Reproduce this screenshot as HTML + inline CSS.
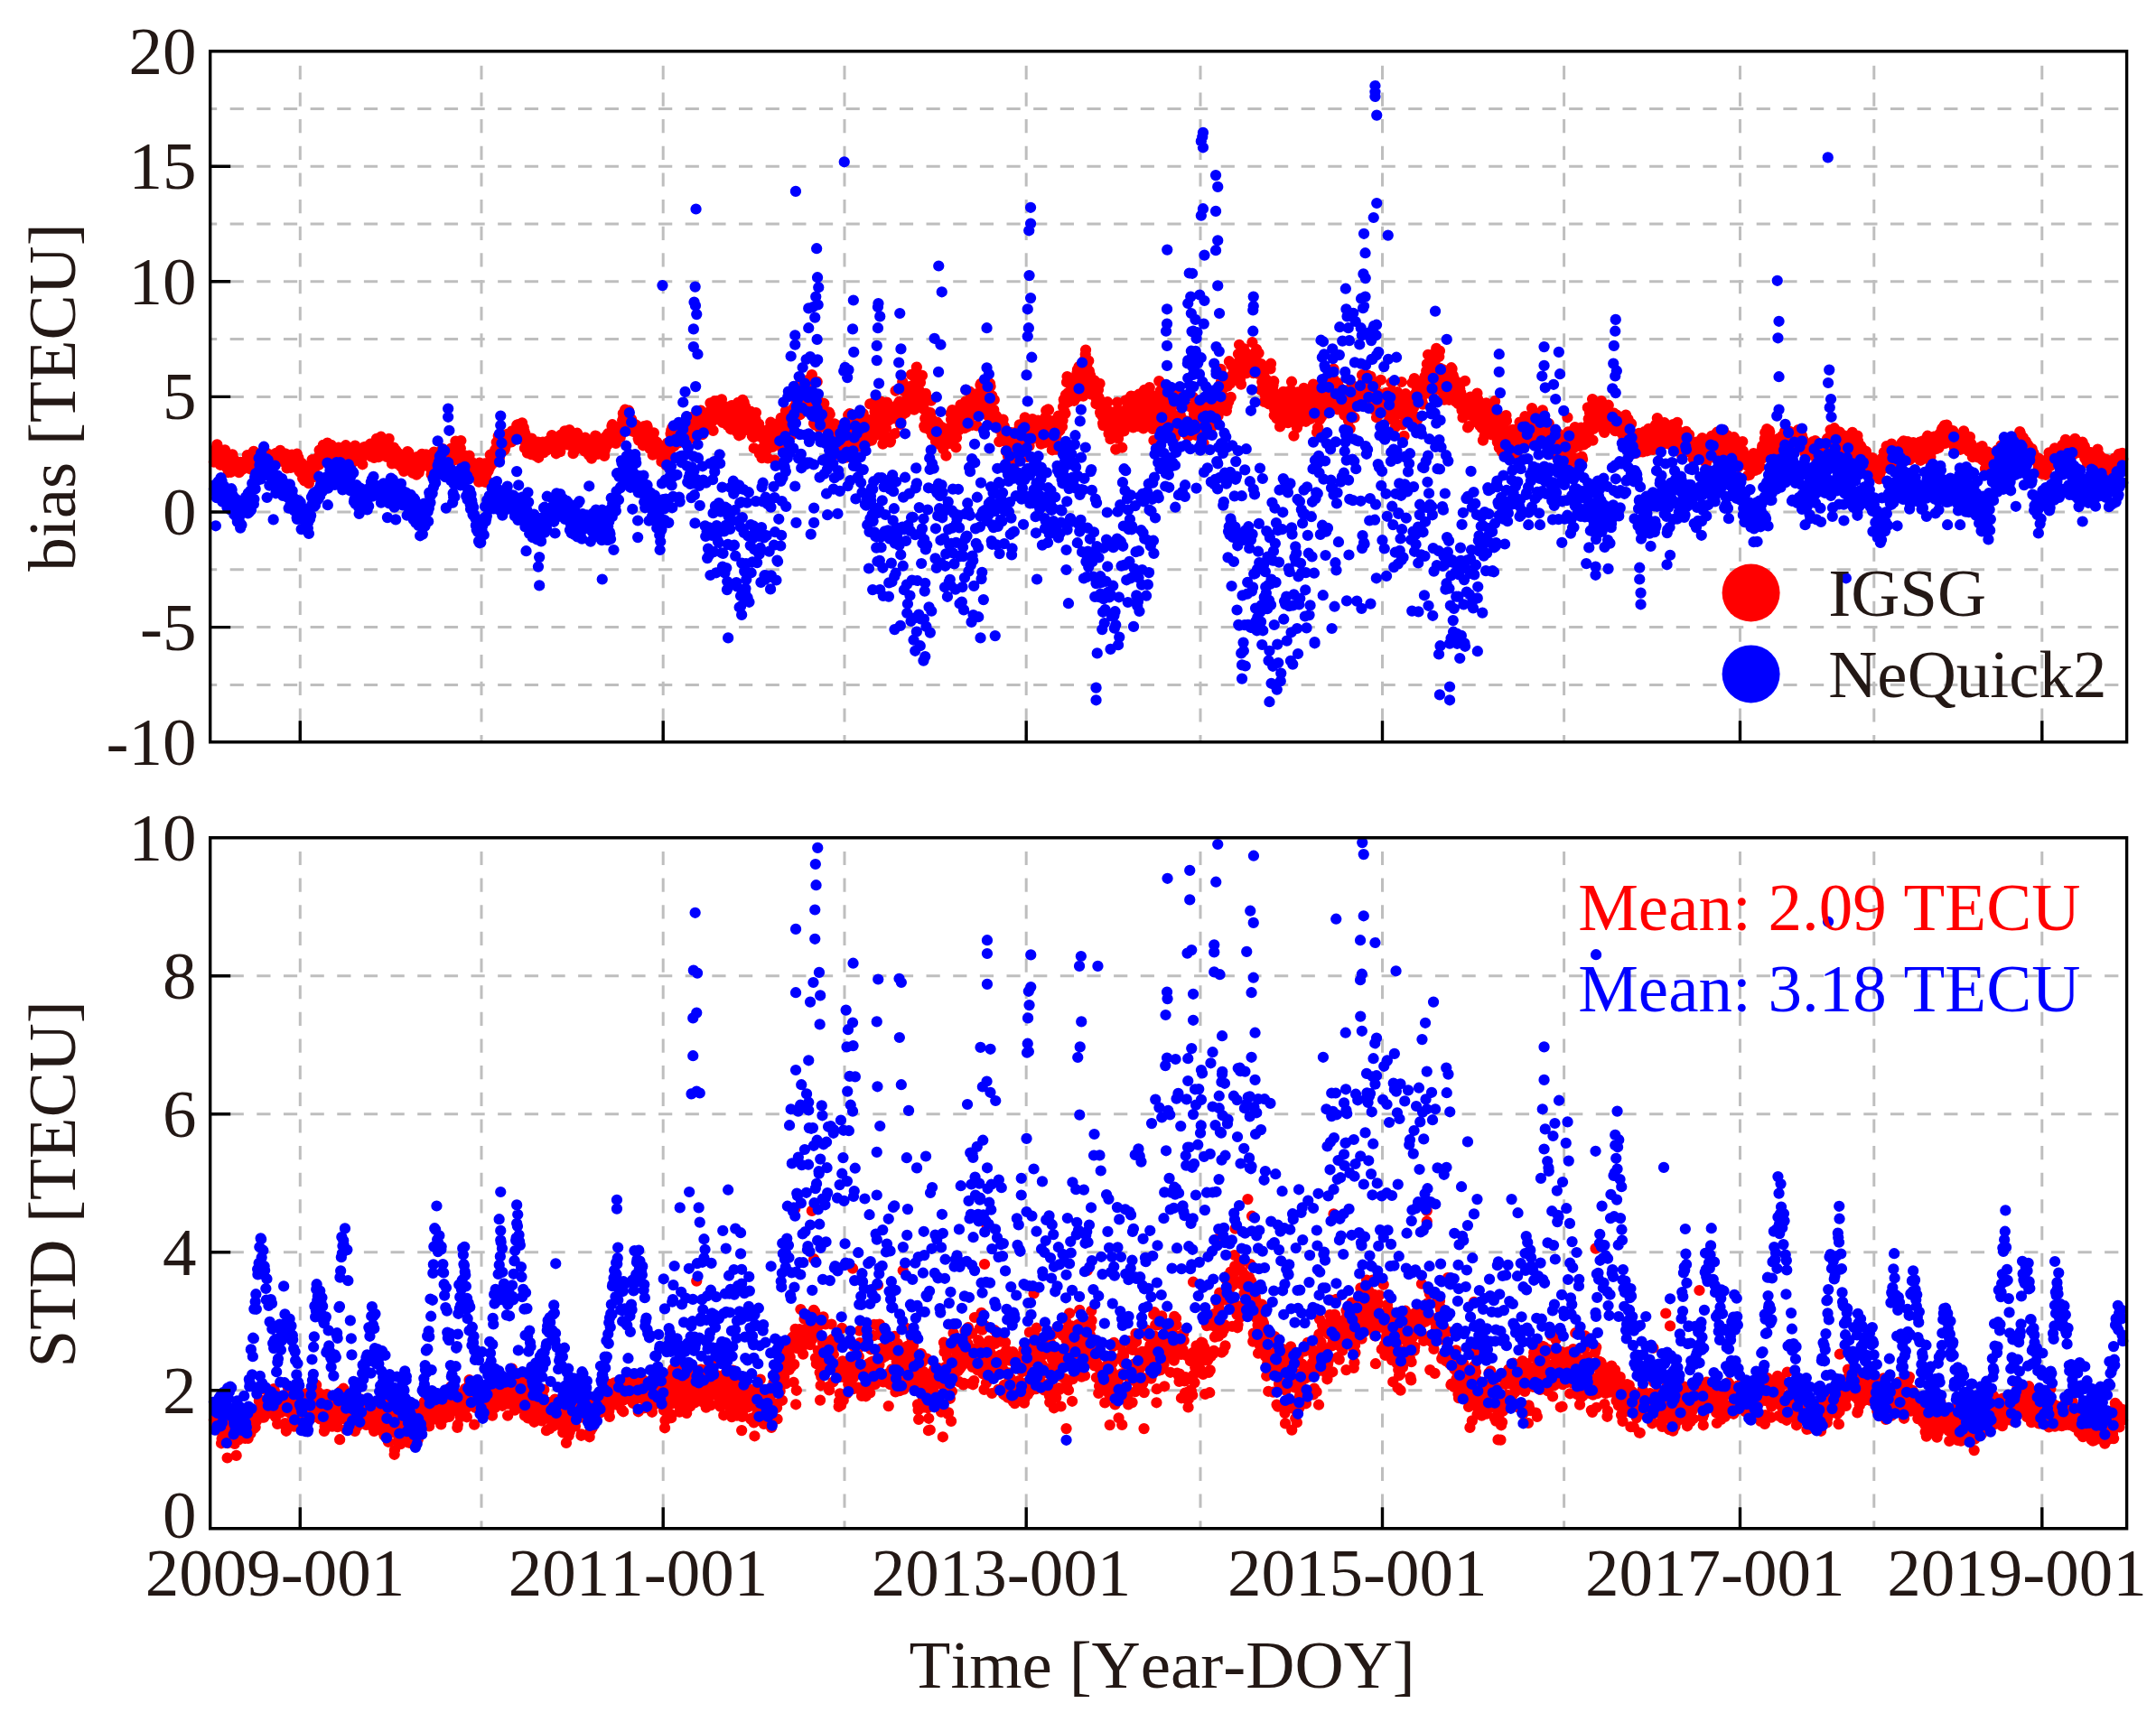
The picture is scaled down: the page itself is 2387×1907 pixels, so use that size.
<!DOCTYPE html>
<html lang="en"><head><meta charset="utf-8"><title>bias and STD time series</title>
<style>html,body{margin:0;padding:0;background:#fff}body{width:2387px;height:1907px;overflow:hidden}svg{display:block}text{font-kerning:none;font-family:"Liberation Serif",serif;font-size:75px;fill:#231815}.g{stroke:#bebebe;stroke-width:3;fill:none;stroke-dasharray:15.2 14.45}.a{stroke:#000;stroke-width:3.4;fill:none}.r{stroke:#f00;stroke-width:12.2;stroke-linecap:round;fill:none}.b{stroke:#00f;stroke-width:12.2;stroke-linecap:round;fill:none}</style></head><body>
<svg width="2387" height="1907" viewBox="0 0 2387 1907">
<rect width="2387" height="1907" fill="#fff"/>
<path class="g" d="M332.3 72.8V821.8M533.0 72.8V821.8M734.2 72.8V821.8M935.0 72.8V821.8M1136.2 72.8V821.8M1329.0 72.8V821.8M1530.5 72.8V821.8M1731.6 72.8V821.8M1926.5 72.8V821.8M2074.8 72.8V821.8M2260.8 72.8V821.8"/>
<path class="g" stroke-dashoffset="7.7" d="M232.7 120.4H2354.6M232.7 184.2H2354.6M232.7 248.0H2354.6M232.7 311.8H2354.6M232.7 375.6H2354.6M232.7 439.4H2354.6M232.7 503.2H2354.6M232.7 567.0H2354.6M232.7 630.8H2354.6M232.7 694.6H2354.6M232.7 758.4H2354.6"/>
<path class="r" d="M236.8 511.7h.1M237.3 505h.1M237.9 504.7h.1M238.4 508.7h.1M239 496.7h.1M239.6 502.3h.1M240.3 492.4h.1M240.8 509h.1M241.6 497.2h.1M241.9 502.6h.1M242.8 503.1h.1M243.1 506.3h.1M243.8 514.8h.1M244.5 504h.1M244.8 513.4h.1M245.8 502.4h.1M246.1 508h.1M246.9 509h.1M247.4 505.8h.1M247.9 501.6h.1M248.6 509.3h.1M249 498.4h.1M249.8 506.7h.1M250.3 517.1h.1M250.8 505.1h.1M251.6 504.3h.1M251.9 515.7h.1M252.8 523.1h.1M253.1 515.6h.1M253.8 519.1h.1M254.3 522h.1M254.8 517.5h.1M255.8 522.8h.1M256.2 511.3h.1M256.8 508.4h.1M257.3 503.3h.1M257.8 506.9h.1M258.6 508.1h.1M259.1 515.6h.1M259.8 513.4h.1M260.3 511.8h.1M260.8 512.7h.1M261.6 514.4h.1M262.1 517.8h.1M262.6 515.3h.1M263.1 515h.1M263.8 518.1h.1M264.6 523.2h.1M264.8 512.1h.1M265.8 514.5h.1M266.3 511.9h.1M266.9 516.9h.1M267.1 513.7h.1M267.8 520.3h.1M268.6 513h.1M269.1 514.4h.1M269.8 514.1h.1M270.2 516.7h.1M270.8 512.8h.1M271.3 511.6h.1M272.1 511.3h.1M272.6 517.4h.1M273.3 510.2h.1M273.8 504h.1M274.3 506.2h.1M275.1 516.2h.1M275.6 518.8h.1M276.2 516.8h.1M276.6 513.7h.1M277.3 504.3h.1M277.9 508.9h.1M278.6 520h.1M279.1 519.2h.1M279.8 514.7h.1M280.3 503.3h.1M280.8 499.8h.1M281.4 509.9h.1M281.9 515.9h.1M282.6 519.8h.1M283.3 508.4h.1M283.6 507.1h.1M284.2 518.9h.1M284.8 522h.1M285.4 519h.1M286.1 515.7h.1M286.8 512.2h.1M287.4 508.2h.1M287.8 513.7h.1M288.3 513.4h.1M289.1 514h.1M289.6 515.6h.1M290.3 510.8h.1M290.8 503.1h.1M291.4 506.4h.1M291.9 499h.1M292.4 504.8h.1M293.2 499.7h.1M293.6 501.2h.1M294.3 514.6h.1M295.1 511.7h.1M295.4 512.7h.1M295.9 502.2h.1M296.8 510.9h.1M297.4 510.1h.1M297.8 506.7h.1M298.3 506.5h.1M299.2 509.8h.1M299.8 509.8h.1M300.1 508.3h.1M300.8 509.6h.1M301.2 508.2h.1M302.1 510.7h.1M302.4 504h.1M303.3 503.1h.1M303.9 515.5h.1M304.3 503h.1M305.1 502.5h.1M305.6 501.8h.1M306.2 507.6h.1M306.8 505.9h.1M307.3 502.5h.1M307.8 503.2h.1M308.3 508.6h.1M309.1 506h.1M309.8 502.2h.1M310.2 498.8h.1M310.9 506.4h.1M311.2 505.1h.1M312.1 510.9h.1M312.6 505.4h.1M313.2 504.4h.1M313.6 507.9h.1M314.2 504.8h.1M315.1 505.8h.1M315.6 502.3h.1M316.1 511.5h.1M316.8 505.1h.1M317.3 503.1h.1M317.6 518.5h.1M318.6 508h.1M318.9 508.4h.1M319.6 508.7h.1M320.1 506h.1M320.6 507.7h.1M321.4 510h.1M321.8 517.9h.1M322.6 515.8h.1M323.1 503.5h.1M323.6 505.7h.1M324.2 507.3h.1M324.8 504.3h.1M325.4 515.5h.1M326.1 512.6h.1M326.6 503.5h.1M327.4 504.5h.1M327.8 511.9h.1M328.6 511h.1M328.8 502.7h.1M329.6 510.1h.1M330.3 506.7h.1M330.6 512.3h.1M331.3 522h.1M331.8 513.8h.1M332.6 523.3h.1M333.1 514.4h.1M333.6 512.6h.1M334.1 523.3h.1M335.1 529.8h.1M335.4 521.8h.1M335.9 530.1h.1M336.4 525.9h.1M337.2 532.5h.1M337.8 524.9h.1M338.6 527.4h.1M338.9 522.9h.1M339.8 516.8h.1M340.2 525.4h.1M340.6 528.3h.1M341.4 525.6h.1M341.8 535.2h.1M342.6 515.4h.1M343.1 519.2h.1M343.8 518.2h.1M344.1 521.1h.1M344.8 516.9h.1M345.6 509h.1M346.1 515.8h.1M346.6 517.5h.1M347.1 512.5h.1M347.8 520.4h.1M348.4 527.9h.1M348.9 514h.1M349.6 515.8h.1M350.1 513.2h.1M350.8 511.5h.1M351.3 512.7h.1M351.9 506.8h.1M352.3 507.7h.1M353.1 514.8h.1M353.6 498.6h.1M354.4 511.2h.1M354.8 501.2h.1M355.6 503.3h.1M355.8 500h.1M356.6 499.7h.1M357.3 499.2h.1M357.8 492.8h.1M358.2 496.3h.1M359.1 496.8h.1M359.6 495.3h.1M360.1 500.3h.1M360.6 494.7h.1M361.2 494.6h.1M361.8 497.9h.1M362.4 490.6h.1M362.9 493.1h.1M363.4 503.8h.1M364.1 509.6h.1M364.8 495.2h.1M365.6 495.7h.1M365.9 496.6h.1M366.6 492.8h.1M367.1 499.2h.1M367.9 503.3h.1M368.4 507.2h.1M368.8 512.5h.1M369.6 497.3h.1M370.1 496.3h.1M370.8 500.5h.1M371.1 497h.1M371.8 506.9h.1M372.6 510.4h.1M373.1 502.5h.1M373.6 499.5h.1M374.3 499.1h.1M374.8 495.6h.1M375.6 498.1h.1M375.9 500.2h.1M376.6 500.1h.1M377.2 514.6h.1M377.8 501.3h.1M378.2 505.4h.1M378.9 500.2h.1M379.6 500.3h.1M380.2 505h.1M380.8 503.3h.1M381.3 507.8h.1M381.8 495.9h.1M382.3 495.1h.1M382.8 493.2h.1M383.4 512.4h.1M384.1 502.5h.1M384.9 500.3h.1M385.2 513.1h.1M386.1 508h.1M386.3 513h.1M387.1 511.5h.1M387.6 509.7h.1M388.2 508.4h.1M388.8 509.3h.1M389.6 500.9h.1M390.2 497.8h.1M390.6 507.2h.1M391.2 511.4h.1M391.9 505.3h.1M392.3 504.7h.1M393.1 493.6h.1M393.6 502h.1M394.2 506.4h.1M394.6 506.1h.1M395.3 501.1h.1M396.1 509h.1M396.4 504.7h.1M396.9 504.7h.1M397.6 506.2h.1M398.2 501.5h.1M398.8 497.2h.1M399.4 497.6h.1M400.1 499.9h.1M400.6 506.9h.1M401.3 514.3h.1M401.8 500.4h.1M402.2 501.8h.1M403.1 495.1h.1M403.6 501.7h.1M404.1 494.8h.1M404.6 502.1h.1M405.2 501.8h.1M406.1 499.4h.1M406.4 499.4h.1M407.1 502.7h.1M407.8 495.6h.1M408.2 497.4h.1M408.9 500.8h.1M409.4 498.8h.1M409.9 491.7h.1M410.6 492.5h.1M411.1 505.7h.1M411.9 503.1h.1M412.4 491.5h.1M413.1 494.7h.1M413.6 499.2h.1M414.1 507h.1M414.8 498h.1M415.3 496h.1M415.8 493h.1M416.4 501.6h.1M416.9 485.9h.1M417.6 488.4h.1M418.2 500.9h.1M418.9 506.1h.1M419.6 497.9h.1M419.9 490.4h.1M420.6 491h.1M421.1 487.6h.1M421.8 483.7h.1M422.2 495.1h.1M422.9 493.2h.1M423.6 499.9h.1M424.2 486h.1M424.6 495.3h.1M425.2 504.6h.1M426.1 499.3h.1M426.6 489.2h.1M427.1 501.8h.1M427.6 498.1h.1M428.2 505.9h.1M428.8 498.5h.1M429.2 500.7h.1M430.1 501.7h.1M430.6 485.9h.1M431.1 501.4h.1M431.8 496.8h.1M432.3 503.2h.1M432.9 506.7h.1M433.6 507.3h.1M433.9 513.4h.1M434.6 502.9h.1M435.2 502.8h.1M435.9 495.5h.1M436.6 500.5h.1M437.1 497.9h.1M437.8 510.5h.1M438.3 498.9h.1M438.8 508.7h.1M439.4 507.7h.1M439.9 513.8h.1M440.6 512.4h.1M441.3 508.7h.1M441.6 502.4h.1M442.4 512.8h.1M442.9 506.7h.1M443.3 506.2h.1M444.2 517h.1M444.6 517.3h.1M445.2 507.8h.1M445.8 510.8h.1M446.4 510.3h.1M447.1 521.9h.1M447.6 506.2h.1M448.3 508.1h.1M448.9 512.6h.1M449.6 518.5h.1M449.8 514.1h.1M450.8 510.6h.1M451.2 500h.1M451.9 507.9h.1M452.4 501.2h.1M452.8 514.6h.1M453.6 510.7h.1M454.1 511.8h.1M454.6 511.9h.1M455.1 517.4h.1M455.8 514.5h.1M456.2 512.8h.1M456.9 523.8h.1M457.6 516.6h.1M458.2 513.6h.1M458.6 514.7h.1M459.6 517.4h.1M460.1 522.1h.1M460.4 520.6h.1M461.1 525.7h.1M461.6 516.2h.1M462.3 505.8h.1M463.1 514h.1M463.6 523.4h.1M463.9 510.2h.1M464.6 513.4h.1M465.3 518.5h.1M465.9 512.8h.1M466.4 503.9h.1M467.1 502.8h.1M467.8 514.1h.1M468.3 510.9h.1M468.6 503.4h.1M469.2 504.8h.1M469.8 511.3h.1M470.4 514.2h.1M471.2 509h.1M471.6 503.4h.1M472.3 513.9h.1M472.8 514.5h.1M473.4 514.5h.1M473.9 509.5h.1M474.4 514.5h.1M475.1 506.4h.1M475.8 513.8h.1M476.2 508.9h.1M476.8 519.1h.1M477.6 525.3h.1M478.1 517.3h.1M478.8 519.2h.1M479.4 517.4h.1M480.1 515.8h.1M480.3 500.7h.1M481.2 518.2h.1M481.8 515.9h.1M482.3 504.4h.1M482.8 502.3h.1M483.6 510.6h.1M483.9 511.6h.1M484.6 505.1h.1M485.2 510.8h.1M485.8 514.6h.1M486.3 500.6h.1M486.8 507.7h.1M487.6 508.8h.1M487.9 507.5h.1M488.8 506.5h.1M489.2 500.7h.1M489.9 497h.1M490.3 508.9h.1M491.2 507.5h.1M491.6 505.7h.1M492.3 511.9h.1M492.8 516.3h.1M493.4 517.3h.1M493.9 507.1h.1M494.8 509.3h.1M495.2 505.7h.1M495.9 513.8h.1M496.3 509.5h.1M497.1 505.3h.1M497.6 504.1h.1M498.1 508.3h.1M498.6 508.1h.1M499.4 496.5h.1M499.9 500.8h.1M500.3 504.6h.1M501.1 510.1h.1M501.6 505.6h.1M502.1 499.4h.1M502.8 507.7h.1M503.2 509.1h.1M503.9 496.2h.1M504.4 488.5h.1M505.2 490.7h.1M505.8 494.4h.1M506.4 494.9h.1M506.9 507.2h.1M507.6 503.8h.1M508.1 503.9h.1M508.6 505.3h.1M509.4 501.7h.1M509.8 496.6h.1M510.3 488h.1M511.1 503.6h.1M511.8 515.2h.1M512.4 513.4h.1M513 515.4h.1M513.6 516.9h.1M514.1 504.3h.1M514.8 505.8h.1M515.2 506h.1M515.6 509.5h.1M516.5 508.4h.1M516.9 512.1h.1M517.5 514.5h.1M518 506.7h.1M518.8 507.1h.1M519.5 504.6h.1M519.9 509h.1M520.6 513.7h.1M521.1 514.9h.1M521.6 514.8h.1M522.2 514h.1M523 516.7h.1M523.2 513.7h.1M524 512.9h.1M524.7 519.1h.1M525.1 525.7h.1M525.8 513.8h.1M526.2 516.3h.1M527 519h.1M527.7 519.8h.1M528.2 524.9h.1M528.7 514.5h.1M529.4 527h.1M530.1 533.7h.1M530.2 519h.1M530.9 512.7h.1M531.7 526.5h.1M532.1 524.9h.1M532.9 529.7h.1M533.5 513.9h.1M533.8 523.9h.1M534.6 519.7h.1M535.2 529.2h.1M535.6 523.7h.1M536.2 513.3h.1M536.8 515.5h.1M537.5 534h.1M537.9 529h.1M538.7 523.5h.1M539.2 523.4h.1M539.8 518.5h.1M540.5 521.5h.1M541.2 517.7h.1M541.5 518.9h.1M542.4 517h.1M542.7 503.7h.1M543.4 506h.1M544.1 503.1h.1M544.5 514.1h.1M545.2 505.7h.1M545.8 506h.1M546.2 506.7h.1M546.9 512.1h.1M547.4 510.4h.1M548.2 498h.1M548.6 505.5h.1M549.1 496.8h.1M549.7 489.7h.1M550.2 502.4h.1M551.1 491.5h.1M551.7 482.7h.1M552.2 498h.1M552.9 506.5h.1M553.4 492.3h.1M553.8 486.5h.1M554.4 486h.1M555.1 491.7h.1M555.9 481.8h.1M556.4 488.9h.1M556.7 495.4h.1M557.6 483.5h.1M557.9 498.6h.1M558.7 497.9h.1M559.4 495.1h.1M559.8 483.8h.1M560.4 482.4h.1M560.9 481h.1M561.6 484.7h.1M562.2 480.6h.1M562.9 486.6h.1M563.5 489.4h.1M563.8 484.2h.1M564.4 486.6h.1M565 479.7h.1M565.9 482.7h.1M566.2 489.5h.1M566.8 477.3h.1M567.5 487.6h.1M568.2 486.1h.1M568.6 483.1h.1M569.2 477.9h.1M569.9 482.5h.1M570.5 479.6h.1M571.1 477.9h.1M571.6 478.8h.1M572.2 470.7h.1M572.7 484.1h.1M573.5 470.1h.1M573.9 477.8h.1M574.6 482.6h.1M575.2 480.8h.1M575.7 485.9h.1M576.2 475.9h.1M576.9 477.6h.1M577.6 481.9h.1M578 468.3h.1M578.5 479.7h.1M579.2 487.2h.1M579.7 473.6h.1M580.4 477.6h.1M580.9 496.3h.1M581.4 480.2h.1M582.2 491.4h.1M582.7 489.6h.1M583.2 492.5h.1M583.9 501.7h.1M584.4 487.3h.1M585.2 501.6h.1M585.6 496.1h.1M586.4 499.3h.1M587 496.7h.1M587.4 497.5h.1M588.1 503.2h.1M588.6 485.5h.1M589 501.5h.1M589.7 499.3h.1M590.2 495.2h.1M591.1 497.1h.1M591.5 491.3h.1M592.1 493.2h.1M592.6 504.5h.1M593.4 493h.1M593.9 493.6h.1M594.4 491.7h.1M595.2 494.7h.1M595.6 489.6h.1M596.1 506.8h.1M596.7 498.1h.1M597.5 498.1h.1M598 501h.1M598.5 495.7h.1M599 497.7h.1M599.7 497.4h.1M600.2 491.8h.1M600.9 489.6h.1M601.4 492.4h.1M602.1 501.1h.1M602.7 495.3h.1M603.2 493.9h.1M603.9 491h.1M604.5 499.2h.1M605 498.3h.1M605.5 491.5h.1M606.1 494.2h.1M606.9 488.3h.1M607.5 489.9h.1M608.1 487.6h.1M608.7 496.6h.1M609.1 487.7h.1M609.7 493.2h.1M610.4 495.5h.1M610.9 482.1h.1M611.4 490.3h.1M612 482.8h.1M612.7 489.4h.1M613.2 498.1h.1M613.7 493.4h.1M614.4 494.5h.1M615 487.5h.1M615.7 502.3h.1M616.1 499.9h.1M616.6 490h.1M617.4 494.5h.1M618.1 494.1h.1M618.6 497.7h.1M619.1 492h.1M619.6 491h.1M620.2 500.1h.1M621 481.5h.1M621.6 488.8h.1M621.9 488.3h.1M622.6 487.2h.1M623.1 486.8h.1M623.7 486.3h.1M624.5 483.4h.1M625.2 477.3h.1M625.7 487.6h.1M626.2 484.2h.1M626.8 482.1h.1M627.4 490.3h.1M628 492.4h.1M628.6 490.9h.1M629.2 490.6h.1M629.6 492.5h.1M630.4 476h.1M630.9 491.3h.1M631.2 490.9h.1M632.1 487.8h.1M632.8 489.7h.1M633.2 480.2h.1M633.7 489.6h.1M634.5 502.2h.1M635 496.9h.1M635.7 499.8h.1M636 496.4h.1M636.8 492.5h.1M637.2 495.7h.1M637.9 490h.1M638.4 482.5h.1M639 479.7h.1M639.8 488.6h.1M640.2 493.8h.1M640.8 493.7h.1M641.2 492.2h.1M642 489.9h.1M642.5 493h.1M643.1 493.3h.1M643.8 496.3h.1M644.2 490.7h.1M644.8 493.3h.1M645.4 486.9h.1M646 488.4h.1M646.8 498.8h.1M647.4 499.7h.1M647.8 484.6h.1M648.4 494.9h.1M649.2 499.3h.1M649.8 498.7h.1M650.4 494.9h.1M650.8 500.9h.1M651.2 491.8h.1M652 503.9h.1M652.7 490.2h.1M653.2 490.1h.1M653.7 488.6h.1M654.2 493.6h.1M654.9 507.7h.1M655.7 492h.1M656.1 493.5h.1M656.6 500.2h.1M657.5 503.4h.1M657.9 490.2h.1M658.5 492.8h.1M659.1 482.6h.1M659.8 482.8h.1M660.2 485h.1M660.8 495h.1M661.5 489.6h.1M661.9 502.8h.1M662.5 495.9h.1M663.2 494.3h.1M663.6 496.8h.1M664.2 498.7h.1M665 493.7h.1M665.5 497.5h.1M666 502h.1M666.5 501.1h.1M667.1 487h.1M667.9 486.8h.1M668.4 497.6h.1M669.1 504.9h.1M669.7 498.5h.1M670.2 496.7h.1M670.7 483.5h.1M671.2 484h.1M672.1 483h.1M672.5 492.6h.1M673.1 480.2h.1M673.7 482.3h.1M674.2 482.6h.1M674.9 483h.1M675.4 486.9h.1M676.2 486.2h.1M676.8 482.3h.1M677.4 471.8h.1M677.9 470.2h.1M678.4 472.4h.1M679.1 483h.1M679.8 484.1h.1M680.2 485.2h.1M680.9 478.3h.1M681.2 485.5h.1M681.8 490.9h.1M682.4 483.9h.1M683.1 474.3h.1M683.6 483.1h.1M684.1 480.9h.1M684.9 482.6h.1M685.2 475.2h.1M686.2 477.6h.1M686.7 484.3h.1M687.1 476.6h.1M687.8 471h.1M688.2 470.8h.1M689.1 465.5h.1M689.8 457.8h.1M690.2 461.8h.1M690.8 473.2h.1M691.2 469h.1M692 453.7h.1M692.6 460h.1M693.1 475.1h.1M693.6 462h.1M694.2 462.6h.1M695 466.5h.1M695.6 460.8h.1M696 454.7h.1M696.6 474.9h.1M697.1 476.6h.1M697.8 465.2h.1M698.5 466.5h.1M699 464.2h.1M699.7 467h.1M700.2 470h.1M700.7 477.8h.1M701.2 473.1h.1M702 473.9h.1M702.6 471.9h.1M703.2 470h.1M703.8 471.6h.1M704.1 470.6h.1M704.9 474.9h.1M705.4 477.9h.1M706 476h.1M706.6 485.8h.1M707.2 487.6h.1M707.8 475.3h.1M708.2 476.8h.1M708.9 481.4h.1M709.7 481.3h.1M710.2 480.6h.1M710.9 482.2h.1M711.2 482.1h.1M711.9 493.3h.1M712.5 488.3h.1M713.1 472.1h.1M713.8 486.5h.1M714.2 487.7h.1M715 477.5h.1M715.4 483.9h.1M716.1 471.4h.1M716.6 472.8h.1M717.1 483.9h.1M717.7 479.8h.1M718.5 481.7h.1M718.9 486h.1M719.5 496.9h.1M720 486.4h.1M720.8 485.9h.1M721.4 494.5h.1M721.8 488.4h.1M722.6 503.7h.1M723.2 495.3h.1M723.8 479.3h.1M724.2 487.2h.1M725 501.2h.1M725.4 496.3h.1M726 492.5h.1M726.6 494.5h.1M727.1 489.5h.1M727.9 492.8h.1M728.5 497.3h.1M728.9 500.1h.1M729.6 499.8h.1M730.2 500.2h.1M730.7 499.6h.1M731.2 500.7h.1M731.9 505.9h.1M732.4 511.2h.1M733 510.6h.1M733.7 511.5h.1M734.1 511.9h.1M734.9 508.5h.1M735.2 502.7h.1M736 506.3h.1M736.5 505.5h.1M737.2 503.5h.1M737.6 515.2h.1M738.4 500.1h.1M738.8 490.5h.1M739.5 496.4h.1M740 504.6h.1M740.8 502.3h.1M741.4 505.3h.1M741.7 501.7h.1M742.5 480.2h.1M743.2 476.6h.1M743.8 491.6h.1M744.2 473.7h.1M744.9 491.4h.1M745.4 480.9h.1M746.1 494.2h.1M746.6 481.3h.1M747 488.2h.1M747.8 485.9h.1M748.4 475.9h.1M749 474.1h.1M749.4 487h.1M750.1 480.3h.1M750.6 475.8h.1M751.2 490.4h.1M751.9 488.4h.1M752.4 481.8h.1M753 476.4h.1M753.5 475.9h.1M754.1 479.8h.1M754.8 475.5h.1M755.2 472.9h.1M756 477.5h.1M756.4 475h.1M757.2 473.4h.1M757.7 487.1h.1M758.2 480.4h.1M759 484.1h.1M759.5 489.5h.1M760.2 478.2h.1M760.7 483.3h.1M761.2 479.3h.1M761.9 468.7h.1M762.6 479.5h.1M762.9 479.1h.1M763.6 477.7h.1M764.2 476.8h.1M764.7 485.5h.1M765.2 485.6h.1M766 462.2h.1M766.5 477.7h.1M767 469.7h.1M767.7 468.6h.1M768.4 465.9h.1M768.8 482h.1M769.6 479.1h.1M770.2 475.7h.1M770.8 471.5h.1M771.4 471h.1M771.9 469h.1M772.2 474.4h.1M772.8 466.2h.1M773.6 463.5h.1M774.1 456.4h.1M774.6 463.5h.1M775.4 464.2h.1M775.8 454.6h.1M776.4 465.1h.1M777.2 464.1h.1M777.6 481.2h.1M778.2 461.7h.1M778.7 465.1h.1M779.5 472.5h.1M780 468.6h.1M780.5 464.1h.1M781.2 472.5h.1M781.9 460.9h.1M782.4 472.1h.1M783 462.3h.1M783.4 459.2h.1M784.2 459.3h.1M784.6 471.4h.1M785.2 462.9h.1M785.7 463.4h.1M786.4 446.3h.1M786.9 454.1h.1M787.7 451.5h.1M788.2 466.9h.1M788.7 461.5h.1M789.5 476.9h.1M789.9 455.7h.1M790.5 455.2h.1M791.2 444.2h.1M791.9 450.8h.1M792.2 463.7h.1M793 458.2h.1M793.5 444.2h.1M794.2 456.9h.1M794.6 464.5h.1M795.2 459.5h.1M795.9 463.8h.1M796.4 455.3h.1M797 450.5h.1M797.7 461.4h.1M798.1 457.1h.1M798.9 442.3h.1M799.4 457.1h.1M800.1 467.9h.1M800.7 457.2h.1M801.1 450.3h.1M801.8 460.2h.1M802.2 458h.1M803 462.8h.1M803.6 458.5h.1M803.9 450.6h.1M804.7 467.7h.1M805.4 459.5h.1M805.7 471.2h.1M806.5 461.3h.1M807 454.3h.1M807.6 458.2h.1M808.2 454.6h.1M809 475.3h.1M809.2 474.8h.1M810 449h.1M810.5 459.1h.1M811.1 461.6h.1M811.9 454.7h.1M812.2 459.8h.1M812.9 464.4h.1M813.4 456.8h.1M814 458.5h.1M814.5 468.3h.1M815.2 471.1h.1M815.8 478.2h.1M816.2 467.3h.1M817.1 445.9h.1M817.5 465.9h.1M818.1 482.3h.1M818.8 472.6h.1M819.2 474.4h.1M819.9 481.4h.1M820.4 457.9h.1M821.2 461.8h.1M821.6 463.5h.1M822.2 442.8h.1M823 454.8h.1M823.6 445.5h.1M824.1 451.2h.1M824.6 451h.1M825.1 450.2h.1M825.8 458.8h.1M826.5 473.9h.1M827 462.5h.1M827.6 466.6h.1M828.2 461h.1M828.8 464h.1M829.2 456.6h.1M830 477.3h.1M830.7 463.7h.1M831 455.7h.1M831.9 473.4h.1M832.1 476.5h.1M832.8 483h.1M833.5 460.1h.1M834.1 484.2h.1M834.7 496.3h.1M835.1 473.2h.1M835.8 468.6h.1M836.5 464.4h.1M836.9 457.1h.1M837.5 474.3h.1M838 474.2h.1M838.6 482.7h.1M839.2 473.3h.1M840.1 469.5h.1M840.4 475.6h.1M840.9 502.4h.1M841.7 500.6h.1M842.1 501.9h.1M843 484.1h.1M843.5 507.1h.1M844.1 496.3h.1M844.7 503.2h.1M845.2 479.5h.1M845.9 480.2h.1M846.6 489.9h.1M846.8 477.1h.1M847.6 491.3h.1M848 487.6h.1M848.6 498.1h.1M849.2 497.8h.1M850 507.5h.1M850.5 481.7h.1M851.1 481.9h.1M851.7 478.5h.1M852.1 474.1h.1M852.7 481.5h.1M853.2 467.7h.1M854.2 491.4h.1M854.7 485.2h.1M855.2 495h.1M855.7 476.3h.1M856.2 473.8h.1M857.1 481.6h.1M857.6 509.5h.1M858.1 473.9h.1M858.8 469.7h.1M859.1 477.9h.1M859.9 481.2h.1M860.5 470h.1M860.9 485.2h.1M861.5 476.5h.1M862.2 483.9h.1M862.9 471.5h.1M863.4 493h.1M864.1 476.4h.1M864.7 462.8h.1M865.2 473.9h.1M865.7 494.8h.1M866.2 497.1h.1M867 480.8h.1M867.4 491.4h.1M868.2 476.8h.1M868.8 484.8h.1M869.4 468.6h.1M869.8 455h.1M870.4 470.6h.1M871.1 475h.1M871.8 459.4h.1M872.2 461.8h.1M872.7 466.4h.1M873.4 457.5h.1M874 456.7h.1M874.5 455.3h.1M875.2 461.5h.1M875.7 466.2h.1M876.2 481.9h.1M877 476.1h.1M877.6 466.6h.1M878.2 452.3h.1M878.7 455.4h.1M879.4 451.1h.1M879.9 462.9h.1M880.4 449h.1M880.9 442h.1M881.6 452.1h.1M882.2 452.5h.1M882.7 451.7h.1M883.2 446.6h.1M884 434.5h.1M884.6 437.6h.1M885.2 446.3h.1M885.6 459.3h.1M886.4 423.6h.1M886.8 430.8h.1M887.5 439.4h.1M888.2 453.8h.1M888.6 454.3h.1M889.2 454.6h.1M889.9 444.2h.1M890.5 434.5h.1M890.9 445.5h.1M891.6 444.8h.1M892.2 440.3h.1M892.7 433.8h.1M893.5 425.3h.1M893.8 421.1h.1M894.6 434h.1M895.1 438.7h.1M895.8 429.9h.1M896.2 426.7h.1M896.9 435h.1M897.4 438.3h.1M898 436.6h.1M898.8 415.1h.1M899.2 419.7h.1M899.9 452.3h.1M900.6 444.5h.1M901 468.9h.1M901.6 457.4h.1M902 469.9h.1M902.8 470.6h.1M903.2 444.4h.1M904.1 465h.1M904.6 422.7h.1M905.2 441.6h.1M905.6 453.2h.1M906.2 459.9h.1M907 473.4h.1M907.4 456.6h.1M907.9 457.9h.1M908.5 446.4h.1M909.1 465.2h.1M909.8 459.9h.1M910.4 449h.1M910.9 463.8h.1M911.5 451.7h.1M912.2 446.9h.1M912.6 455.2h.1M913.2 458.9h.1M914 464.8h.1M914.6 471.9h.1M915 457.5h.1M915.6 470.5h.1M916.2 476.4h.1M916.8 477.4h.1M917.4 486.1h.1M917.9 456.7h.1M918.7 458.8h.1M919.2 470.9h.1M919.7 491.6h.1M920.5 480.4h.1M921.1 485.5h.1M921.4 477.4h.1M922.1 494.9h.1M922.7 502.9h.1M923.5 476.5h.1M923.9 469.4h.1M924.4 488.1h.1M925.2 482.8h.1M925.8 503.3h.1M926.2 492.8h.1M926.9 471.1h.1M927.4 488.9h.1M928.2 496.8h.1M928.7 483.4h.1M929 500.2h.1M929.8 482.7h.1M930.2 481.5h.1M930.8 486.9h.1M931.5 498.9h.1M932 490.4h.1M932.6 486.8h.1M933.2 495.8h.1M934 507.1h.1M934.5 482.2h.1M935.1 502.9h.1M935.7 494.9h.1M936.2 486.6h.1M936.7 489.8h.1M937.5 485.9h.1M938.1 506.3h.1M938.6 499.3h.1M939.2 459.6h.1M939.7 483h.1M940.2 464.2h.1M940.8 458.1h.1M941.6 474.5h.1M942.1 491h.1M942.8 460.3h.1M943.2 476.4h.1M943.7 478.2h.1M944.4 478.5h.1M945 466.3h.1M945.6 485h.1M946.2 467.6h.1M946.8 471.1h.1M947.4 475.4h.1M947.8 477.3h.1M948.5 478.7h.1M949.2 484.7h.1M949.7 487.6h.1M950.2 493.3h.1M950.8 486.1h.1M951.5 494.1h.1M951.9 479h.1M952.6 469.3h.1M953.1 461.3h.1M953.8 462h.1M954.6 464.9h.1M955.1 473.6h.1M955.6 458.1h.1M956.2 471.1h.1M956.8 490.5h.1M957.4 482.9h.1M958 486.8h.1M958.5 481h.1M959.1 472h.1M959.8 464.3h.1M960.4 489.1h.1M960.9 486.5h.1M961.4 479h.1M962.1 472.2h.1M962.8 468.4h.1M963.2 447.4h.1M964 484.2h.1M964.2 481.6h.1M965 487.7h.1M965.7 476.2h.1M966.2 473.9h.1M966.8 471.9h.1M967.4 468.1h.1M967.8 445.9h.1M968.5 456.1h.1M969.2 459.5h.1M969.7 482h.1M970.4 481.8h.1M970.9 462.5h.1M971.6 469.7h.1M972.1 465.3h.1M972.5 450.3h.1M973.2 475.8h.1M974 458.6h.1M974.4 468.1h.1M975.1 451.6h.1M975.6 444.8h.1M976.1 464.6h.1M976.7 479.2h.1M977.4 491.6h.1M977.9 461.4h.1M978.6 479.1h.1M979.1 485.8h.1M979.5 471h.1M980.2 466.7h.1M980.9 474.1h.1M981.5 464.5h.1M981.9 445.6h.1M982.5 451.1h.1M983.2 450.6h.1M983.6 465.8h.1M984.2 459.8h.1M985.1 484.8h.1M985.4 489.7h.1M986 488.3h.1M986.9 462.8h.1M987.1 459.4h.1M987.8 451.8h.1M988.5 463.4h.1M989.2 450.7h.1M989.8 453.6h.1M990.1 455.3h.1M990.8 480.2h.1M991.5 432.8h.1M991.8 460.4h.1M992.5 450.3h.1M993.2 462.6h.1M993.8 454.5h.1M994.4 447h.1M995 446h.1M995.7 444.7h.1M996.1 448.2h.1M996.8 469.9h.1M997.2 467h.1M997.8 456.1h.1M998.6 455.3h.1M999.2 422.7h.1M999.5 456.4h.1M1000.1 458.4h.1M1000.7 433h.1M1001.2 453.1h.1M1002 452.9h.1M1002.6 457h.1M1003.1 428.4h.1M1003.7 445.1h.1M1004.2 452.9h.1M1005 439.1h.1M1005.6 447.6h.1M1006 441.1h.1M1006.7 450.9h.1M1007.1 429.4h.1M1007.8 438.6h.1M1008.2 427.9h.1M1008.9 414.9h.1M1009.6 434.2h.1M1010 415.3h.1M1010.7 428.5h.1M1011.5 449.9h.1M1012.1 453.7h.1M1012.4 438.6h.1M1013 418.6h.1M1013.6 431.2h.1M1014.4 429h.1M1014.8 406.6h.1M1015.5 417.8h.1M1015.9 438h.1M1016.8 439.4h.1M1017.1 439.8h.1M1017.9 445.1h.1M1018.2 433.2h.1M1018.9 423.6h.1M1019.5 441.4h.1M1020.2 438.9h.1M1020.9 415.9h.1M1021.5 452.5h.1M1021.9 439.2h.1M1022.4 448.1h.1M1023.2 471.8h.1M1023.8 473.6h.1M1024.2 463.3h.1M1024.8 435.8h.1M1025.5 456.7h.1M1026.2 468.1h.1M1026.7 461h.1M1027.2 441.7h.1M1027.8 470.5h.1M1028.2 456.5h.1M1028.9 469.5h.1M1029.4 476.2h.1M1030.2 457.2h.1M1030.8 443.6h.1M1031.4 463.7h.1M1032 481.4h.1M1032.4 468.9h.1M1033 482.5h.1M1033.7 470.9h.1M1034.2 475.7h.1M1035 477.4h.1M1035.2 480.6h.1M1036 489h.1M1036.7 483.5h.1M1037.2 469.8h.1M1037.5 467.7h.1M1038.2 469h.1M1039 469.7h.1M1039.5 473.1h.1M1040.2 492.2h.1M1040.5 474.4h.1M1041.2 488.3h.1M1042 486h.1M1042.5 482h.1M1042.9 473.2h.1M1043.5 486.3h.1M1044.2 497.2h.1M1044.8 495h.1M1045.4 490.4h.1M1046 479h.1M1046.7 480.4h.1M1047.4 504.7h.1M1047.7 474.8h.1M1048.4 485.6h.1M1049 478.5h.1M1049.7 480.3h.1M1050.2 481.5h.1M1050.5 484.7h.1M1051.2 490.8h.1M1052 475.1h.1M1052.5 457.7h.1M1053 464.6h.1M1053.7 481h.1M1054.2 454.1h.1M1054.8 457.7h.1M1055.4 473.4h.1M1056 485.8h.1M1056.7 469.7h.1M1057 472h.1M1057.7 480h.1M1058.4 495.5h.1M1059 484.6h.1M1059.5 469.8h.1M1060 458.3h.1M1060.5 470.6h.1M1061.4 476.5h.1M1061.8 457.5h.1M1062.5 452.1h.1M1063 457.9h.1M1063.5 448.3h.1M1064.2 474.2h.1M1064.7 459.4h.1M1065.2 472.8h.1M1066 457h.1M1066.5 452.4h.1M1067 462.9h.1M1067.8 474.1h.1M1068.5 469h.1M1069 444.5h.1M1069.4 431.9h.1M1070.2 458h.1M1070.8 472.8h.1M1071.2 447.1h.1M1072 467.3h.1M1072.5 455.9h.1M1073.2 462.5h.1M1073.5 433.7h.1M1074.2 435.6h.1M1074.8 451.4h.1M1075.4 459.2h.1M1076 454.4h.1M1076.4 470.8h.1M1077 439.2h.1M1077.9 454.5h.1M1078.4 443.5h.1M1078.8 440.8h.1M1079.4 449h.1M1080.2 440.1h.1M1080.5 436.3h.1M1081.4 471.4h.1M1081.7 438.8h.1M1082.5 439.1h.1M1083 448.3h.1M1083.5 449.5h.1M1084.2 440.8h.1M1084.7 437.9h.1M1085.4 426.3h.1M1086 424.8h.1M1086.7 428.7h.1M1087.2 450.3h.1M1087.8 434.6h.1M1088.2 450.8h.1M1089 454.5h.1M1089.5 454.4h.1M1090.2 444.2h.1M1090.5 446.6h.1M1091 444.8h.1M1091.7 447.1h.1M1092.5 432.4h.1M1093 446.5h.1M1093.5 453h.1M1094.2 461h.1M1094.8 445.2h.1M1095.4 439.3h.1M1096 424.7h.1M1096.5 427.9h.1M1097 441.5h.1M1097.5 451.3h.1M1098.2 438.4h.1M1098.7 457.3h.1M1099.5 453.7h.1M1100.2 453.9h.1M1100.7 442.9h.1M1101 458.3h.1M1101.8 469.2h.1M1102.5 473h.1M1103 460.9h.1M1103.4 462.3h.1M1104.2 473.8h.1M1104.8 472.1h.1M1105.2 468.1h.1M1106 475.2h.1M1106.2 489.1h.1M1107.2 469.3h.1M1107.5 467.2h.1M1108.2 473.3h.1M1109 487.6h.1M1109.5 482.3h.1M1110.2 472.2h.1M1110.5 464.6h.1M1111 481.9h.1M1111.7 472h.1M1112.5 484.7h.1M1113 488.8h.1M1113.7 499.7h.1M1114 489.4h.1M1114.8 500h.1M1115.4 501.3h.1M1116 505.3h.1M1116.5 511.1h.1M1117 482.4h.1M1117.5 485.4h.1M1118.4 505.2h.1M1118.8 500.8h.1M1119.2 489.6h.1M1119.9 479.1h.1M1120.5 504.7h.1M1121.2 507.1h.1M1121.8 504.2h.1M1122.2 494.2h.1M1122.8 514.7h.1M1123.5 494.5h.1M1124 487.5h.1M1124.8 481.3h.1M1125.4 484.3h.1M1125.9 498.3h.1M1126.5 488.3h.1M1127.2 482.3h.1M1127.7 504.8h.1M1128.2 475.1h.1M1128.7 470.4h.1M1129.5 488.8h.1M1129.8 479.6h.1M1130.8 496.2h.1M1131.2 478.3h.1M1131.5 478.8h.1M1132.2 492.9h.1M1132.8 494.7h.1M1133.5 475.7h.1M1134 474.5h.1M1134.7 462.3h.1M1135 470.8h.1M1135.8 485.6h.1M1136.5 495.1h.1M1136.9 479.7h.1M1137.5 506h.1M1138.2 474.8h.1M1138.8 475.3h.1M1139.5 494h.1M1140 482.2h.1M1140.7 477.3h.1M1141.2 487.2h.1M1141.8 482.7h.1M1142.2 483.8h.1M1143 464.1h.1M1143.5 481h.1M1144 472.4h.1M1144.7 474.8h.1M1145.2 466.5h.1M1146 475.3h.1M1146.5 479.7h.1M1146.9 477.1h.1M1147.5 477.8h.1M1148.2 476.7h.1M1148.8 480.9h.1M1149.2 465.5h.1M1149.9 466.4h.1M1150.7 470.2h.1M1151 487h.1M1151.9 484.1h.1M1152.5 491.6h.1M1152.8 477.1h.1M1153.5 469.9h.1M1154 470.8h.1M1154.5 468.7h.1M1155.2 470.4h.1M1155.9 490.5h.1M1156.2 488.4h.1M1156.9 464.7h.1M1157.5 461.8h.1M1158.2 454.7h.1M1158.8 474.2h.1M1159.2 475.5h.1M1160 469.5h.1M1160.5 453.4h.1M1161 454.1h.1M1161.5 465.7h.1M1162.4 475.7h.1M1163 479.4h.1M1163.5 489.5h.1M1164 487.7h.1M1164.8 498.3h.1M1165.2 498.3h.1M1165.7 484.8h.1M1166.2 466h.1M1166.9 482.4h.1M1167.5 468.4h.1M1168.2 481.2h.1M1168.8 483h.1M1169.2 484.3h.1M1169.9 497.7h.1M1170.4 470h.1M1170.9 462.8h.1M1171.8 460.6h.1M1172.2 477.6h.1M1173 465.6h.1M1173.4 476.5h.1M1174.2 473.1h.1M1174.8 465.5h.1M1175.2 470.7h.1M1175.9 472.5h.1M1176.5 465.5h.1M1177 450.5h.1M1177.7 442.5h.1M1178 444h.1M1178.5 455.7h.1M1179.4 458h.1M1179.9 437.3h.1M1180.4 446.5h.1M1181 423.2h.1M1181.5 417.1h.1M1182.2 435.2h.1M1183 441.6h.1M1183.5 444.6h.1M1183.9 423.5h.1M1184.5 443.8h.1M1185.2 434.2h.1M1185.9 430.7h.1M1186.5 423.8h.1M1187 428.5h.1M1187.5 432.7h.1M1188 430h.1M1188.7 439.8h.1M1189.2 443.8h.1M1190 421.1h.1M1190.5 426.1h.1M1191 429.5h.1M1191.7 440.2h.1M1192.4 413.1h.1M1192.9 409.2h.1M1193.2 417.5h.1M1193.8 423.3h.1M1194.5 406.1h.1M1195 428.5h.1M1195.7 423.9h.1M1196.5 431.9h.1M1196.9 427.6h.1M1197.5 424.9h.1M1198 433.5h.1M1198.7 424.4h.1M1199.2 438.7h.1M1199.7 399.7h.1M1200.2 412h.1M1201.2 403.1h.1M1201.7 392.6h.1M1202 387.5h.1M1202.9 414.9h.1M1203.5 402.9h.1M1204 400.9h.1M1204.4 421.7h.1M1205.2 399.5h.1M1205.8 410.8h.1M1206.2 413.2h.1M1207 415.5h.1M1207.5 431.3h.1M1208.2 436.6h.1M1208.5 432.2h.1M1209.2 420h.1M1210 433.2h.1M1210.4 425.8h.1M1211 424.3h.1M1211.5 421.3h.1M1212.2 424.4h.1M1212.7 434h.1M1213.4 447.3h.1M1214 442.8h.1M1214.7 435.1h.1M1215.2 433.1h.1M1215.9 431.7h.1M1216.4 440.1h.1M1216.9 444.1h.1M1217.5 424.9h.1M1218 456.7h.1M1218.5 458.3h.1M1219 444.2h.1M1219.9 457.7h.1M1220.5 461.1h.1M1221 468.8h.1M1221.4 471.1h.1M1222.2 468.5h.1M1222.7 461.4h.1M1223.2 456.3h.1M1224 452.9h.1M1224.7 451h.1M1225.2 458h.1M1225.5 466.2h.1M1226.2 445.2h.1M1227 462.1h.1M1227.5 480.3h.1M1227.9 471.5h.1M1228.7 474h.1M1229.4 486.2h.1M1229.7 480.7h.1M1230.4 477.7h.1M1230.9 478.7h.1M1231.5 461h.1M1232 475h.1M1232.8 465.4h.1M1233.2 456.4h.1M1233.9 481.6h.1M1234.5 483.4h.1M1235.2 497.6h.1M1235.5 472.5h.1M1236.2 474.2h.1M1237 445.5h.1M1237.4 453.9h.1M1238 485.6h.1M1238.7 468.5h.1M1239.2 472.9h.1M1239.8 467.8h.1M1240.5 455.8h.1M1240.9 457.7h.1M1241.4 470.1h.1M1242.2 495.7h.1M1242.8 458h.1M1243.2 472.7h.1M1244 468.9h.1M1244.4 477.5h.1M1244.9 463.1h.1M1245.8 459.7h.1M1246.2 443.3h.1M1246.9 460.8h.1M1247.4 471.3h.1M1247.9 451.7h.1M1248.5 445.7h.1M1249.2 466.7h.1M1249.7 468.3h.1M1250.5 464.1h.1M1251 465.3h.1M1251.5 460.7h.1M1252.2 438.5h.1M1252.7 458h.1M1253.4 443.2h.1M1253.8 468.5h.1M1254.5 473.5h.1M1255 446.5h.1M1255.5 448.4h.1M1256.2 457.5h.1M1256.7 446.6h.1M1257.4 438.8h.1M1257.9 460.9h.1M1258.4 471.3h.1M1259.2 450.6h.1M1259.9 472h.1M1260.5 471.8h.1M1260.9 436.7h.1M1261.4 467.7h.1M1262.2 444h.1M1262.8 452.8h.1M1263.2 450.2h.1M1264 445.4h.1M1264.4 452.6h.1M1265 462.8h.1M1265.8 474.4h.1M1266.4 444.9h.1M1267 431.9h.1M1267.2 443.8h.1M1267.8 466.6h.1M1268.7 471h.1M1269.2 468h.1M1269.8 455.1h.1M1270.4 463.2h.1M1271 466.7h.1M1271.5 454.6h.1M1272.2 440.6h.1M1272.7 429h.1M1273.4 436.6h.1M1273.9 469h.1M1274.5 459h.1M1275 461.9h.1M1275.5 446.4h.1M1276.2 474.9h.1M1276.9 448h.1M1277.4 487.8h.1M1277.9 444.8h.1M1278.5 445.9h.1M1279.2 466.3h.1M1279.9 455.6h.1M1280.2 452h.1M1281 459h.1M1281.5 450.5h.1M1282.2 458.8h.1M1282.8 437.2h.1M1283.2 422.1h.1M1283.9 455.8h.1M1284.5 433.1h.1M1285 437.7h.1M1285.4 468.3h.1M1286 476.2h.1M1286.8 434.3h.1M1287.2 439.1h.1M1287.9 455.9h.1M1288.5 441.1h.1M1289 444.3h.1M1289.9 433.8h.1M1290.2 437.1h.1M1290.8 453.9h.1M1291.5 457.3h.1M1292 461.5h.1M1292.8 454.5h.1M1293.4 458.2h.1M1293.9 448.4h.1M1294.2 453.4h.1M1294.9 462.1h.1M1295.5 459.9h.1M1296.2 464.7h.1M1296.7 454.2h.1M1297.2 462.6h.1M1298 475.5h.1M1298.4 449h.1M1299 459.3h.1M1299.8 470h.1M1300.2 439.8h.1M1301 483.7h.1M1301.5 462.4h.1M1302.2 468.8h.1M1302.5 473.8h.1M1303.2 436.1h.1M1303.8 438.5h.1M1304.4 461.4h.1M1305 447.2h.1M1305.7 471.6h.1M1306.2 465h.1M1306.8 459.9h.1M1307.4 467.5h.1M1308 465.4h.1M1308.5 465.2h.1M1309 467.2h.1M1309.5 448.2h.1M1310.2 450.3h.1M1310.9 478.7h.1M1311.5 466.3h.1M1312 478.9h.1M1312.5 466h.1M1313 468.8h.1M1313.8 467.3h.1M1314.2 481.8h.1M1315 473.4h.1M1315.5 483.1h.1M1316.2 470.3h.1M1316.7 438.3h.1M1317.2 470.6h.1M1317.9 468.4h.1M1318.2 450.8h.1M1319 465.8h.1M1319.8 477.4h.1M1320.2 474.6h.1M1320.8 439.8h.1M1321.5 466.1h.1M1321.9 457.9h.1M1322.7 477.5h.1M1323.2 464.4h.1M1323.8 481.8h.1M1324.2 476.3h.1M1325 460.2h.1M1325.5 455.7h.1M1326 447.9h.1M1326.8 452.5h.1M1327.2 456.6h.1M1328 475.1h.1M1328.2 467.9h.1M1329 458.4h.1M1329.5 478.6h.1M1330.2 494.1h.1M1330.9 482.6h.1M1331.2 482h.1M1332 476h.1M1332.5 490.8h.1M1333 471.9h.1M1333.7 468.7h.1M1334.5 448.2h.1M1335 477.8h.1M1335.5 471.1h.1M1336 470.6h.1M1336.7 446.7h.1M1337.4 455.8h.1M1337.9 452.2h.1M1338.5 442.9h.1M1338.9 434.8h.1M1339.5 442.6h.1M1340 468.9h.1M1340.7 459h.1M1341.2 443.6h.1M1342 472.1h.1M1342.7 462.8h.1M1343.2 447.3h.1M1343.8 453.4h.1M1344.2 468.3h.1M1344.9 451.4h.1M1345.5 456.8h.1M1346.2 449.9h.1M1346.5 448.4h.1M1347.2 457.1h.1M1347.9 446.1h.1M1348.5 460.7h.1M1348.9 438.3h.1M1349.7 446.7h.1M1350.2 448.5h.1M1350.9 431h.1M1351.5 408.9h.1M1351.8 423.3h.1M1352.5 432.5h.1M1353.2 415.5h.1M1353.9 420.8h.1M1354.2 419.1h.1M1355 427.9h.1M1355.2 441.1h.1M1355.9 439.9h.1M1356.5 423.1h.1M1357.4 428.1h.1M1357.8 454.9h.1M1358.5 450.1h.1M1359 427.6h.1M1359.5 422.5h.1M1360.2 445h.1M1360.9 400.2h.1M1361.2 421.4h.1M1362 424.7h.1M1362.7 439.9h.1M1363.2 404.7h.1M1363.7 403.2h.1M1364.2 415.3h.1M1365 421.5h.1M1365.5 418.6h.1M1365.9 410.7h.1M1366.7 404.3h.1M1367.2 408.2h.1M1367.8 409.6h.1M1368.4 419.2h.1M1369.2 405.7h.1M1369.5 414.3h.1M1370.2 402.1h.1M1370.9 392h.1M1371.2 416.3h.1M1372 381.8h.1M1372.5 399.4h.1M1372.9 420.4h.1M1373.8 399.5h.1M1374 425.6h.1M1375 395.9h.1M1375.5 401.8h.1M1376.2 407h.1M1376.5 388.4h.1M1377 386.2h.1M1377.5 388.8h.1M1378.4 405.6h.1M1379 403.9h.1M1379.7 391.1h.1M1380 413.3h.1M1380.7 396.5h.1M1381.2 409.9h.1M1381.9 412h.1M1382.5 393.7h.1M1383 392.9h.1M1383.5 395.4h.1M1384.2 400.1h.1M1384.9 397h.1M1385.2 405.9h.1M1386 401.6h.1M1386.4 379.2h.1M1387.2 399h.1M1387.7 413.2h.1M1388.2 394.5h.1M1388.8 404.3h.1M1389.5 395.6h.1M1390.2 390.6h.1M1390.5 395.3h.1M1391 386.9h.1M1392 410.9h.1M1392.2 403.9h.1M1393.2 413.9h.1M1393.5 391.1h.1M1394.2 405.7h.1M1394.5 412.5h.1M1395.4 411.1h.1M1396 432h.1M1396.5 403.2h.1M1397.2 423.1h.1M1397.9 429.5h.1M1398.2 427.2h.1M1398.8 411.8h.1M1399.5 444.9h.1M1400 417.9h.1M1400.5 437.1h.1M1401.2 430.3h.1M1401.8 428.9h.1M1402.4 432.5h.1M1403 446.1h.1M1403.5 421.5h.1M1404.4 432.5h.1M1405 447.4h.1M1405.2 440.1h.1M1405.9 441.7h.1M1406.5 408.4h.1M1407 402.7h.1M1407.9 426.9h.1M1408.4 438.5h.1M1409 429h.1M1409.5 426.5h.1M1410.2 422.2h.1M1410.7 460h.1M1411.2 454h.1M1411.9 459.8h.1M1412.5 446.2h.1M1413 456.4h.1M1413.5 463.5h.1M1414 457.2h.1M1414.9 437h.1M1415.5 453.6h.1M1416 456.6h.1M1416.7 459.7h.1M1417 472.4h.1M1417.8 466.8h.1M1418.2 459.7h.1M1419 446.1h.1M1419.4 447.6h.1M1420 455.1h.1M1420.7 433.9h.1M1421.2 468.1h.1M1421.8 441.4h.1M1422.5 434h.1M1423.2 445.6h.1M1423.7 444.5h.1M1424 446.4h.1M1424.7 443.6h.1M1425.2 454.2h.1M1426 468.2h.1M1426.5 459.6h.1M1427 451.2h.1M1427.5 446.8h.1M1428.4 462.2h.1M1429 432h.1M1429.4 441.9h.1M1430 422.7h.1M1430.7 451h.1M1431.2 441.1h.1M1431.7 457.4h.1M1432.4 482.7h.1M1432.9 463.5h.1M1433.5 458.8h.1M1434.2 449.7h.1M1434.7 454.7h.1M1435.2 460.1h.1M1435.9 473.7h.1M1436.5 434.4h.1M1437 441h.1M1437.5 456.7h.1M1438.4 441.8h.1M1438.9 467.8h.1M1439.2 443.5h.1M1440 454.9h.1M1440.5 449.6h.1M1441.2 458.7h.1M1441.5 460.1h.1M1442.4 438.9h.1M1442.9 442.4h.1M1443.5 429.8h.1M1444.2 460.6h.1M1444.5 451.5h.1M1445.2 459.9h.1M1445.8 466.8h.1M1446.5 460.6h.1M1447 434.5h.1M1447.7 464.2h.1M1448.2 449.4h.1M1448.7 459h.1M1449.4 436.3h.1M1450 453.3h.1M1450.5 447.6h.1M1451.2 463.8h.1M1451.9 455.5h.1M1452.2 434.2h.1M1453 434.5h.1M1453.7 433.3h.1M1454 425.6h.1M1454.5 454.6h.1M1455.2 438.7h.1M1455.8 433.4h.1M1456.2 447.9h.1M1457 444.4h.1M1457.8 449.5h.1M1458 478.7h.1M1458.9 473.6h.1M1459.2 473.7h.1M1459.9 436.9h.1M1460.7 462.9h.1M1461 464.6h.1M1461.7 463.4h.1M1462.4 444.8h.1M1462.9 461.7h.1M1463.7 432h.1M1464 447.7h.1M1464.9 432.3h.1M1465.2 450.1h.1M1466 457.6h.1M1466.4 450.1h.1M1467 424.7h.1M1467.7 419.7h.1M1468.2 437.6h.1M1468.8 430.7h.1M1469.2 440.4h.1M1470 443.8h.1M1470.4 457.5h.1M1471 444.6h.1M1471.5 444.4h.1M1472.2 425.5h.1M1473 422.7h.1M1473.5 427.6h.1M1474 430.8h.1M1474.5 452.5h.1M1475.2 428.9h.1M1476 435.4h.1M1476.5 408.5h.1M1476.9 420.6h.1M1477.5 444h.1M1478.2 435.3h.1M1478.9 428.5h.1M1479.5 444.8h.1M1479.9 446.9h.1M1480.4 453.3h.1M1481 424.2h.1M1481.5 430.9h.1M1482.4 444.2h.1M1483 429.4h.1M1483.5 445.3h.1M1483.9 453.6h.1M1484.5 448.7h.1M1485.2 446.4h.1M1485.8 448.3h.1M1486.5 447.4h.1M1487 453.3h.1M1487.5 453.8h.1M1488.4 459.7h.1M1488.8 432.9h.1M1489.4 449.6h.1M1490 452.1h.1M1490.5 460.4h.1M1491 445.7h.1M1491.5 437h.1M1492.2 459.8h.1M1493 465.9h.1M1493.5 457.5h.1M1493.9 463.5h.1M1494.7 474.6h.1M1495.4 454h.1M1495.9 441.7h.1M1496.4 427h.1M1497 426.5h.1M1497.5 437.9h.1M1498 451.4h.1M1498.9 449.9h.1M1499.4 462.5h.1M1500 438.1h.1M1500.5 437.9h.1M1501 438.1h.1M1501.5 436.5h.1M1502.2 440.5h.1M1502.7 450.2h.1M1503.4 438.6h.1M1504.2 429.7h.1M1504.5 429h.1M1505.4 437.2h.1M1505.8 441.1h.1M1506.5 436.3h.1M1507 431.6h.1M1507.5 431.8h.1M1508 415.2h.1M1508.8 423.1h.1M1509.2 432h.1M1509.8 433.3h.1M1510.4 432.2h.1M1511.2 442.1h.1M1511.5 423.9h.1M1512.2 433h.1M1512.9 442.7h.1M1513.5 448.6h.1M1513.9 450.7h.1M1514.5 415.7h.1M1515 426.5h.1M1515.8 447.1h.1M1516.2 430.2h.1M1516.9 434.3h.1M1517.5 416.9h.1M1518.2 421.4h.1M1518.9 422h.1M1519.2 447.7h.1M1520 446.9h.1M1520.5 453.3h.1M1521 436.9h.1M1521.7 453.7h.1M1522.2 438.7h.1M1523 426.6h.1M1523.4 448h.1M1524 462.3h.1M1524.5 456.1h.1M1525.2 460.5h.1M1525.8 435.5h.1M1526.4 443.4h.1M1527 447.9h.1M1527.5 441h.1M1528 449.3h.1M1528.7 420.8h.1M1529.2 456.6h.1M1529.8 449.1h.1M1530.5 450.6h.1M1530.9 448.8h.1M1531.5 443.9h.1M1532 445.8h.1M1532.8 454.6h.1M1533.2 456h.1M1533.9 453.6h.1M1534.4 440.5h.1M1535.2 434.9h.1M1535.5 441h.1M1536.5 442.6h.1M1536.8 450.6h.1M1537.5 481.8h.1M1538.2 464.1h.1M1538.5 455.5h.1M1539.2 459.6h.1M1539.8 451.4h.1M1540.4 423.7h.1M1541 433h.1M1541.5 442.3h.1M1542 438.2h.1M1542.8 452.5h.1M1543.5 464.6h.1M1543.8 462h.1M1544.5 473.3h.1M1545 456.8h.1M1545.5 447.3h.1M1546.2 447.8h.1M1547 434.1h.1M1547.4 439.2h.1M1548.2 448.8h.1M1548.7 446.6h.1M1549.4 444.2h.1M1550 454.7h.1M1550.5 458.3h.1M1551 455.5h.1M1551.7 423h.1M1552 452.8h.1M1552.8 470.2h.1M1553.5 455.7h.1M1554 442.1h.1M1554.5 482.9h.1M1555 452.1h.1M1555.7 443.3h.1M1556.2 436.2h.1M1556.8 454.6h.1M1557.4 466.4h.1M1558 454.9h.1M1558.5 444.2h.1M1559.2 444.1h.1M1560 459.3h.1M1560.2 447.2h.1M1561.2 454.3h.1M1561.7 463.1h.1M1562.2 444.2h.1M1562.8 443.8h.1M1563.5 424h.1M1564 458.9h.1M1564.5 459.1h.1M1565 451.2h.1M1565.8 419.1h.1M1566.2 440.3h.1M1566.9 444h.1M1567.2 435.7h.1M1568 438.8h.1M1568.8 430.2h.1M1569.2 464.7h.1M1569.9 436.9h.1M1570.4 426.9h.1M1571 441.7h.1M1571.5 440h.1M1572.2 445.1h.1M1572.7 436.8h.1M1573.2 436h.1M1573.8 442.7h.1M1574.5 445.4h.1M1575.2 447.6h.1M1575.5 432.4h.1M1576 429.9h.1M1576.8 420.4h.1M1577.5 416.8h.1M1578 435.9h.1M1578.5 425.5h.1M1579.2 410.8h.1M1579.8 403.1h.1M1580.2 410.1h.1M1581 392.8h.1M1581.5 401.9h.1M1582 418.5h.1M1582.7 425.5h.1M1583.5 404h.1M1583.9 425.8h.1M1584.2 418.6h.1M1585 436.8h.1M1585.5 415h.1M1586 415.6h.1M1586.7 411.7h.1M1587.5 392.4h.1M1588.2 421.2h.1M1588.8 399.1h.1M1589.2 420.2h.1M1589.5 410h.1M1590.2 385.9h.1M1590.9 393.2h.1M1591.4 413.8h.1M1592 425.2h.1M1592.5 412.2h.1M1593.2 394.9h.1M1593.9 388.5h.1M1594.5 407.9h.1M1595.2 416.4h.1M1595.5 424.9h.1M1596 432.9h.1M1597 409.1h.1M1597.4 430.5h.1M1598 413.2h.1M1598.5 437.7h.1M1599 442.6h.1M1599.7 416.2h.1M1600.2 411h.1M1601 420.7h.1M1601.5 422.4h.1M1602 413.8h.1M1602.8 436.1h.1M1603.2 438.3h.1M1603.7 412.6h.1M1604.4 442.8h.1M1605 439.3h.1M1605.5 437.3h.1M1606 416.3h.1M1606.8 407.2h.1M1607.5 408.4h.1M1608 422.8h.1M1608.7 415.8h.1M1609 425.1h.1M1609.7 419.1h.1M1610.5 421.3h.1M1610.7 424.6h.1M1611.5 433.1h.1M1612.2 445.2h.1M1612.7 436.8h.1M1613.2 439.1h.1M1613.9 438.8h.1M1614.5 447.2h.1M1614.9 423.8h.1M1615.5 434.7h.1M1616.2 430.2h.1M1616.8 441h.1M1617.2 434.8h.1M1618 450.7h.1M1618.5 454.3h.1M1619.2 453.2h.1M1619.5 462.4h.1M1620.2 445.3h.1M1621 451.1h.1M1621.5 443.8h.1M1621.9 421.9h.1M1622.8 452.1h.1M1623 445.7h.1M1623.7 453h.1M1624.2 454.3h.1M1625 473.5h.1M1625.5 472.6h.1M1626 472.2h.1M1626.9 459.6h.1M1627.5 443.6h.1M1627.8 439.6h.1M1628.5 456h.1M1629.2 453.8h.1M1629.8 448.1h.1M1630.2 441h.1M1631 448.9h.1M1631.2 440h.1M1632 451.3h.1M1632.5 459.6h.1M1633.2 467h.1M1633.9 459.6h.1M1634.2 447.8h.1M1634.8 451.6h.1M1635.4 435.5h.1M1636 441.7h.1M1636.5 460h.1M1637.4 444.5h.1M1637.9 455.3h.1M1638.2 471.1h.1M1639.2 466.4h.1M1639.7 462h.1M1640 451.7h.1M1640.8 474.3h.1M1641.5 463.3h.1M1641.9 487.6h.1M1642.7 472.9h.1M1643 476h.1M1643.5 482.7h.1M1644.5 465.1h.1M1644.8 457h.1M1645.4 446.3h.1M1646 454h.1M1646.7 450.1h.1M1647.5 464.4h.1M1648 458.6h.1M1648.2 462.3h.1M1649 465h.1M1649.5 455.7h.1M1650.2 462.4h.1M1650.9 466h.1M1651.5 481.5h.1M1652.2 473.6h.1M1652.7 474.4h.1M1653 472h.1M1653.5 460.9h.1M1654.5 468.6h.1M1655 444.2h.1M1655.4 468.5h.1M1656 473.4h.1M1656.8 469.7h.1M1657.4 464.5h.1M1657.8 489.6h.1M1658.2 471.6h.1M1659 484.2h.1M1659.8 496h.1M1660.2 482.2h.1M1660.8 471.2h.1M1661.5 462.7h.1M1662 487.3h.1M1662.7 500.1h.1M1663.2 479.2h.1M1663.7 490.7h.1M1664.5 496h.1M1664.9 473.9h.1M1665.7 488.9h.1M1666 489.9h.1M1666.8 466.6h.1M1667.4 460h.1M1667.9 465.9h.1M1668.5 480.4h.1M1669 480.6h.1M1669.8 480.8h.1M1670.2 484.1h.1M1670.8 482.9h.1M1671.2 505.6h.1M1671.9 493.6h.1M1672.5 480.3h.1M1673 489.4h.1M1673.9 502.3h.1M1674.2 503.1h.1M1674.9 475.8h.1M1675.5 489.4h.1M1676.2 482.3h.1M1676.8 479.2h.1M1677.2 482.1h.1M1677.9 479.7h.1M1678.2 486.7h.1M1679 502.1h.1M1679.5 491.6h.1M1680 499.9h.1M1680.7 493.7h.1M1681.2 478h.1M1681.9 480h.1M1682.5 467.5h.1M1683.2 484.4h.1M1683.7 479.8h.1M1684.4 486.3h.1M1684.8 489.3h.1M1685.5 493.8h.1M1685.9 484.7h.1M1686.5 480.4h.1M1687.4 481.4h.1M1688 470.8h.1M1688.4 461.1h.1M1688.9 463.3h.1M1689.5 476.2h.1M1690.2 468.9h.1M1690.8 462.1h.1M1691.4 490.6h.1M1691.8 476.6h.1M1692.7 479.8h.1M1693.2 476h.1M1693.5 481.9h.1M1694 464.1h.1M1694.8 466h.1M1695.5 471.9h.1M1696 452.1h.1M1696.8 469.8h.1M1697.2 461.6h.1M1697.7 467.9h.1M1698.4 469.5h.1M1698.9 459.7h.1M1699.4 477.5h.1M1700.2 470.2h.1M1700.7 471.7h.1M1701.4 478.5h.1M1702 484.7h.1M1702.4 480.5h.1M1703 469.7h.1M1703.8 474.5h.1M1704.2 479.8h.1M1704.8 486.5h.1M1705.5 482.5h.1M1705.9 469.7h.1M1706.5 474.8h.1M1707.2 463.4h.1M1707.8 454.3h.1M1708.2 465h.1M1709 473.3h.1M1709.5 480.6h.1M1710.2 477.1h.1M1710.8 472h.1M1711.4 475.3h.1M1711.9 482.5h.1M1712.5 489.5h.1M1713 491.5h.1M1713.8 478.1h.1M1714.2 471.2h.1M1714.7 469.1h.1M1715.2 493h.1M1716.2 495.2h.1M1716.4 474.8h.1M1717.2 485.2h.1M1717.8 481.6h.1M1718.2 478.5h.1M1719 502.9h.1M1719.7 491h.1M1720 489.5h.1M1720.5 475.8h.1M1721.2 488.2h.1M1721.8 503.5h.1M1722.5 484.3h.1M1723.2 484.1h.1M1723.5 485.6h.1M1724 479.4h.1M1725 480h.1M1725.2 496.8h.1M1725.9 493.9h.1M1726.7 487.6h.1M1727.2 489.3h.1M1727.7 492.5h.1M1728.2 494.4h.1M1728.8 490.7h.1M1729.4 501.2h.1M1730 492.6h.1M1730.5 484h.1M1731.4 490.3h.1M1732 489.1h.1M1732.4 489.4h.1M1732.9 489.4h.1M1733.7 496.7h.1M1734.2 507.7h.1M1734.8 482.9h.1M1735.4 462.3h.1M1736 478.3h.1M1736.5 498.5h.1M1737.2 511.7h.1M1737.8 498.1h.1M1738.4 481.6h.1M1738.8 503.3h.1M1739.5 493.8h.1M1740 477.6h.1M1740.5 482.9h.1M1741.2 489.2h.1M1741.8 488.1h.1M1742.4 476.4h.1M1742.9 495.8h.1M1743.7 473.1h.1M1744.2 485.1h.1M1744.9 483.4h.1M1745.2 511.6h.1M1746 486.4h.1M1746.5 507.5h.1M1747.2 516.1h.1M1747.7 487.7h.1M1748.2 484.7h.1M1748.8 493.8h.1M1749.4 489.8h.1M1750.2 476.4h.1M1750.5 473.5h.1M1751.4 505.7h.1M1752 508.5h.1M1752.5 486.8h.1M1753.2 489.8h.1M1753.5 492.4h.1M1754.2 477.2h.1M1754.9 474.4h.1M1755.4 475.8h.1M1756 475.1h.1M1756.4 490.5h.1M1757 478.4h.1M1757.8 451.3h.1M1758.4 470.4h.1M1758.7 463.9h.1M1759.5 473h.1M1760 457h.1M1760.7 485.9h.1M1761.2 474.2h.1M1761.7 471.4h.1M1762.2 467.8h.1M1763 442.1h.1M1763.4 487.6h.1M1764.2 475h.1M1764.9 464.4h.1M1765.2 451.6h.1M1765.9 452.7h.1M1766.5 460.4h.1M1767.2 450.1h.1M1767.7 457.5h.1M1768.2 472.7h.1M1768.9 456.8h.1M1769.5 461.9h.1M1770.2 447h.1M1770.5 452.2h.1M1771.2 454.7h.1M1771.9 446.2h.1M1772.5 460.2h.1M1772.9 444.1h.1M1773.5 448h.1M1774 459.8h.1M1774.7 466h.1M1775.2 463.4h.1M1775.7 457h.1M1776.2 479h.1M1776.9 472h.1M1777.5 475.7h.1M1778.2 451.4h.1M1778.7 467.8h.1M1779.5 453h.1M1780 460.5h.1M1780.7 448.7h.1M1781.2 464h.1M1781.9 468.2h.1M1782.5 467.9h.1M1782.9 469.6h.1M1783.5 469.1h.1M1784.2 461.1h.1M1784.7 473.6h.1M1785.2 470.4h.1M1785.9 467.8h.1M1786.4 463.9h.1M1787 457.7h.1M1787.7 471.6h.1M1788.2 477.2h.1M1788.7 475.3h.1M1789.4 468.7h.1M1789.9 459.6h.1M1790.5 476.5h.1M1791 471.2h.1M1791.8 472.5h.1M1792.4 470.8h.1M1793 467.4h.1M1793.7 472.9h.1M1794.2 464.6h.1M1794.5 468h.1M1795.2 475.7h.1M1796 480.5h.1M1796.4 463.3h.1M1796.9 465.4h.1M1797.7 485.4h.1M1798.4 484.9h.1M1799 480.5h.1M1799.4 469.9h.1M1800 459.5h.1M1800.5 475.5h.1M1801 493.7h.1M1801.9 487.4h.1M1802.4 464.1h.1M1803 471.3h.1M1803.5 475.3h.1M1804 475.5h.1M1804.5 471.6h.1M1805.4 480.5h.1M1806 469.2h.1M1806.4 488.7h.1M1807 484.9h.1M1807.5 492.9h.1M1808.2 481.1h.1M1808.7 502.1h.1M1809.5 493.3h.1M1810 495.9h.1M1810.5 498.5h.1M1811 502h.1M1811.8 485.3h.1M1812.2 493.7h.1M1812.8 494.1h.1M1813.5 487.1h.1M1814 485.1h.1M1814.7 479.8h.1M1815.2 485h.1M1815.9 492.4h.1M1816.2 500.2h.1M1816.9 480.7h.1M1817.5 489.7h.1M1818 479.9h.1M1818.8 500.5h.1M1819.4 483.4h.1M1820 484.7h.1M1820.4 478.2h.1M1821 489h.1M1821.5 491.2h.1M1822.2 493.1h.1M1822.7 489.3h.1M1823.5 499.3h.1M1823.9 487.9h.1M1824.5 485.9h.1M1825.2 474.9h.1M1825.8 487.3h.1M1826.4 481.2h.1M1827 481.8h.1M1827.7 489.4h.1M1828.2 492.8h.1M1828.8 475h.1M1829.2 495.6h.1M1830 497.9h.1M1830.4 494.8h.1M1831 478.4h.1M1831.5 481.7h.1M1832.4 495.3h.1M1832.9 470.5h.1M1833.4 483.9h.1M1833.9 471.3h.1M1834.8 463.1h.1M1835.2 466.4h.1M1835.9 479.4h.1M1836.4 490.3h.1M1837 476.7h.1M1837.5 481.5h.1M1838 481.1h.1M1838.8 492.3h.1M1839.4 471.5h.1M1839.8 471.3h.1M1840.5 472.9h.1M1841 492.3h.1M1841.5 475.3h.1M1842.4 468.2h.1M1842.8 468.2h.1M1843.5 475.1h.1M1844 472h.1M1844.5 476.4h.1M1845.2 482.4h.1M1845.7 479.1h.1M1846.5 485.4h.1M1846.8 487.6h.1M1847.5 473.6h.1M1848 491.8h.1M1848.8 482.8h.1M1849.2 474.6h.1M1849.7 473.1h.1M1850.4 476.1h.1M1851.2 482.2h.1M1851.7 489.6h.1M1852.2 470.1h.1M1852.9 478.6h.1M1853.5 484.2h.1M1854 485.7h.1M1854.5 497.5h.1M1855.2 499h.1M1855.9 476.7h.1M1856.5 476.4h.1M1857 467.9h.1M1857.5 476.7h.1M1858 480.5h.1M1858.9 486.7h.1M1859.2 492.1h.1M1859.8 484.5h.1M1860.5 487.3h.1M1861 491.4h.1M1861.5 494.8h.1M1862.2 504.8h.1M1862.9 490.2h.1M1863.4 496.4h.1M1863.9 499.2h.1M1864.5 498.8h.1M1865 501.2h.1M1865.9 494.7h.1M1866.2 482.6h.1M1866.8 477.9h.1M1867.5 491.6h.1M1868.2 486.9h.1M1868.5 488.9h.1M1869 497.7h.1M1870 481.3h.1M1870.5 494.8h.1M1871 487.5h.1M1871.7 497.2h.1M1872.4 494.3h.1M1872.9 496.6h.1M1873.2 497.6h.1M1874 493.1h.1M1874.5 508h.1M1875 497.7h.1M1875.5 502.1h.1M1876.2 496.6h.1M1876.9 489.9h.1M1877.5 490.2h.1M1878 489.5h.1M1878.5 491h.1M1879.4 506.8h.1M1879.9 508.8h.1M1880.5 495h.1M1881 503.7h.1M1881.5 497.8h.1M1882.2 494.8h.1M1882.7 492.9h.1M1883.5 495.1h.1M1884 493.6h.1M1884.5 485.1h.1M1885 508h.1M1885.7 496.3h.1M1886.2 493.6h.1M1886.8 498.6h.1M1887.4 496.4h.1M1888 504.9h.1M1888.8 512.8h.1M1889 504.6h.1M1889.7 499.8h.1M1890.2 493.9h.1M1890.8 496h.1M1891.8 497.5h.1M1892 494h.1M1892.7 499.8h.1M1893.2 502.7h.1M1893.9 488.2h.1M1894.4 491.9h.1M1895 482.8h.1M1895.8 494.5h.1M1896.2 506.3h.1M1896.7 497h.1M1897.4 485.6h.1M1898 484.4h.1M1898.7 493.6h.1M1899 500.7h.1M1899.5 486.6h.1M1900.5 499.1h.1M1901 478.7h.1M1901.5 494.1h.1M1902.2 493.6h.1M1902.7 499.6h.1M1903.5 485.5h.1M1903.9 501.9h.1M1904.5 490.1h.1M1905 485.4h.1M1905.7 488.2h.1M1906 490.8h.1M1907 496.2h.1M1907.2 492.4h.1M1907.9 476.3h.1M1908.5 485.1h.1M1909.4 487.6h.1M1909.5 501.8h.1M1910.2 493.5h.1M1911 489.2h.1M1911.5 493.3h.1M1912.2 482.1h.1M1912.5 492.7h.1M1913.2 499.1h.1M1914 505.5h.1M1914.5 491.4h.1M1915 484.6h.1M1915.7 486.5h.1M1916.2 486.5h.1M1916.9 493.8h.1M1917.2 499.9h.1M1917.9 484.7h.1M1918.7 497h.1M1919 505.4h.1M1919.7 484.2h.1M1920.4 485.9h.1M1920.8 506.3h.1M1921.5 504.6h.1M1922 498.1h.1M1922.5 489h.1M1923.2 503.1h.1M1923.9 500.7h.1M1924.4 517.3h.1M1925 509.3h.1M1925.8 496.4h.1M1926.2 502.1h.1M1926.7 504h.1M1927.5 499h.1M1928 508.3h.1M1928.5 502.6h.1M1929.2 489h.1M1929.7 499.4h.1M1930.5 504.5h.1M1931 512.1h.1M1931.5 509h.1M1932 510.7h.1M1932.5 504.9h.1M1933.2 513.7h.1M1933.8 512.5h.1M1934.5 515.6h.1M1935.2 526.5h.1M1935.5 510.6h.1M1936.2 512.2h.1M1936.9 525.9h.1M1937.5 517.8h.1M1937.9 515.7h.1M1938.4 505.2h.1M1939.2 513.3h.1M1939.7 513.7h.1M1940.4 503.6h.1M1940.9 504.2h.1M1941.4 502h.1M1941.9 510.9h.1M1942.8 508.9h.1M1943.2 520.9h.1M1943.8 510.8h.1M1944.2 513.4h.1M1945 511.1h.1M1945.7 519.9h.1M1946.2 510.3h.1M1946.8 504.9h.1M1947.4 503.4h.1M1947.8 511.2h.1M1948.5 516.9h.1M1949.2 503.6h.1M1949.7 505.1h.1M1950.2 508.3h.1M1950.8 496.8h.1M1951.2 493.7h.1M1952 494.3h.1M1952.5 505.3h.1M1953.2 500.3h.1M1953.8 485.9h.1M1954.2 479.1h.1M1955.2 485.2h.1M1955.5 477.8h.1M1956.2 475.1h.1M1956.7 476.8h.1M1957.2 477.4h.1M1958 478.7h.1M1958.7 476.9h.1M1959.2 478.5h.1M1959.7 486h.1M1960.2 485.8h.1M1960.9 490.5h.1M1961.2 496.5h.1M1961.9 495.4h.1M1962.5 492.9h.1M1963.2 489.3h.1M1963.8 490.3h.1M1964.5 501.9h.1M1964.9 501.6h.1M1965.4 498.5h.1M1966 487.6h.1M1966.8 492.6h.1M1967.2 500.1h.1M1968 490.1h.1M1968.4 486.3h.1M1969.2 485.5h.1M1969.8 501.6h.1M1970 495.5h.1M1970.7 492.4h.1M1971.2 496.1h.1M1972 490.2h.1M1972.7 487.8h.1M1973 482.8h.1M1973.7 495.1h.1M1974.2 492h.1M1975 490.3h.1M1975.5 492.7h.1M1976 477.7h.1M1976.5 488.8h.1M1977.4 492.2h.1M1977.8 489.4h.1M1978.4 487.3h.1M1979 485h.1M1979.5 485.3h.1M1980.2 489.9h.1M1980.9 496.2h.1M1981.4 477.9h.1M1981.9 481.5h.1M1982.5 495.5h.1M1983.2 493.8h.1M1983.8 501.9h.1M1984.2 489.4h.1M1984.9 488.3h.1M1985.7 479.7h.1M1986 479.3h.1M1986.7 481.7h.1M1987.2 479.2h.1M1987.8 482.7h.1M1988.5 492.3h.1M1988.9 491.8h.1M1989.7 485.4h.1M1990.2 486.2h.1M1990.9 476.1h.1M1991.2 483.3h.1M1992.2 489.9h.1M1992.5 478.3h.1M1993.2 480.4h.1M1993.9 475.4h.1M1994.4 489.5h.1M1994.9 482.6h.1M1995.4 495.2h.1M1996.2 486.5h.1M1996.5 490.1h.1M1997.2 496.2h.1M1998 495.6h.1M1998.2 501.3h.1M1999 493.1h.1M1999.5 497.6h.1M2000.2 493.4h.1M2000.8 496.9h.1M2001.2 499h.1M2001.8 501.9h.1M2002.7 498.1h.1M2003 493.2h.1M2003.8 495.9h.1M2004.2 500.8h.1M2004.9 499.3h.1M2005.4 503.5h.1M2006 502.8h.1M2006.5 492.4h.1M2007.2 489.1h.1M2008 500.9h.1M2008.5 497.2h.1M2009.2 500.9h.1M2009.7 488h.1M2010.2 490.2h.1M2010.9 500.8h.1M2011.4 509.7h.1M2011.8 508.8h.1M2012.7 503.2h.1M2013.2 492.2h.1M2013.5 495.1h.1M2014.2 499.7h.1M2014.9 507.7h.1M2015.5 504.9h.1M2016 495h.1M2016.8 499.6h.1M2017 497.5h.1M2017.9 494.4h.1M2018.4 503h.1M2018.9 508.5h.1M2019.7 497.4h.1M2020 500.3h.1M2020.9 508.4h.1M2021.2 504.6h.1M2022 488.2h.1M2022.5 490.6h.1M2023 485.8h.1M2023.8 496.5h.1M2024.2 507.3h.1M2024.9 484.3h.1M2025.5 496.3h.1M2026.2 484.7h.1M2026.5 476.1h.1M2027.2 487.5h.1M2027.9 491.8h.1M2028.2 492.9h.1M2028.9 485.4h.1M2029.4 479.7h.1M2030.2 486h.1M2030.8 474.2h.1M2031.4 487.4h.1M2032 493.1h.1M2032.7 489h.1M2033.2 483.4h.1M2033.8 491.9h.1M2034.4 501.3h.1M2035 501.9h.1M2035.5 493.4h.1M2035.9 499h.1M2036.5 484.1h.1M2037 478.7h.1M2037.9 490.2h.1M2038.4 483.6h.1M2038.8 489h.1M2039.5 490.2h.1M2040 491.9h.1M2040.7 497.3h.1M2041.4 489.9h.1M2041.8 486.3h.1M2042.4 482.5h.1M2043.2 485.4h.1M2043.8 492.3h.1M2044.4 500.5h.1M2044.9 498.3h.1M2045.5 492.2h.1M2046.2 502h.1M2046.5 495.2h.1M2047.2 486.4h.1M2047.7 491.5h.1M2048.3 487.7h.1M2048.9 491.2h.1M2049.4 492.9h.1M2050.2 485h.1M2050.8 478.9h.1M2051.2 496.7h.1M2051.8 489.1h.1M2052.4 496.3h.1M2053 503h.1M2053.8 495.5h.1M2054.1 501.7h.1M2054.9 485.6h.1M2055.2 501h.1M2056 489.5h.1M2056.4 482.6h.1M2057 488.3h.1M2057.8 494h.1M2058.4 494.9h.1M2058.9 496.6h.1M2059.6 504.4h.1M2060 493.7h.1M2060.5 496h.1M2061 495.7h.1M2061.6 497.3h.1M2062.4 502.3h.1M2062.9 507.5h.1M2063.6 504.2h.1M2064.1 506.8h.1M2064.6 506.5h.1M2065.2 503h.1M2065.9 499.9h.1M2066.3 505.3h.1M2066.9 515.7h.1M2067.6 505.6h.1M2068.2 520h.1M2069 517.1h.1M2069.3 511.3h.1M2069.9 506.8h.1M2070.5 508.8h.1M2071.1 513h.1M2071.6 513.1h.1M2072.3 507.7h.1M2073 507h.1M2073.5 511h.1M2074 509.8h.1M2074.8 518.3h.1M2075.4 525.1h.1M2075.9 510.2h.1M2076.4 514.8h.1M2076.9 510.7h.1M2077.8 516.6h.1M2078.2 517.3h.1M2078.8 518.9h.1M2079.3 526.1h.1M2080.1 520.8h.1M2080.6 530.5h.1M2081 525.2h.1M2081.8 522.9h.1M2082.3 514.8h.1M2082.9 512.3h.1M2083.6 507.5h.1M2083.9 507.8h.1M2084.8 506.5h.1M2085.1 508.4h.1M2085.8 500.8h.1M2086.5 512.2h.1M2086.9 501.5h.1M2087.5 504.3h.1M2088.3 517.9h.1M2088.6 494.1h.1M2089.3 497.4h.1M2090.1 511.5h.1M2090.6 501h.1M2091 500.6h.1M2091.5 505.6h.1M2092.4 493.7h.1M2092.8 493.9h.1M2093.4 495.4h.1M2094.2 491.6h.1M2094.6 497.2h.1M2095.2 497.1h.1M2095.8 500.6h.1M2096.5 514.3h.1M2097.2 507.6h.1M2097.8 499.4h.1M2098.3 501.8h.1M2098.6 501.4h.1M2099.4 503.6h.1M2099.8 504.2h.1M2100.4 500.1h.1M2101.3 502.7h.1M2101.9 502.7h.1M2102.4 502.7h.1M2102.8 498.2h.1M2103.4 509.5h.1M2104.2 502.5h.1M2104.8 497.2h.1M2105.2 496.1h.1M2105.8 490.1h.1M2106.5 502.8h.1M2107.1 490.1h.1M2107.5 488.4h.1M2108.2 506.5h.1M2108.6 506.2h.1M2109.3 498.7h.1M2110 505.4h.1M2110.5 499h.1M2111 499.4h.1M2111.5 499h.1M2112.1 489.2h.1M2112.9 497h.1M2113.5 505.4h.1M2114.2 509.2h.1M2114.8 494.7h.1M2115.3 491.6h.1M2115.9 496.4h.1M2116.2 496.7h.1M2116.8 495.8h.1M2117.8 495.4h.1M2118.2 490.1h.1M2118.6 490.5h.1M2119.2 494.3h.1M2119.9 494.4h.1M2120.4 503.2h.1M2121.1 506.4h.1M2121.6 499h.1M2122.2 494h.1M2122.9 491h.1M2123.5 500h.1M2123.9 495.6h.1M2124.6 491.5h.1M2125.3 489.7h.1M2125.8 509.6h.1M2126.4 509.8h.1M2126.8 491.7h.1M2127.4 500.4h.1M2128.1 497.1h.1M2128.8 490h.1M2129.4 488.1h.1M2129.9 491.3h.1M2130.5 504.9h.1M2131 495.2h.1M2131.6 501h.1M2132.3 498.7h.1M2133 494.4h.1M2133.3 494.7h.1M2134 482.7h.1M2134.6 487.8h.1M2135.3 498.1h.1M2135.9 483.9h.1M2136.2 503.4h.1M2137 511h.1M2137.4 506.1h.1M2138 490.3h.1M2138.8 486.3h.1M2139.3 499h.1M2139.8 494.7h.1M2140.4 483.8h.1M2141 493.9h.1M2141.8 483.6h.1M2142.4 490.2h.1M2142.8 494.7h.1M2143.3 490.4h.1M2144 497h.1M2144.6 493.1h.1M2145 491.4h.1M2145.9 494.3h.1M2146.5 495.9h.1M2147.1 490.8h.1M2147.6 480.4h.1M2148 482.6h.1M2148.6 482.2h.1M2149.3 485.1h.1M2149.8 475.7h.1M2150.4 474.3h.1M2151.1 484.6h.1M2151.5 479.4h.1M2152.1 472.3h.1M2152.8 471h.1M2153.5 491h.1M2154 486.2h.1M2154.8 484.3h.1M2155.3 470.6h.1M2155.8 480.6h.1M2156.3 489h.1M2156.8 489.7h.1M2157.4 483.3h.1M2158 486.5h.1M2158.8 487.4h.1M2159.2 488h.1M2159.9 487.7h.1M2160.3 489.7h.1M2160.9 481.6h.1M2161.5 479.1h.1M2162.1 477.1h.1M2162.8 486.9h.1M2163.4 488h.1M2163.8 495.6h.1M2164.5 494.1h.1M2165.3 488.8h.1M2165.6 496.2h.1M2166.3 490.7h.1M2167.1 493.5h.1M2167.3 488.8h.1M2168.1 483.5h.1M2168.8 489.6h.1M2169.4 492.9h.1M2170 495.9h.1M2170.4 497.8h.1M2170.9 493.4h.1M2171.6 488.1h.1M2172 490.2h.1M2172.6 491.5h.1M2173.5 491.5h.1M2174.1 477.3h.1M2174.4 490.4h.1M2175 487.3h.1M2175.8 495.9h.1M2176.4 497.1h.1M2176.9 496.7h.1M2177.5 484h.1M2177.9 485.8h.1M2178.8 491.7h.1M2179.3 485.2h.1M2179.8 499.8h.1M2180.3 487.3h.1M2180.9 483.8h.1M2181.6 494.1h.1M2182.3 491.6h.1M2182.8 493.3h.1M2183.3 496.7h.1M2183.9 506.2h.1M2184.6 500.6h.1M2185.2 503.8h.1M2185.6 499.5h.1M2186.4 500.7h.1M2186.8 505.2h.1M2187.4 499.5h.1M2188.2 501.2h.1M2188.5 501h.1M2189.1 505.7h.1M2189.9 506.4h.1M2190.3 502.5h.1M2190.8 497.6h.1M2191.6 495.7h.1M2192.1 503.9h.1M2192.9 507.8h.1M2193.2 505h.1M2194 495.2h.1M2194.5 494.1h.1M2195 509.4h.1M2195.8 502.2h.1M2196.1 500.8h.1M2196.8 502.1h.1M2197.3 507.9h.1M2197.9 519.1h.1M2198.8 502.1h.1M2199.1 515h.1M2199.8 510.9h.1M2200.5 500.3h.1M2200.8 505.3h.1M2201.6 505.2h.1M2202.1 506h.1M2202.9 507.9h.1M2203.3 513.7h.1M2203.9 518.7h.1M2204.4 520.7h.1M2205.2 502.5h.1M2205.5 504.4h.1M2206.2 505.2h.1M2206.8 509.6h.1M2207.3 506.9h.1M2208 504.7h.1M2208.6 514h.1M2209.2 513.4h.1M2209.8 513.3h.1M2210.2 502h.1M2210.9 498.7h.1M2211.6 504.8h.1M2211.9 503.4h.1M2212.6 501.8h.1M2213.1 498.2h.1M2213.9 502.4h.1M2214.4 500.8h.1M2214.9 497.2h.1M2215.5 493.3h.1M2216.4 494.4h.1M2216.8 506.1h.1M2217.5 493.2h.1M2217.8 496.3h.1M2218.8 496h.1M2219 492.8h.1M2219.6 498.8h.1M2220.3 494.9h.1M2220.8 494.8h.1M2221.3 490.2h.1M2222 505.1h.1M2222.8 492.5h.1M2223.4 493.5h.1M2223.8 485.8h.1M2224.3 506.4h.1M2225.1 492h.1M2225.6 487.2h.1M2226.2 491.8h.1M2226.8 500.1h.1M2227.4 494.5h.1M2228 484.6h.1M2228.4 483.8h.1M2229.1 491h.1M2229.8 484.5h.1M2230.4 493.1h.1M2231 489.7h.1M2231.6 487.9h.1M2232.2 491.2h.1M2232.8 501.6h.1M2233.1 494.3h.1M2233.9 491.9h.1M2234.3 491.7h.1M2235 485.1h.1M2235.5 481.8h.1M2236.2 478.1h.1M2236.8 479.8h.1M2237.4 488.6h.1M2237.9 490.1h.1M2238.5 486h.1M2239.1 489.7h.1M2239.8 484.6h.1M2240.5 496.5h.1M2240.8 498.3h.1M2241.6 501.4h.1M2242.2 494.6h.1M2242.8 488.8h.1M2243.3 497.4h.1M2243.8 494.9h.1M2244.5 494.5h.1M2245.1 492.7h.1M2245.6 502.5h.1M2246.2 496.2h.1M2246.9 498.4h.1M2247.4 495.8h.1M2247.8 497.4h.1M2248.6 506.7h.1M2248.9 500h.1M2249.6 497h.1M2250.1 499.3h.1M2250.9 504.2h.1M2251.4 501.7h.1M2252.2 506.7h.1M2252.5 508.1h.1M2253.4 505.9h.1M2253.8 508.7h.1M2254.3 510.8h.1M2254.9 507.3h.1M2255.4 507.2h.1M2256.1 507.1h.1M2256.8 517.5h.1M2257.3 507.9h.1M2257.8 509.1h.1M2258.6 509.1h.1M2259 516.2h.1M2259.8 521.6h.1M2260.4 524.7h.1M2260.8 515h.1M2261.4 518.9h.1M2262.1 515h.1M2262.8 510.6h.1M2263 514.2h.1M2263.9 514.3h.1M2264.3 517.5h.1M2264.9 525.8h.1M2265.8 522.7h.1M2266.1 519.3h.1M2266.8 510.7h.1M2267.2 512.5h.1M2267.8 511.1h.1M2268.5 501.4h.1M2269.1 507.2h.1M2269.6 516.2h.1M2270.2 509.1h.1M2270.9 507h.1M2271.5 510.3h.1M2271.9 509.6h.1M2272.5 506.3h.1M2273.3 508.7h.1M2273.8 509.6h.1M2274.3 509.8h.1M2274.9 496.3h.1M2275.4 500.4h.1M2276.2 498.3h.1M2276.5 497.7h.1M2277.1 500h.1M2277.8 499.6h.1M2278.6 500.9h.1M2279.2 502.1h.1M2279.5 502.8h.1M2280.3 504.1h.1M2280.8 507h.1M2281.4 509.9h.1M2282.1 500.7h.1M2282.6 495h.1M2283.3 492.8h.1M2283.8 493.8h.1M2284.4 494.1h.1M2285 491.4h.1M2285.5 491.7h.1M2286 492.5h.1M2286.8 486.8h.1M2287.3 501h.1M2287.8 503.5h.1M2288.4 491.9h.1M2289.1 497.7h.1M2289.5 490.1h.1M2290.3 497.9h.1M2290.8 499.9h.1M2291.3 492.4h.1M2292 493.5h.1M2292.6 495.3h.1M2293.2 489.2h.1M2293.8 492.3h.1M2294.2 500.4h.1M2294.8 503.7h.1M2295.4 493.1h.1M2296.2 502.6h.1M2296.8 494.3h.1M2297.3 485.8h.1M2297.9 487.2h.1M2298.6 495.8h.1M2299 494.1h.1M2299.6 497.3h.1M2300.3 490.3h.1M2300.9 501.1h.1M2301.5 497.7h.1M2302 499h.1M2302.6 498.4h.1M2303.2 496.8h.1M2303.5 492.8h.1M2304.3 499.7h.1M2304.9 497.6h.1M2305.6 489.7h.1M2306 491.8h.1M2306.8 501h.1M2307.4 503.3h.1M2307.8 494.4h.1M2308.3 507.6h.1M2308.9 498.6h.1M2309.6 499.3h.1M2310.1 510.3h.1M2310.9 512.6h.1M2311.3 502.5h.1M2312 508h.1M2312.5 504.1h.1M2313 505h.1M2313.8 500.9h.1M2314.4 501.4h.1M2314.9 501.6h.1M2315.3 501.5h.1M2316 505.9h.1M2316.8 506.2h.1M2317.1 511.2h.1M2317.8 519h.1M2318.5 509.9h.1M2318.8 502.3h.1M2319.6 502h.1M2320.3 509.7h.1M2320.8 512h.1M2321.2 508.3h.1M2321.8 505.1h.1M2322.4 497.5h.1M2323.1 504.8h.1M2323.6 514.1h.1M2324.2 503.9h.1M2324.9 515.8h.1M2325.6 509.3h.1M2326 509.8h.1M2326.8 506.7h.1M2327.1 513.2h.1M2327.8 518.6h.1M2328.4 523.5h.1M2329 517.4h.1M2329.6 509.6h.1M2330.2 518.1h.1M2330.6 516.4h.1M2331.2 526.5h.1M2331.8 508.9h.1M2332.3 514.1h.1M2333.2 512h.1M2333.8 512.6h.1M2334.1 510.5h.1M2334.9 518.4h.1M2335.6 527.5h.1M2335.9 515h.1M2336.8 515.8h.1M2337.3 518.3h.1M2337.8 524.6h.1M2338.2 525.5h.1M2339 512.2h.1M2339.4 520.1h.1M2340.2 520.7h.1M2340.6 515.7h.1M2341.3 507.4h.1M2341.8 513.6h.1M2342.5 514.7h.1M2342.9 514.3h.1M2343.8 510.8h.1M2344.2 517.1h.1M2344.9 515.9h.1M2345.5 509.6h.1M2345.8 502.9h.1M2346.6 510.8h.1M2347.2 503.6h.1M2347.6 511h.1M2348.2 505.8h.1M2348.9 505.4h.1M2349.6 501.8h.1M2350.2 508.3h.1"/>
<path class="b" d="M236.8 541.6h.1M237.5 537.2h.1M238 541.1h.1M238.6 545.2h.1M239.1 538h.1M239.8 551.2h.1M240.3 550h.1M240.8 547.5h.1M241.6 533.4h.1M242 535.2h.1M242.8 535.2h.1M243.4 538.6h.1M243.8 530.9h.1M244.5 529h.1M244.9 546.3h.1M245.5 532.6h.1M246.3 555.7h.1M246.8 541h.1M247.3 538.3h.1M248 538.2h.1M248.4 546.7h.1M249.2 552.2h.1M249.6 544h.1M250.2 550.4h.1M251 547.7h.1M251.4 562.1h.1M252 559.7h.1M252.8 547.2h.1M253.3 553.8h.1M253.9 546.9h.1M254.4 552.8h.1M254.9 564.5h.1M255.6 548.3h.1M256.1 541.2h.1M256.6 542.6h.1M257.3 558.8h.1M257.8 548.8h.1M258.6 554.8h.1M259.1 569.8h.1M259.6 560.8h.1M260.1 558.8h.1M261.1 552.6h.1M261.4 555.4h.1M262.2 573.3h.1M262.8 577.9h.1M263.2 572.9h.1M263.8 568.4h.1M264.6 563.8h.1M264.9 572.2h.1M265.6 578.9h.1M266.1 584.6h.1M266.9 560.4h.1M267.4 581.2h.1M267.9 567.5h.1M268.4 564.7h.1M269.2 554.8h.1M269.8 560.5h.1M270.1 567.1h.1M270.9 561.1h.1M271.6 567h.1M272.1 550.3h.1M272.4 562.8h.1M273.2 550.1h.1M273.9 561.5h.1M274.4 568.5h.1M274.8 546h.1M275.6 567.5h.1M276.2 545.4h.1M276.8 554.6h.1M277.2 543.6h.1M277.9 564.9h.1M278.3 557.5h.1M279.2 535.2h.1M279.6 556.6h.1M280.2 554.8h.1M280.8 558.2h.1M281.3 552.8h.1M282.1 528.2h.1M282.6 541.4h.1M283.1 524.4h.1M283.9 528.4h.1M284.4 523.6h.1M284.8 523.2h.1M285.6 531.7h.1M286.2 521.9h.1M286.6 507.2h.1M287.4 514.9h.1M287.9 517.1h.1M288.6 530.6h.1M289.1 501.5h.1M289.8 523.6h.1M290.4 515.2h.1M290.9 519.4h.1M291.6 509.9h.1M292.1 494.7h.1M292.4 509.6h.1M293.2 517h.1M293.8 514.5h.1M294.6 508h.1M295.1 508.1h.1M295.4 508.5h.1M296.2 519.2h.1M296.6 509.3h.1M297.3 525.7h.1M297.8 526.9h.1M298.3 537.6h.1M299.2 524.1h.1M299.6 527.1h.1M300.1 516.9h.1M300.8 529.3h.1M301.3 517.3h.1M302.1 532.7h.1M302.6 531.4h.1M303.1 531.8h.1M303.8 530.1h.1M304.4 515.5h.1M305.1 526.3h.1M305.3 546.3h.1M305.9 541.7h.1M306.8 545.7h.1M307.2 526.5h.1M308.1 533.9h.1M308.3 532.8h.1M308.9 537.8h.1M309.6 528.8h.1M310.1 544h.1M310.9 539.4h.1M311.6 536.9h.1M312.1 530.1h.1M312.4 542h.1M313.1 549h.1M313.8 536h.1M314.3 537.7h.1M314.8 535.5h.1M315.6 543h.1M316.2 537.3h.1M316.8 535.8h.1M317.1 546.4h.1M317.8 550.5h.1M318.4 543.9h.1M318.8 536.4h.1M319.6 562.7h.1M320.3 544.2h.1M320.8 536.4h.1M321.4 559h.1M321.8 561.3h.1M322.6 549h.1M323.1 546.8h.1M323.6 543.6h.1M324.4 558.6h.1M324.9 551.3h.1M325.6 565.4h.1M326.2 563.7h.1M326.6 555.8h.1M327.4 553.4h.1M327.8 565.2h.1M328.6 573.4h.1M328.9 575h.1M329.6 560h.1M330.2 555.9h.1M330.8 554.4h.1M331.2 570.6h.1M332.1 565.4h.1M332.6 556.2h.1M333.1 573.6h.1M333.6 586.1h.1M334.3 571.5h.1M334.8 571.6h.1M335.3 562.3h.1M335.9 571.8h.1M336.6 576.3h.1M337.2 575.1h.1M337.8 576.6h.1M338.4 586.3h.1M339.1 578.6h.1M339.6 580.9h.1M340.1 578h.1M340.8 585.1h.1M341.1 578.4h.1M341.9 591h.1M342.6 568.8h.1M343.1 574.6h.1M343.8 571h.1M344.1 570.9h.1M344.9 550.5h.1M345.3 558.8h.1M346.1 548.2h.1M346.6 555.1h.1M347.1 546.2h.1M347.8 560.9h.1M348.2 553.7h.1M348.9 559.7h.1M349.4 544.7h.1M349.9 553.7h.1M350.8 544.2h.1M351.3 553.9h.1M352.1 545.3h.1M352.6 552.2h.1M353.1 527.7h.1M353.6 540.6h.1M354.1 549.4h.1M355.1 536.4h.1M355.6 541.2h.1M356.1 540.6h.1M356.6 544.5h.1M357.1 536.4h.1M357.8 539.4h.1M358.6 541.8h.1M359.1 529.4h.1M359.6 532.1h.1M360.1 535.9h.1M360.8 528.6h.1M361.1 535.3h.1M361.9 528.9h.1M362.4 512.5h.1M363.1 540.7h.1M363.6 527.2h.1M364.1 514.7h.1M364.8 525.2h.1M365.4 521h.1M365.9 530.8h.1M366.4 523.3h.1M367.1 524h.1M367.8 516.6h.1M368.2 519.1h.1M369.1 524h.1M369.6 529.7h.1M369.9 521.9h.1M370.6 536.9h.1M371.1 530h.1M371.9 521.1h.1M372.6 512.1h.1M372.9 525.3h.1M373.4 525.3h.1M374.2 527.2h.1M374.8 528.5h.1M375.3 524.6h.1M376.1 521.4h.1M376.6 512.1h.1M377.1 531.5h.1M377.6 517.3h.1M378.2 524.9h.1M378.8 532.8h.1M379.3 542.5h.1M380.1 527.8h.1M380.6 518.2h.1M381.1 525.4h.1M382.1 523.4h.1M382.3 522h.1M382.8 529.2h.1M383.6 535h.1M384.1 531.5h.1M384.8 528.4h.1M385.6 519.6h.1M385.8 514.3h.1M386.6 518h.1M387.1 523.3h.1M387.6 543.3h.1M388.2 527.7h.1M388.9 520.2h.1M389.6 537h.1M390.1 538h.1M390.6 522.5h.1M391.2 523.6h.1M391.9 555.5h.1M392.3 553.3h.1M392.9 547h.1M393.4 558h.1M394.2 537.8h.1M394.8 537.2h.1M395.6 551.6h.1M395.8 550.5h.1M396.4 549.2h.1M397.1 561.9h.1M397.6 569h.1M398.4 540.3h.1M398.9 547.5h.1M399.6 546.5h.1M400.1 551.3h.1M400.8 558.2h.1M401.1 544.1h.1M401.8 560h.1M402.6 554.3h.1M403.1 548.1h.1M403.6 543.8h.1M404.2 546.5h.1M404.8 544.4h.1M405.4 556.3h.1M406.1 541.9h.1M406.6 564.5h.1M407.1 548.3h.1M407.6 547.6h.1M408.1 560.5h.1M408.9 546.5h.1M409.3 540.1h.1M410.1 544.7h.1M410.8 533.8h.1M411.1 538.2h.1M411.8 530.9h.1M412.3 549.6h.1M413.1 542.3h.1M413.4 527.8h.1M414.2 538.7h.1M414.6 540.1h.1M415.4 541.6h.1M415.8 544.7h.1M416.6 548.2h.1M417.2 545.2h.1M417.8 538.1h.1M418.2 546.2h.1M419.1 542.3h.1M419.4 538.4h.1M419.9 549h.1M420.6 549.3h.1M421.1 542.2h.1M421.9 556.7h.1M422.2 550.5h.1M422.8 552.3h.1M423.8 551.6h.1M424.3 537.7h.1M424.6 535.4h.1M425.3 536.9h.1M425.8 543.3h.1M426.6 545.3h.1M427.2 551.4h.1M427.6 549.5h.1M428.3 545.3h.1M428.8 540.4h.1M429.6 547.1h.1M430.1 540.1h.1M430.8 557.5h.1M431.2 542.6h.1M431.6 553.7h.1M432.3 545.1h.1M432.8 529.6h.1M433.6 544.5h.1M433.9 532.6h.1M434.8 531.1h.1M435.4 544.3h.1M435.8 540.9h.1M436.6 561.6h.1M437.1 556.9h.1M437.6 558.8h.1M438.1 545.4h.1M438.6 537.2h.1M439.4 548h.1M439.9 549.8h.1M440.6 557.9h.1M441.2 551.9h.1M441.8 541.3h.1M442.4 554.5h.1M442.9 549.7h.1M443.6 535.8h.1M443.9 535.5h.1M444.6 546.6h.1M445.3 558.4h.1M445.8 559.4h.1M446.3 550.1h.1M446.9 544.3h.1M447.6 559.6h.1M448.1 551.8h.1M448.8 560h.1M449.2 545.3h.1M449.8 559.1h.1M450.6 570.7h.1M451.1 556.5h.1M451.8 553h.1M452.3 558.8h.1M453.1 561.2h.1M453.3 552.1h.1M454.1 553.8h.1M454.6 547.8h.1M455.4 549.6h.1M455.9 551.9h.1M456.4 563.9h.1M457.1 572.6h.1M457.8 575.5h.1M458.2 551.8h.1M458.6 573.6h.1M459.2 553.2h.1M459.9 567h.1M460.3 579h.1M461.1 579.5h.1M461.6 575.9h.1M462.4 569.8h.1M462.9 574.7h.1M463.3 581.9h.1M464.1 563.5h.1M464.8 571.6h.1M465.1 593.3h.1M465.9 575.5h.1M466.4 579.2h.1M466.9 579.6h.1M467.8 591.6h.1M468.1 583.1h.1M468.8 582.2h.1M469.4 557.7h.1M470.1 574.1h.1M470.4 582.7h.1M471.1 575.8h.1M471.6 575.2h.1M472.3 560.2h.1M472.8 563.7h.1M473.6 566.7h.1M474.1 577.4h.1M474.8 562.9h.1M475.2 545.6h.1M475.9 549h.1M476.4 556.6h.1M476.8 548.9h.1M477.6 545.2h.1M478.2 543.9h.1M478.6 546.3h.1M479.4 529.6h.1M479.8 539.7h.1M480.6 532.5h.1M481.1 524.9h.1M481.6 532.5h.1M482.1 534.8h.1M482.6 527.8h.1M483.4 523h.1M483.9 525h.1M484.6 515.4h.1M485.1 521.4h.1M485.8 511.9h.1M486.3 513.3h.1M486.8 505.2h.1M487.6 518.2h.1M488.1 503.5h.1M488.8 502.9h.1M489.3 513.3h.1M490.1 500.6h.1M490.6 497.7h.1M490.9 512.3h.1M491.6 523.6h.1M492.1 499.1h.1M492.9 528.1h.1M493.6 522.3h.1M494.1 513.4h.1M494.6 519h.1M495.1 528.4h.1M495.8 521.4h.1M496.2 512.2h.1M497.1 517.6h.1M497.6 524.4h.1M498.2 530.1h.1M498.6 526.3h.1M499.1 532.1h.1M499.9 520h.1M500.6 530.2h.1M501.1 556.6h.1M501.6 546.2h.1M502.1 550.5h.1M502.8 536.3h.1M503.3 550.3h.1M504.1 525.9h.1M504.6 532.3h.1M505.1 526h.1M505.9 534.7h.1M506.3 534.2h.1M506.9 523.6h.1M507.6 528.7h.1M508.1 528.6h.1M508.8 530.6h.1M509.3 536.7h.1M509.8 537.4h.1M510.6 518.7h.1M511.1 533.9h.1M511.8 524.3h.1M512.4 523.4h.1M512.9 523.1h.1M513.4 522.5h.1M514.2 521.2h.1M514.5 516.8h.1M515.2 532.4h.1M515.8 531.4h.1M516.2 549.3h.1M517.1 527h.1M517.6 553.3h.1M518.2 544.3h.1M518.9 530.7h.1M519.2 549.4h.1M520 542.9h.1M520.6 558.4h.1M521 563.8h.1M521.5 547.4h.1M522.2 554.3h.1M522.8 558.4h.1M523.5 570.1h.1M524.1 561.8h.1M524.5 569.2h.1M525 570.1h.1M525.9 572.3h.1M526.2 574.1h.1M526.8 581.9h.1M527.7 586.7h.1M528.1 578.5h.1M528.6 578.5h.1M529.2 589.2h.1M530 599.4h.1M530.6 582.4h.1M531 601.3h.1M531.8 585.1h.1M532.2 600.9h.1M532.8 593.8h.1M533.4 587h.1M534.1 582.2h.1M534.5 580.2h.1M535.1 576.9h.1M535.7 592.3h.1M536.4 573.3h.1M536.9 561h.1M537.6 577.5h.1M538.1 575h.1M538.8 571.6h.1M539.2 553.8h.1M539.8 560.6h.1M540.6 561.2h.1M541.2 557.8h.1M541.7 549.1h.1M542.2 551.7h.1M542.9 561.5h.1M543.2 559.3h.1M543.8 553.8h.1M544.6 540.4h.1M545.1 548.2h.1M545.9 546.5h.1M546.5 563.4h.1M547 534.7h.1M547.2 559.7h.1M548.2 542.8h.1M548.8 547.9h.1M549.1 556.3h.1M549.9 533h.1M550.2 547.3h.1M550.9 554.1h.1M551.8 544.3h.1M552.4 542.5h.1M552.7 564.7h.1M553.4 555.9h.1M554.1 557.4h.1M554.5 553h.1M555.2 546.3h.1M555.6 554.3h.1M556.2 570.7h.1M556.8 562.3h.1M557.4 548.5h.1M558 561.6h.1M558.7 554.7h.1M559.2 548.4h.1M559.7 542.4h.1M560.4 564.1h.1M561.2 561.7h.1M561.7 538.6h.1M562.2 563.3h.1M562.7 554.8h.1M563.2 558.8h.1M563.8 562.5h.1M564.4 563.3h.1M565 562.9h.1M565.7 548.1h.1M566.4 552.4h.1M566.8 561.1h.1M567.5 556.9h.1M568.1 556.8h.1M568.5 548.7h.1M569.2 561.9h.1M569.9 571.5h.1M570.4 555.9h.1M570.9 559.4h.1M571.5 558.6h.1M572 571.1h.1M572.6 556.1h.1M573.4 575.9h.1M574.1 537.3h.1M574.6 557.8h.1M575 551.6h.1M575.8 567.6h.1M576.1 551.4h.1M576.9 567.6h.1M577.2 558.8h.1M578.2 560.5h.1M578.7 550.4h.1M579.2 556.9h.1M579.7 559.3h.1M580.5 559.9h.1M581.1 574.3h.1M581.4 583.4h.1M582 568.3h.1M582.7 583.5h.1M583.2 564.5h.1M584.1 569.1h.1M584.4 545.3h.1M585.1 556.1h.1M585.6 585.4h.1M586.1 591h.1M586.8 571.9h.1M587.6 578.4h.1M588.1 574.6h.1M588.7 574.8h.1M589.2 588.1h.1M589.7 595.2h.1M590.2 578.5h.1M591.1 569.5h.1M591.6 592h.1M592.1 591.4h.1M592.6 589.1h.1M593.2 584h.1M593.8 587.2h.1M594.6 597.5h.1M595 583.7h.1M595.7 584h.1M596.1 593.6h.1M596.7 590.9h.1M597.4 586.8h.1M598.1 577h.1M598.6 584h.1M599 599.4h.1M599.7 573.7h.1M600.2 586.6h.1M600.9 573.1h.1M601.5 580.3h.1M602 562.4h.1M602.8 561.7h.1M603.1 589.8h.1M603.7 576.9h.1M604.4 574.6h.1M605 585.2h.1M605.7 549.7h.1M606.2 565h.1M606.7 575.4h.1M607.2 566.4h.1M608.1 569.8h.1M608.6 570.7h.1M609.1 571.7h.1M609.7 573.2h.1M610.2 568.9h.1M611.1 561.6h.1M611.5 562h.1M612.1 564.1h.1M612.6 553.3h.1M613.2 577.8h.1M613.9 573.9h.1M614.2 569h.1M615 565.8h.1M615.6 558.4h.1M616.2 546.3h.1M616.8 559.4h.1M617.2 556.7h.1M618.1 557.9h.1M618.7 551.5h.1M619 571.6h.1M619.6 568.1h.1M620.2 547.1h.1M621 570.7h.1M621.2 568.1h.1M622.1 562h.1M622.6 565.8h.1M623.2 552.3h.1M623.9 564.2h.1M624.5 569.3h.1M625 560.9h.1M625.5 575h.1M626.2 571.9h.1M626.7 556.1h.1M627.2 554.6h.1M627.9 563.5h.1M628.7 556.4h.1M629.2 557.9h.1M629.6 565.8h.1M630.2 571.5h.1M630.9 587.1h.1M631.4 575h.1M632 581.2h.1M632.7 590.5h.1M633.2 581.2h.1M633.9 563.7h.1M634.6 560.2h.1M634.8 577h.1M635.7 592h.1M636 564.1h.1M636.9 567.9h.1M637.5 588.6h.1M638.1 574.9h.1M638.4 570.8h.1M639.2 594.4h.1M639.7 571.7h.1M640.1 557.1h.1M640.7 585.1h.1M641.5 555h.1M642 588.3h.1M642.7 590.8h.1M643.2 580.3h.1M643.8 573.1h.1M644.2 596.7h.1M644.9 569.1h.1M645.6 581.7h.1M646.1 584.9h.1M646.9 571.9h.1M647.2 570.6h.1M647.9 578h.1M648.4 570.7h.1M648.9 571.7h.1M649.7 570.4h.1M650.4 585.1h.1M650.7 572h.1M651.5 582.3h.1M652 573.3h.1M652.7 576.1h.1M653.2 581h.1M653.8 599.7h.1M654.4 584h.1M654.9 570.6h.1M655.5 578.2h.1M656.1 589.5h.1M656.8 568.1h.1M657.4 588.4h.1M657.7 591.8h.1M658.6 593.6h.1M658.9 583.8h.1M659.8 564.6h.1M660.4 589.5h.1M660.7 587.5h.1M661.6 581.4h.1M662.1 590.4h.1M662.7 594.6h.1M663.2 584.7h.1M663.6 590.7h.1M664.2 585.9h.1M664.8 573.6h.1M665.4 587.1h.1M666.2 598.2h.1M666.6 564.7h.1M667.2 570.9h.1M667.7 595.2h.1M668.5 587.1h.1M668.9 592.8h.1M669.8 566.1h.1M670.2 569h.1M670.7 592.7h.1M671.4 579.3h.1M671.9 597.9h.1M672.7 579.9h.1M673.1 582.9h.1M673.6 598h.1M674.2 577.8h.1M674.9 589.4h.1M675.4 591.3h.1M676 597h.1M676.7 551.5h.1M677.2 562.1h.1M677.7 572.3h.1M678.2 557.4h.1M679.1 564h.1M679.5 552.6h.1M680.2 565.5h.1M680.7 566.4h.1M681.2 560.2h.1M681.8 565.8h.1M682.5 544h.1M683 524.2h.1M683.8 552.6h.1M684.2 524h.1M684.9 553.5h.1M685.4 527.9h.1M685.9 527.7h.1M686.6 540.4h.1M687.1 539.4h.1M687.9 510.1h.1M688.5 512.9h.1M689.1 523.4h.1M689.7 511.4h.1M690.2 517h.1M690.9 510.5h.1M691.4 514.2h.1M691.8 533.5h.1M692.6 511.9h.1M693.2 493.7h.1M693.7 505h.1M694.2 513.2h.1M694.9 522.8h.1M695.5 514h.1M696.1 502.7h.1M696.7 503.2h.1M697.4 530.2h.1M697.9 539.8h.1M698.6 512.3h.1M698.8 535.2h.1M699.5 523.6h.1M700.1 516.8h.1M700.7 528.7h.1M701.2 524h.1M701.9 524.2h.1M702.7 532.8h.1M703.1 503h.1M703.6 508.6h.1M704.2 512.7h.1M704.7 529.9h.1M705.4 538.3h.1M706.2 543.4h.1M706.8 545.4h.1M707.1 541.2h.1M707.8 539.2h.1M708.4 527h.1M708.9 545.8h.1M709.7 536.5h.1M710.2 529.5h.1M710.9 531.9h.1M711.4 535.8h.1M711.9 538.9h.1M712.4 526.5h.1M713.1 556h.1M713.7 546h.1M714.2 562.3h.1M714.8 550h.1M715.5 552.4h.1M716.2 541.1h.1M716.5 537.2h.1M717.1 556.9h.1M717.9 547h.1M718.5 576.7h.1M718.8 552.7h.1M719.4 554.3h.1M720.1 545.6h.1M720.8 557.5h.1M721.2 563.1h.1M722 571.7h.1M722.5 570.9h.1M723.1 567.6h.1M723.8 548h.1M724.2 562.4h.1M724.8 548.6h.1M725.5 567.9h.1M726 574.4h.1M726.4 577.9h.1M727.2 584.8h.1M727.7 575.2h.1M728.4 585.3h.1M729 570.1h.1M729.4 558.8h.1M730.2 592.5h.1M730.6 609h.1M731.2 599.8h.1M731.8 587.8h.1M732.4 586.3h.1M732.9 535.4h.1M734.2 553.1h.1M735 563.7h.1M735.9 576.1h.1M736.6 531.6h.1M737.1 552.5h.1M737.6 558.4h.1M738.2 514.9h.1M739.1 561h.1M739.7 554.9h.1M740.2 578.9h.1M740.7 529h.1M741.4 519.2h.1M741.8 488.6h.1M742.4 525.6h.1M743 516.3h.1M743.6 537.5h.1M744.2 562.3h.1M744.7 528.2h.1M745.2 549.9h.1M745.8 471.4h.1M746.4 525.8h.1M747.9 486.7h.1M748.2 506.8h.1M748.9 489.2h.1M749.4 525.9h.1M750.6 487.9h.1M751.4 467.8h.1M751.9 550.5h.1M752.6 555.6h.1M752.9 505.4h.1M753.5 481.3h.1M754.2 504.8h.1M754.7 512.2h.1M755.5 505h.1M756.1 475.2h.1M756.4 489.3h.1M757.1 485.6h.1M757.7 504.4h.1M759.6 491.8h.1M760 461.2h.1M760.5 516h.1M761.2 534h.1M761.9 496.1h.1M762.6 528.7h.1M763.7 525.4h.1M764.2 535.9h.1M764.9 535.3h.1M765.4 551.1h.1M766 517.4h.1M767.8 505.4h.1M768.4 521.3h.1M768.8 548.2h.1M769.4 579.4h.1M770.1 535.7h.1M770.7 530.6h.1M772 482.2h.1M772.5 492.3h.1M772.9 507.2h.1M774.2 537.9h.1M774.7 559.9h.1M777.8 516.3h.1M778.4 531.6h.1M778.8 479.4h.1M779.5 532.9h.1M780.6 582.4h.1M781.2 594h.1M781.7 534.7h.1M782.6 588.5h.1M783.1 618.1h.1M784 607.5h.1M784.6 584.2h.1M785.2 614.4h.1M786 513.3h.1M786.4 637h.1M787.8 592.8h.1M789 531.2h.1M789.5 568.2h.1M790.1 611.2h.1M790.5 511h.1M791.2 522.4h.1M791.9 560.4h.1M792.2 512.2h.1M792.9 634.3h.1M793.4 582.1h.1M794 591.8h.1M794.8 599.3h.1M795.5 600.9h.1M795.8 557h.1M796.6 503.3h.1M797.1 513.2h.1M797.8 566.7h.1M799 612.3h.1M799.5 539.6h.1M799.9 627.5h.1M800.5 612.9h.1M801.7 588.4h.1M802.4 634.5h.1M803 561.7h.1M803.4 581.9h.1M804.2 629h.1M804.7 562.8h.1M805.2 644h.1M805.8 602.9h.1M806.5 571.7h.1M807.1 583.6h.1M807.8 576.1h.1M808.2 585.9h.1M808.7 539.9h.1M809.4 576.1h.1M809.8 575.8h.1M811.1 604.6h.1M811.8 532.7h.1M812.2 546.8h.1M812.9 603.7h.1M813.6 564.9h.1M814.2 615.7h.1M814.7 648.1h.1M815.2 645h.1M815.9 649.5h.1M816.4 542h.1M817.1 577.2h.1M817.7 577h.1M818.2 537.3h.1M818.6 672.5h.1M819.2 556.9h.1M819.9 583.7h.1M820.6 556h.1M821.2 623.6h.1M821.8 573.1h.1M822.2 661.3h.1M823.1 542h.1M823.6 589.9h.1M824.2 632.9h.1M824.8 655.8h.1M825.4 651.7h.1M825.9 624.1h.1M826.2 641.9h.1M827 556.6h.1M827.5 661.7h.1M828.1 593.5h.1M828.8 545.2h.1M829.4 666.8h.1M830.7 604.1h.1M831.1 581h.1M831.6 634.3h.1M833 622.3h.1M833.5 596.1h.1M834 582.4h.1M835.2 608.5h.1M835.8 585.6h.1M836.8 555.1h.1M837.7 586.7h.1M838.1 623.1h.1M838.6 593.7h.1M839.4 611.7h.1M840 593.8h.1M840.6 613.8h.1M841 589h.1M841.8 606.7h.1M842.4 644.9h.1M843 584.1h.1M843.5 539.4h.1M844.1 555.3h.1M844.6 534.7h.1M845.1 592.4h.1M845.9 595.5h.1M846.4 637.2h.1M846.8 642h.1M847.6 550.7h.1M848.2 637.4h.1M848.6 593.2h.1M849.2 556.9h.1M849.8 558.1h.1M850.5 558.3h.1M851.6 610.7h.1M852.2 638.9h.1M853 652.4h.1M853.4 561.6h.1M853.8 637.4h.1M856.5 538.9h.1M856.9 603.6h.1M857.5 551.1h.1M858 589.2h.1M858.6 515.9h.1M859.4 642.5h.1M860.4 620.6h.1M861 621.8h.1M862.2 574.8h.1M862.7 529h.1M863.2 488.3h.1M864.2 604.5h.1M864.4 532.9h.1M865.1 592.8h.1M865.6 555h.1M866.4 529.1h.1M867 501.6h.1M867.4 445.4h.1M868 511.3h.1M868.7 517.4h.1M869.4 483h.1M869.8 522.1h.1M870.2 560.9h.1M871.7 507.3h.1M872.2 439.5h.1M872.8 433.5h.1M873.2 491.8h.1M873.8 488.9h.1M874.6 501.7h.1M876.2 462.9h.1M876.8 497.4h.1M877.6 470.1h.1M878.2 496.4h.1M878.8 427.9h.1M879.2 458.4h.1M879.7 477.5h.1M880.2 538.5h.1M880.9 468.8h.1M881.8 450.5h.1M882.1 436.1h.1M882.9 442.5h.1M884.1 507.7h.1M884.6 417.1h.1M885.2 417.2h.1M885.7 481.2h.1M886.8 502.9h.1M887.2 518.3h.1M887.9 451.6h.1M888.6 407h.1M889.2 435.5h.1M890.5 429.2h.1M891.1 424.7h.1M891.6 481.5h.1M892.1 514.2h.1M892.6 398h.1M893.2 512.4h.1M894 455.9h.1M894.5 440.2h.1M895.2 480.4h.1M895.9 489.1h.1M896.2 512.4h.1M896.9 395h.1M897.4 438.5h.1M898.1 483.1h.1M898.7 460.1h.1M899.2 433.3h.1M899.8 461h.1M900.2 455.7h.1M900.8 514.4h.1M902.8 400.9h.1M903.2 423.6h.1M903.8 444.1h.1M904.6 452.7h.1M905.1 398.4h.1M905.9 436.3h.1M906.2 483.7h.1M906.7 464.1h.1M907.5 528.6h.1M908.1 470.6h.1M908.5 489.4h.1M909.9 459h.1M911 509.6h.1M912.2 486.7h.1M912.6 524.8h.1M913.4 508.5h.1M914.1 491.2h.1M914.5 508.1h.1M915 546.7h.1M915.8 519.9h.1M916.1 570.2h.1M916.8 480.7h.1M917.5 514.7h.1M918.1 498.6h.1M918.6 492.8h.1M919.2 487.2h.1M919.8 505.3h.1M920.2 500.2h.1M920.8 515h.1M922.2 513.6h.1M922.7 541.6h.1M923.4 499.2h.1M923.8 529.2h.1M924.6 502.5h.1M926.4 489.7h.1M927.4 568.9h.1M928 521h.1M928.7 526.3h.1M929.2 487.8h.1M929.8 543.9h.1M930.2 479.8h.1M930.9 485.5h.1M932 504.3h.1M932.8 507.6h.1M933.4 473.9h.1M934.2 411h.1M935.2 468h.1M935.6 406.8h.1M936.4 472.6h.1M936.8 482.2h.1M937.4 500.6h.1M938.1 418.1h.1M938.6 538.1h.1M939.6 502.4h.1M941.4 532.1h.1M942.2 505h.1M943.2 507h.1M943.7 459.3h.1M944.4 499.3h.1M944.9 516h.1M945.7 484.7h.1M946.2 511.8h.1M946.9 471.7h.1M947.4 552.4h.1M947.8 515.6h.1M948.5 480.3h.1M949.1 516.7h.1M949.8 528.3h.1M950.8 475.9h.1M951.2 457.7h.1M952.2 454.3h.1M952.7 506.1h.1M953.1 534.5h.1M953.7 474.3h.1M954.5 545.2h.1M955.7 520.1h.1M956.7 473.2h.1M957.2 493.7h.1M957.8 558.5h.1M958.5 499.2h.1M958.9 559.7h.1M959.7 553.9h.1M960.2 581.2h.1M961.6 550.3h.1M961.9 629.5h.1M962.5 588.9h.1M963.4 574.2h.1M963.9 549.4h.1M964.2 554.6h.1M964.9 540.6h.1M965.6 569.9h.1M966.2 541.7h.1M966.6 577.1h.1M967.2 533.2h.1M968 589.4h.1M968.6 566.5h.1M969.2 593.9h.1M969.9 562.6h.1M970.2 606.6h.1M970.7 594.7h.1M971.4 621.8h.1M972 567.9h.1M972.7 529.2h.1M973.4 564.9h.1M973.8 620.8h.1M974.2 653h.1M975.1 594.7h.1M975.5 606.2h.1M976.1 529h.1M976.7 554.3h.1M977.4 628.8h.1M977.8 660h.1M978.6 539.1h.1M979.6 588.4h.1M980.2 570h.1M980.9 532.3h.1M982 532.4h.1M982.7 539.1h.1M983.2 587.3h.1M983.9 660.6h.1M984.2 645.4h.1M985 596.7h.1M985.4 541.6h.1M986.2 537.2h.1M986.8 623.6h.1M987.4 644.3h.1M988.1 526h.1M988.6 576.3h.1M989.1 544.2h.1M989.8 563.2h.1M990.2 638.3h.1M990.8 601.6h.1M991.6 634.7h.1M992 533.5h.1M992.6 584.4h.1M993.1 592.5h.1M994.5 587.8h.1M995 599.3h.1M995.5 603.9h.1M996.8 692.9h.1M997.2 614.3h.1M999.1 583.5h.1M999.7 626.7h.1M1000.1 550.7h.1M1000.9 653.2h.1M1001.2 586.3h.1M1002 528.7h.1M1003 599h.1M1003.9 647.3h.1M1004.2 679h.1M1004.9 668.7h.1M1005.4 581.5h.1M1006.7 546.6h.1M1007.4 659.5h.1M1007.8 587.9h.1M1008.5 688h.1M1009 573.2h.1M1009.7 642.5h.1M1010.7 572.9h.1M1011.5 708.7h.1M1011.9 684.6h.1M1013.1 592.1h.1M1013.7 540.4h.1M1014.2 518.4h.1M1014.9 535.3h.1M1015.4 643h.1M1017.2 680.6h.1M1017.7 562.1h.1M1019.1 590.5h.1M1019.5 685.5h.1M1020.1 624h.1M1020.9 585.4h.1M1021.4 601.8h.1M1022.5 574.5h.1M1023.1 597.3h.1M1023.7 654.6h.1M1024.2 645.8h.1M1024.8 608.5h.1M1025.4 693.9h.1M1026.2 603.7h.1M1027 564.5h.1M1027.9 540.3h.1M1028.5 672.3h.1M1029.2 507.3h.1M1029.5 520h.1M1030.7 498.3h.1M1031.2 676.7h.1M1031.9 513.2h.1M1033.7 518.7h.1M1034.7 541.7h.1M1035.5 618.4h.1M1035.9 585.3h.1M1036.8 628.9h.1M1037.4 545.8h.1M1037.8 546.2h.1M1038.2 571.2h.1M1039 535.7h.1M1040 563.2h.1M1040.7 549.2h.1M1041.4 598.3h.1M1041.8 623.6h.1M1042.5 537.1h.1M1043.2 573.3h.1M1043.5 545.4h.1M1044.4 564.1h.1M1044.9 596.3h.1M1045.2 566.2h.1M1046 650.3h.1M1046.5 626.8h.1M1047.2 613.4h.1M1048.5 563.2h.1M1048.9 660.8h.1M1049.7 555.7h.1M1050 586.3h.1M1050.7 644.3h.1M1051.2 603.4h.1M1051.7 641.8h.1M1052.5 648.3h.1M1053.2 601.9h.1M1053.8 565.4h.1M1054.2 584.7h.1M1054.9 541.6h.1M1055.2 612.5h.1M1056.2 568.4h.1M1056.4 624.4h.1M1057.8 652.6h.1M1058.5 600.9h.1M1058.8 580.1h.1M1059.5 574.8h.1M1060.2 570.4h.1M1060.9 541.8h.1M1061.4 570.6h.1M1062 584.4h.1M1062.5 668.5h.1M1063.2 616.2h.1M1064.4 615h.1M1064.8 666.5h.1M1065.4 650.1h.1M1066 606h.1M1066.5 616.1h.1M1067 675.4h.1M1067.9 639.8h.1M1068.5 569.2h.1M1068.8 596.4h.1M1069.5 594.2h.1M1070.5 593.5h.1M1071.2 557.2h.1M1071.8 566.2h.1M1072.4 632.6h.1M1073 517.7h.1M1073.8 570.8h.1M1074 522.2h.1M1074.7 625.9h.1M1075.5 688.9h.1M1076 508.1h.1M1076.5 615.6h.1M1077.2 620.7h.1M1077.5 681h.1M1078.2 648.9h.1M1079 491.8h.1M1079.2 512.3h.1M1080 585.4h.1M1080.7 601.9h.1M1081.8 550.7h.1M1083 606.3h.1M1083.5 461h.1M1084.8 583.5h.1M1085.5 571.8h.1M1085.9 534.6h.1M1086.5 641.1h.1M1087.2 633.8h.1M1087.7 567.4h.1M1088.5 566h.1M1088.8 664.1h.1M1089.5 568.1h.1M1090 480.6h.1M1090.5 564.8h.1M1091.4 568.1h.1M1091.9 567.1h.1M1092.4 576.9h.1M1092.9 471.1h.1M1094.2 570.4h.1M1094.8 557.5h.1M1095.4 496.5h.1M1095.9 561.4h.1M1096.7 555.5h.1M1097 539.1h.1M1097.7 599.1h.1M1098.2 602.8h.1M1098.7 581.3h.1M1099.5 545.9h.1M1099.9 584.1h.1M1101.2 566.1h.1M1101.8 545.8h.1M1102.5 473.4h.1M1103.2 564.1h.1M1103.5 603.4h.1M1104.2 518.8h.1M1104.8 582.9h.1M1105.4 557.3h.1M1105.8 534.2h.1M1106.5 613.1h.1M1106.9 535.2h.1M1107.7 575.8h.1M1108 551h.1M1108.9 555.8h.1M1109.2 577.5h.1M1110 545.7h.1M1110.5 517.8h.1M1111.8 602.1h.1M1112.5 566.3h.1M1113 514.2h.1M1113.5 562.1h.1M1114 499.3h.1M1114.5 477.3h.1M1115.9 525.4h.1M1116.5 533h.1M1116.9 566.7h.1M1117.7 505h.1M1118 556.1h.1M1118.7 591.8h.1M1119.4 573.6h.1M1120 614.4h.1M1120.5 607.3h.1M1121.2 589.6h.1M1121.7 519h.1M1122.5 529.7h.1M1122.8 588.7h.1M1123.5 480h.1M1124.7 549.2h.1M1125.2 526.1h.1M1126.5 496.3h.1M1127.2 523.6h.1M1127.5 502.9h.1M1128.7 549.9h.1M1129.4 510.7h.1M1130 532.6h.1M1130.5 482.5h.1M1131 552.6h.1M1131.9 540.6h.1M1132.4 475h.1M1133 580.8h.1M1133.5 500h.1M1134 530.6h.1M1134.5 531.1h.1M1135.5 551.6h.1M1135.9 521.2h.1M1136.4 549.7h.1M1137 496h.1M1137.8 526.9h.1M1138 518.8h.1M1138.9 485.9h.1M1140 526.3h.1M1140.4 557.4h.1M1141.2 485.5h.1M1141.5 505.9h.1M1143.5 557.2h.1M1144 550.8h.1M1144.5 542.3h.1M1145.2 512.7h.1M1145.8 521.4h.1M1146.5 572.2h.1M1146.9 590.3h.1M1147.5 535h.1M1148 514.3h.1M1148.9 539.9h.1M1149.5 505.2h.1M1149.9 559.4h.1M1150.7 548.3h.1M1151.2 563.6h.1M1151.5 538h.1M1152.4 530.4h.1M1152.8 517.6h.1M1153.9 603.6h.1M1154.8 555.7h.1M1155.4 481.3h.1M1156 523.7h.1M1156.4 574h.1M1156.9 585.3h.1M1157.5 576.6h.1M1158.2 550.6h.1M1158.7 523.4h.1M1159.5 581.4h.1M1160 601h.1M1160.5 540.2h.1M1161.2 582.3h.1M1161.7 591.3h.1M1162.2 562.2h.1M1162.9 557.3h.1M1163.4 543h.1M1164.2 564.9h.1M1164.8 582.2h.1M1165 578.9h.1M1166 563.1h.1M1166.2 577h.1M1166.9 482.3h.1M1167.5 479.5h.1M1168.2 550.5h.1M1168.7 591.1h.1M1169.5 582.8h.1M1170.5 515.8h.1M1171 521h.1M1171.8 595.4h.1M1172.4 494.2h.1M1172.9 524.4h.1M1173.5 590.8h.1M1174 564.5h.1M1174.7 578.6h.1M1175.4 565.7h.1M1175.5 531.1h.1M1176.4 535.3h.1M1176.9 503.1h.1M1177.4 520.1h.1M1178.5 527.9h.1M1179.2 509.6h.1M1179.9 488.9h.1M1180.5 491.7h.1M1181.2 555.3h.1M1181.5 586.6h.1M1182 492.6h.1M1183.5 541.1h.1M1184 533.7h.1M1184.5 514.1h.1M1185 574h.1M1185.8 578h.1M1186.2 502.6h.1M1186.9 511.5h.1M1187.5 528.6h.1M1188 536.2h.1M1188.5 532.1h.1M1189.2 514.2h.1M1189.8 492.1h.1M1190.4 482.2h.1M1191 517.2h.1M1191.5 540.9h.1M1192.8 601.2h.1M1193.2 527.1h.1M1194 580.3h.1M1195.2 588.6h.1M1195.5 548h.1M1196.5 575.8h.1M1197 506.6h.1M1197.4 542.2h.1M1198 611.2h.1M1199.2 542.5h.1M1199.9 640.5h.1M1200.4 529.9h.1M1201.7 495.5h.1M1202.4 622.1h.1M1202.7 639.1h.1M1203.5 619.6h.1M1203.9 584.6h.1M1204.4 610.5h.1M1205.2 627.9h.1M1206.8 596.8h.1M1207.5 522.1h.1M1208.2 520h.1M1208.8 542.9h.1M1209.2 622.2h.1M1210.4 638.5h.1M1211 589.3h.1M1211.5 613.5h.1M1212.2 660.9h.1M1212.7 552.5h.1M1213.5 646.1h.1M1214 556.9h.1M1214.4 605.2h.1M1215.2 606.4h.1M1215.8 606.4h.1M1216.4 617.5h.1M1217 661.1h.1M1217.5 645.3h.1M1218.2 638.2h.1M1218.5 657.6h.1M1219.2 640.8h.1M1219.8 645h.1M1220.2 697.1h.1M1221 677.8h.1M1221.7 663.2h.1M1222 606.8h.1M1222.7 690h.1M1223.5 675.1h.1M1224.5 643.8h.1M1225 597.5h.1M1225.7 567.5h.1M1226.2 627.3h.1M1226.7 655.9h.1M1228 661.5h.1M1229.2 657.8h.1M1230 600.7h.1M1231 682.5h.1M1232.2 648.7h.1M1232.5 606.2h.1M1233.4 681.6h.1M1233.8 695.7h.1M1234.5 677.2h.1M1235.2 692h.1M1236.8 596.6h.1M1237.5 566.6h.1M1238 714.2h.1M1238.8 661.3h.1M1239.2 705.6h.1M1239.7 598.9h.1M1240.2 559.1h.1M1240.9 600.1h.1M1241.5 626.7h.1M1242.9 534.2h.1M1243.2 604.8h.1M1243.8 582.5h.1M1244.5 519.2h.1M1245.2 625.6h.1M1245.5 543.3h.1M1246.2 521.2h.1M1247.2 642.3h.1M1248 552.3h.1M1248.7 667h.1M1249.2 564.6h.1M1249.8 586.2h.1M1250.4 621.8h.1M1250.9 575h.1M1251.5 640.5h.1M1252 548.3h.1M1252.9 586.3h.1M1253.2 582.9h.1M1254 639h.1M1255 693.9h.1M1255.7 629.8h.1M1256.8 560.1h.1M1257.5 611.2h.1M1258.2 659.4h.1M1259.2 671h.1M1259.9 666.3h.1M1260.5 639.8h.1M1260.8 610.2h.1M1261.4 677h.1M1262.2 550h.1M1263.4 587.2h.1M1264 647.7h.1M1264.5 631h.1M1265 546.8h.1M1265.5 590.1h.1M1266.2 555.4h.1M1267.2 596.6h.1M1268.5 550.7h.1M1269 659.7h.1M1269.7 597.8h.1M1270.2 544.8h.1M1270.8 647.4h.1M1271.7 535.8h.1M1272 634.1h.1M1272.5 564.6h.1M1273.2 535.3h.1M1273.8 604.5h.1M1274.5 566.1h.1M1274.9 600.8h.1M1275.7 552.8h.1M1276.2 534.7h.1M1276.9 598.7h.1M1277.4 612.9h.1M1278 528.5h.1M1278.5 503h.1M1279 573.5h.1M1279.8 496.9h.1M1281 548.9h.1M1281.5 548h.1M1282.2 512.2h.1M1282.7 551.3h.1M1284 482.2h.1M1284.4 518.9h.1M1285.2 492.7h.1M1285.7 477.7h.1M1286.2 462.4h.1M1286.8 479.4h.1M1288 478.7h.1M1288.5 501.8h.1M1289 516.2h.1M1289.5 511.3h.1M1290.2 538.5h.1M1290.8 524.5h.1M1291.4 484.8h.1M1292.2 474.6h.1M1292.8 434.3h.1M1293.4 473.6h.1M1293.8 525.8h.1M1294.2 539.8h.1M1295 484.2h.1M1295.5 507.2h.1M1296 484.3h.1M1296.5 428.8h.1M1297.2 516.1h.1M1298 512h.1M1298.5 490.3h.1M1299 440.4h.1M1299.8 495.7h.1M1300 444.5h.1M1300.9 515.3h.1M1301.2 561.7h.1M1302.2 500.9h.1M1303.5 468.8h.1M1304.9 548.2h.1M1306.2 428h.1M1307.8 494.7h.1M1308.5 451.6h.1M1309 544.9h.1M1309.8 439.9h.1M1310.2 478.1h.1M1311 472.7h.1M1311.5 443.3h.1M1312 537.2h.1M1313.2 492.6h.1M1314.5 467.4h.1M1314.8 402.5h.1M1315.7 401h.1M1316.9 426.3h.1M1317.5 435.5h.1M1317.8 497.2h.1M1318.5 477h.1M1319 396.5h.1M1319.5 367.1h.1M1320.2 406.1h.1M1320.9 414.9h.1M1321.5 428.1h.1M1322.5 470.7h.1M1323.2 474.8h.1M1323.7 388.9h.1M1324.9 394.6h.1M1325.4 368.1h.1M1326.2 402.1h.1M1326.7 394.9h.1M1327.2 495.7h.1M1327.9 414.4h.1M1328.4 443.2h.1M1328.9 498.7h.1M1329.7 396.2h.1M1330 490.9h.1M1330.9 484.7h.1M1331.2 422.8h.1M1332 462.2h.1M1333 523h.1M1333.8 439.6h.1M1334.2 471.9h.1M1334.9 460.6h.1M1335.5 473.4h.1M1336.2 475.4h.1M1336.8 518.4h.1M1337.8 433.6h.1M1338.2 480.9h.1M1338.9 462.2h.1M1339.5 498.1h.1M1340.2 460.3h.1M1340.9 461.3h.1M1341.2 442h.1M1341.9 481.9h.1M1342.5 432.5h.1M1343 438.7h.1M1343.9 437.8h.1M1344.4 536.4h.1M1345.5 530.8h.1M1345.9 463.6h.1M1346.5 410.9h.1M1347.2 511h.1M1348 541.5h.1M1348.2 513.4h.1M1349 495.3h.1M1349.7 389.1h.1M1350.2 470.7h.1M1350.5 528.9h.1M1351.4 439.3h.1M1352 491.1h.1M1352.7 497.3h.1M1353 498.2h.1M1353.9 501.9h.1M1354.2 559.6h.1M1354.8 555.8h.1M1355.5 479.7h.1M1356 523.6h.1M1357.2 483.8h.1M1357.8 535.7h.1M1358.4 495.4h.1M1359.2 531.1h.1M1359.5 617.4h.1M1360 588.6h.1M1360.7 583.3h.1M1361.4 592.1h.1M1362 522.8h.1M1362.4 574.4h.1M1363 578h.1M1363.5 649h.1M1364.2 493.3h.1M1364.8 594.9h.1M1365.5 527.8h.1M1365.9 622h.1M1366.7 549.4h.1M1367.4 583.6h.1M1367.9 530.8h.1M1368.2 511.1h.1M1368.9 527.6h.1M1369.5 675.5h.1M1370.2 604.3h.1M1370.8 499.2h.1M1371.2 691.8h.1M1371.9 692.7h.1M1372.4 591.3h.1M1373 598.2h.1M1374.2 723.4h.1M1374.7 549.2h.1M1375.5 659.4h.1M1376.5 711.6h.1M1377 597.9h.1M1377.9 692.2h.1M1378.2 520.4h.1M1378.9 587.3h.1M1379.7 497.2h.1M1380 595.1h.1M1380.9 657.6h.1M1381.2 644.9h.1M1381.8 691.8h.1M1382.2 583.2h.1M1383.2 607.2h.1M1383.8 533.2h.1M1384.4 694.8h.1M1384.9 597.9h.1M1385.9 654.6h.1M1386.5 591.6h.1M1387 650.3h.1M1387.7 541.8h.1M1388.2 635.6h.1M1389 547.5h.1M1389.4 635.3h.1M1390 673.6h.1M1390.5 687.7h.1M1391.5 698.3h.1M1392 630.2h.1M1392.2 683.9h.1M1393 610.7h.1M1393.8 579.9h.1M1394.2 623.1h.1M1394.9 518.5h.1M1395.2 677.7h.1M1396 688.6h.1M1396.5 670.4h.1M1397.2 714h.1M1397.8 530h.1M1398.2 698.3h.1M1399 625.4h.1M1399.7 661.4h.1M1400 622.8h.1M1400.8 633.1h.1M1401.2 650h.1M1401.8 656.8h.1M1402.2 588.1h.1M1403 674.2h.1M1403.5 616.5h.1M1404.2 647.8h.1M1405 664.8h.1M1405.2 591.7h.1M1405.9 595.5h.1M1406.5 646.6h.1M1407 669.9h.1M1407.5 641.6h.1M1408.4 556.5h.1M1409 620.6h.1M1409.2 737.8h.1M1409.9 610.4h.1M1410.7 692h.1M1411.4 562.7h.1M1411.8 601.9h.1M1412.5 644.9h.1M1412.9 579.1h.1M1413.7 763.6h.1M1414.2 713.6h.1M1414.8 587.3h.1M1415.2 734h.1M1416 622.6h.1M1416.5 542.7h.1M1417.2 586.5h.1M1417.7 754.2h.1M1418.2 745.6h.1M1419.5 586.2h.1M1420.2 567.3h.1M1420.7 530.1h.1M1421.2 685.7h.1M1422 665.8h.1M1422.2 532.8h.1M1423 669.1h.1M1424.2 660.6h.1M1424.7 709.6h.1M1425.5 539.4h.1M1425.9 545.5h.1M1426.7 629.6h.1M1427.2 671.2h.1M1427.7 633.2h.1M1428.4 535.4h.1M1428.9 731.8h.1M1429.5 700.3h.1M1430 584.4h.1M1430.5 591.6h.1M1431.2 735.6h.1M1431.9 670.3h.1M1432.5 658.3h.1M1433.4 617.2h.1M1434.2 605.3h.1M1434.7 621.7h.1M1435.2 612.6h.1M1436 696h.1M1436.5 552.8h.1M1437 724h.1M1437.5 638.5h.1M1438.2 669.5h.1M1438.9 555.3h.1M1439.2 662.8h.1M1440 623.8h.1M1440.8 564.3h.1M1441.2 634h.1M1442 579.5h.1M1442.5 568.7h.1M1443.5 542.7h.1M1444.2 569.1h.1M1444.8 682.5h.1M1445.2 653.3h.1M1445.8 634.2h.1M1446.5 695.4h.1M1447 539.4h.1M1447.8 592.9h.1M1448.8 612.7h.1M1449.5 681.1h.1M1450.5 670.4h.1M1451.8 572.2h.1M1452.5 616.5h.1M1452.9 555.8h.1M1453.5 519.3h.1M1454 489.6h.1M1454.9 634.7h.1M1455.2 457.6h.1M1455.9 509.7h.1M1456.5 552.1h.1M1457.2 545.3h.1M1457.5 519.8h.1M1458.7 546.5h.1M1459.4 512.6h.1M1460 504.9h.1M1460.5 523.6h.1M1461.8 591.9h.1M1462.4 376.7h.1M1462.8 484.5h.1M1463.5 429.4h.1M1464 581.7h.1M1464.7 659.2h.1M1465.4 530.7h.1M1465.9 392.3h.1M1466.5 404.8h.1M1467 510.5h.1M1467.5 615h.1M1468.2 588.7h.1M1468.7 491.1h.1M1469.2 479.2h.1M1469.9 584.9h.1M1470.5 413.3h.1M1471 428.8h.1M1471.8 457.2h.1M1473 497.5h.1M1473.5 531.7h.1M1474 540.3h.1M1474.5 696h.1M1475.2 540.9h.1M1475.7 397.1h.1M1476.5 547.9h.1M1477.5 671.7h.1M1478.4 623.2h.1M1478.7 489.4h.1M1479.4 631.5h.1M1479.9 557.5h.1M1480.5 545.6h.1M1481.9 600.2h.1M1482.8 393.1h.1M1483.2 362.2h.1M1484.2 533.7h.1M1485.2 442.1h.1M1485.8 528h.1M1486.2 377.6h.1M1486.9 431.9h.1M1487.8 523.7h.1M1488.2 475.9h.1M1488.7 499.7h.1M1489.5 489.6h.1M1489.9 481.4h.1M1490.7 509.6h.1M1491 665.4h.1M1492.2 477.2h.1M1493 531.6h.1M1493.4 614.5h.1M1494.2 552.8h.1M1494.7 420.6h.1M1495.2 434.2h.1M1496.5 462h.1M1497.2 508.5h.1M1497.8 554.1h.1M1498.2 346.8h.1M1498.8 486.3h.1M1499.2 510.7h.1M1499.9 401.4h.1M1500.7 356h.1M1501.2 519.2h.1M1501.8 487.8h.1M1502.2 665.6h.1M1502.8 449.9h.1M1504 488.5h.1M1505.2 381.5h.1M1505.9 427.2h.1M1506.5 554.8h.1M1507 448.2h.1M1507.4 673.9h.1M1508 607.1h.1M1508.5 593h.1M1509.2 450.1h.1M1510 601h.1M1510.5 602.4h.1M1511.8 494.1h.1M1512 404.5h.1M1512.9 502.8h.1M1513.5 418.8h.1M1514 497.9h.1M1514.5 371.3h.1M1515.2 439.9h.1M1515.5 452.2h.1M1516.2 576.5h.1M1516.8 552h.1M1517.4 668.6h.1M1518.5 397.8h.1M1520 428h.1M1520.4 363.2h.1M1521.2 360.8h.1M1522 575.7h.1M1523 558.6h.1M1523.5 371.3h.1M1523.8 640.3h.1M1524.5 442.4h.1M1525 438.4h.1M1525.7 514.1h.1M1526.2 389.9h.1M1526.9 517.5h.1M1527.5 482.1h.1M1528.2 472.7h.1M1528.5 457.2h.1M1529.2 537.9h.1M1530 521.9h.1M1530.4 598.2h.1M1531.5 484.5h.1M1532 470.5h.1M1532.7 607.5h.1M1533.2 486.7h.1M1534 479.3h.1M1534.5 546.8h.1M1535 637.9h.1M1535.7 571.8h.1M1536.2 438.5h.1M1537 397.8h.1M1537.4 478.6h.1M1538 448.4h.1M1539.2 440.1h.1M1539.9 511h.1M1540.2 500.8h.1M1541.2 560.7h.1M1541.7 501.7h.1M1542.2 581.1h.1M1542.9 497.6h.1M1543.2 628.1h.1M1543.9 483h.1M1544.7 611.7h.1M1545.2 546.8h.1M1546.4 499.3h.1M1546.8 507.9h.1M1547.7 624.6h.1M1548.2 568.9h.1M1548.5 568.2h.1M1549.2 535.4h.1M1549.7 609.8h.1M1550.5 596.5h.1M1551.2 548.8h.1M1551.5 620.2h.1M1552 586.2h.1M1552.9 490.2h.1M1553.5 617.3h.1M1554 542.3h.1M1555.2 536.4h.1M1555.8 506.5h.1M1556.2 505.3h.1M1556.8 573.7h.1M1558 544.4h.1M1558.5 467.7h.1M1559 522.4h.1M1560 513.3h.1M1560.9 502.2h.1M1562.2 597.8h.1M1562.8 597.9h.1M1563.2 676.6h.1M1564 473h.1M1564.4 588.7h.1M1565 539.1h.1M1566 610.8h.1M1567 592.3h.1M1567.5 602.9h.1M1568.2 479.5h.1M1568.8 439.5h.1M1570 583.5h.1M1570.2 623.5h.1M1571.7 570.1h.1M1572 558.7h.1M1572.9 475.2h.1M1573.5 614.3h.1M1573.8 480.6h.1M1574.4 460.5h.1M1575 517.4h.1M1575.5 589.3h.1M1576.4 518.2h.1M1576.9 659.3h.1M1577.4 615.9h.1M1578 577.8h.1M1578.7 510.9h.1M1579.2 561.9h.1M1580.4 533.8h.1M1581 504.6h.1M1581.5 670.8h.1M1582 546.3h.1M1582.5 486.2h.1M1583.2 558.8h.1M1584 451.3h.1M1584.4 458.3h.1M1585.2 561h.1M1585.8 570.3h.1M1586.2 681.8h.1M1586.7 607.1h.1M1587.5 632.6h.1M1588.5 457.6h.1M1589.2 495h.1M1589.8 489.9h.1M1590.2 468.6h.1M1590.8 626.1h.1M1591.5 519.2h.1M1592.8 610.2h.1M1593.4 487h.1M1593.9 519.5h.1M1594.5 465.4h.1M1594.9 409.2h.1M1595.5 495.2h.1M1596.9 561.1h.1M1597.4 627h.1M1597.8 564.6h.1M1598.5 615.9h.1M1599.2 625.5h.1M1599.8 546.5h.1M1600.4 652.6h.1M1601 504.2h.1M1601.5 646.1h.1M1602 595.1h.1M1602.8 611.3h.1M1603.2 510.6h.1M1604 598.9h.1M1604.4 651.7h.1M1605 712.6h.1M1605.8 670.6h.1M1606.4 637.4h.1M1606.5 706.7h.1M1607.5 620.1h.1M1607.9 622.7h.1M1608.7 687.1h.1M1609 699.7h.1M1609.7 674h.1M1610.2 701.9h.1M1611 634.2h.1M1612.2 660.7h.1M1612.7 701.6h.1M1613.2 712.8h.1M1613.7 626.5h.1M1614.4 660.6h.1M1615 636.3h.1M1616.2 729h.1M1616.9 606.6h.1M1617.2 620.9h.1M1617.8 703.9h.1M1618.5 580.9h.1M1619.8 567.8h.1M1620.4 669.4h.1M1621 642.1h.1M1621.4 712.4h.1M1622 715.8h.1M1622.7 629.3h.1M1623.4 552.1h.1M1623.8 655.6h.1M1624.5 620.4h.1M1625 549.9h.1M1626.7 658.1h.1M1627.4 634.9h.1M1627.9 618.8h.1M1628.5 521.9h.1M1629 609h.1M1629.8 561.7h.1M1630.4 665.4h.1M1631 673.5h.1M1631.5 545h.1M1632.2 636.4h.1M1633.2 557.7h.1M1634 625.7h.1M1634.9 570h.1M1635.7 662.4h.1M1636.2 649.8h.1M1636.8 598.6h.1M1637.5 593.3h.1M1637.8 610.4h.1M1639.2 603.7h.1M1639.7 582.8h.1M1640 572.3h.1M1640.8 606.8h.1M1641.2 678.6h.1M1642 582.3h.1M1642.7 615.7h.1M1643.2 598.9h.1M1643.7 567.1h.1M1644.5 613.1h.1M1645 632.1h.1M1646 612.8h.1M1647.2 540.2h.1M1648 543.2h.1M1648.4 569.2h.1M1649 590.4h.1M1649.8 584.7h.1M1650.4 541.6h.1M1650.9 601.8h.1M1651.4 632.7h.1M1652 588.9h.1M1652.5 632.2h.1M1653 603.3h.1M1653.9 633.3h.1M1654.2 606.3h.1M1655 579.6h.1M1655.7 604.9h.1M1656.2 601h.1M1656.9 535.9h.1M1657.4 532.5h.1M1657.9 539.3h.1M1658.5 556.4h.1M1659.2 559h.1M1659.8 570.8h.1M1661.5 569.6h.1M1662 550.8h.1M1662.5 551.7h.1M1663 558.4h.1M1663.9 559.4h.1M1664.4 526.5h.1M1664.8 575h.1M1665.5 505.9h.1M1666 602.5h.1M1666.8 492.4h.1M1667.2 572.2h.1M1668 542.9h.1M1668.4 567.1h.1M1669 577.2h.1M1669.8 568.3h.1M1670.4 508.1h.1M1671 497.5h.1M1671.5 509.7h.1M1673 553.7h.1M1673.7 531.5h.1M1674.5 520.9h.1M1674.8 558.3h.1M1675.5 545.8h.1M1676 549.8h.1M1677.9 538.7h.1M1678.5 551.8h.1M1679 557h.1M1680.2 533.6h.1M1680.9 512.5h.1M1681.2 498.3h.1M1681.9 559.9h.1M1682.5 572h.1M1683 553.5h.1M1683.7 519.2h.1M1684.2 570.1h.1M1684.9 565.6h.1M1686 472.9h.1M1686.5 509h.1M1687.2 496.5h.1M1688.5 472.5h.1M1689.5 548h.1M1690 545.7h.1M1690.7 481.2h.1M1691.4 508.1h.1M1692 539.3h.1M1692.4 567.6h.1M1693.2 475.6h.1M1694.2 525.4h.1M1694.8 532.8h.1M1695.4 528.4h.1M1696 561.4h.1M1696.5 521.3h.1M1697.2 527h.1M1697.7 516.9h.1M1698.4 522.5h.1M1699 493.6h.1M1699.5 552.2h.1M1700.2 463.4h.1M1700.5 522.7h.1M1701.5 518.4h.1M1702 544.9h.1M1702.5 548.8h.1M1703 492.6h.1M1703.5 503.5h.1M1704 568.3h.1M1704.7 529.9h.1M1705.2 467.9h.1M1706 522.7h.1M1706.5 488.1h.1M1707.2 544.1h.1M1707.7 523.1h.1M1708.4 465.7h.1M1709.7 516.5h.1M1710.2 460.6h.1M1710.8 533.3h.1M1711.9 546.9h.1M1712.5 467.7h.1M1713.2 498.8h.1M1713.8 524.1h.1M1714.2 503.5h.1M1714.8 494.9h.1M1715.4 518.4h.1M1715.8 496.2h.1M1716.5 487.5h.1M1717.2 534.2h.1M1717.7 538h.1M1718.2 554.4h.1M1719 575.4h.1M1719.5 534.4h.1M1720 544.7h.1M1720.7 560h.1M1721.7 481.8h.1M1722.2 475.7h.1M1723 545.6h.1M1723.5 497.7h.1M1724.4 523.3h.1M1724.9 509.3h.1M1725.5 575.2h.1M1725.9 513.3h.1M1726.5 534.5h.1M1727 515.6h.1M1727.9 515.7h.1M1728.2 554.6h.1M1729 535.1h.1M1729.4 555.3h.1M1730 526h.1M1730.8 510.5h.1M1731.2 454.9h.1M1731.9 536.9h.1M1732.4 574.6h.1M1732.9 494.8h.1M1734.4 554.1h.1M1735 527.1h.1M1735.2 570.7h.1M1735.9 520.5h.1M1737.2 482.6h.1M1737.7 521.5h.1M1738.9 590.6h.1M1739.4 575.3h.1M1740.2 548.7h.1M1740.8 548.5h.1M1741 584.5h.1M1742 530.9h.1M1742.4 584h.1M1743 541.7h.1M1743.7 560.1h.1M1744.4 556.6h.1M1744.8 557.4h.1M1745.4 541.3h.1M1746 554.7h.1M1746.5 568h.1M1747.2 544.1h.1M1747.9 571h.1M1748.2 525.4h.1M1749 518.6h.1M1749.2 513.6h.1M1750.2 571.9h.1M1750.8 543.8h.1M1751.2 515.5h.1M1751.7 564.1h.1M1752.5 549h.1M1753 568.5h.1M1753.5 529.1h.1M1754 551.7h.1M1754.7 572.5h.1M1755.4 566.1h.1M1755.9 543.5h.1M1756.5 543.8h.1M1757.2 548.5h.1M1757.5 548.2h.1M1758.2 534.9h.1M1758.8 560h.1M1759.2 606.4h.1M1760.2 570.3h.1M1760.8 587.7h.1M1761.2 546.3h.1M1761.7 573.5h.1M1762.5 566.6h.1M1762.8 539.2h.1M1763.5 565.9h.1M1764.2 557.8h.1M1764.7 581.2h.1M1765.2 565.3h.1M1765.9 589.8h.1M1766.5 560.7h.1M1767 597.1h.1M1767.7 539.3h.1M1768.2 569.1h.1M1768.9 532.5h.1M1769.5 545.8h.1M1770 549.6h.1M1770.5 576.9h.1M1771 541.8h.1M1771.7 580.9h.1M1772.4 554.4h.1M1772.9 560.6h.1M1773.5 588.8h.1M1774 536h.1M1774.8 558.4h.1M1775.4 529.7h.1M1776 577.2h.1M1776.5 605.9h.1M1777 573.5h.1M1777.5 581.1h.1M1778.4 560.9h.1M1778.8 570.4h.1M1779.5 538.8h.1M1780 598.1h.1M1780.5 579.9h.1M1781 576.4h.1M1781.9 571.1h.1M1782.4 601.6h.1M1782.9 571.8h.1M1783.7 584.2h.1M1784 580.1h.1M1784.9 517.9h.1M1785.2 574h.1M1786 559.4h.1M1786.5 543.1h.1M1787.2 563.8h.1M1787.7 570.3h.1M1788.2 515.4h.1M1788.8 530.3h.1M1789.4 544.7h.1M1790 566.9h.1M1790.7 544.7h.1M1791.2 546.1h.1M1791.7 567.8h.1M1792.2 571.4h.1M1793 511.2h.1M1793.7 562.4h.1M1794 543.2h.1M1794.5 513.5h.1M1795.4 512.3h.1M1795.8 490.9h.1M1796.4 513.4h.1M1797 495.4h.1M1797.8 494.1h.1M1798.4 546.8h.1M1798.7 511.9h.1M1799.4 513.8h.1M1800 545h.1M1800.5 532.6h.1M1801.2 498.9h.1M1801.5 531.4h.1M1802.2 507.7h.1M1802.9 517.7h.1M1803.5 487.1h.1M1804.2 491.3h.1M1804.5 475.2h.1M1805.2 503.8h.1M1805.8 524.9h.1M1806.5 484.5h.1M1807 496.5h.1M1807.7 494.4h.1M1808.2 526.8h.1M1808.9 533.3h.1M1809.5 574.4h.1M1810 521h.1M1810.5 501.7h.1M1811 524.5h.1M1811.7 524.1h.1M1812.2 525.5h.1M1812.7 530.7h.1M1813.5 582.2h.1M1814 563.2h.1M1814.8 554.3h.1M1815 553.5h.1M1816 539.2h.1M1816.4 587.6h.1M1817 596.7h.1M1817.5 585.7h.1M1818.2 563.4h.1M1819 573.3h.1M1819.5 575.7h.1M1820 569.1h.1M1820.7 562.9h.1M1821.2 589.8h.1M1821.5 587.3h.1M1822.4 550.1h.1M1822.9 549.7h.1M1823.4 568.7h.1M1824 575.8h.1M1824.8 551.1h.1M1825 558.9h.1M1825.8 585.3h.1M1826.4 590.6h.1M1826.9 586.2h.1M1827.5 604.9h.1M1828 582.7h.1M1828.9 577.7h.1M1829.2 557.2h.1M1830 545.3h.1M1830.2 581.4h.1M1831.2 560.5h.1M1831.8 589.2h.1M1832.4 577.4h.1M1832.8 584.2h.1M1833.5 582.1h.1M1834 521.3h.1M1834.5 560.8h.1M1835.2 550.9h.1M1835.8 510.6h.1M1836.4 554.2h.1M1836.9 548.6h.1M1837.7 535.3h.1M1838 532.6h.1M1838.9 500.6h.1M1839.4 526.6h.1M1839.8 558.4h.1M1840.5 539.7h.1M1841 557.7h.1M1841.5 553.8h.1M1842.2 541.5h.1M1842.7 569.2h.1M1843.5 566.9h.1M1844 513.5h.1M1844.7 549.8h.1M1845 571.9h.1M1845.7 590.1h.1M1846.2 586.6h.1M1846.9 562.2h.1M1847.5 544.9h.1M1848.2 557h.1M1848.5 583.9h.1M1849.2 554.2h.1M1849.8 534.9h.1M1850.4 552.4h.1M1851.2 512.1h.1M1851.7 553.8h.1M1852.4 575.2h.1M1852.8 499.9h.1M1853.2 535.4h.1M1854 521.4h.1M1854.7 538.3h.1M1855 530.8h.1M1855.7 542.4h.1M1856.5 556.7h.1M1856.8 574.6h.1M1857.7 533.2h.1M1858 559.5h.1M1858.7 567.3h.1M1859.2 542.8h.1M1859.8 558.5h.1M1860.4 535h.1M1861 527.5h.1M1861.5 531.2h.1M1862.4 508.6h.1M1862.7 546.4h.1M1863.4 552.1h.1M1863.9 540.1h.1M1864.7 572.9h.1M1865 555.9h.1M1865.5 570.2h.1M1866.2 494.2h.1M1866.9 497.7h.1M1867.5 484.9h.1M1868 560.8h.1M1868.7 547.3h.1M1869.2 549.8h.1M1869.9 536.8h.1M1870.5 519.3h.1M1871.2 556.2h.1M1871.7 536.9h.1M1872.2 540h.1M1872.7 544h.1M1873.4 520.1h.1M1874 552.3h.1M1874.5 516.9h.1M1875.2 519.7h.1M1875.7 579.8h.1M1876.4 548h.1M1876.9 549.1h.1M1877.4 547.9h.1M1877.9 584.1h.1M1878.8 562h.1M1879.4 548.6h.1M1880 576.8h.1M1880.5 547.1h.1M1880.9 509h.1M1881.7 540.5h.1M1882.2 528h.1M1882.7 538.6h.1M1883.4 547.3h.1M1883.9 577.2h.1M1884.5 558.7h.1M1885.2 547.9h.1M1885.5 565.1h.1M1886.4 535.6h.1M1886.8 531.4h.1M1887.5 531.4h.1M1888 520.2h.1M1888.7 521.5h.1M1889.2 571.5h.1M1889.7 533h.1M1890.4 532.4h.1M1891 559.2h.1M1891.5 534.1h.1M1892 535.9h.1M1892.5 543.4h.1M1893.4 521.7h.1M1894 492.6h.1M1894.5 504.5h.1M1895.2 527.7h.1M1895.5 550.1h.1M1896.2 551.8h.1M1896.7 493.6h.1M1897.4 523.5h.1M1898 551h.1M1898.7 555.4h.1M1899.2 540.6h.1M1899.9 520h.1M1900.5 546.3h.1M1900.9 532.1h.1M1901.5 543.5h.1M1902.2 510.7h.1M1902.7 514.1h.1M1903.2 514.7h.1M1904 525.5h.1M1904.5 524.5h.1M1905.2 529.8h.1M1905.7 475.6h.1M1906.2 538.9h.1M1906.8 527.8h.1M1907.4 475.8h.1M1908 509.6h.1M1908.5 535.9h.1M1909.2 562h.1M1909.5 562.8h.1M1910.2 549.7h.1M1910.9 558.7h.1M1911.7 515.3h.1M1912 520.7h.1M1912.9 562.9h.1M1913.2 527.6h.1M1913.9 536h.1M1914.4 537.2h.1M1915.2 531.9h.1M1915.5 527.1h.1M1916.2 548.8h.1M1916.7 529.4h.1M1917.2 507.7h.1M1918 511.7h.1M1918.8 517.4h.1M1919 542.9h.1M1919.9 549h.1M1920.2 539.3h.1M1921 540h.1M1921.4 547.5h.1M1922.2 551.8h.1M1922.5 550.9h.1M1923.2 539.5h.1M1924 528.1h.1M1924.2 516.1h.1M1925 545.1h.1M1925.5 538.6h.1M1926 536.9h.1M1926.9 553.7h.1M1927.4 534.1h.1M1927.9 529.9h.1M1928.5 545.9h.1M1929.2 544.2h.1M1929.8 570.3h.1M1930.2 563h.1M1931 569.2h.1M1931.5 578.1h.1M1932 547.8h.1M1932.7 574.7h.1M1933.2 567.5h.1M1933.9 559h.1M1934.4 563.3h.1M1935 567.8h.1M1935.8 568.1h.1M1936 573.5h.1M1936.9 556.5h.1M1937.5 542.1h.1M1937.9 566.5h.1M1938.5 583.6h.1M1939 566h.1M1939.8 575h.1M1940.2 583.2h.1M1941 578.8h.1M1941.5 600.2h.1M1941.9 585.5h.1M1942.8 574.5h.1M1943 573.4h.1M1943.8 575.9h.1M1944.4 556.7h.1M1945 561.6h.1M1945.5 599.8h.1M1946.2 571.9h.1M1946.9 566.7h.1M1947.2 565.2h.1M1948 554.5h.1M1948.4 571h.1M1949.2 583.3h.1M1949.5 564.7h.1M1950.2 558.5h.1M1951 556.6h.1M1951.4 553h.1M1952.2 539.5h.1M1952.5 570.3h.1M1953.2 551.1h.1M1953.9 549.8h.1M1954.4 572.5h.1M1955 574.3h.1M1955.7 535.6h.1M1956.2 534.1h.1M1956.8 540.9h.1M1957.5 582.5h.1M1958 525.9h.1M1958.5 534.9h.1M1959 518.1h.1M1959.8 549.9h.1M1960.4 554.2h.1M1960.7 509.1h.1M1961.4 554h.1M1962 545.6h.1M1962.5 512.9h.1M1963.2 524.6h.1M1963.8 508.7h.1M1964.2 531.4h.1M1965 536.8h.1M1965.5 540.3h.1M1966.2 528.7h.1M1966.8 541.7h.1M1967.5 528.3h.1M1967.8 523.2h.1M1968.4 522.1h.1M1969.2 513h.1M1969.8 530.4h.1M1970.2 525.4h.1M1970.8 508.4h.1M1971.5 539.6h.1M1972 519.1h.1M1972.5 521.8h.1M1973 530.1h.1M1973.7 520h.1M1974.2 516.2h.1M1975 498.4h.1M1975.7 508.1h.1M1976.2 492.5h.1M1976.9 534.1h.1M1977.5 510.4h.1M1977.8 523h.1M1978.5 500.4h.1M1979.2 527.8h.1M1979.8 527.9h.1M1980.2 497.8h.1M1980.9 524.7h.1M1981.4 521.8h.1M1981.9 525.8h.1M1982.4 527.5h.1M1983.2 512.1h.1M1983.9 554.8h.1M1984.5 553.7h.1M1984.8 509.1h.1M1985.5 515.6h.1M1986.2 502.2h.1M1986.5 489.6h.1M1987.2 514.1h.1M1987.8 534.9h.1M1988.5 531h.1M1989 530.9h.1M1989.7 557h.1M1990 516.2h.1M1990.8 518.1h.1M1991.2 525.5h.1M1991.8 550.9h.1M1992.4 495h.1M1993.2 553.1h.1M1993.5 526.5h.1M1994.4 537h.1M1995 564h.1M1995.5 547.6h.1M1995.9 537.5h.1M1996.9 519.5h.1M1997.2 513.2h.1M1998 522.8h.1M1998.2 508.9h.1M1999 539.1h.1M1999.7 559h.1M2000.4 544h.1M2000.7 560.9h.1M2001.5 555.5h.1M2002 542.9h.1M2002.5 522.5h.1M2003.2 529.1h.1M2003.5 570h.1M2004.2 574.2h.1M2004.8 550.1h.1M2005.2 518h.1M2006 541.7h.1M2006.8 532.9h.1M2007.2 553.1h.1M2007.7 518.2h.1M2008.5 497.2h.1M2009 516.2h.1M2009.5 547.4h.1M2010 557h.1M2010.9 541.1h.1M2011.4 534.6h.1M2012 524.2h.1M2012.5 512h.1M2013 523.6h.1M2013.5 503.8h.1M2014.4 491.1h.1M2014.8 505.1h.1M2015.4 562.7h.1M2016 578h.1M2016.5 534.6h.1M2017 544.4h.1M2017.9 521.1h.1M2018.4 532.7h.1M2019 516.8h.1M2019.5 526.5h.1M2020.4 507.9h.1M2020.7 546h.1M2021.5 491h.1M2021.8 531.7h.1M2022.5 529.5h.1M2023.2 517.7h.1M2023.9 502.5h.1M2024.4 519.8h.1M2025 538.9h.1M2025.5 535.2h.1M2026.2 512.3h.1M2026.7 505.6h.1M2027 549h.1M2027.9 511.5h.1M2028.4 535.4h.1M2029 562.2h.1M2029.5 509h.1M2030 518.5h.1M2030.5 541.2h.1M2031.2 518.5h.1M2031.9 496.6h.1M2032.5 486.8h.1M2033 530.2h.1M2033.8 537.3h.1M2034.2 543.3h.1M2034.8 524.9h.1M2035.4 513.2h.1M2036 558.5h.1M2036.5 505.8h.1M2037.2 509.6h.1M2037.7 536h.1M2038.5 527h.1M2039 508.8h.1M2039.5 512.8h.1M2040.2 509.8h.1M2040.7 520.2h.1M2041.2 558.6h.1M2042 544h.1M2042.4 546.5h.1M2043 531.1h.1M2043.5 545h.1M2044 519h.1M2044.9 506.7h.1M2045.2 528h.1M2046 496.1h.1M2046.5 523h.1M2047.2 554.1h.1M2047.7 527.7h.1M2048.3 515.4h.1M2048.9 536.6h.1M2049.4 536.9h.1M2050.2 542.7h.1M2050.6 531.4h.1M2051.3 513.3h.1M2051.9 562h.1M2052.3 532.2h.1M2052.9 531.2h.1M2053.6 522.8h.1M2054.1 532.4h.1M2054.6 528.7h.1M2055.2 552.4h.1M2055.8 553.5h.1M2056.4 567.4h.1M2057 526.2h.1M2057.8 514.6h.1M2058.4 560.6h.1M2058.8 525.2h.1M2059.3 543.4h.1M2060 508.8h.1M2060.5 523.9h.1M2061.3 545.9h.1M2061.8 546.2h.1M2062.2 514.3h.1M2062.9 512.1h.1M2063.4 552.3h.1M2064.1 539.3h.1M2064.6 546.5h.1M2065.4 551.9h.1M2066 557.2h.1M2066.4 542.4h.1M2067 555.9h.1M2067.5 526.8h.1M2068.4 544.3h.1M2068.8 541.6h.1M2069.4 534.4h.1M2069.8 542.2h.1M2070.8 561.3h.1M2071.1 557.6h.1M2071.9 551.1h.1M2072.2 561.7h.1M2073 566h.1M2073.4 588.6h.1M2074.1 563.8h.1M2074.8 558.6h.1M2075.4 551.3h.1M2075.8 563.4h.1M2076.3 578.6h.1M2076.9 585.7h.1M2077.8 565.3h.1M2078.4 566.6h.1M2078.8 595.5h.1M2079.4 572.2h.1M2079.8 583.3h.1M2080.4 569.2h.1M2081.1 574.1h.1M2081.8 600.9h.1M2082.3 584.2h.1M2083 597.7h.1M2083.6 551.4h.1M2084.2 569.5h.1M2084.8 582.2h.1M2085.2 579.5h.1M2086 576.7h.1M2086.4 567.8h.1M2087.1 588.1h.1M2087.6 578.1h.1M2088.2 567.2h.1M2088.8 569h.1M2089.2 532.5h.1M2090 581.9h.1M2090.8 536.6h.1M2091.1 546.3h.1M2091.8 553.9h.1M2092.3 550.4h.1M2092.8 557.8h.1M2093.4 519.9h.1M2094.1 558.8h.1M2094.5 499h.1M2095.4 507h.1M2095.9 537.7h.1M2096.3 556.6h.1M2097 534.5h.1M2097.6 523.1h.1M2098.2 542.7h.1M2098.8 541.3h.1M2099.2 542.9h.1M2099.8 534.2h.1M2100.5 508.5h.1M2101.2 500.4h.1M2101.5 531.9h.1M2102.4 550.2h.1M2103 533.8h.1M2103.6 547.1h.1M2104.1 506.9h.1M2104.8 529.9h.1M2105.1 517.2h.1M2105.8 520.1h.1M2106.5 540h.1M2107 552.9h.1M2107.8 551.4h.1M2108 548.9h.1M2108.8 522.5h.1M2109.5 510.3h.1M2110.1 539h.1M2110.5 539.8h.1M2111 549.4h.1M2111.6 545.4h.1M2112.3 529.8h.1M2112.9 540.8h.1M2113.5 546.2h.1M2114.1 563.6h.1M2114.8 558.5h.1M2115 548.7h.1M2115.8 536.7h.1M2116.5 529.9h.1M2117.1 522.9h.1M2117.8 554.7h.1M2118.2 555.1h.1M2118.8 545.8h.1M2119.4 543.3h.1M2120 520.1h.1M2120.6 528.8h.1M2121.1 550.1h.1M2121.6 534.8h.1M2122.1 537.8h.1M2123 555.1h.1M2123.4 546.2h.1M2124 544.8h.1M2124.8 543h.1M2125.2 556.1h.1M2125.9 548.1h.1M2126.2 542.5h.1M2127.1 553.3h.1M2127.6 564h.1M2128.1 537.7h.1M2128.9 562.4h.1M2129.4 546.6h.1M2129.9 552.8h.1M2130.3 539.1h.1M2130.9 522.8h.1M2131.8 543.1h.1M2132.1 550.3h.1M2132.9 551.6h.1M2133.5 531h.1M2133.9 528.2h.1M2134.6 534h.1M2135 539.4h.1M2135.8 525.9h.1M2136.3 543.4h.1M2137.1 550.2h.1M2137.4 517.5h.1M2138.2 544.8h.1M2138.8 535.8h.1M2139.3 541.5h.1M2139.9 513.9h.1M2140.4 523.6h.1M2140.9 551.3h.1M2141.8 550.7h.1M2142.1 552.7h.1M2142.8 568.4h.1M2143.5 540.3h.1M2144 531.3h.1M2144.4 539.6h.1M2145.1 532h.1M2145.8 555h.1M2146.4 564.6h.1M2146.8 538.8h.1M2147.8 539.1h.1M2148.3 515.9h.1M2148.9 520.8h.1M2149.2 529.8h.1M2150 535.7h.1M2150.4 532.9h.1M2150.9 548h.1M2151.5 542.9h.1M2152.1 535.3h.1M2152.8 531.8h.1M2153.3 551.1h.1M2154 545.4h.1M2154.8 555.9h.1M2155.3 545.8h.1M2155.9 537h.1M2156.4 555.9h.1M2156.9 550.8h.1M2157.5 546.2h.1M2158.2 555.3h.1M2158.8 538.4h.1M2159.3 529.5h.1M2159.8 541.8h.1M2160.5 531.5h.1M2161.1 545.5h.1M2161.6 536.1h.1M2162.2 545.3h.1M2162.9 538.7h.1M2163.4 548.2h.1M2164 534.3h.1M2164.4 533.9h.1M2165 547.2h.1M2165.8 535.6h.1M2166.3 541.1h.1M2167 557.4h.1M2167.6 554.3h.1M2168 565.4h.1M2168.8 534h.1M2169.4 525.9h.1M2169.8 518.4h.1M2170.4 530.3h.1M2171.1 528.6h.1M2171.6 563h.1M2172.2 519h.1M2172.8 526.6h.1M2173.5 543.6h.1M2174.1 541.4h.1M2174.6 531.9h.1M2175.1 552.1h.1M2175.8 540.2h.1M2176.2 566.7h.1M2176.9 517h.1M2177.5 533.5h.1M2177.9 534.5h.1M2178.8 540h.1M2179.3 559.2h.1M2179.8 567.1h.1M2180.6 521.6h.1M2181.1 525.8h.1M2181.5 552.5h.1M2182.3 544.2h.1M2182.8 541.9h.1M2183.5 542.1h.1M2183.8 559.7h.1M2184.6 560.7h.1M2185.2 523.7h.1M2185.6 537.8h.1M2186.3 566.5h.1M2186.8 556.1h.1M2187.6 570.7h.1M2188 546.1h.1M2188.4 559.6h.1M2189.3 532.9h.1M2190 565.1h.1M2190.4 554.9h.1M2191.1 579.5h.1M2191.5 552.9h.1M2192 567.7h.1M2192.8 573.8h.1M2193.5 588h.1M2194 588.5h.1M2194.3 567.9h.1M2195.2 550h.1M2195.6 549.6h.1M2196.2 566.5h.1M2196.9 526.6h.1M2197.4 562.5h.1M2198.2 557.3h.1M2198.5 579.5h.1M2199 550.5h.1M2199.8 559.3h.1M2200.4 574.4h.1M2200.9 563.2h.1M2201.8 585.5h.1M2202.1 546h.1M2202.6 564.2h.1M2203.1 587.2h.1M2203.8 575.1h.1M2204.3 524.5h.1M2205 524.9h.1M2205.8 533.8h.1M2206.1 525.9h.1M2207 554.3h.1M2207.5 514.3h.1M2208 523.7h.1M2208.5 532h.1M2209.3 526.8h.1M2209.8 537.6h.1M2210.4 531h.1M2210.8 499.9h.1M2211.5 544.6h.1M2212.1 519.2h.1M2212.6 531.3h.1M2213.4 538h.1M2213.8 506.8h.1M2214.4 531.6h.1M2215 517.4h.1M2215.8 495.9h.1M2216.1 495.7h.1M2216.9 511.1h.1M2217.4 502.7h.1M2218 541.8h.1M2218.8 484.2h.1M2219.3 492.1h.1M2219.8 500.8h.1M2220.2 506.1h.1M2220.9 524.6h.1M2221.5 541h.1M2221.9 519.8h.1M2222.8 508.4h.1M2223.4 502.1h.1M2223.8 519.6h.1M2224.4 537.8h.1M2225.1 530.7h.1M2225.6 533.5h.1M2226.1 543.3h.1M2226.8 483.3h.1M2227.4 517.3h.1M2227.9 521.2h.1M2228.6 495.1h.1M2229.2 510.2h.1M2229.5 488.9h.1M2230.4 525.1h.1M2231 523h.1M2231.5 525.8h.1M2232.1 516.7h.1M2232.8 508.7h.1M2233.4 512.6h.1M2234 522.5h.1M2234.6 501.6h.1M2235.1 515.5h.1M2235.4 524.1h.1M2236.1 506.7h.1M2236.8 523.6h.1M2237.4 492.6h.1M2237.9 519.8h.1M2238.6 494.3h.1M2239.1 520.3h.1M2239.6 513.6h.1M2240.3 516h.1M2240.9 537.1h.1M2241.5 521.1h.1M2242 502.1h.1M2242.8 512.8h.1M2243.2 516.1h.1M2243.8 515.1h.1M2244.4 509.3h.1M2245 527.3h.1M2245.5 527.1h.1M2246.3 506.3h.1M2246.9 505.2h.1M2247.2 509.5h.1M2248.1 501.5h.1M2248.6 535.3h.1M2249.1 534.2h.1M2249.6 532.2h.1M2250.4 547.6h.1M2250.8 525.1h.1M2251.5 524.5h.1M2252.1 565.1h.1M2252.5 559.7h.1M2253.1 549.9h.1M2253.8 563.8h.1M2254.5 550.9h.1M2254.9 552.9h.1M2255.5 569.9h.1M2256.1 552.9h.1M2256.8 557.8h.1M2257.4 562.9h.1M2258 554h.1M2258.6 580.1h.1M2259 549.7h.1M2259.6 574.5h.1M2260.4 556.8h.1M2260.9 555.5h.1M2261.4 543.2h.1M2261.9 547.4h.1M2262.6 552.8h.1M2263.3 554.2h.1M2263.8 550h.1M2264.5 546.7h.1M2264.8 540h.1M2265.6 557.3h.1M2266.2 551.7h.1M2266.8 558h.1M2267.3 544h.1M2267.9 545.6h.1M2268.4 552.4h.1M2268.9 565.5h.1M2269.6 562.2h.1M2270.1 545.2h.1M2270.8 536.6h.1M2271.4 550.7h.1M2272.1 535.6h.1M2272.8 551.9h.1M2273.3 538.8h.1M2273.8 543h.1M2274.3 553.7h.1M2275 507.9h.1M2275.4 527.7h.1M2276 529.5h.1M2276.5 530.1h.1M2277.4 533.3h.1M2278 550.7h.1M2278.6 528.2h.1M2279.1 515h.1M2279.8 551h.1M2280.3 547.2h.1M2280.8 520.4h.1M2281.4 520.7h.1M2281.8 504.7h.1M2282.5 516.2h.1M2283.2 515.2h.1M2283.6 541.8h.1M2284.5 525.3h.1M2285.1 517.3h.1M2285.6 521.2h.1M2285.9 515.4h.1M2286.8 518.9h.1M2287.2 506.2h.1M2287.8 509h.1M2288.3 518.7h.1M2289.2 513.1h.1M2289.6 502h.1M2290.3 537.4h.1M2290.9 540.2h.1M2291.3 548h.1M2291.8 511.1h.1M2292.6 510.8h.1M2293.1 520.7h.1M2293.6 527.2h.1M2294.2 501.2h.1M2295 518.1h.1M2295.5 520.4h.1M2296.2 515.8h.1M2296.5 541h.1M2297.3 549.3h.1M2297.8 537.7h.1M2298.4 537.7h.1M2298.9 539.5h.1M2299.8 519h.1M2300.2 526.9h.1M2300.6 552.3h.1M2301.5 561.1h.1M2301.9 553.9h.1M2302.4 528.5h.1M2303.2 520.7h.1M2303.6 545.6h.1M2304.4 542.2h.1M2304.8 544.6h.1M2305.5 555h.1M2306.2 531.8h.1M2306.6 538.2h.1M2307.4 541.5h.1M2307.9 531.6h.1M2308.6 542.4h.1M2309 544.1h.1M2309.6 530.4h.1M2310.3 532.9h.1M2310.9 533.1h.1M2311.2 542.5h.1M2312 556.8h.1M2312.6 552h.1M2313 539.4h.1M2313.8 549.7h.1M2314.3 526.1h.1M2315 526.5h.1M2315.5 519.6h.1M2316.1 543.1h.1M2316.5 529h.1M2317.3 520.7h.1M2317.9 554.9h.1M2318.3 553.9h.1M2318.8 539.1h.1M2319.4 544.9h.1M2320 560.7h.1M2320.8 543.1h.1M2321.5 538h.1M2322 526.7h.1M2322.3 532.5h.1M2322.9 545.6h.1M2323.6 529.5h.1M2324.3 549.3h.1M2324.8 535.3h.1M2325.6 540.3h.1M2325.8 527.2h.1M2326.5 524.1h.1M2327.1 527.9h.1M2327.9 547.2h.1M2328.5 544.4h.1M2328.9 542.7h.1M2329.4 530.9h.1M2330 546.4h.1M2330.6 544.7h.1M2331.1 550.8h.1M2332 540.4h.1M2332.5 550.7h.1M2333.1 536.8h.1M2333.5 534.4h.1M2334.1 544.6h.1M2334.9 561.2h.1M2335.5 544.6h.1M2336 534.4h.1M2336.6 534.7h.1M2337.3 533.9h.1M2337.8 558.8h.1M2338.3 540.4h.1M2339 530.4h.1M2339.5 529.6h.1M2340 539.9h.1M2340.8 557h.1M2341.3 539h.1M2342 537.9h.1M2342.6 555.9h.1M2343.2 526h.1M2343.6 522.2h.1M2344.3 547.9h.1M2344.9 549.9h.1M2345.5 548h.1M2345.8 534.3h.1M2346.6 539.1h.1M2347.3 533.3h.1M2347.6 520.7h.1M2348.4 521.2h.1M2348.8 523h.1M2349.6 515.4h.1M2350.2 534.6h.1M238.8 582.3h.1M302.6 575.4h.1M295.6 551h.1M362.8 559.2h.1M428.9 573.1h.1M438.1 575.4h.1M496.1 452.5h.1M496.1 461.8h.1M497.3 476.8h.1M484.6 488.4h.1M493.8 562.6h.1M554.2 460.6h.1M554.2 471h.1M553 480.3h.1M555.4 490.7h.1M554.2 502.3h.1M553 511.6h.1M572.1 486.6h.1M572.1 522.1h.1M582.5 610.2h.1M597.1 617.1h.1M595.9 627.6h.1M597.1 648.4h.1M652.2 538.3h.1M666.7 641.5h.1M679.4 609h.1M696.8 457.1h.1M699.1 467.6h.1M692.2 478h.1M700.2 563.8h.1M706.1 576.5h.1M706.1 595.1h.1M614.5 590.5h.1M771.2 348.1h.1M767.8 364.4h.1M767.8 384.1h.1M772.4 392.2h.1M770.1 428.1h.1M758.5 433.9h.1M756.2 445.5h.1M771.2 454.8h.1M758.5 467.6h.1M820 660h.1M820 671.6h.1M821.1 680.9h.1M806.1 706.4h.1M804.9 653.1h.1M900 340h.1M902.2 351.6h.1M895.2 363.2h.1M904.6 375.9h.1M880.2 371.3h.1M880.2 381.7h.1M875.6 394.5h.1M881.4 578.9h.1M901.1 578.9h.1M897.7 591.6h.1M901.1 562.6h.1M944 364.4h.1M945.2 389.9h.1M939.4 409.6h.1M971.9 340h.1M974.2 350.4h.1M971.9 363.2h.1M970.7 382.9h.1M970.7 399.1h.1M973 424.6h.1M969.5 437.4h.1M996.2 347h.1M997.4 386.4h.1M995.1 401.5h.1M997.4 415.4h.1M995.1 430.4h.1M997.4 468.7h.1M1002 480.3h.1M1034.5 374.8h.1M1041.4 381.7h.1M1039 411.9h.1M1036.8 439.7h.1M1041.4 456h.1M1036.8 478h.1M1092.5 363.2h.1M1092.5 407.3h.1M1094.8 414.2h.1M1090 420h.1M1093.5 428.1h.1M1095.9 440.9h.1M1069.2 431.6h.1M1071.5 468.7h.1M1089 476.8h.1M1137.7 342.3h.1M1138.8 363.2h.1M1137.7 372.5h.1M1142.2 395.7h.1M1136.5 415.4h.1M1137.7 444.4h.1M1134.2 473.3h.1M1180.5 609h.1M1180.5 631h.1M1182.9 668.2h.1M1148 641.5h.1M1198 401.5h.1M1194.5 430.4h.1M1196.8 453.6h.1M1195.7 466.4h.1M966.1 653.1h.1M990.4 697.1h.1M1014.8 699.5h.1M1029.8 700.6h.1M1085.5 706.4h.1M1101.7 704.1h.1M1022.9 685.5h.1M1083.2 683.2h.1M1292 342.3h.1M1292 358.6h.1M1291 366.7h.1M1292 382.9h.1M1292 404.9h.1M1291 425.8h.1M1318.8 347h.1M1323.4 353.9h.1M1332.7 358.6h.1M1321 366.7h.1M1324.5 374.8h.1M1318.8 388.7h.1M1315.2 399.1h.1M1325.8 401.5h.1M1322.2 409.6h.1M1315.2 418.8h.1M1318.8 429.3h.1M1313 437.4h.1M1335 428.1h.1M1324.5 540.6h.1M1311.8 549.9h.1M1340.8 533.6h.1M1350 347h.1M1346.5 384.1h.1M1344.2 402.6h.1M1346.5 414.2h.1M1353.5 416.5h.1M1349 428.1h.1M1387.2 343.5h.1M1387.2 366.7h.1M1389.5 411.9h.1M1386 431.6h.1M1389.5 445.5h.1M1384.9 454.8h.1M1464.9 378.3h.1M1475.2 386.4h.1M1463.8 395.7h.1M1467.2 407.3h.1M1476.5 411.9h.1M1463.8 420h.1M1478.8 436.2h.1M1490.4 342.3h.1M1491.5 350.4h.1M1492.7 363.2h.1M1493.9 377.1h.1M1490.4 418.8h.1M1489.2 411.9h.1M1509 341.2h.1M1506.7 363.2h.1M1507.8 371.3h.1M1524 359.7h.1M1517 367.8h.1M1518.2 377.1h.1M1524 393.3h.1M1519.4 398h.1M1506.7 402.6h.1M1532.2 406.1h.1M1546 395.7h.1M1543.8 421.2h.1M1589 344.6h.1M1601.7 375.9h.1M1586.7 418.8h.1M1601.7 428.1h.1M1585.5 430.4h.1M1587.8 442h.1M1591.2 445.5h.1M1570.4 445.5h.1M1659.7 392.2h.1M1659.7 411.9h.1M1660.9 435.1h.1M1657.4 453.6h.1M1709.5 384.1h.1M1709.5 404.9h.1M1707.2 416.5h.1M1710.7 429.3h.1M1722.2 442h.1M1725.8 389.9h.1M1727 414.2h.1M1720 425.8h.1M1455.5 711.1h.1M1570.4 677.4h.1M1692.2 581.2h.1M1704.9 581.2h.1M1729.2 600.9h.1M1788.7 353.9h.1M1788.2 366.7h.1M1786.8 382.9h.1M1786.2 402.6h.1M1789.8 410.7h.1M1788.2 416.5h.1M1785.2 430.4h.1M1788.7 435.1h.1M1785.2 461.8h.1M1789.8 466.4h.1M1969.5 355.8h.1M1968.4 374.3h.1M1969.5 417.2h.1M1969.5 453.6h.1M1967.2 460.6h.1M1976.5 469.9h.1M1980 479.1h.1M2025.2 409.6h.1M2024 424h.1M2027 442h.1M2025.7 451.3h.1M2027.5 461.8h.1M1995 474.5h.1M1995 488.4h.1M1996.2 516.3h.1M1998.5 581.2h.1M2011.2 575.4h.1M2028.7 571.9h.1M2041.4 576.5h.1M2056.4 570.8h.1M2100.5 582.3h.1M2132.9 571.9h.1M2156.1 581.2h.1M2170.1 581.2h.1M2201.4 597.4h.1M2043.8 640.3h.1M1756.2 624.1h.1M1766.5 627.6h.1M1766.5 636.8h.1M1780.5 629.9h.1M1815.2 628.7h.1M1815.2 641.5h.1M1816.5 656.6h.1M1816.5 669.3h.1M1883.7 592.8h.1M1913.9 574.2h.1M1845.5 625.3h.1M1849 614.8h.1M2163.1 483.8h.1M2163.1 502.3h.1M2231.8 560.8h.1M2305.6 577.5h.1M2256.8 590.5h.1M934.7 179.3h.1M880.9 211.9h.1M770.5 231.5h.1M904.1 275.2h.1M1141 229.8h.1M1141 247.6h.1M1139.2 255.3h.1M1292.2 276.6h.1M1039.2 294.5h.1M905 307.2h.1M906.2 318.2h.1M903.2 328.6h.1M905.6 337.5h.1M895.2 341.4h.1M733.4 316.1h.1M769.6 317.6h.1M768.5 334.5h.1M769.9 338.4h.1M944.8 332.5h.1M972.4 336h.1M1042.7 323.3h.1M1139.5 305.1h.1M1141 330.1h.1M1316.7 302.5h.1M1318.2 328.6h.1M1315.2 336h.1M1522.4 95h.1M1522.4 101.5h.1M1522.4 106.9h.1M1524.2 127.6h.1M1331.9 146.9h.1M1331.2 151.4h.1M1329.8 156.4h.1M1331.9 163.3h.1M1346 194.1h.1M1348.2 206.9h.1M1331.9 231.2h.1M1329.8 238.7h.1M1346 233.9h.1M1524.2 225h.1M1520.7 241h.1M1510 258.8h.1M1536.7 260.6h.1M1348.2 266.3h.1M1346 277.2h.1M1333.4 282.6h.1M1511.5 280.2h.1M1509.4 303.4h.1M1511.7 308.1h.1M1320 302.8h.1M1348.2 316.4h.1M1489.8 319.7h.1M1387.7 328.6h.1M1511.5 328.6h.1M1507 330.7h.1M1328.2 326.5h.1M1333.4 333h.1M1387.7 339h.1M1510 339h.1M1018.7 715.2h.1M1013.2 720.8h.1M1024.2 727.1h.1M1022.4 731.6h.1M1214.7 723.4h.1M1229.5 718.9h.1M1213.5 761.6h.1M1213.5 775.3h.1M1376.8 720.8h.1M1405.4 720.8h.1M1404.5 731.6h.1M1375 736.4h.1M1378.7 737.5h.1M1375 751.6h.1M1407.5 756.8h.1M1405.4 777.2h.1M1455.5 712.3h.1M1594.5 715.2h.1M1593 724.5h.1M1635.8 721.2h.1M1605 760.5h.1M1593.9 769.4h.1M1605 775.3h.1M2023.7 174.4h.1M1967.7 310.8h.1"/>
<circle cx="1938.6" cy="656.5" r="32" fill="#f00"/><circle cx="1938.6" cy="746.4" r="32" fill="#00f"/>
<text x="2024.2" y="682">IGSG</text><text x="2024.2" y="771.8">NeQuick2</text>
<path class="a" d="M232.7 56.8H2354.6V821.8H232.7ZM332.3 821.8v-23.5M734.2 821.8v-23.5M1136.2 821.8v-23.5M1530.5 821.8v-23.5M1926.5 821.8v-23.5M2260.8 821.8v-23.5M232.7 184.2h22.5M232.7 311.8h22.5M232.7 439.4h22.5M232.7 567.0h22.5M232.7 694.6h22.5"/>
<path class="g" d="M332.3 942.9V1692.8M533.0 942.9V1692.8M734.2 942.9V1692.8M935.0 942.9V1692.8M1136.2 942.9V1692.8M1329.0 942.9V1692.8M1530.5 942.9V1692.8M1731.6 942.9V1692.8M1926.5 942.9V1692.8M2074.8 942.9V1692.8M2260.8 942.9V1692.8"/>
<path class="g" stroke-dashoffset="7.7" d="M232.7 1080.7H2354.6M232.7 1233.7H2354.6M232.7 1386.8H2354.6M232.7 1539.8H2354.6"/>
<path class="r" d="M236.8 1572.4h.1M237.3 1582.3h.1M237.9 1582.8h.1M238.8 1558.6h.1M239.2 1567.6h.1M239.9 1583.4h.1M240.5 1575.3h.1M240.8 1559.6h.1M241.6 1575.7h.1M242.1 1580.7h.1M242.6 1578.4h.1M243.3 1579.6h.1M243.8 1563h.1M244.5 1576.8h.1M245 1598.3h.1M245.6 1593.2h.1M246 1579.2h.1M246.9 1580.6h.1M247.3 1577.5h.1M247.9 1580.8h.1M248.4 1579.7h.1M249 1581.9h.1M249.9 1584.3h.1M250.4 1572.4h.1M251 1570.7h.1M251.6 1614.5h.1M251.9 1598.1h.1M252.8 1588h.1M253.2 1586.6h.1M253.6 1596.8h.1M254.5 1596.7h.1M254.9 1575.9h.1M255.6 1572.8h.1M256.1 1582.8h.1M256.8 1579.2h.1M257.3 1570.7h.1M257.9 1566.3h.1M258.3 1578.7h.1M259.2 1579.9h.1M259.8 1599h.1M260.3 1595.8h.1M260.9 1596.8h.1M261.6 1611.9h.1M261.9 1579h.1M262.6 1572.3h.1M263.1 1592.4h.1M263.8 1594.7h.1M264.3 1581.9h.1M265.1 1570.2h.1M265.4 1570h.1M266.3 1581.3h.1M266.9 1583.2h.1M267.3 1583.3h.1M268.1 1587.2h.1M268.6 1568.5h.1M269.1 1578.5h.1M269.8 1577.4h.1M270.4 1579.1h.1M270.8 1585.8h.1M271.4 1593h.1M271.9 1589.2h.1M272.6 1561.4h.1M273.2 1574.5h.1M273.8 1577h.1M274.6 1592.9h.1M274.8 1584.5h.1M275.4 1564h.1M276.3 1563.2h.1M276.8 1574.7h.1M277.4 1587.5h.1M277.9 1574.3h.1M278.6 1580.6h.1M279.2 1581.2h.1M279.8 1568.5h.1M280.2 1566.9h.1M280.9 1563.2h.1M281.4 1581.8h.1M281.9 1573.7h.1M282.6 1580.5h.1M283.2 1574.7h.1M283.6 1562.2h.1M284.3 1573.1h.1M284.9 1570h.1M285.6 1561.6h.1M286.2 1568h.1M286.8 1551.3h.1M287.1 1550.8h.1M287.8 1550.4h.1M288.6 1569.9h.1M289.1 1563.2h.1M289.6 1566.6h.1M290.1 1569.5h.1M290.9 1561.3h.1M291.4 1568.9h.1M292.1 1569.6h.1M292.8 1538.7h.1M293.1 1559.2h.1M293.6 1551.1h.1M294.6 1550.4h.1M295.1 1560.5h.1M295.6 1551.6h.1M296.1 1563.4h.1M296.6 1565.5h.1M297.3 1563.9h.1M297.9 1541.6h.1M298.3 1557h.1M299.1 1550.7h.1M299.8 1553.9h.1M300.3 1549.6h.1M300.8 1552.5h.1M301.4 1557.7h.1M302.1 1544.7h.1M302.4 1543.3h.1M303.1 1538.1h.1M303.8 1540.1h.1M304.4 1562.7h.1M305.1 1569.3h.1M305.6 1564.5h.1M306.1 1557.4h.1M306.8 1562h.1M307.1 1577h.1M307.8 1557.8h.1M308.6 1562h.1M308.9 1557.1h.1M309.6 1550.3h.1M310.2 1564.6h.1M310.8 1550.6h.1M311.6 1550.6h.1M312.1 1552.1h.1M312.6 1552.5h.1M312.9 1547.1h.1M313.6 1553.1h.1M314.4 1551.5h.1M314.8 1548.9h.1M315.6 1576h.1M316.1 1580h.1M316.8 1584.8h.1M317.4 1579h.1M317.9 1563.2h.1M318.6 1545h.1M318.9 1537.1h.1M319.4 1545h.1M320.3 1559.4h.1M320.8 1562.6h.1M321.3 1557.1h.1M321.8 1559.6h.1M322.6 1566.3h.1M323.1 1542h.1M323.9 1540.1h.1M324.3 1552.8h.1M324.9 1559.8h.1M325.4 1579.6h.1M325.9 1564.3h.1M326.6 1547.5h.1M327.2 1548.9h.1M327.8 1571.3h.1M328.6 1548.8h.1M328.9 1566.2h.1M329.6 1554.9h.1M330.2 1536.2h.1M330.8 1558.4h.1M331.2 1560.6h.1M332.1 1551.3h.1M332.6 1571.3h.1M332.9 1582.2h.1M333.6 1559.3h.1M334.3 1554.2h.1M334.8 1561.8h.1M335.6 1579.7h.1M336.1 1562.2h.1M336.6 1552.9h.1M337.2 1544.2h.1M337.8 1551.4h.1M338.6 1563.7h.1M339.1 1560.8h.1M339.6 1543h.1M340.3 1556.8h.1M340.8 1552.9h.1M341.1 1549.8h.1M342.1 1569.2h.1M342.4 1570.8h.1M342.9 1561.1h.1M343.8 1571.2h.1M344.4 1565.3h.1M345.1 1568.6h.1M345.4 1547.3h.1M345.9 1556.5h.1M346.4 1557.8h.1M347.3 1557h.1M347.6 1556.6h.1M348.4 1539.6h.1M348.9 1561.9h.1M349.6 1533.7h.1M350.1 1533.7h.1M350.9 1567.6h.1M351.1 1552.4h.1M352.1 1541.7h.1M352.4 1565.8h.1M353.1 1567.5h.1M353.8 1565.5h.1M354.2 1571.5h.1M354.6 1569.2h.1M355.6 1548.3h.1M356.1 1546.1h.1M356.6 1544.6h.1M357.2 1556.9h.1M357.8 1564.6h.1M358.4 1554.9h.1M358.9 1585h.1M359.6 1579.7h.1M360.1 1572.7h.1M360.8 1559.3h.1M361.3 1550.5h.1M361.9 1544.1h.1M362.6 1556.5h.1M362.9 1551.5h.1M363.6 1563.4h.1M364.1 1565.4h.1M364.8 1553.4h.1M365.4 1579.5h.1M366.1 1567.1h.1M366.6 1574.7h.1M367.2 1557h.1M367.8 1579.7h.1M368.6 1558.4h.1M369.1 1575.8h.1M369.4 1556h.1M370.1 1564.6h.1M370.8 1575.1h.1M371.4 1575.8h.1M372.1 1547.1h.1M372.6 1556.8h.1M373.2 1565.2h.1M373.6 1580.2h.1M374.3 1567.4h.1M374.9 1568h.1M375.3 1567.5h.1M376.1 1594.2h.1M376.6 1556.3h.1M377.3 1540.5h.1M377.8 1542.2h.1M378.2 1564.5h.1M378.8 1559.3h.1M379.6 1571.1h.1M380.2 1537.7h.1M380.6 1539.7h.1M381.2 1544.6h.1M381.9 1552.7h.1M382.4 1569.3h.1M383.1 1583.1h.1M383.8 1572.2h.1M384.1 1542.5h.1M384.9 1543.4h.1M385.3 1556.6h.1M386.1 1574.5h.1M386.4 1562.8h.1M387.1 1566.3h.1M387.6 1561.3h.1M388.4 1558.8h.1M388.9 1567h.1M389.4 1553.3h.1M390.1 1558.4h.1M390.8 1555.3h.1M391.1 1540.7h.1M392.1 1541h.1M392.3 1567.7h.1M392.9 1584.9h.1M393.8 1572.8h.1M394.2 1568.9h.1M394.8 1572.4h.1M395.3 1579.9h.1M395.8 1578.2h.1M396.6 1551.8h.1M397.2 1558h.1M397.8 1550.9h.1M398.2 1556.7h.1M399.1 1549.4h.1M399.4 1572.9h.1M400.1 1566.9h.1M400.6 1568.7h.1M401.1 1566.3h.1M401.8 1572.9h.1M402.6 1565.5h.1M402.8 1558.9h.1M403.6 1553.9h.1M404.1 1550.8h.1M404.8 1553.8h.1M405.3 1577.9h.1M405.9 1567.3h.1M406.6 1565h.1M407.1 1577.7h.1M407.6 1568.1h.1M408.4 1557.1h.1M408.8 1552.1h.1M409.6 1565.5h.1M410.2 1575.1h.1M410.6 1560.1h.1M411.2 1562.8h.1M411.6 1562.3h.1M412.6 1560.6h.1M413.1 1557.7h.1M413.8 1582.1h.1M414.1 1584.9h.1M414.6 1577.5h.1M415.4 1568.2h.1M415.9 1567.9h.1M416.4 1575.4h.1M417.1 1571.6h.1M417.8 1562.4h.1M418.4 1567.4h.1M418.8 1574.8h.1M419.2 1574.4h.1M419.9 1577.5h.1M420.4 1563.8h.1M421.2 1566h.1M421.8 1583.9h.1M422.4 1579.9h.1M423.1 1567.4h.1M423.6 1558.7h.1M423.9 1556.8h.1M424.8 1585.3h.1M425.4 1589.7h.1M425.9 1569.3h.1M426.3 1572.6h.1M427.1 1589.8h.1M427.6 1560.7h.1M428.1 1580.5h.1M428.9 1558.7h.1M429.4 1551.2h.1M429.9 1596.8h.1M430.6 1569.4h.1M431.3 1563.3h.1M431.6 1579.4h.1M432.4 1566.3h.1M432.8 1578.6h.1M433.6 1581.8h.1M434.1 1572h.1M434.8 1585h.1M435.3 1582.5h.1M435.8 1586.5h.1M436.6 1610.8h.1M436.9 1605.9h.1M437.8 1572.3h.1M438.3 1577.4h.1M438.8 1579.8h.1M439.2 1576.9h.1M440.1 1596.8h.1M440.8 1563.6h.1M441.1 1580.2h.1M441.8 1567.9h.1M442.2 1577.3h.1M442.9 1583.7h.1M443.4 1599.1h.1M443.9 1574h.1M444.8 1569.8h.1M445.4 1568.6h.1M445.9 1564h.1M446.6 1572.4h.1M447.1 1577.8h.1M447.4 1580.8h.1M448.2 1588.2h.1M448.6 1589.5h.1M449.3 1586.7h.1M450.1 1586.7h.1M450.6 1572.1h.1M451.2 1591.7h.1M451.8 1597.5h.1M452.4 1581.1h.1M453.1 1583.2h.1M453.6 1598h.1M454.1 1588.8h.1M454.6 1594.2h.1M455.3 1573h.1M455.8 1591.2h.1M456.6 1573.1h.1M457.1 1587h.1M457.6 1576.7h.1M458.3 1591.5h.1M458.8 1585.3h.1M459.6 1574.6h.1M460.1 1584.7h.1M460.6 1570.8h.1M461.1 1566.2h.1M461.8 1571.2h.1M462.3 1569.2h.1M462.8 1594.1h.1M463.4 1588.2h.1M463.9 1579.7h.1M464.8 1583.7h.1M465.3 1580.8h.1M465.8 1582h.1M466.6 1560.5h.1M466.9 1560.5h.1M467.6 1562.3h.1M468.1 1560.1h.1M468.6 1565h.1M469.4 1573h.1M469.8 1552.2h.1M470.4 1555.3h.1M471.2 1556.5h.1M471.6 1552.8h.1M472.3 1571.7h.1M472.8 1553.5h.1M473.4 1558.6h.1M474.1 1572.3h.1M474.8 1559.2h.1M475.1 1579.4h.1M475.8 1568.5h.1M476.3 1570.6h.1M476.8 1571.3h.1M477.4 1566.1h.1M478.2 1547.9h.1M478.8 1545.5h.1M479.4 1569.3h.1M479.8 1557.3h.1M480.6 1551.2h.1M481.1 1556.4h.1M481.8 1566.2h.1M482.4 1548.8h.1M482.8 1557.6h.1M483.6 1552.5h.1M484.2 1572.2h.1M484.8 1566.4h.1M485.1 1555.3h.1M485.9 1560.7h.1M486.4 1562.1h.1M487.1 1559h.1M487.6 1545.2h.1M488.2 1577.4h.1M488.6 1568.1h.1M489.1 1554.1h.1M489.8 1565.3h.1M490.6 1567.4h.1M491.2 1562.5h.1M491.6 1568.2h.1M492.4 1570.2h.1M492.8 1565.3h.1M493.3 1544.9h.1M494.1 1565.1h.1M494.6 1569h.1M495.1 1542.7h.1M495.8 1545.9h.1M496.2 1553.9h.1M497.1 1550.6h.1M497.4 1569h.1M498.1 1548.9h.1M498.6 1539.7h.1M499.2 1535.5h.1M499.8 1536.1h.1M500.3 1537.4h.1M500.9 1550.2h.1M501.6 1550.5h.1M502.3 1562.3h.1M502.6 1543h.1M503.2 1543.7h.1M503.9 1552h.1M504.4 1549.6h.1M505.1 1542.3h.1M505.8 1562.1h.1M506.3 1580.9h.1M506.8 1577.7h.1M507.6 1559.8h.1M508.2 1547.3h.1M508.6 1560.1h.1M509.1 1553.8h.1M509.8 1569.3h.1M510.3 1547.8h.1M511.1 1553h.1M511.8 1543.1h.1M512.4 1557.4h.1M512.8 1563.1h.1M513.2 1561h.1M514.1 1549.7h.1M514.5 1555.7h.1M515 1537.8h.1M515.8 1559.8h.1M516.2 1553.8h.1M516.8 1569.3h.1M517.5 1547.6h.1M518 1538.7h.1M518.6 1556.5h.1M519.5 1528.2h.1M519.9 1531.2h.1M520.4 1536.3h.1M521.2 1551.5h.1M521.6 1549.3h.1M522.4 1543.5h.1M522.7 1548.1h.1M523.4 1530.6h.1M524 1548.3h.1M524.7 1554.2h.1M525.1 1577.7h.1M525.9 1558.8h.1M526.4 1531.4h.1M527 1535.6h.1M527.6 1547.8h.1M528 1545.9h.1M528.8 1548.2h.1M529.2 1551.5h.1M529.8 1550.1h.1M530.4 1549.9h.1M530.9 1548.2h.1M531.6 1535.4h.1M532.1 1542.5h.1M532.7 1542.9h.1M533.5 1553.1h.1M534.1 1554.2h.1M534.7 1547.2h.1M535.2 1563.4h.1M535.7 1564.1h.1M536.2 1563h.1M537.1 1540.4h.1M537.5 1541.2h.1M538.2 1540.5h.1M538.8 1537.3h.1M539.2 1559.5h.1M539.9 1539.9h.1M540.6 1555.5h.1M541.1 1549.5h.1M541.7 1555.7h.1M542.2 1551.1h.1M542.8 1541.6h.1M543.5 1551.9h.1M544.2 1548.3h.1M544.5 1545.6h.1M545 1567.7h.1M545.7 1560.6h.1M546.5 1549.5h.1M546.9 1551.2h.1M547.4 1557.4h.1M548 1558.9h.1M548.5 1539.1h.1M549.2 1543h.1M549.9 1548.5h.1M550.6 1534.2h.1M551.1 1538.5h.1M551.5 1545.8h.1M552.2 1548.5h.1M552.6 1532.6h.1M553.4 1531.5h.1M553.8 1532h.1M554.5 1524h.1M555.2 1538.1h.1M555.6 1544.8h.1M556.2 1556.8h.1M556.9 1553.1h.1M557.6 1538.7h.1M558.2 1526.6h.1M558.6 1542.5h.1M559.1 1536.1h.1M559.8 1550h.1M560.2 1526.6h.1M561.1 1545.5h.1M561.7 1547.2h.1M562.1 1567.7h.1M562.7 1554.7h.1M563.2 1546.4h.1M564.1 1540.9h.1M564.5 1540.9h.1M565 1546.7h.1M565.6 1537.9h.1M566.5 1533h.1M566.8 1515.5h.1M567.4 1526.3h.1M568.2 1520.8h.1M568.7 1529.3h.1M569.2 1551h.1M569.9 1561.7h.1M570.2 1557h.1M570.9 1543.4h.1M571.7 1543.7h.1M572.2 1550h.1M572.9 1544h.1M573.2 1545.2h.1M574 1529.2h.1M574.6 1534.5h.1M575.2 1534.8h.1M575.7 1528.4h.1M576.4 1523.9h.1M576.9 1526.7h.1M577.2 1550.6h.1M578.1 1532.6h.1M578.7 1557.2h.1M579.1 1544.2h.1M579.8 1543.4h.1M580.2 1561.9h.1M580.9 1567.7h.1M581.6 1552h.1M582.2 1556h.1M582.6 1546.8h.1M583.2 1539.4h.1M583.8 1555.5h.1M584.5 1570.5h.1M585.2 1538.6h.1M585.6 1524.6h.1M586.2 1538.5h.1M587 1550.8h.1M587.2 1566.5h.1M588.1 1533.2h.1M588.5 1543.4h.1M589.1 1538.9h.1M589.9 1543.1h.1M590.4 1548.6h.1M590.9 1555.5h.1M591.4 1574.8h.1M592.2 1561.9h.1M592.8 1565.1h.1M593.2 1557.8h.1M594 1541.8h.1M594.4 1548.6h.1M595.1 1549.6h.1M595.8 1544.7h.1M596.1 1546.7h.1M596.9 1537.7h.1M597.2 1549.8h.1M598 1550.1h.1M598.5 1557.7h.1M599 1570.9h.1M599.7 1573.5h.1M600.2 1551.9h.1M600.9 1546.3h.1M601.5 1550h.1M602.2 1538.9h.1M602.7 1563.2h.1M603.1 1565.8h.1M603.8 1567.1h.1M604.6 1566h.1M604.9 1584.2h.1M605.8 1566.5h.1M606.2 1567h.1M606.8 1563.1h.1M607.2 1553h.1M607.9 1564.1h.1M608.6 1582.1h.1M609.2 1572.1h.1M609.6 1562.3h.1M610.2 1566.8h.1M611 1558.7h.1M611.6 1576.4h.1M612.2 1579.4h.1M612.6 1555.2h.1M613.2 1562.2h.1M613.9 1560.6h.1M614.4 1549.6h.1M615 1562.5h.1M615.4 1567.7h.1M616.2 1564.8h.1M616.7 1575.5h.1M617.4 1575h.1M617.9 1564.1h.1M618.6 1570.7h.1M619 1573.1h.1M619.8 1578.1h.1M620.2 1567.3h.1M620.8 1569h.1M621.4 1573.7h.1M622.1 1570.6h.1M622.8 1578.4h.1M623.2 1586.5h.1M624 1577.2h.1M624.5 1569.4h.1M625 1576.8h.1M625.6 1564.1h.1M626 1567.2h.1M626.9 1597.9h.1M627.2 1558.8h.1M627.8 1566.9h.1M628.7 1564.9h.1M629 1570.1h.1M629.6 1590h.1M630.5 1585.4h.1M630.7 1585.5h.1M631.6 1577.5h.1M632 1568.3h.1M632.7 1572h.1M633.1 1551.4h.1M633.9 1557.7h.1M634.5 1561.5h.1M634.9 1549.5h.1M635.5 1567.5h.1M636.1 1569.3h.1M636.8 1579.4h.1M637.2 1561.8h.1M637.8 1555.8h.1M638.5 1560.4h.1M639.2 1571.2h.1M639.8 1568h.1M640.2 1558.8h.1M641 1554h.1M641.4 1560.5h.1M642.1 1564.6h.1M642.7 1560.2h.1M643.4 1589.8h.1M643.7 1588.3h.1M644.5 1568.1h.1M644.9 1560.7h.1M645.7 1560.7h.1M646 1561.9h.1M646.8 1565.6h.1M647.5 1570.5h.1M648.1 1562.4h.1M648.5 1549.3h.1M649 1560.4h.1M649.5 1563.2h.1M650.4 1568h.1M650.7 1572h.1M651.5 1557.1h.1M651.9 1571.2h.1M652.6 1591.3h.1M653 1575.8h.1M653.7 1584.4h.1M654.5 1548.5h.1M654.8 1572.1h.1M655.5 1581.4h.1M656.2 1579.1h.1M656.6 1549.6h.1M657.4 1553.7h.1M657.9 1563.9h.1M658.6 1560h.1M659.1 1558.8h.1M659.7 1561.8h.1M660.2 1569.7h.1M660.9 1565.4h.1M661.6 1557.3h.1M662.1 1553.6h.1M662.6 1545.3h.1M663.2 1560.9h.1M663.7 1555.5h.1M664.2 1557h.1M665 1564.2h.1M665.6 1557.7h.1M666.1 1548.2h.1M666.6 1545.8h.1M667.2 1544.1h.1M667.9 1539.6h.1M668.4 1532.8h.1M669.2 1543.2h.1M669.6 1557.9h.1M670.4 1547.3h.1M670.9 1555h.1M671.6 1532.1h.1M671.9 1540.9h.1M672.7 1535.1h.1M673.2 1553h.1M673.7 1558.8h.1M674.2 1562.7h.1M674.8 1569h.1M675.6 1554.5h.1M676 1552.1h.1M676.8 1556.7h.1M677.2 1550.1h.1M678 1550.1h.1M678.4 1542.8h.1M678.9 1532h.1M679.7 1552.4h.1M680.2 1531.4h.1M680.9 1543.9h.1M681.5 1531.5h.1M682.1 1537h.1M682.7 1538.4h.1M683.2 1544.8h.1M683.7 1554.8h.1M684.5 1556.3h.1M684.8 1549.5h.1M685.4 1554.2h.1M686.1 1550h.1M686.6 1539.1h.1M687.4 1539.2h.1M687.9 1546.2h.1M688.5 1561.5h.1M688.9 1540.5h.1M689.7 1548.2h.1M690.1 1563.3h.1M690.9 1550.3h.1M691.5 1546.6h.1M691.8 1535.5h.1M692.6 1525.4h.1M693 1542.8h.1M693.6 1533.6h.1M694.2 1536.1h.1M695 1539.5h.1M695.6 1541.1h.1M696.1 1542.8h.1M696.7 1534.2h.1M697.2 1531h.1M697.8 1535h.1M698.2 1546.5h.1M699.1 1541.8h.1M699.5 1551.1h.1M700.2 1542.7h.1M700.8 1553.9h.1M701.2 1535.5h.1M702 1547.1h.1M702.5 1547.4h.1M703 1521.7h.1M703.8 1545.2h.1M704.2 1543.9h.1M704.9 1536.3h.1M705.4 1542.1h.1M706.2 1532.8h.1M706.7 1563.3h.1M707.2 1526.8h.1M707.8 1540.8h.1M708.2 1541.7h.1M708.9 1548.5h.1M709.4 1536.5h.1M710.1 1536.9h.1M710.8 1539.3h.1M711.2 1539.1h.1M711.8 1528h.1M712.6 1544.5h.1M713.2 1545.2h.1M713.7 1559.1h.1M714.4 1551.7h.1M715 1558.7h.1M715.4 1549.6h.1M716.2 1544.1h.1M716.5 1544.9h.1M717.1 1532.2h.1M717.7 1543.3h.1M718.2 1540.3h.1M718.8 1546.2h.1M719.5 1555.7h.1M720.1 1534h.1M720.6 1547.2h.1M721.4 1549.8h.1M721.9 1563.8h.1M722.6 1538.6h.1M723.1 1547.2h.1M723.7 1550.7h.1M724.4 1546.8h.1M724.9 1536.1h.1M725.4 1554.9h.1M726 1554.3h.1M726.5 1553.1h.1M727.1 1548.8h.1M727.7 1546.8h.1M728.5 1552h.1M729 1535.6h.1M729.5 1549.1h.1M730.2 1541.2h.1M730.8 1544.4h.1M731.4 1549.9h.1M731.8 1533.9h.1M732.4 1545.2h.1M733.1 1542.6h.1M733.8 1549h.1M734.2 1555.4h.1M734.8 1561.7h.1M735.2 1550.7h.1M736 1581.3h.1M736.4 1573.1h.1M737.2 1542.8h.1M737.9 1571.6h.1M738.2 1550.4h.1M739 1532h.1M739.6 1529.8h.1M740 1524.9h.1M740.6 1540.9h.1M741.2 1545.4h.1M741.9 1565.7h.1M742.2 1549.5h.1M743.1 1570.2h.1M743.5 1554.4h.1M744.4 1536.7h.1M745 1516.2h.1M745.2 1539.2h.1M746.1 1545h.1M746.4 1542h.1M747.2 1518.6h.1M747.6 1516.9h.1M748.4 1528.6h.1M748.8 1534.7h.1M749.5 1513.9h.1M750.2 1535.4h.1M750.7 1536h.1M751.2 1552h.1M751.8 1556.6h.1M752.2 1563.7h.1M753.1 1559.6h.1M753.5 1541.6h.1M754.1 1533.1h.1M754.7 1557.5h.1M755.2 1528.5h.1M755.9 1533.5h.1M756.4 1523.4h.1M757.1 1527.5h.1M757.9 1556.3h.1M758.2 1523.3h.1M758.9 1547.1h.1M759.4 1551.3h.1M760.1 1564.9h.1M760.7 1533.6h.1M761.2 1553.6h.1M761.8 1551.4h.1M762.2 1522.3h.1M762.9 1540.9h.1M763.7 1530.8h.1M764.1 1557.5h.1M764.7 1533.8h.1M765.4 1518.7h.1M765.9 1538.2h.1M766.5 1532.8h.1M767.1 1525.3h.1M767.7 1530.1h.1M768.2 1538.5h.1M769 1553.4h.1M769.2 1528.1h.1M770 1548h.1M770.6 1529.9h.1M771.4 1522.3h.1M771.7 1536.3h.1M772.2 1517.7h.1M773.1 1522.5h.1M773.4 1525.9h.1M774.1 1540.4h.1M774.7 1518h.1M775.4 1529.5h.1M776 1516.5h.1M776.6 1537.8h.1M777.2 1521.4h.1M777.8 1552h.1M778.2 1552.6h.1M778.7 1533.8h.1M779.6 1544.3h.1M780.1 1546.4h.1M780.7 1540.2h.1M781.2 1529.2h.1M781.7 1558.6h.1M782.2 1530.6h.1M782.8 1551h.1M783.7 1526.3h.1M784 1524.9h.1M784.7 1530.3h.1M785.5 1513.1h.1M786.1 1520.2h.1M786.4 1528.5h.1M786.9 1556.2h.1M787.6 1541.7h.1M788.1 1544.9h.1M789 1536h.1M789.5 1533.6h.1M790 1539.8h.1M790.6 1521.2h.1M791.4 1509.6h.1M791.7 1537.8h.1M792.5 1526.4h.1M792.9 1528.6h.1M793.6 1523.1h.1M794.2 1533.9h.1M794.6 1544h.1M795.4 1527.7h.1M795.9 1544.5h.1M796.4 1551.9h.1M796.9 1524.1h.1M797.5 1557.7h.1M798.2 1530.9h.1M798.7 1507.8h.1M799.2 1525.3h.1M800.1 1539.4h.1M800.5 1525h.1M801.2 1567.3h.1M801.7 1549.7h.1M802.2 1527h.1M803 1533.9h.1M803.6 1520.4h.1M804 1549.1h.1M804.7 1523.3h.1M805.4 1539.1h.1M806 1544.3h.1M806.6 1538.1h.1M807.2 1542.9h.1M807.5 1538.6h.1M808.1 1556.5h.1M808.6 1560.1h.1M809.2 1546.8h.1M810.1 1569.1h.1M810.7 1533.7h.1M811.2 1517.6h.1M811.7 1531.5h.1M812.2 1547.7h.1M812.8 1542.7h.1M813.4 1549h.1M814.2 1552.5h.1M814.7 1528.7h.1M815.1 1532.6h.1M815.9 1567.6h.1M816.4 1562.6h.1M817.1 1534.5h.1M817.6 1551.9h.1M818 1543.2h.1M818.8 1545.3h.1M819.2 1554.1h.1M819.8 1550.1h.1M820.6 1561.5h.1M821.1 1584.1h.1M821.6 1568.9h.1M822.4 1567.1h.1M823.1 1551.2h.1M823.4 1551.6h.1M823.9 1530.8h.1M824.8 1546.5h.1M825.2 1536.1h.1M826 1559h.1M826.4 1546.3h.1M827.1 1544.4h.1M827.7 1558.5h.1M828.2 1538.6h.1M828.8 1546.3h.1M829.2 1542.6h.1M829.8 1538.6h.1M830.5 1538.6h.1M831.2 1571.6h.1M831.7 1556.8h.1M832.2 1570.6h.1M832.9 1555.5h.1M833.6 1549.5h.1M833.9 1570.8h.1M834.6 1575.4h.1M835.4 1590.3h.1M835.8 1570.2h.1M836.5 1569.3h.1M837.1 1568.2h.1M837.5 1556.5h.1M838.2 1566h.1M838.8 1568.9h.1M839.4 1565.2h.1M839.9 1544.1h.1M840.6 1554.4h.1M841 1537.6h.1M841.7 1527.6h.1M842.2 1549.2h.1M842.8 1566.1h.1M843.6 1571h.1M844 1553.9h.1M844.5 1557.1h.1M845 1559h.1M845.7 1577h.1M846.4 1552.6h.1M847 1552.7h.1M847.7 1554h.1M848.2 1563.7h.1M848.9 1547h.1M849.2 1556.9h.1M850 1560.5h.1M850.6 1553.7h.1M851.2 1560.3h.1M851.8 1567.3h.1M852.4 1565.3h.1M852.9 1545.4h.1M853.6 1542h.1M854 1580.9h.1M854.5 1563.9h.1M855.1 1569.1h.1M855.8 1572.8h.1M856.5 1531.3h.1M856.9 1554h.1M857.6 1538.3h.1M858.2 1559.6h.1M858.7 1520.1h.1M859.2 1525.5h.1M860 1558.9h.1M860.5 1571.5h.1M861.2 1540h.1M861.7 1536.8h.1M862.4 1540h.1M862.7 1540.4h.1M863.6 1540.6h.1M864.1 1533.9h.1M864.8 1524.1h.1M865.2 1513.9h.1M865.9 1550.8h.1M866.5 1496.9h.1M867.1 1514.4h.1M867.5 1490.6h.1M868.1 1524.5h.1M868.6 1507.2h.1M869.4 1493.6h.1M870 1532.1h.1M870.5 1512.1h.1M871.2 1491.6h.1M871.7 1511.8h.1M872.2 1516.6h.1M872.7 1511.3h.1M873.2 1506.5h.1M873.8 1516.9h.1M874.7 1502.9h.1M875.2 1483.4h.1M875.7 1513.5h.1M876.2 1513.5h.1M877 1493.3h.1M877.4 1480.7h.1M878 1492.2h.1M878.6 1530.8h.1M879.2 1510.9h.1M879.8 1485.1h.1M880.5 1471.8h.1M881.1 1555.3h.1M881.8 1539.8h.1M882.2 1486.7h.1M882.6 1493.2h.1M883.2 1485.9h.1M884 1485h.1M884.6 1492.8h.1M885.1 1472.1h.1M885.6 1473.8h.1M886.4 1450h.1M886.8 1472.7h.1M887.4 1493.7h.1M888 1490.6h.1M888.7 1483.8h.1M889.1 1499.7h.1M889.9 1473.3h.1M890.5 1460.8h.1M890.9 1476.9h.1M891.7 1488h.1M892.2 1473.3h.1M892.6 1476.1h.1M893.2 1475.5h.1M893.9 1484.4h.1M894.4 1485.5h.1M895.1 1469.4h.1M895.6 1470.2h.1M896.2 1472.7h.1M897 1489.2h.1M897.5 1467.2h.1M898.2 1464.4h.1M898.5 1471h.1M899.4 1483h.1M899.8 1470h.1M900.2 1458.2h.1M900.9 1450.9h.1M901.6 1476.8h.1M902.1 1452.5h.1M902.9 1504h.1M903.5 1504.1h.1M903.8 1510.2h.1M904.6 1507.6h.1M905.1 1478.1h.1M905.8 1495.6h.1M906.2 1477.7h.1M906.7 1468h.1M907.6 1520.1h.1M908 1550.6h.1M908.6 1534.3h.1M909.2 1524.6h.1M909.9 1510.8h.1M910.2 1495.7h.1M910.9 1487.1h.1M911.5 1458.4h.1M912 1509.8h.1M912.6 1506.7h.1M913.4 1495.6h.1M914 1466.4h.1M914.6 1516.5h.1M915 1512.7h.1M915.7 1496.8h.1M916.1 1516.7h.1M916.8 1489.1h.1M917.5 1535.6h.1M918.1 1539.4h.1M918.5 1501.4h.1M919.4 1484.8h.1M919.9 1503.6h.1M920.5 1466.5h.1M921 1501.9h.1M921.5 1483.2h.1M922.2 1530.5h.1M922.8 1500h.1M923.2 1516.6h.1M923.7 1513.3h.1M924.4 1490.8h.1M924.9 1516.7h.1M925.7 1511.2h.1M926.1 1515.3h.1M927 1515.7h.1M927.4 1481.7h.1M928.2 1525.3h.1M928.6 1557.8h.1M929 1551.9h.1M929.8 1543.3h.1M930.4 1525h.1M931 1556.3h.1M931.6 1520.3h.1M932.1 1470.9h.1M932.8 1507.3h.1M933.4 1550.5h.1M933.7 1550.7h.1M934.4 1519.1h.1M935 1517.7h.1M935.7 1525.8h.1M936.4 1512.8h.1M936.9 1512h.1M937.6 1543.1h.1M937.9 1516h.1M938.7 1522.6h.1M939.2 1533h.1M939.8 1522.5h.1M940.4 1510.4h.1M941 1522h.1M941.5 1513.9h.1M942.2 1525.2h.1M942.6 1530.8h.1M943.1 1509.1h.1M943.7 1504.3h.1M944.5 1538.2h.1M945.2 1525.1h.1M945.5 1491.3h.1M946.2 1537.6h.1M946.9 1519.9h.1M947.2 1510.9h.1M948.1 1519.8h.1M948.6 1492.5h.1M949.2 1505h.1M949.9 1536.6h.1M950.2 1493.3h.1M950.8 1502.3h.1M951.5 1473.7h.1M951.9 1487.1h.1M952.7 1517.5h.1M953.2 1519.9h.1M954 1545.9h.1M954.4 1521.7h.1M954.9 1520.9h.1M955.5 1516h.1M956.2 1513.7h.1M956.9 1514.7h.1M957.2 1540h.1M957.9 1524.3h.1M958.6 1546.3h.1M959.2 1534.4h.1M959.5 1531.2h.1M960.2 1533.1h.1M960.8 1521.5h.1M961.5 1510h.1M962.1 1512.6h.1M962.8 1533.7h.1M963.2 1542.5h.1M964 1494.3h.1M964.4 1508.4h.1M965 1515.9h.1M965.8 1511.2h.1M966.2 1507.7h.1M966.9 1479.2h.1M967.2 1479.1h.1M967.8 1466.8h.1M968.7 1519.5h.1M969 1532.9h.1M969.6 1516.3h.1M970.2 1531h.1M970.8 1515.7h.1M971.5 1494.9h.1M972.2 1522.7h.1M972.5 1499.3h.1M973.4 1511.3h.1M973.8 1466.5h.1M974.4 1478.2h.1M974.8 1470.8h.1M975.6 1495.5h.1M976.1 1493.1h.1M976.9 1502.2h.1M977.2 1503.7h.1M977.9 1530.4h.1M978.6 1522.6h.1M979.1 1493.5h.1M979.7 1502.2h.1M980.4 1528h.1M980.8 1495.4h.1M981.2 1493h.1M982 1498.9h.1M982.5 1488.9h.1M983.2 1522.6h.1M983.7 1557.1h.1M984.2 1525.7h.1M984.9 1520.1h.1M985.6 1533.2h.1M986.2 1519h.1M986.9 1491.3h.1M987.2 1516.4h.1M988 1500.5h.1M988.6 1493.2h.1M989.2 1497.8h.1M989.6 1519.8h.1M990.4 1479.8h.1M991 1524.9h.1M991.4 1541.5h.1M991.9 1535.9h.1M992.7 1507.9h.1M993.2 1517.7h.1M993.7 1487.8h.1M994.2 1489.4h.1M994.8 1514.8h.1M995.7 1514.3h.1M995.9 1540.2h.1M996.6 1522.3h.1M997.4 1529.4h.1M997.8 1518.1h.1M998.2 1539.3h.1M999.2 1500.1h.1M999.7 1510.1h.1M1000.4 1538.6h.1M1000.7 1533.5h.1M1001.2 1497.7h.1M1001.8 1469.8h.1M1002.4 1513.2h.1M1003 1507h.1M1003.9 1531.3h.1M1004.5 1490.9h.1M1004.9 1493.6h.1M1005.4 1505h.1M1006.1 1495.4h.1M1006.6 1504.5h.1M1007.2 1531.1h.1M1007.7 1516.2h.1M1008.2 1523.2h.1M1008.9 1514.3h.1M1009.5 1482.4h.1M1010 1471.7h.1M1011 1490.1h.1M1011.5 1497.1h.1M1012.1 1501.3h.1M1012.5 1537.3h.1M1013 1539.3h.1M1013.8 1523.8h.1M1014.2 1511.2h.1M1015 1527.8h.1M1015.5 1510.9h.1M1016 1555.3h.1M1016.6 1561.4h.1M1017.1 1571.9h.1M1017.7 1532.8h.1M1018.2 1539.2h.1M1018.9 1517.7h.1M1019.7 1499h.1M1020.2 1527.7h.1M1020.9 1508.4h.1M1021.4 1524.6h.1M1021.9 1548.9h.1M1022.6 1519h.1M1023.2 1558.5h.1M1023.9 1531.2h.1M1024.2 1521.4h.1M1024.7 1538.9h.1M1025.5 1548.8h.1M1026 1504.6h.1M1026.7 1533.2h.1M1027.2 1559.3h.1M1027.9 1584.2h.1M1028.2 1570.8h.1M1029 1555.6h.1M1029.7 1583.5h.1M1030.2 1546.5h.1M1030.9 1525.5h.1M1031.2 1540.3h.1M1031.9 1554.4h.1M1032.7 1520.1h.1M1033.2 1539.7h.1M1033.9 1534.6h.1M1034.2 1516.3h.1M1035 1556.3h.1M1035.2 1557.3h.1M1036 1532.6h.1M1036.5 1520.8h.1M1037.2 1549.4h.1M1037.9 1528h.1M1038.5 1514.9h.1M1039 1553.4h.1M1039.5 1531.9h.1M1040 1525.7h.1M1040.9 1530.4h.1M1041.2 1524.8h.1M1042 1563.6h.1M1042.5 1531.8h.1M1043 1527.3h.1M1043.8 1534h.1M1044.4 1523.2h.1M1044.9 1486.7h.1M1045.5 1497.2h.1M1046.2 1491.7h.1M1046.7 1513.9h.1M1047 1524.7h.1M1047.5 1528.4h.1M1048.4 1520.9h.1M1048.8 1503.5h.1M1049.5 1565.9h.1M1050 1564.4h.1M1050.5 1536.1h.1M1051.2 1540.5h.1M1051.8 1548.8h.1M1052.5 1523.9h.1M1053 1573.9h.1M1053.8 1540.7h.1M1054.2 1516.5h.1M1054.9 1517h.1M1055.5 1476.2h.1M1056 1494.3h.1M1056.7 1526.8h.1M1057 1484.1h.1M1057.9 1490.9h.1M1058.2 1507h.1M1059 1503.3h.1M1059.4 1513.2h.1M1060 1490.7h.1M1060.7 1518.1h.1M1061.2 1497.6h.1M1061.8 1530.2h.1M1062.5 1516h.1M1063 1508.8h.1M1063.8 1503.3h.1M1064 1513.7h.1M1064.7 1483.2h.1M1065.5 1486.8h.1M1066 1485.8h.1M1066.5 1533.5h.1M1067 1531.8h.1M1067.5 1485.7h.1M1068.4 1473.8h.1M1068.9 1502.9h.1M1069.5 1485.1h.1M1070 1474.4h.1M1070.9 1509.5h.1M1071.4 1488.1h.1M1071.9 1470h.1M1072.2 1477.3h.1M1072.9 1494.5h.1M1073.7 1502h.1M1074.2 1503.7h.1M1074.9 1532.1h.1M1075.5 1509.8h.1M1075.9 1476.7h.1M1076.5 1514h.1M1077.2 1533.3h.1M1077.5 1500.3h.1M1078.2 1529h.1M1078.9 1459h.1M1079.2 1493.5h.1M1079.9 1497.5h.1M1080.8 1508.7h.1M1081 1500h.1M1082 1504.9h.1M1082.5 1517.5h.1M1083.2 1484h.1M1083.8 1490.5h.1M1084 1494h.1M1084.5 1471.2h.1M1085.2 1508h.1M1085.8 1514.8h.1M1086.5 1453.8h.1M1087 1465.6h.1M1087.5 1472.6h.1M1088.4 1521.5h.1M1088.8 1517.6h.1M1089.5 1538.9h.1M1090 1508.7h.1M1090.5 1468.4h.1M1091 1503.6h.1M1091.9 1531.6h.1M1092.5 1490.7h.1M1093.2 1518.7h.1M1093.5 1497.3h.1M1094.2 1489.9h.1M1094.9 1484.9h.1M1095.2 1506.8h.1M1095.8 1496h.1M1096.7 1488.5h.1M1097.2 1526.4h.1M1097.5 1524.4h.1M1098.2 1543h.1M1098.9 1516.7h.1M1099.4 1505.8h.1M1100.2 1503.3h.1M1100.7 1502h.1M1101.2 1473.2h.1M1101.8 1487.9h.1M1102.2 1486.4h.1M1103 1482.5h.1M1103.5 1475.1h.1M1104.2 1509.7h.1M1104.9 1513.9h.1M1105.2 1538.8h.1M1106 1515.9h.1M1106.7 1511h.1M1107.2 1521.4h.1M1107.7 1500.6h.1M1108.2 1485.7h.1M1109 1506.9h.1M1109.2 1511.3h.1M1110 1515.8h.1M1110.5 1536.7h.1M1111.2 1544.3h.1M1111.7 1533.9h.1M1112.2 1544.9h.1M1113 1486.6h.1M1113.5 1496.7h.1M1114.2 1495.2h.1M1114.7 1500.2h.1M1115.2 1535.2h.1M1115.8 1547.7h.1M1116.5 1520.3h.1M1117 1506.5h.1M1117.5 1527.1h.1M1118.4 1547.8h.1M1118.7 1526.4h.1M1119.5 1532.3h.1M1120 1544.9h.1M1120.5 1507.2h.1M1121.2 1497h.1M1121.7 1552.1h.1M1122.2 1505.5h.1M1122.8 1503.7h.1M1123.5 1554.1h.1M1124 1547h.1M1124.7 1540h.1M1125.2 1511h.1M1125.8 1501.8h.1M1126.4 1515.1h.1M1127.2 1506.1h.1M1127.8 1510.7h.1M1128.2 1529h.1M1128.9 1532.4h.1M1129.5 1541.2h.1M1129.8 1515.5h.1M1130.5 1517.7h.1M1131.2 1506.9h.1M1131.7 1537h.1M1132.4 1510.2h.1M1132.8 1518.8h.1M1133.4 1494.4h.1M1133.9 1553.7h.1M1134.5 1549.1h.1M1135.2 1517.9h.1M1136 1538.8h.1M1136.5 1533.5h.1M1137 1531.3h.1M1137.7 1516.7h.1M1138 1544.1h.1M1138.7 1505.9h.1M1139.2 1499.8h.1M1139.9 1475.4h.1M1140.5 1540.5h.1M1141.2 1507.5h.1M1141.9 1488h.1M1142.2 1491.8h.1M1142.8 1493.2h.1M1143.7 1489.4h.1M1144 1538h.1M1144.8 1491.7h.1M1145.2 1474.7h.1M1146 1499h.1M1146.4 1536.6h.1M1146.9 1538.1h.1M1147.5 1470.7h.1M1148.2 1508.6h.1M1148.9 1523.4h.1M1149.5 1504.8h.1M1150 1482.5h.1M1150.7 1486.4h.1M1151 1508.3h.1M1151.9 1530.2h.1M1152.5 1509.9h.1M1152.9 1496.5h.1M1153.5 1489h.1M1154 1511.8h.1M1154.5 1519.4h.1M1155.4 1500.1h.1M1156 1539.5h.1M1156.4 1535.8h.1M1157 1520.5h.1M1157.5 1487.8h.1M1158 1496.1h.1M1158.9 1519.2h.1M1159.2 1493.1h.1M1159.8 1537.8h.1M1160.4 1532.6h.1M1161 1517.1h.1M1161.9 1545.7h.1M1162.2 1553h.1M1163 1515.1h.1M1163.4 1488.1h.1M1163.9 1489.7h.1M1164.5 1490.7h.1M1165 1505.3h.1M1165.8 1477.8h.1M1166.4 1520.3h.1M1166.9 1559.3h.1M1167.5 1545h.1M1168.2 1499.8h.1M1168.8 1538.8h.1M1169.2 1547.7h.1M1170 1504.3h.1M1170.4 1470.3h.1M1171.2 1471.2h.1M1171.5 1494.7h.1M1172.2 1537.1h.1M1172.8 1539h.1M1173.2 1512.4h.1M1173.9 1524.2h.1M1174.5 1557.5h.1M1175.2 1509.9h.1M1175.7 1510.9h.1M1176.5 1478.8h.1M1176.9 1507.3h.1M1177.4 1503.1h.1M1178.2 1496h.1M1178.8 1526.9h.1M1179.2 1496h.1M1179.8 1461h.1M1180.5 1484.1h.1M1181.2 1532.8h.1M1181.7 1485.5h.1M1182 1470.9h.1M1182.9 1539.5h.1M1183.5 1505.5h.1M1184 1454.4h.1M1184.7 1476.1h.1M1185.2 1496.1h.1M1185.9 1468.4h.1M1186.4 1504.1h.1M1187 1551.8h.1M1187.7 1527.1h.1M1188 1490h.1M1188.7 1495.1h.1M1189.2 1484h.1M1189.9 1497.9h.1M1190.2 1494h.1M1191 1492.7h.1M1191.5 1495.5h.1M1192 1491.9h.1M1192.7 1480.2h.1M1193.5 1466.9h.1M1194 1492.8h.1M1194.7 1496.8h.1M1195.2 1450.8h.1M1195.7 1466h.1M1196.2 1468.5h.1M1197 1482.6h.1M1197.4 1524.6h.1M1198.2 1510.8h.1M1198.5 1503.2h.1M1199.2 1478.7h.1M1199.7 1478.1h.1M1200.5 1488.7h.1M1201 1523.5h.1M1201.7 1469.2h.1M1202 1489.5h.1M1202.9 1509.3h.1M1203.2 1474.7h.1M1204 1500.2h.1M1204.5 1497.4h.1M1205.2 1487.9h.1M1205.9 1506.8h.1M1206.4 1499.2h.1M1206.8 1478.3h.1M1207.5 1469.9h.1M1208.2 1451.8h.1M1208.5 1462.4h.1M1209 1505.8h.1M1209.8 1482.8h.1M1210.4 1509.3h.1M1211.2 1503.7h.1M1211.7 1512.4h.1M1212.2 1496.4h.1M1212.8 1512.4h.1M1213.4 1500.2h.1M1213.9 1525.5h.1M1214.5 1510.2h.1M1215 1494.5h.1M1215.7 1486.3h.1M1216.2 1543h.1M1217 1535h.1M1217.5 1525.6h.1M1218 1516.7h.1M1218.5 1533.1h.1M1219.2 1499.6h.1M1219.8 1487.6h.1M1220.4 1518.3h.1M1221.2 1525.1h.1M1221.5 1522.8h.1M1222 1519.1h.1M1222.5 1522.9h.1M1223.2 1553.4h.1M1223.8 1513.5h.1M1224.5 1537h.1M1225.2 1537.5h.1M1225.5 1529.2h.1M1226.5 1510.6h.1M1226.8 1511.3h.1M1227.5 1543.1h.1M1227.9 1537.3h.1M1228.7 1578.1h.1M1229 1544.9h.1M1229.9 1539.7h.1M1230.2 1511.5h.1M1230.9 1518.5h.1M1231.5 1509.5h.1M1232 1491.2h.1M1232.7 1506.8h.1M1233.2 1486.9h.1M1234 1525.2h.1M1234.5 1555.5h.1M1235 1548.2h.1M1235.5 1545.4h.1M1236.4 1537.3h.1M1236.8 1532.1h.1M1237.5 1524.2h.1M1238.2 1527.3h.1M1238.5 1570.3h.1M1239 1550.2h.1M1239.9 1505h.1M1240.5 1490.1h.1M1241 1503.1h.1M1241.7 1521.4h.1M1242.2 1577.9h.1M1242.8 1537.3h.1M1243.4 1496.8h.1M1244 1501.5h.1M1244.5 1509.8h.1M1245 1544.9h.1M1245.5 1523h.1M1246.2 1549.3h.1M1246.7 1549.8h.1M1247.4 1542.2h.1M1248.2 1519.4h.1M1248.7 1544h.1M1249.2 1555.5h.1M1249.9 1485.1h.1M1250.4 1525.6h.1M1250.9 1528.8h.1M1251.5 1514.7h.1M1252 1488.5h.1M1252.5 1487.5h.1M1253.5 1553.1h.1M1253.9 1495h.1M1254.5 1488.9h.1M1255.2 1520.1h.1M1255.5 1510.6h.1M1256 1521.7h.1M1256.9 1541.1h.1M1257.4 1476.8h.1M1258 1485.9h.1M1258.5 1479.1h.1M1259.2 1510.2h.1M1259.5 1532.9h.1M1260.2 1516.3h.1M1260.8 1506.3h.1M1261.4 1516.3h.1M1262.2 1500.6h.1M1262.7 1500.4h.1M1263.2 1509.2h.1M1264 1507.5h.1M1264.5 1496.9h.1M1265.2 1532.1h.1M1265.5 1507.3h.1M1266.2 1526.1h.1M1266.7 1542.1h.1M1267.4 1512.1h.1M1268.2 1498.3h.1M1268.5 1509.3h.1M1269 1472.8h.1M1269.9 1495.8h.1M1270.5 1479.4h.1M1270.8 1476.7h.1M1271.5 1500.3h.1M1272 1510.1h.1M1272.7 1495.7h.1M1273.4 1489.6h.1M1274 1502.1h.1M1274.4 1526.6h.1M1275.2 1489.2h.1M1275.5 1498.4h.1M1276 1502.2h.1M1276.7 1506.4h.1M1277.2 1455.8h.1M1278 1453.2h.1M1278.5 1479.7h.1M1279.2 1467.3h.1M1279.5 1509.3h.1M1280.4 1553.3h.1M1280.7 1538.2h.1M1281.2 1467.5h.1M1282 1488.9h.1M1282.5 1493.3h.1M1283 1517.7h.1M1283.8 1509.6h.1M1284.2 1504.2h.1M1284.8 1517.2h.1M1285.7 1497.1h.1M1286.2 1457.4h.1M1286.7 1466.7h.1M1287.2 1495.4h.1M1287.9 1485.8h.1M1288.5 1511h.1M1289.2 1535.3h.1M1289.9 1499.7h.1M1290.4 1483.8h.1M1290.7 1480.2h.1M1291.5 1490.7h.1M1291.9 1502.2h.1M1292.5 1482.3h.1M1293.2 1477.8h.1M1293.9 1490.9h.1M1294.5 1478.9h.1M1295 1490.9h.1M1295.7 1519.8h.1M1296.2 1480.7h.1M1296.5 1474.7h.1M1297.2 1473.2h.1M1297.9 1485.2h.1M1298.5 1495.5h.1M1299 1482.8h.1M1299.8 1506.6h.1M1300.2 1457.9h.1M1300.7 1500h.1M1301.5 1491.2h.1M1302 1459.7h.1M1302.5 1467.5h.1M1303.2 1520.7h.1M1303.9 1482.1h.1M1304.2 1479.6h.1M1304.8 1523.2h.1M1305.5 1530h.1M1306.2 1521.7h.1M1306.9 1486.6h.1M1307.5 1499.9h.1M1307.9 1548.3h.1M1308.5 1528.9h.1M1309 1526.5h.1M1309.5 1494.5h.1M1310.2 1476.8h.1M1310.7 1484.6h.1M1311.5 1529.5h.1M1312 1542.6h.1M1312.5 1525.1h.1M1313.2 1500.8h.1M1313.9 1546h.1M1314.2 1542.8h.1M1314.9 1550.2h.1M1315.5 1558.5h.1M1316.2 1548.9h.1M1316.5 1540.9h.1M1317.4 1504.9h.1M1317.9 1507.2h.1M1318.4 1539.3h.1M1318.9 1540.6h.1M1319.8 1525.3h.1M1320.2 1545h.1M1320.8 1497.8h.1M1321.2 1522.7h.1M1321.9 1502.4h.1M1322.5 1531.1h.1M1323.2 1514.3h.1M1323.5 1505.2h.1M1324.5 1490.4h.1M1325 1495h.1M1325.5 1503.8h.1M1326 1498.2h.1M1326.9 1490.8h.1M1327 1506.5h.1M1328 1509.6h.1M1328.2 1515.5h.1M1329 1516.5h.1M1329.5 1505.6h.1M1330.2 1486.6h.1M1330.8 1493.7h.1M1331.2 1487.1h.1M1332 1521.9h.1M1332.7 1494.4h.1M1333 1491.8h.1M1333.7 1500.2h.1M1334.2 1543.9h.1M1334.9 1506.3h.1M1335.5 1500h.1M1336 1468.1h.1M1336.5 1500.4h.1M1337.2 1506.1h.1M1337.8 1504.4h.1M1338.2 1519.9h.1M1339.2 1542.2h.1M1339.7 1517.4h.1M1340.4 1502.2h.1M1340.8 1460.4h.1M1341.5 1467.7h.1M1342 1496.8h.1M1342.7 1497.9h.1M1343 1499.2h.1M1343.9 1495.8h.1M1344.2 1455.1h.1M1344.9 1480.6h.1M1345.5 1479.8h.1M1346.2 1469.6h.1M1346.7 1441.1h.1M1347 1461.3h.1M1347.7 1465.1h.1M1348.5 1474.7h.1M1349.2 1479.6h.1M1349.4 1447.8h.1M1350.2 1431.7h.1M1350.8 1453.7h.1M1351.2 1457.1h.1M1351.9 1467.9h.1M1352.5 1497.6h.1M1353 1476.5h.1M1353.9 1470.1h.1M1354.4 1496h.1M1354.8 1472.7h.1M1355.4 1439.3h.1M1356 1467.4h.1M1356.5 1490.4h.1M1357.2 1435.3h.1M1357.8 1417.8h.1M1358.5 1431.5h.1M1359.2 1436.4h.1M1359.5 1412.8h.1M1360 1439.9h.1M1360.7 1413h.1M1361.5 1414.9h.1M1361.8 1426.5h.1M1362.4 1408.5h.1M1363 1423.4h.1M1363.5 1445.9h.1M1364.2 1468.9h.1M1364.8 1423.4h.1M1365.5 1418.7h.1M1366.2 1446.5h.1M1366.7 1390h.1M1367.2 1402h.1M1367.8 1407.9h.1M1368.4 1418.5h.1M1369 1420.1h.1M1369.5 1455.9h.1M1370 1470.3h.1M1370.5 1466.9h.1M1371.2 1406.1h.1M1371.8 1395.9h.1M1372.5 1401.1h.1M1373 1446.4h.1M1373.5 1458.4h.1M1374.2 1453.4h.1M1374.8 1422.4h.1M1375.5 1408.3h.1M1375.9 1417.4h.1M1376.5 1421.7h.1M1377.2 1446.5h.1M1377.5 1432h.1M1378.4 1412.4h.1M1378.9 1452.2h.1M1379.5 1437.8h.1M1380 1426.5h.1M1380.5 1440.4h.1M1381.2 1443.7h.1M1382 1444.8h.1M1382.5 1440.2h.1M1383 1414.5h.1M1383.5 1436.8h.1M1384.2 1400h.1M1385 1418.6h.1M1385.4 1435.2h.1M1385.9 1447.6h.1M1386.5 1450h.1M1387.2 1485.6h.1M1387.7 1476.5h.1M1388.5 1480.9h.1M1389 1449.1h.1M1389.7 1435.2h.1M1390.2 1439.3h.1M1390.7 1453.9h.1M1391.2 1460h.1M1391.9 1485.7h.1M1392.5 1467.5h.1M1393 1498.7h.1M1393.7 1453.3h.1M1394 1473.8h.1M1394.8 1490h.1M1395.2 1475.4h.1M1396 1473h.1M1396.5 1453.8h.1M1397 1444.5h.1M1397.8 1462.6h.1M1398.2 1451.2h.1M1398.9 1465.4h.1M1399.5 1475.4h.1M1399.9 1484.8h.1M1400.8 1478.7h.1M1401.2 1502.3h.1M1402 1498h.1M1402.2 1523.8h.1M1403 1510.9h.1M1403.5 1506.8h.1M1404.2 1540.8h.1M1404.7 1504.3h.1M1405.2 1513h.1M1406 1507.8h.1M1406.5 1520.4h.1M1407 1519.3h.1M1407.7 1515.7h.1M1408.5 1499.7h.1M1408.8 1507h.1M1409.5 1541.6h.1M1410.2 1503.3h.1M1410.8 1500.7h.1M1411.2 1480.1h.1M1411.8 1497.7h.1M1412.5 1499.5h.1M1413 1489h.1M1413.5 1555.6h.1M1414.2 1518.8h.1M1414.8 1557.7h.1M1415.4 1517.1h.1M1416 1532.6h.1M1416.5 1503.2h.1M1417.2 1517h.1M1417.8 1522.7h.1M1418.4 1510.7h.1M1418.9 1522.5h.1M1419.5 1493.9h.1M1420 1514.6h.1M1420.8 1497.3h.1M1421.4 1497.3h.1M1421.7 1554.6h.1M1422.5 1565h.1M1423 1576.4h.1M1423.5 1539.8h.1M1424 1517.8h.1M1424.7 1551.6h.1M1425.4 1522.1h.1M1425.9 1510.1h.1M1426.5 1519.8h.1M1427.2 1509.4h.1M1427.5 1498.2h.1M1428.2 1503.7h.1M1429 1491.3h.1M1429.2 1534.5h.1M1430.2 1583.6h.1M1430.7 1559.1h.1M1431.2 1534.6h.1M1431.7 1512.1h.1M1432.4 1534.7h.1M1432.8 1536.3h.1M1433.7 1560.9h.1M1434.2 1570.7h.1M1434.7 1561.7h.1M1435.2 1529.8h.1M1435.8 1575.2h.1M1436.5 1551.6h.1M1437.2 1503.2h.1M1437.5 1533.1h.1M1438.4 1559.1h.1M1439 1545.9h.1M1439.4 1543.5h.1M1440 1533.6h.1M1440.7 1520.3h.1M1441.2 1529.1h.1M1441.7 1510.7h.1M1442.4 1541.7h.1M1443 1549.7h.1M1443.7 1540.8h.1M1444.2 1496.4h.1M1444.8 1526.6h.1M1445.2 1522.3h.1M1445.9 1554.3h.1M1446.5 1539.5h.1M1447 1523h.1M1447.8 1486.9h.1M1448.2 1494h.1M1448.8 1515.7h.1M1449.2 1517.6h.1M1449.9 1494.4h.1M1450.7 1524.5h.1M1451 1519.1h.1M1451.7 1494.5h.1M1452.4 1494.2h.1M1452.9 1509.4h.1M1453.5 1515.3h.1M1454 1544.5h.1M1454.5 1501.6h.1M1455 1537.5h.1M1455.7 1498.9h.1M1456.5 1499.6h.1M1457.2 1507h.1M1457.5 1541.2h.1M1458 1519.2h.1M1458.8 1482.1h.1M1459.2 1482.8h.1M1460 1555.7h.1M1460.4 1477.5h.1M1461 1461h.1M1461.9 1494.3h.1M1462.5 1486.2h.1M1462.8 1497.8h.1M1463.5 1490.5h.1M1464 1467.3h.1M1464.7 1471.7h.1M1465 1499.9h.1M1465.8 1511.5h.1M1466.5 1494.4h.1M1467 1495.2h.1M1467.5 1498h.1M1468.2 1520.7h.1M1468.7 1517.1h.1M1469.4 1527.3h.1M1470 1510.7h.1M1470.7 1507.1h.1M1471 1477.4h.1M1471.7 1464.5h.1M1472.2 1456h.1M1472.8 1439.6h.1M1473.5 1457.3h.1M1474 1490.2h.1M1474.5 1490.4h.1M1475.2 1519.3h.1M1475.8 1484.9h.1M1476.5 1467.9h.1M1477 1468.5h.1M1477.5 1455.9h.1M1478.2 1456.2h.1M1478.9 1459.6h.1M1479.5 1438.8h.1M1479.8 1478.5h.1M1480.5 1463.7h.1M1481 1503.1h.1M1481.5 1484.5h.1M1482.2 1478.7h.1M1482.7 1505.6h.1M1483.4 1490.7h.1M1484 1466.2h.1M1484.7 1467.5h.1M1485.4 1463.3h.1M1485.8 1489.1h.1M1486.2 1495.6h.1M1486.9 1477h.1M1487.5 1481.5h.1M1488 1474.6h.1M1488.9 1463.1h.1M1489.5 1460.9h.1M1489.9 1470.1h.1M1490.5 1451.2h.1M1491.2 1473.5h.1M1491.5 1455.1h.1M1492.2 1466.6h.1M1492.8 1465.2h.1M1493.5 1486.1h.1M1493.9 1461.2h.1M1494.5 1470.9h.1M1495.2 1475.4h.1M1495.7 1474.6h.1M1496.5 1442.6h.1M1496.8 1483h.1M1497.5 1465.2h.1M1498.2 1492.6h.1M1498.7 1515h.1M1499.4 1508.9h.1M1500 1489.9h.1M1500.4 1498.1h.1M1501 1484.4h.1M1501.5 1478.4h.1M1502.2 1456.1h.1M1503 1439.9h.1M1503.5 1466.2h.1M1504 1456.5h.1M1504.7 1470.1h.1M1505.4 1474.2h.1M1505.9 1439.5h.1M1506.4 1426.3h.1M1507 1460.2h.1M1507.5 1482.7h.1M1508 1441.1h.1M1508.9 1459.4h.1M1509.2 1434.5h.1M1509.8 1446.8h.1M1510.5 1426h.1M1511 1450.5h.1M1511.8 1474h.1M1512.2 1473.2h.1M1513 1417.5h.1M1513.4 1441.2h.1M1513.9 1459.1h.1M1514.7 1428.3h.1M1515 1466.9h.1M1515.5 1447.7h.1M1516.2 1441.9h.1M1516.9 1451.2h.1M1517.7 1456.9h.1M1518.2 1449.4h.1M1518.7 1440.6h.1M1519.2 1449.7h.1M1519.7 1417.6h.1M1520.5 1443.8h.1M1521 1433.7h.1M1521.7 1445.4h.1M1522.2 1479.5h.1M1522.9 1510.2h.1M1523.5 1472.3h.1M1523.9 1461.2h.1M1524.5 1438.2h.1M1525.2 1435h.1M1525.9 1443.6h.1M1526.2 1469h.1M1527 1434.4h.1M1527.5 1455.2h.1M1528 1460.8h.1M1528.5 1454.4h.1M1529.2 1457.5h.1M1529.7 1494.2h.1M1530.5 1468.4h.1M1531 1469.9h.1M1531.7 1422.6h.1M1532.2 1470.1h.1M1532.9 1489.1h.1M1533.4 1500.8h.1M1534 1468.9h.1M1534.5 1481.4h.1M1535.2 1474.2h.1M1535.9 1445.1h.1M1536.5 1477h.1M1537 1453.9h.1M1537.5 1451.2h.1M1538 1494h.1M1538.7 1464.4h.1M1539.2 1479.3h.1M1539.8 1461.1h.1M1540.2 1494.6h.1M1541 1506.1h.1M1541.5 1500.7h.1M1542.2 1530.3h.1M1543 1471.7h.1M1543.2 1475.8h.1M1543.9 1482.4h.1M1544.5 1472.6h.1M1545.2 1480.9h.1M1545.5 1470.1h.1M1546.2 1461.6h.1M1546.9 1510.2h.1M1547.5 1537h.1M1548.2 1517.1h.1M1548.7 1494.6h.1M1549 1523.2h.1M1550 1521.7h.1M1550.5 1539.7h.1M1551.2 1504.3h.1M1551.7 1478.2h.1M1552 1483.1h.1M1552.9 1514.2h.1M1553.5 1509.9h.1M1554 1475.6h.1M1554.4 1458.6h.1M1555.2 1459.6h.1M1555.8 1480.7h.1M1556 1451.7h.1M1557 1481.5h.1M1557.4 1493.9h.1M1558 1486.1h.1M1558.8 1498.4h.1M1559.2 1477.4h.1M1560 1470.8h.1M1560.2 1471.7h.1M1561 1504.7h.1M1561.5 1525.2h.1M1562.2 1528.4h.1M1562.5 1508.2h.1M1563.5 1467.2h.1M1563.8 1481.1h.1M1564.7 1457.7h.1M1565 1458.7h.1M1565.8 1495.6h.1M1566.2 1491.5h.1M1566.7 1454h.1M1567.5 1458.8h.1M1567.9 1477.1h.1M1568.7 1477.3h.1M1569.2 1452.3h.1M1569.7 1461.6h.1M1570.2 1464.9h.1M1571 1462.8h.1M1571.5 1456.8h.1M1572.2 1461.5h.1M1572.8 1467.3h.1M1573.5 1463.3h.1M1573.9 1421.7h.1M1574.4 1458.1h.1M1575 1454h.1M1575.7 1461.5h.1M1576.2 1485h.1M1576.8 1460.2h.1M1577.2 1452.2h.1M1578 1463.6h.1M1578.7 1480.7h.1M1579.2 1483h.1M1579.5 1453.4h.1M1580.4 1443.4h.1M1581 1445.5h.1M1581.7 1428.5h.1M1582.2 1458.6h.1M1582.8 1432.7h.1M1583.5 1461.5h.1M1583.8 1478.8h.1M1584.4 1459.3h.1M1584.9 1486h.1M1585.5 1461.1h.1M1586 1461.5h.1M1586.8 1484.6h.1M1587.4 1494h.1M1588 1480.3h.1M1588.5 1520.9h.1M1589 1482.5h.1M1589.9 1469.9h.1M1590.2 1463.3h.1M1591 1461.6h.1M1591.5 1437.8h.1M1592.2 1439.2h.1M1592.5 1458.8h.1M1593.4 1458.4h.1M1593.9 1440.7h.1M1594.2 1447.1h.1M1595 1450.4h.1M1595.5 1469.6h.1M1596.2 1504.6h.1M1596.8 1483.3h.1M1597.5 1500.8h.1M1598 1456.1h.1M1598.4 1469.9h.1M1599 1474.9h.1M1599.5 1499.2h.1M1600.4 1503.2h.1M1600.9 1507.3h.1M1601.7 1506.8h.1M1602 1493.3h.1M1602.9 1474.7h.1M1603.4 1496.4h.1M1603.9 1499.7h.1M1604.4 1509.6h.1M1605 1500.6h.1M1605.7 1510.5h.1M1606.4 1533.7h.1M1606.8 1532.7h.1M1607.2 1512.5h.1M1608 1511.1h.1M1608.5 1506.7h.1M1609 1534.2h.1M1609.7 1535.9h.1M1610.4 1516.5h.1M1610.9 1505.5h.1M1611.5 1502.6h.1M1612 1495.3h.1M1612.5 1527h.1M1613.2 1532h.1M1613.8 1522.9h.1M1614.4 1544h.1M1615 1548.2h.1M1615.7 1536.8h.1M1616 1508.7h.1M1616.8 1532.1h.1M1617.5 1536.7h.1M1618 1539.7h.1M1618.5 1545.8h.1M1619 1544.4h.1M1619.8 1517.3h.1M1620.2 1510h.1M1621 1548.7h.1M1621.5 1534.1h.1M1622 1543.1h.1M1622.8 1534.8h.1M1623 1536.7h.1M1623.7 1528.4h.1M1624.4 1524.6h.1M1624.9 1521.7h.1M1625.4 1538.2h.1M1626 1558h.1M1626.7 1556.2h.1M1627.4 1580.9h.1M1628 1549.3h.1M1628.7 1535.2h.1M1629 1536.9h.1M1629.8 1573.4h.1M1630 1523.8h.1M1630.9 1545.1h.1M1631.4 1520.5h.1M1632 1512.7h.1M1632.5 1496.4h.1M1633 1514.2h.1M1633.9 1519.4h.1M1634.5 1527.6h.1M1635.2 1557.9h.1M1635.5 1566.3h.1M1636 1532.4h.1M1636.7 1545.9h.1M1637.2 1558h.1M1638 1546.9h.1M1638.5 1538h.1M1639.2 1550.8h.1M1639.8 1539.1h.1M1640.4 1567.7h.1M1640.7 1564.7h.1M1641.4 1546.5h.1M1642 1543.2h.1M1642.5 1532h.1M1643.2 1549h.1M1643.8 1541.9h.1M1644.4 1536.2h.1M1644.9 1539.3h.1M1645.5 1546h.1M1646 1565.7h.1M1646.7 1550.4h.1M1647.2 1552.5h.1M1647.9 1559.6h.1M1648.5 1520.3h.1M1649 1526.5h.1M1649.7 1545.7h.1M1650.2 1518.4h.1M1650.8 1524.9h.1M1651.4 1535.1h.1M1651.9 1558.1h.1M1652.5 1535.8h.1M1653 1531.4h.1M1653.7 1550.8h.1M1654.5 1536.6h.1M1654.9 1570.6h.1M1655.5 1535.8h.1M1656.2 1573.6h.1M1656.8 1553.9h.1M1657.4 1567.9h.1M1657.9 1557.4h.1M1658.5 1594.4h.1M1659.2 1569h.1M1659.8 1549.8h.1M1660 1546.9h.1M1660.8 1550.8h.1M1661.4 1594.6h.1M1662 1578.3h.1M1662.5 1557.4h.1M1663 1575.1h.1M1663.9 1562.8h.1M1664.4 1559.7h.1M1665 1527.4h.1M1665.4 1526.8h.1M1666.2 1532.9h.1M1666.7 1547.7h.1M1667 1526.6h.1M1668 1559.3h.1M1668.4 1544.7h.1M1668.9 1526.8h.1M1669.5 1527.4h.1M1670.2 1516.6h.1M1670.9 1522.7h.1M1671.2 1515.8h.1M1672 1515.1h.1M1672.7 1532.8h.1M1673.2 1530.2h.1M1673.5 1552.1h.1M1674.2 1545.2h.1M1675 1521.3h.1M1675.5 1509.7h.1M1675.9 1511.1h.1M1676.7 1542.3h.1M1677.2 1516.4h.1M1677.7 1536.4h.1M1678.5 1517.8h.1M1678.9 1525.7h.1M1679.5 1539.8h.1M1680 1538.4h.1M1680.8 1522.8h.1M1681.2 1558.6h.1M1681.9 1524.8h.1M1682.5 1522.6h.1M1683.2 1512.6h.1M1683.5 1537.1h.1M1684.2 1515.6h.1M1685 1509.6h.1M1685.5 1507h.1M1686.2 1565.8h.1M1686.7 1528.8h.1M1687.4 1524.3h.1M1687.9 1519.4h.1M1688.2 1540.9h.1M1689 1521.5h.1M1689.7 1509.8h.1M1690 1514.3h.1M1690.9 1526.8h.1M1691.2 1523.4h.1M1691.9 1576h.1M1692.5 1556.4h.1M1693.2 1559.8h.1M1693.5 1522.3h.1M1694.2 1562.1h.1M1694.8 1531h.1M1695.2 1519.7h.1M1695.9 1517.1h.1M1696.7 1514.7h.1M1697.2 1535.8h.1M1697.9 1502.8h.1M1698.2 1497.9h.1M1699 1491.7h.1M1699.5 1525.2h.1M1700.2 1531.9h.1M1700.5 1564.5h.1M1701.4 1536.8h.1M1701.8 1568.9h.1M1702.5 1507.8h.1M1703 1502.6h.1M1703.7 1510h.1M1704.4 1528.8h.1M1704.9 1519.5h.1M1705.2 1539h.1M1706 1531.4h.1M1706.5 1531.1h.1M1707.2 1494.2h.1M1707.9 1490.9h.1M1708.4 1518.6h.1M1708.8 1504.5h.1M1709.5 1491.5h.1M1710 1522.8h.1M1710.8 1498.6h.1M1711.4 1509.3h.1M1711.8 1525.2h.1M1712.5 1530.4h.1M1713.2 1494.1h.1M1713.5 1540.3h.1M1714.2 1530.5h.1M1714.7 1517.7h.1M1715.5 1523.9h.1M1715.9 1523.6h.1M1716.5 1495.4h.1M1717.2 1479h.1M1717.9 1499.6h.1M1718.4 1528.6h.1M1719 1546.5h.1M1719.5 1511.2h.1M1720.2 1525.5h.1M1720.7 1534.2h.1M1721.2 1518.4h.1M1721.8 1493.3h.1M1722.5 1483.5h.1M1723 1475.5h.1M1723.7 1495h.1M1724.4 1529.4h.1M1724.7 1502.9h.1M1725.5 1522h.1M1726 1512.1h.1M1726.5 1522.4h.1M1727.2 1524.5h.1M1727.7 1558.3h.1M1728.2 1530.3h.1M1728.9 1497.2h.1M1729.5 1557.7h.1M1730.2 1533.1h.1M1730.5 1514.9h.1M1731.4 1502.4h.1M1731.7 1520.4h.1M1732.2 1530.3h.1M1733.2 1512h.1M1733.7 1531.4h.1M1734.2 1517.5h.1M1734.9 1527.5h.1M1735.2 1504.9h.1M1736 1497h.1M1736.5 1529.9h.1M1737 1513.1h.1M1737.5 1499.2h.1M1738.2 1543.3h.1M1739 1501.2h.1M1739.5 1511.7h.1M1740.2 1519.8h.1M1740.7 1531.4h.1M1741.4 1513.8h.1M1741.7 1494.1h.1M1742.2 1504.7h.1M1743 1509.3h.1M1743.5 1516.5h.1M1744.2 1476.2h.1M1744.7 1498.7h.1M1745.2 1524h.1M1745.8 1543.9h.1M1746.5 1530.2h.1M1747 1518.5h.1M1747.7 1507.7h.1M1748.2 1528h.1M1749 1555.6h.1M1749.5 1545.3h.1M1750.2 1547.7h.1M1750.7 1533.3h.1M1751.4 1537.7h.1M1751.8 1531.2h.1M1752.5 1545.8h.1M1753.2 1517.8h.1M1753.5 1505.6h.1M1754 1493.9h.1M1754.7 1479.4h.1M1755.4 1509h.1M1756 1527.5h.1M1756.5 1517.5h.1M1757.2 1502.3h.1M1757.7 1523.9h.1M1758.2 1513.8h.1M1759 1523h.1M1759.4 1537.6h.1M1760 1523h.1M1760.5 1532.5h.1M1761.2 1543.4h.1M1761.8 1561.8h.1M1762.5 1529.4h.1M1762.9 1563.9h.1M1763.7 1544.6h.1M1764 1511.4h.1M1764.9 1509.9h.1M1765.2 1536.9h.1M1765.8 1497.7h.1M1766.5 1494.2h.1M1767.2 1492h.1M1767.5 1558.8h.1M1768.4 1543.2h.1M1768.8 1532.4h.1M1769.4 1540.4h.1M1770 1515.8h.1M1770.8 1507.8h.1M1771.2 1523h.1M1771.9 1520.9h.1M1772.5 1508.7h.1M1773 1523.5h.1M1773.5 1519.9h.1M1774.2 1520h.1M1774.8 1538.7h.1M1775.2 1523.2h.1M1776 1522.1h.1M1776.4 1555h.1M1777 1526.4h.1M1777.5 1542.9h.1M1778 1533h.1M1779 1537.6h.1M1779.4 1568.8h.1M1779.9 1562.6h.1M1780.5 1522.1h.1M1781.2 1514.4h.1M1781.8 1518.2h.1M1782.2 1541.7h.1M1783 1537.9h.1M1783.5 1526h.1M1784.2 1512.6h.1M1784.9 1515h.1M1785.2 1541.6h.1M1785.8 1516.6h.1M1786.5 1532.5h.1M1787.2 1519.1h.1M1787.7 1535.4h.1M1788 1517h.1M1788.8 1539h.1M1789.5 1551.3h.1M1790 1531.7h.1M1790.7 1523.4h.1M1791 1539.4h.1M1791.9 1556.4h.1M1792.4 1545.5h.1M1793 1550.6h.1M1793.7 1524.9h.1M1794 1554.5h.1M1794.9 1537.5h.1M1795 1567.1h.1M1795.8 1565.2h.1M1796.5 1573.9h.1M1797 1545.3h.1M1797.7 1547h.1M1798.2 1562.9h.1M1798.7 1550.8h.1M1799.5 1535.3h.1M1800 1550.1h.1M1800.7 1547.8h.1M1801.2 1552.8h.1M1801.5 1533.2h.1M1802.4 1563h.1M1803 1549.8h.1M1803.7 1534.1h.1M1804 1546.9h.1M1804.8 1559.9h.1M1805.4 1580.2h.1M1805.9 1560.8h.1M1806.5 1564h.1M1807 1541.2h.1M1807.8 1547.3h.1M1808 1546.8h.1M1808.7 1580.2h.1M1809.5 1563.8h.1M1809.9 1554.8h.1M1810.7 1555.8h.1M1811 1555.4h.1M1811.8 1570.1h.1M1812.4 1556.4h.1M1812.9 1560h.1M1813.5 1551.2h.1M1814.2 1562.1h.1M1814.8 1554.6h.1M1815 1586.7h.1M1815.7 1586.8h.1M1816.4 1558.5h.1M1817.2 1555.2h.1M1817.8 1548.1h.1M1818.2 1559.4h.1M1818.5 1539.2h.1M1819.5 1563.6h.1M1819.8 1542h.1M1820.5 1555.4h.1M1821.2 1555.8h.1M1821.8 1557.6h.1M1822.2 1550.5h.1M1822.8 1563h.1M1823.4 1568.4h.1M1824 1558h.1M1824.5 1554.9h.1M1825.4 1543.6h.1M1825.9 1562.1h.1M1826.5 1552.1h.1M1826.9 1543.2h.1M1827.7 1571.9h.1M1828.2 1561.2h.1M1828.7 1552.8h.1M1829.2 1576.3h.1M1829.8 1553.7h.1M1830.4 1565.8h.1M1831 1530.6h.1M1831.8 1554.6h.1M1832.2 1553.7h.1M1832.9 1557.1h.1M1833.4 1558.7h.1M1834 1551.9h.1M1834.7 1561.8h.1M1835.2 1552.3h.1M1835.8 1548h.1M1836.4 1540.9h.1M1837 1540.5h.1M1837.4 1547.6h.1M1838.2 1546.2h.1M1838.7 1574.8h.1M1839.2 1558.2h.1M1839.9 1545.8h.1M1840.2 1579.9h.1M1841 1568.9h.1M1841.7 1547.2h.1M1842.2 1543.1h.1M1842.8 1567.5h.1M1843.2 1562.8h.1M1844 1565.8h.1M1844.7 1553h.1M1845.4 1545h.1M1845.9 1534.2h.1M1846.2 1554.5h.1M1847 1549h.1M1847.5 1553.7h.1M1848.2 1583.2h.1M1848.8 1571.6h.1M1849.4 1555.8h.1M1850 1538.7h.1M1850.5 1543.3h.1M1851 1561.3h.1M1851.5 1569.8h.1M1852.2 1584.7h.1M1852.9 1540.1h.1M1853.5 1571.2h.1M1854 1572.1h.1M1854.4 1580h.1M1855.2 1575h.1M1855.7 1549.4h.1M1856.2 1570.9h.1M1856.9 1573.9h.1M1857.4 1562.1h.1M1858 1571.5h.1M1858.7 1561.2h.1M1859.2 1548.4h.1M1859.8 1554.3h.1M1860.5 1553.7h.1M1860.9 1547.6h.1M1861.5 1546.7h.1M1862.2 1556.4h.1M1862.7 1559.3h.1M1863.2 1545.9h.1M1864 1543.1h.1M1864.7 1535.7h.1M1865.2 1549h.1M1865.8 1547.1h.1M1866.2 1572.9h.1M1866.9 1565.4h.1M1867.5 1559.4h.1M1868 1579.3h.1M1868.7 1562.5h.1M1869.4 1559.1h.1M1869.9 1544h.1M1870.5 1547.4h.1M1871 1548.2h.1M1871.5 1574.5h.1M1872 1555.9h.1M1872.8 1562.3h.1M1873.4 1557.3h.1M1873.9 1561.7h.1M1874.5 1571.2h.1M1875 1549.9h.1M1875.5 1549.2h.1M1876.2 1548.6h.1M1876.9 1548.5h.1M1877.5 1549.4h.1M1878 1556.5h.1M1878.7 1554.3h.1M1879.4 1546h.1M1879.9 1545.3h.1M1880.4 1540.1h.1M1881 1545.1h.1M1881.7 1538.3h.1M1882 1550.9h.1M1882.7 1539.2h.1M1883.4 1540.8h.1M1883.8 1542.7h.1M1884.5 1534.8h.1M1885 1569.9h.1M1885.7 1578.3h.1M1886.2 1566.5h.1M1886.8 1550.6h.1M1887.4 1558.6h.1M1888 1531.3h.1M1888.5 1532.7h.1M1889.4 1530.7h.1M1889.8 1547.6h.1M1890.2 1543.4h.1M1891 1536.3h.1M1891.5 1538.7h.1M1892.2 1535.7h.1M1892.9 1542.9h.1M1893.2 1534.6h.1M1894 1540.5h.1M1894.4 1536.6h.1M1895 1535.7h.1M1895.8 1544.9h.1M1896.2 1538h.1M1896.8 1551.9h.1M1897.5 1535.9h.1M1898.2 1535.3h.1M1898.5 1548.8h.1M1899 1556.5h.1M1900 1555h.1M1900.2 1564.4h.1M1900.8 1576h.1M1901.5 1559.2h.1M1902.2 1558.5h.1M1902.7 1544.1h.1M1903.4 1546.2h.1M1903.9 1557.7h.1M1904.5 1542.9h.1M1905 1553.6h.1M1905.5 1571.9h.1M1906.4 1546.6h.1M1906.8 1550.5h.1M1907.4 1556.4h.1M1908 1548.1h.1M1908.5 1536.8h.1M1909 1566.9h.1M1909.8 1568.9h.1M1910.5 1558.1h.1M1910.9 1543.5h.1M1911.7 1556.5h.1M1912.2 1556.3h.1M1912.5 1539.9h.1M1913.4 1531.1h.1M1914 1540h.1M1914.5 1532.5h.1M1915 1541.3h.1M1915.5 1542.3h.1M1916.4 1542h.1M1916.9 1558.2h.1M1917.2 1561.3h.1M1918 1545h.1M1918.5 1543.4h.1M1919.2 1565.8h.1M1919.9 1563.4h.1M1920.2 1537.1h.1M1920.8 1562.2h.1M1921.5 1546.8h.1M1922.2 1554.9h.1M1922.7 1561.5h.1M1923.4 1537h.1M1924 1534.7h.1M1924.2 1546.5h.1M1924.9 1555.5h.1M1925.5 1548.5h.1M1926.2 1547.7h.1M1926.8 1548.4h.1M1927.5 1541.5h.1M1927.8 1532h.1M1928.5 1538.5h.1M1929.2 1536h.1M1929.8 1546.9h.1M1930.2 1542.8h.1M1930.9 1548.8h.1M1931.5 1548.5h.1M1932.2 1563.1h.1M1932.5 1537.9h.1M1933.2 1551.8h.1M1933.7 1544.7h.1M1934.4 1544.7h.1M1935 1556.6h.1M1935.5 1537.4h.1M1936.2 1540.2h.1M1936.7 1550.7h.1M1937.4 1545.9h.1M1938 1551.3h.1M1938.5 1560.5h.1M1939.2 1537.9h.1M1939.7 1542.1h.1M1940.2 1546.4h.1M1941 1537.5h.1M1941.5 1544.9h.1M1941.9 1552.9h.1M1942.7 1543h.1M1943.2 1537.9h.1M1943.8 1534.4h.1M1944.4 1542.4h.1M1944.9 1555.2h.1M1945.7 1549.8h.1M1946 1549.1h.1M1946.8 1554.5h.1M1947.5 1537.3h.1M1947.9 1566.1h.1M1948.5 1568.3h.1M1949.2 1573.9h.1M1949.8 1542.5h.1M1950.2 1550.4h.1M1950.9 1547.1h.1M1951.2 1530.4h.1M1952 1539.1h.1M1952.5 1550.4h.1M1953.2 1548.1h.1M1953.8 1576.9h.1M1954.4 1567.1h.1M1955.2 1551.1h.1M1955.5 1568.6h.1M1956 1546.4h.1M1956.8 1526.1h.1M1957.2 1538.7h.1M1958 1535.3h.1M1958.7 1538.3h.1M1959.2 1540.8h.1M1959.7 1552.7h.1M1960.4 1550.6h.1M1960.9 1569.7h.1M1961.2 1557.6h.1M1962.2 1540.9h.1M1962.7 1549.3h.1M1963 1540.7h.1M1963.7 1554.4h.1M1964.5 1535.8h.1M1965 1533.7h.1M1965.7 1543.1h.1M1966.2 1546.1h.1M1966.5 1531.5h.1M1967.4 1543.3h.1M1968 1523.8h.1M1968.4 1545.2h.1M1969.2 1568h.1M1969.7 1547.7h.1M1970.2 1541.6h.1M1971 1545.1h.1M1971.5 1545.9h.1M1972 1528.6h.1M1972.5 1557.6h.1M1973.2 1570.4h.1M1973.7 1555.6h.1M1974.4 1555.9h.1M1974.9 1533.3h.1M1975.7 1560.1h.1M1976 1550.7h.1M1976.9 1548.7h.1M1977.4 1564.8h.1M1978 1572.8h.1M1978.5 1551.6h.1M1979 1549.1h.1M1979.5 1555.8h.1M1980.4 1546h.1M1980.9 1543.9h.1M1981.2 1564.2h.1M1982 1569.5h.1M1982.4 1560.9h.1M1983.2 1566.3h.1M1983.5 1549.5h.1M1984.2 1543.8h.1M1985 1560.2h.1M1985.7 1551.2h.1M1986 1554.2h.1M1986.5 1551.1h.1M1987.4 1537.2h.1M1988 1553.6h.1M1988.4 1554.7h.1M1989 1578.3h.1M1989.8 1572.6h.1M1990.2 1560.3h.1M1990.8 1561.4h.1M1991.5 1560h.1M1991.9 1569.5h.1M1992.8 1571.4h.1M1993 1564.9h.1M1993.9 1563.3h.1M1994.5 1557.5h.1M1995 1570.8h.1M1995.5 1568.5h.1M1996 1569h.1M1996.5 1566.3h.1M1997.2 1555.1h.1M1998 1552.9h.1M1998.5 1567.6h.1M1999 1563.1h.1M1999.5 1571.2h.1M2000.4 1583h.1M2001 1567.2h.1M2001.5 1582.6h.1M2001.9 1570.8h.1M2002.5 1562.9h.1M2003.2 1568.9h.1M2003.5 1569.2h.1M2004.2 1552h.1M2004.8 1553.5h.1M2005.4 1559.4h.1M2006 1553.6h.1M2006.7 1557.4h.1M2007 1560.4h.1M2007.8 1553.9h.1M2008.5 1562.3h.1M2009 1566.3h.1M2009.7 1568.8h.1M2010.2 1583.3h.1M2010.7 1566.6h.1M2011.4 1574h.1M2012 1569.2h.1M2012.4 1576.3h.1M2013 1563.8h.1M2013.7 1579.2h.1M2014.2 1573.1h.1M2014.8 1557.4h.1M2015.5 1582.4h.1M2016 1584.8h.1M2016.7 1567h.1M2017 1561h.1M2017.8 1547.5h.1M2018.5 1564.4h.1M2019.2 1573h.1M2019.7 1567.8h.1M2020.4 1555.4h.1M2020.7 1559.8h.1M2021.2 1570.7h.1M2022 1573.4h.1M2022.7 1575.4h.1M2023.2 1570.2h.1M2023.7 1558.6h.1M2024.2 1544.4h.1M2024.8 1553.5h.1M2025.2 1549.7h.1M2026 1565.1h.1M2026.7 1564.9h.1M2027 1561.1h.1M2028 1555.2h.1M2028.4 1563.9h.1M2029 1552.7h.1M2029.5 1543.7h.1M2030.2 1543.5h.1M2030.8 1538.9h.1M2031.2 1543.4h.1M2031.8 1563.9h.1M2032.5 1550.2h.1M2033 1559.9h.1M2033.7 1552h.1M2034.2 1565.8h.1M2034.9 1561.9h.1M2035.5 1576.8h.1M2035.9 1577.2h.1M2036.5 1563.2h.1M2037.2 1558.1h.1M2037.7 1536.7h.1M2038.5 1551.8h.1M2039 1551.7h.1M2039.4 1541.7h.1M2040.2 1532.8h.1M2040.9 1540.8h.1M2041.2 1545.4h.1M2042 1533h.1M2042.5 1548.6h.1M2042.9 1550.9h.1M2043.8 1557h.1M2044.2 1545.9h.1M2044.7 1544.2h.1M2045.5 1532.8h.1M2045.9 1516.6h.1M2046.5 1524.9h.1M2047 1526.5h.1M2047.7 1538.1h.1M2048.1 1536.2h.1M2048.8 1523.3h.1M2049.5 1542.9h.1M2049.9 1531.8h.1M2050.6 1534.2h.1M2051.4 1531.8h.1M2051.8 1519.1h.1M2052.2 1529.3h.1M2053 1524.3h.1M2053.6 1546.6h.1M2054 1536.9h.1M2054.8 1530.9h.1M2055.2 1537.2h.1M2055.8 1544.3h.1M2056.3 1564.5h.1M2057 1562.4h.1M2057.5 1550.5h.1M2058.3 1544.7h.1M2058.8 1556.3h.1M2059.4 1548.6h.1M2059.9 1534h.1M2060.5 1522.7h.1M2061.3 1539.6h.1M2061.8 1547.3h.1M2062.3 1551.8h.1M2063.1 1542.7h.1M2063.5 1549.5h.1M2064.1 1532.1h.1M2064.8 1549.9h.1M2065.2 1541.1h.1M2065.8 1537.2h.1M2066.6 1549.9h.1M2066.9 1518.9h.1M2067.8 1533.6h.1M2068.1 1533.1h.1M2068.8 1543.8h.1M2069.5 1550.3h.1M2069.8 1536.3h.1M2070.8 1550.9h.1M2071.3 1539.8h.1M2071.8 1534.7h.1M2072.4 1534.7h.1M2072.9 1537.4h.1M2073.5 1533.6h.1M2074.3 1540.3h.1M2074.6 1550.4h.1M2075.3 1531.2h.1M2076 1552.3h.1M2076.5 1550.7h.1M2076.9 1547.4h.1M2077.5 1544h.1M2078.3 1562.8h.1M2078.8 1538.8h.1M2079.5 1554.3h.1M2079.9 1540.6h.1M2080.8 1545.5h.1M2081 1534.6h.1M2081.9 1537.8h.1M2082.5 1555.3h.1M2083 1547h.1M2083.4 1555.3h.1M2083.9 1540.1h.1M2084.8 1534.7h.1M2085.2 1526.3h.1M2086 1545.4h.1M2086.5 1543.1h.1M2087 1560.3h.1M2087.8 1571.9h.1M2088.3 1562.9h.1M2088.8 1549.6h.1M2089.3 1550.1h.1M2090 1551.9h.1M2090.5 1548.2h.1M2091.3 1539.6h.1M2091.6 1538.3h.1M2092.3 1555.7h.1M2092.9 1566.5h.1M2093.3 1560.4h.1M2094.1 1567.6h.1M2094.8 1540.3h.1M2095.1 1550.7h.1M2095.8 1537.3h.1M2096.4 1551.1h.1M2097.1 1544.1h.1M2097.8 1544.9h.1M2098.2 1542.2h.1M2098.8 1553.8h.1M2099.5 1555.9h.1M2099.8 1549.1h.1M2100.8 1548h.1M2101 1559.4h.1M2101.8 1550.8h.1M2102.2 1530.6h.1M2102.8 1544.3h.1M2103.3 1546.2h.1M2103.9 1535.2h.1M2104.8 1561.7h.1M2105.3 1535.9h.1M2105.9 1549.9h.1M2106.6 1563.1h.1M2106.9 1557.1h.1M2107.5 1568.6h.1M2108 1570.8h.1M2108.6 1556.8h.1M2109.4 1563.8h.1M2110.1 1546h.1M2110.6 1545.8h.1M2111.1 1539.7h.1M2111.8 1538.4h.1M2112.2 1550h.1M2113 1528.1h.1M2113.5 1537.8h.1M2113.9 1524.8h.1M2114.5 1549.2h.1M2115.3 1562.7h.1M2115.9 1553.1h.1M2116.3 1556.3h.1M2117 1546.8h.1M2117.4 1539.8h.1M2118.2 1547.5h.1M2118.8 1546.5h.1M2119.3 1548.1h.1M2119.9 1549.2h.1M2120.5 1550.9h.1M2121.1 1544.9h.1M2121.5 1555.5h.1M2122.2 1548.1h.1M2122.8 1564.3h.1M2123.3 1571.1h.1M2124 1549.7h.1M2124.8 1553.1h.1M2125.3 1550.7h.1M2125.9 1560.4h.1M2126.4 1568.5h.1M2127.1 1567.6h.1M2127.5 1562.6h.1M2128.1 1572h.1M2128.8 1574.7h.1M2129.2 1571.2h.1M2129.9 1558.8h.1M2130.3 1566.6h.1M2131.2 1578h.1M2131.6 1585.7h.1M2132.1 1573.5h.1M2132.8 1590.6h.1M2133.4 1582.6h.1M2134.1 1578.6h.1M2134.4 1580.3h.1M2135 1559.1h.1M2135.8 1576.9h.1M2136.5 1574.1h.1M2136.9 1571.3h.1M2137.8 1575.1h.1M2138.1 1569.6h.1M2138.6 1554.9h.1M2139.4 1558.9h.1M2139.8 1553.7h.1M2140.4 1583.9h.1M2140.9 1573.6h.1M2141.5 1579.2h.1M2142.2 1569.5h.1M2142.8 1584.1h.1M2143.5 1570.6h.1M2143.9 1572.3h.1M2144.5 1591.7h.1M2145.1 1587.9h.1M2145.8 1586.3h.1M2146.5 1575.7h.1M2146.8 1561h.1M2147.5 1572.5h.1M2148.2 1552h.1M2148.6 1566.4h.1M2149.3 1556.2h.1M2150 1560.2h.1M2150.3 1574.1h.1M2151 1566.8h.1M2151.8 1562.3h.1M2152.1 1570h.1M2153 1578.5h.1M2153.3 1576.9h.1M2154 1563.2h.1M2154.6 1569.8h.1M2155.1 1577.7h.1M2155.8 1570.2h.1M2156.2 1566.9h.1M2156.9 1572.9h.1M2157.4 1584.5h.1M2158.2 1595.9h.1M2158.8 1575.2h.1M2159.3 1578.5h.1M2159.8 1563.8h.1M2160.3 1572.4h.1M2161.2 1566.6h.1M2161.6 1588.2h.1M2162.2 1571h.1M2162.8 1560.8h.1M2163.4 1578.4h.1M2163.8 1577.5h.1M2164.5 1572.7h.1M2165 1561.6h.1M2165.8 1563.5h.1M2166.4 1569h.1M2166.9 1590h.1M2167.4 1594.9h.1M2168.2 1578.3h.1M2168.8 1585.9h.1M2169.3 1570.8h.1M2169.8 1583.7h.1M2170.4 1559.9h.1M2171 1595.7h.1M2171.8 1578.3h.1M2172.2 1576.6h.1M2172.8 1583.9h.1M2173.2 1593.7h.1M2173.8 1581.3h.1M2174.8 1586.5h.1M2175 1584.9h.1M2175.8 1588.4h.1M2176.1 1573.3h.1M2176.9 1583.2h.1M2177.4 1587.6h.1M2178 1582.3h.1M2178.8 1575.1h.1M2179.3 1574.6h.1M2179.9 1572.2h.1M2180.4 1581.1h.1M2180.9 1586.4h.1M2181.6 1574.4h.1M2182.2 1585h.1M2182.8 1585h.1M2183.4 1578.1h.1M2184 1574.2h.1M2184.5 1573.4h.1M2185 1586.4h.1M2185.6 1606.1h.1M2186.3 1593.7h.1M2187 1573.9h.1M2187.3 1574.1h.1M2188.2 1569h.1M2188.5 1580.8h.1M2189.1 1579.2h.1M2189.8 1581.7h.1M2190.5 1570.8h.1M2190.9 1577.6h.1M2191.6 1581.2h.1M2192.3 1572.7h.1M2192.8 1585.5h.1M2193.2 1586.6h.1M2193.8 1588.2h.1M2194.4 1569.4h.1M2195 1573.2h.1M2195.8 1574.2h.1M2196.2 1565.7h.1M2196.8 1578.3h.1M2197.4 1577.9h.1M2198 1581.3h.1M2198.5 1569.6h.1M2199.3 1570.3h.1M2199.9 1577.6h.1M2200.4 1582.1h.1M2200.8 1572.5h.1M2201.5 1566.6h.1M2202.2 1580.9h.1M2202.6 1575.9h.1M2203.2 1570.1h.1M2204 1577.2h.1M2204.5 1573h.1M2205.1 1562.3h.1M2205.6 1561.7h.1M2206.4 1565.3h.1M2206.8 1545.5h.1M2207.4 1564.1h.1M2208.1 1553.4h.1M2208.8 1564.4h.1M2209.1 1576.9h.1M2209.9 1569.7h.1M2210.4 1550.9h.1M2210.9 1563.1h.1M2211.5 1572.5h.1M2212.1 1549.8h.1M2212.8 1551.8h.1M2213.2 1556h.1M2213.9 1561.1h.1M2214.4 1549.6h.1M2215.1 1575.3h.1M2215.8 1562.3h.1M2216.2 1571.6h.1M2216.8 1579.2h.1M2217.4 1548.5h.1M2217.9 1553.7h.1M2218.8 1559.3h.1M2219.1 1554.5h.1M2219.8 1568.8h.1M2220.3 1564.8h.1M2220.8 1564.6h.1M2221.5 1558.4h.1M2222 1553.6h.1M2222.5 1558.7h.1M2223.1 1572.4h.1M2224 1556.6h.1M2224.3 1552.4h.1M2225.1 1558.8h.1M2225.5 1568h.1M2226.3 1549.8h.1M2226.8 1561.8h.1M2227.5 1561h.1M2228.1 1548h.1M2228.6 1557.2h.1M2229.1 1559h.1M2229.8 1574.5h.1M2230.2 1558.5h.1M2231 1556.2h.1M2231.4 1560.4h.1M2232.1 1541.7h.1M2232.5 1544.3h.1M2233.4 1535h.1M2233.9 1549.3h.1M2234.3 1541.1h.1M2235.1 1540.7h.1M2235.8 1545.9h.1M2236.1 1542.1h.1M2236.9 1536.8h.1M2237.4 1540.8h.1M2238.1 1548h.1M2238.6 1541.6h.1M2238.9 1541.8h.1M2239.8 1553.5h.1M2240.1 1561.9h.1M2240.9 1563.9h.1M2241.3 1549.4h.1M2242.2 1544.4h.1M2242.8 1542h.1M2243.2 1543.9h.1M2243.8 1564.2h.1M2244.2 1569.2h.1M2245 1551.4h.1M2245.8 1552.7h.1M2246.2 1535.2h.1M2246.9 1569.9h.1M2247.3 1566.5h.1M2248.1 1545.3h.1M2248.4 1554h.1M2249 1575.2h.1M2249.6 1547.4h.1M2250.3 1541.7h.1M2250.9 1545.6h.1M2251.5 1560.8h.1M2252.1 1556.3h.1M2252.5 1546.2h.1M2253.4 1556.2h.1M2253.9 1567.7h.1M2254.4 1559.3h.1M2255.1 1543.4h.1M2255.6 1546.4h.1M2256 1561.3h.1M2256.6 1555.4h.1M2257.2 1576.5h.1M2258 1576.4h.1M2258.5 1565.3h.1M2259.1 1563.6h.1M2259.8 1547.3h.1M2260.2 1539.6h.1M2260.8 1551h.1M2261.3 1560.1h.1M2262.1 1565.2h.1M2262.8 1549.9h.1M2263.2 1562.7h.1M2263.8 1563.4h.1M2264.3 1559.7h.1M2264.9 1571.2h.1M2265.4 1555.8h.1M2266 1559h.1M2266.8 1565.7h.1M2267.3 1547.1h.1M2268 1558.7h.1M2268.4 1580.4h.1M2269.1 1559.6h.1M2269.8 1554.8h.1M2270.3 1538.1h.1M2270.8 1554.1h.1M2271.3 1573.1h.1M2272.2 1562.4h.1M2272.6 1554.8h.1M2273.3 1556.4h.1M2273.9 1555.4h.1M2274.4 1561.8h.1M2275 1579.6h.1M2275.4 1571.7h.1M2276.2 1562.7h.1M2276.6 1556.9h.1M2277.4 1572.8h.1M2277.9 1577.2h.1M2278.3 1575.5h.1M2279.2 1558.5h.1M2279.6 1562.2h.1M2280.2 1577.9h.1M2280.8 1578.7h.1M2281.5 1571.6h.1M2282.1 1561.2h.1M2282.6 1579.2h.1M2283.1 1568.7h.1M2283.8 1559.9h.1M2284.2 1570.2h.1M2284.9 1564.8h.1M2285.5 1578.1h.1M2286.1 1554.4h.1M2286.8 1552.2h.1M2287.2 1565.8h.1M2287.9 1561.6h.1M2288.4 1565h.1M2288.9 1562.5h.1M2289.5 1570.8h.1M2290.1 1569.5h.1M2290.8 1577.9h.1M2291.3 1567.8h.1M2292 1564h.1M2292.6 1572.6h.1M2293.3 1559.6h.1M2293.9 1566.4h.1M2294.4 1552h.1M2294.9 1579.2h.1M2295.5 1569.7h.1M2296.1 1561.4h.1M2296.6 1580.3h.1M2297.2 1576.6h.1M2298 1579.2h.1M2298.4 1572.3h.1M2299 1571.1h.1M2299.8 1569.6h.1M2300.3 1567.5h.1M2300.8 1566.7h.1M2301.4 1577.1h.1M2301.8 1586.2h.1M2302.4 1585.1h.1M2303.3 1585.5h.1M2303.8 1587.9h.1M2304.4 1580.3h.1M2304.8 1576.3h.1M2305.6 1576.3h.1M2306.1 1591.2h.1M2306.8 1574.4h.1M2307.1 1574.6h.1M2307.9 1566.9h.1M2308.3 1572.4h.1M2308.9 1576.7h.1M2309.6 1581.7h.1M2310 1574.9h.1M2310.8 1574.4h.1M2311.4 1579.1h.1M2311.9 1572.6h.1M2312.6 1568.1h.1M2313.1 1581.5h.1M2313.8 1578.3h.1M2314.2 1576.3h.1M2314.8 1588.9h.1M2315.6 1594.4h.1M2316 1587.5h.1M2316.5 1575h.1M2317.1 1595.7h.1M2317.8 1589.3h.1M2318.4 1595.1h.1M2319 1583.2h.1M2319.8 1568.7h.1M2320 1574.3h.1M2320.8 1588.3h.1M2321.3 1589h.1M2321.8 1586h.1M2322.5 1574.7h.1M2323.2 1576.4h.1M2323.5 1581.1h.1M2324.3 1572.2h.1M2324.8 1593.5h.1M2325.4 1570.1h.1M2326.2 1563.9h.1M2326.6 1564.1h.1M2327.1 1592.9h.1M2327.9 1581.5h.1M2328.5 1569.5h.1M2329 1583.3h.1M2329.5 1577.5h.1M2330.3 1598.6h.1M2330.8 1576.3h.1M2331.3 1579.4h.1M2331.9 1567h.1M2332.6 1576.8h.1M2333.2 1584.8h.1M2333.8 1594.1h.1M2334.2 1569.7h.1M2335 1569.3h.1M2335.3 1574.2h.1M2335.9 1568.2h.1M2336.6 1579.8h.1M2337.2 1562.8h.1M2337.8 1565.9h.1M2338.2 1563.4h.1M2339 1588.3h.1M2339.8 1577h.1M2340.1 1593.1h.1M2340.8 1572h.1M2341.4 1559.6h.1M2341.8 1553.8h.1M2342.6 1557.8h.1M2343 1567.3h.1M2343.6 1570.5h.1M2344.2 1556.5h.1M2345 1563.6h.1M2345.3 1567.9h.1M2346.1 1566.2h.1M2346.4 1580.4h.1M2347.1 1569.9h.1M2347.8 1564.2h.1M2348.4 1567.3h.1M2348.9 1571.5h.1M2349.6 1560.9h.1M2350 1572.7h.1M771.2 1418.6h.1M880.2 1338.6h.1M898.8 1340.9h.1M901.1 1394.2h.1M944 1404.7h.1M999.7 1407h.1M1090 1400h.1M1092.5 1357.1h.1M1144.5 1432.5h.1M1203.8 1407h.1M1180.5 1582.1h.1M1043.8 1591.3h.1M971.9 1423.2h.1M1381.4 1328.1h.1M1386 1346.7h.1M1367.5 1360.6h.1M1347.8 1372.2h.1M1476.5 1344.4h.1M1579.7 1340.9h.1M1579.7 1352.5h.1M1321 1419.7h.1M1266.5 1582.1h.1M1631.9 1441.8h.1M1602.9 1415.1h.1M1490.4 1517.1h.1M1583.2 1517.1h.1M1766.5 1382.6h.1M1881.4 1429h.1M1844.2 1454.5h.1M1849 1468.4h.1M1830.4 1492.8h.1M1978.8 1519.5h.1M2036.8 1499.7h.1M2138.8 1534.5h.1"/>
<path class="b" d="M236.8 1552.5h.1M237.3 1561h.1M237.8 1583.6h.1M238.6 1560h.1M239 1563.8h.1M239.6 1560.8h.1M240.4 1579h.1M240.8 1565h.1M241.3 1579.6h.1M241.9 1552.6h.1M242.6 1548h.1M243.2 1560.9h.1M243.9 1546.1h.1M244.2 1579.5h.1M245.1 1552.4h.1M245.5 1561.5h.1M246 1575.4h.1M246.9 1563.8h.1M247.4 1541.9h.1M248 1545.3h.1M248.6 1554.3h.1M249.1 1562.4h.1M249.5 1567.1h.1M250.3 1553.6h.1M250.8 1598h.1M251.4 1549.4h.1M252 1537.2h.1M252.8 1548.6h.1M253.1 1565.6h.1M253.8 1541.4h.1M254.5 1560.2h.1M254.9 1535.6h.1M255.6 1537.3h.1M256.1 1536.9h.1M256.9 1559.9h.1M257.2 1569.5h.1M258.1 1571.1h.1M258.6 1588.5h.1M259.1 1576.2h.1M259.6 1577.9h.1M260.3 1584.9h.1M260.8 1563.9h.1M261.3 1560.5h.1M262.1 1570h.1M262.6 1551.3h.1M263.1 1559.3h.1M263.9 1577.9h.1M264.4 1564.5h.1M265.1 1575.7h.1M265.6 1558.1h.1M266.2 1577.4h.1M266.6 1580.6h.1M267.3 1583.9h.1M268.1 1567.7h.1M268.3 1566.5h.1M269.1 1582.2h.1M269.8 1582.6h.1M270.2 1545.9h.1M271.1 1584.9h.1M271.3 1561.8h.1M272.1 1575.9h.1M272.8 1580.5h.1M273.3 1587.2h.1M273.8 1565.6h.1M274.2 1565.3h.1M275.1 1557.6h.1M275.8 1527.6h.1M276.2 1535.5h.1M276.6 1531.2h.1M277.1 1559.8h.1M277.8 1494.4h.1M278.4 1559.9h.1M279.1 1522.3h.1M279.8 1502.2h.1M280.1 1481.7h.1M280.8 1482.2h.1M281.3 1449.6h.1M282.1 1536.3h.1M282.6 1441.5h.1M283.3 1433.2h.1M283.8 1449.8h.1M284.3 1543.6h.1M285.1 1405.5h.1M285.4 1411.4h.1M286.1 1404.3h.1M286.6 1398.8h.1M287.3 1381h.1M287.8 1523.9h.1M288.6 1371.3h.1M289.1 1372.2h.1M289.6 1392.6h.1M290.1 1531.8h.1M291.1 1536.9h.1M291.3 1384.7h.1M292.1 1411.7h.1M292.6 1402.2h.1M293.1 1406.8h.1M293.9 1536.3h.1M294.3 1427h.1M294.8 1439.5h.1M295.4 1416.2h.1M296.2 1549.3h.1M296.8 1556.7h.1M297.4 1446h.1M297.8 1552.1h.1M298.6 1463.9h.1M298.9 1542.5h.1M299.8 1439h.1M300.1 1541.3h.1M300.9 1443.4h.1M301.3 1471.8h.1M302.1 1487.6h.1M302.6 1556.6h.1M303.1 1493.1h.1M303.8 1484.4h.1M304.3 1545.7h.1M305.1 1483.1h.1M305.6 1548.3h.1M306.1 1519.2h.1M306.6 1550.5h.1M307.3 1508.6h.1M307.9 1504.7h.1M308.6 1492.8h.1M309.2 1485h.1M309.6 1466.6h.1M310.2 1530.6h.1M310.9 1495h.1M311.6 1474.6h.1M311.8 1484.8h.1M312.6 1477.3h.1M313.2 1545.4h.1M313.8 1470.8h.1M314.2 1472.9h.1M314.9 1531.2h.1M315.4 1455.4h.1M315.9 1469.3h.1M316.6 1465.8h.1M317.3 1464.1h.1M317.8 1559h.1M318.6 1481.3h.1M319.2 1534.5h.1M319.6 1468.9h.1M320.1 1473h.1M320.6 1460.6h.1M321.3 1470.5h.1M321.8 1478.9h.1M322.4 1468.3h.1M323.1 1484.8h.1M323.8 1478.9h.1M324.1 1483.5h.1M325.1 1493.6h.1M325.3 1544.4h.1M326.1 1572.3h.1M326.6 1497.1h.1M327.1 1506.5h.1M327.8 1532.6h.1M328.3 1522.3h.1M329.1 1541.2h.1M329.4 1510h.1M330.1 1530.7h.1M330.9 1544.9h.1M331.2 1534.2h.1M331.8 1555.2h.1M332.4 1556.9h.1M333.1 1559h.1M333.6 1584.2h.1M334.2 1563.5h.1M334.9 1558.4h.1M335.3 1575.5h.1M335.9 1556.1h.1M336.6 1576.8h.1M337.1 1554.3h.1M337.8 1579.8h.1M338.3 1585.1h.1M338.9 1584.8h.1M339.6 1583.3h.1M340.1 1578.5h.1M340.6 1585.4h.1M341.1 1583.8h.1M341.9 1573.6h.1M342.6 1569.9h.1M343.2 1556.7h.1M343.6 1555.2h.1M344.4 1544.7h.1M344.8 1535.5h.1M345.4 1505.5h.1M345.9 1528.6h.1M346.8 1521.8h.1M347.1 1491.7h.1M347.8 1480.3h.1M348.4 1446.4h.1M349.1 1458.4h.1M349.8 1451.3h.1M350.2 1427.9h.1M350.6 1422.2h.1M351.2 1440h.1M351.8 1435.6h.1M352.4 1443.9h.1M353.1 1440.2h.1M353.6 1433h.1M354.2 1429.5h.1M354.8 1453.7h.1M355.6 1443.4h.1M355.8 1554.2h.1M356.4 1437.1h.1M357.1 1446.6h.1M357.8 1569h.1M358.3 1463.9h.1M358.8 1465.4h.1M359.6 1459.8h.1M360.2 1459.9h.1M360.8 1458.3h.1M361.3 1497.7h.1M361.8 1496.5h.1M362.6 1556h.1M363.2 1494.6h.1M363.6 1473.4h.1M364.2 1490.3h.1M364.8 1499.8h.1M365.3 1496.8h.1M366.1 1503.3h.1M366.6 1513.9h.1M367.1 1505.3h.1M367.6 1503.6h.1M368.4 1545.3h.1M368.9 1545.5h.1M369.3 1523.6h.1M370.1 1503.9h.1M370.6 1500.4h.1M371.1 1501.6h.1M371.8 1503.1h.1M372.6 1478.5h.1M373.1 1476.2h.1M373.6 1482h.1M374.1 1543.2h.1M374.8 1551.3h.1M375.4 1448h.1M375.9 1446.9h.1M376.4 1414.6h.1M377.1 1407.3h.1M377.8 1392.2h.1M378.3 1369.9h.1M378.8 1388.1h.1M379.4 1379.7h.1M380.2 1373.9h.1M380.6 1378.8h.1M381.1 1551.3h.1M381.9 1360.4h.1M382.6 1384h.1M383.1 1559.7h.1M383.6 1547.2h.1M384.3 1384.1h.1M384.8 1584.2h.1M385.3 1418.2h.1M385.9 1556.3h.1M386.4 1579.1h.1M387.3 1543.3h.1M387.8 1462.4h.1M388.2 1546.9h.1M388.8 1482.3h.1M389.4 1500.4h.1M390.1 1573.2h.1M390.8 1560.8h.1M391.4 1529.8h.1M391.8 1552.3h.1M392.6 1536.5h.1M392.9 1530.6h.1M393.8 1542.5h.1M394.2 1556.9h.1M394.6 1565.7h.1M395.3 1572.5h.1M395.9 1571.6h.1M396.4 1554.5h.1M397.1 1555h.1M397.6 1563.9h.1M398.3 1575h.1M398.8 1549.5h.1M399.6 1532.2h.1M400.1 1563.9h.1M400.6 1535.6h.1M401.1 1521h.1M401.6 1511.6h.1M402.2 1527.4h.1M403.1 1550.5h.1M403.8 1516.2h.1M404.1 1508.7h.1M404.6 1509.6h.1M405.4 1503.2h.1M405.9 1504.6h.1M406.4 1500.3h.1M407.1 1548.4h.1M407.8 1507.7h.1M408.3 1470h.1M409.1 1471.9h.1M409.4 1479.8h.1M410.1 1557.2h.1M410.6 1520.6h.1M411.2 1457.5h.1M411.8 1447.1h.1M412.6 1457.9h.1M412.9 1467.2h.1M413.4 1457.4h.1M414.2 1471.3h.1M414.8 1493.2h.1M415.4 1455.1h.1M415.8 1502.2h.1M416.6 1510.3h.1M417.2 1551h.1M417.8 1494h.1M418.3 1500.7h.1M419.1 1504.2h.1M419.3 1510.3h.1M420.1 1541h.1M420.6 1541.5h.1M421.1 1534.6h.1M421.8 1554.4h.1M422.2 1518.4h.1M423.1 1496.2h.1M423.6 1531.4h.1M424.1 1524.9h.1M424.6 1524h.1M425.3 1533.6h.1M426.1 1528.1h.1M426.4 1500.8h.1M426.9 1544h.1M427.8 1592.4h.1M428.3 1570.9h.1M428.8 1533.9h.1M429.3 1558.7h.1M429.9 1535.9h.1M430.6 1541h.1M431.3 1522.1h.1M431.8 1526.2h.1M432.2 1523.9h.1M432.9 1535.5h.1M433.6 1547.4h.1M434.1 1544.7h.1M434.6 1545.1h.1M435.1 1546.8h.1M436.1 1542.8h.1M436.6 1575.1h.1M437.1 1537.1h.1M437.4 1550.9h.1M438.2 1552h.1M438.8 1541.6h.1M439.4 1524.6h.1M439.8 1559.7h.1M440.6 1560.9h.1M441.2 1542h.1M441.8 1558.7h.1M442.2 1587.5h.1M442.9 1548.1h.1M443.3 1559.4h.1M444.1 1553h.1M444.8 1534.6h.1M445.2 1558.1h.1M445.8 1550h.1M446.3 1568h.1M446.9 1538.5h.1M447.4 1539.8h.1M448.2 1518.3h.1M448.6 1548.3h.1M449.6 1528.3h.1M449.8 1524.3h.1M450.4 1585.2h.1M451.1 1560.8h.1M451.8 1575.7h.1M452.2 1561.9h.1M452.8 1575.1h.1M453.6 1568.1h.1M453.9 1564h.1M454.6 1552.8h.1M455.3 1567.5h.1M456.1 1569.2h.1M456.6 1570.9h.1M457.1 1578h.1M457.8 1578.1h.1M458.3 1589h.1M458.6 1555h.1M459.2 1575.4h.1M459.9 1602.9h.1M460.4 1580.9h.1M461.1 1591h.1M461.6 1599.1h.1M462.3 1578.1h.1M463.1 1571.2h.1M463.3 1575h.1M464.1 1579.9h.1M464.6 1588.2h.1M465.1 1579.5h.1M465.9 1577.1h.1M466.6 1582.5h.1M467.1 1588.4h.1M467.6 1539.9h.1M468.3 1538.2h.1M468.8 1541.8h.1M469.3 1526.5h.1M469.8 1533h.1M470.6 1512.1h.1M470.9 1517h.1M471.8 1495.6h.1M472.2 1520h.1M473.1 1479.6h.1M473.3 1493.9h.1M474.1 1546.1h.1M474.6 1474h.1M475.2 1480.3h.1M475.6 1554.3h.1M476.4 1438.5h.1M477.1 1457.7h.1M477.6 1517.1h.1M478.1 1540.1h.1M478.8 1439.8h.1M479.3 1409.9h.1M479.8 1400.3h.1M480.3 1380.6h.1M481.2 1360.2h.1M481.6 1550.4h.1M482.1 1361.6h.1M482.8 1379h.1M483.3 1542.8h.1M484.1 1372.8h.1M484.8 1386.1h.1M485.2 1376.3h.1M485.8 1379.2h.1M486.3 1368.3h.1M486.9 1383.7h.1M487.6 1543.4h.1M488.3 1383.7h.1M488.6 1380.5h.1M489.4 1549.6h.1M489.8 1408.5h.1M490.3 1400h.1M491.1 1409.5h.1M491.6 1422.2h.1M492.1 1434.6h.1M492.8 1539.3h.1M493.3 1448.1h.1M493.9 1426h.1M494.8 1451.7h.1M495.2 1475.5h.1M495.8 1481.7h.1M496.4 1538.3h.1M497.1 1484.1h.1M497.4 1541.7h.1M498.1 1476.9h.1M498.8 1512.1h.1M499.3 1544.8h.1M499.8 1524.4h.1M500.4 1522h.1M501.1 1534.4h.1M501.8 1542.1h.1M502.3 1535.5h.1M502.9 1534.5h.1M503.4 1528.7h.1M503.9 1528.3h.1M504.6 1513.2h.1M505.1 1492.8h.1M505.8 1491.1h.1M506.4 1547.3h.1M506.8 1477.5h.1M507.3 1454.8h.1M508.2 1422.7h.1M508.8 1449.1h.1M509.2 1436.4h.1M509.9 1445.9h.1M510.4 1424.9h.1M510.8 1427.8h.1M511.6 1417.7h.1M512.2 1382.4h.1M512.8 1389.5h.1M513.4 1400h.1M513.9 1401.3h.1M514.7 1408.4h.1M515.2 1412.1h.1M515.8 1424.5h.1M516.2 1450.5h.1M517 1437.8h.1M517.6 1460.2h.1M518.1 1537.5h.1M518.6 1443.1h.1M519.5 1473.5h.1M520.1 1540.4h.1M520.2 1447.4h.1M521 1529.3h.1M521.7 1553.2h.1M522.4 1489.8h.1M522.8 1469.7h.1M523.4 1484.3h.1M524 1486.9h.1M524.5 1479.9h.1M525.2 1495.8h.1M525.9 1506h.1M526.2 1494.6h.1M527 1503.4h.1M527.6 1542.6h.1M528.2 1535.9h.1M528.7 1527.8h.1M529.2 1529.4h.1M530 1506.2h.1M530.4 1551.3h.1M531.2 1545.6h.1M531.5 1565.9h.1M532.2 1543.1h.1M532.7 1559.4h.1M533.2 1565.7h.1M533.8 1497.2h.1M534.5 1570.8h.1M535.2 1542.8h.1M535.7 1564.5h.1M536.4 1515.8h.1M537.1 1547.6h.1M537.5 1538.6h.1M538.2 1534.1h.1M538.7 1517.4h.1M539.4 1544.3h.1M539.7 1532.6h.1M540.2 1522.8h.1M541 1512.2h.1M541.5 1513.4h.1M542.1 1485.8h.1M542.9 1498.6h.1M543.6 1507.2h.1M543.9 1525.4h.1M544.5 1532.7h.1M545.2 1488.9h.1M545.6 1459.9h.1M546.2 1466.5h.1M547.1 1433.4h.1M547.5 1443.6h.1M548.1 1515.8h.1M548.6 1427.9h.1M549.1 1530.3h.1M549.8 1433.5h.1M550.5 1440.5h.1M551.2 1433h.1M551.6 1411h.1M552.2 1518h.1M552.7 1400.9h.1M553.5 1533.2h.1M553.8 1391.4h.1M554.6 1375.4h.1M555.1 1523.1h.1M555.9 1382.6h.1M556.2 1408.8h.1M557 1435h.1M557.6 1439.6h.1M557.9 1421.5h.1M558.5 1426.4h.1M559.4 1530.6h.1M559.8 1439.5h.1M560.4 1433.1h.1M560.9 1456.4h.1M561.6 1525.2h.1M562.2 1444.6h.1M562.7 1443.5h.1M563.2 1429.5h.1M564 1457.3h.1M564.5 1425.2h.1M565.2 1515.6h.1M565.8 1531h.1M566.2 1435.7h.1M567 1423.3h.1M567.4 1435.9h.1M568 1439.4h.1M568.6 1410.8h.1M569.4 1396.4h.1M569.6 1396.1h.1M570.2 1385h.1M571.1 1373.6h.1M571.6 1370.8h.1M572.2 1521.1h.1M572.9 1357.9h.1M573.2 1345h.1M573.8 1495.4h.1M574.5 1367.6h.1M575 1374.7h.1M575.8 1378.9h.1M576.4 1538h.1M576.9 1403.1h.1M577.4 1414.1h.1M578 1436.2h.1M578.4 1519.2h.1M579.2 1427.8h.1M579.8 1433h.1M580.4 1449.7h.1M581.1 1556.2h.1M581.5 1478.8h.1M582 1431.5h.1M582.6 1449.5h.1M583.4 1449.1h.1M584.1 1480h.1M584.2 1477.6h.1M585.2 1496.7h.1M585.6 1522.1h.1M586.2 1473.5h.1M586.9 1486.8h.1M587.5 1491.2h.1M587.9 1516.2h.1M588.5 1513.5h.1M589.2 1529.3h.1M589.8 1533.6h.1M590.2 1545.1h.1M590.9 1525.3h.1M591.6 1538h.1M592.2 1530.8h.1M592.6 1539.8h.1M593.2 1509.4h.1M593.8 1524.7h.1M594.4 1526.7h.1M595.1 1513.8h.1M595.6 1546.6h.1M596.1 1520h.1M596.9 1525.8h.1M597.2 1536.7h.1M597.9 1502.1h.1M598.7 1506h.1M599.1 1523.3h.1M599.8 1499.1h.1M600.2 1524.7h.1M601 1514.8h.1M601.6 1511.1h.1M602.1 1550.1h.1M602.6 1497.3h.1M603.2 1505.9h.1M603.8 1508.5h.1M604.5 1491.4h.1M605 1488h.1M605.7 1473.2h.1M606.1 1468.6h.1M606.6 1462.2h.1M607.2 1472.9h.1M607.8 1475.7h.1M608.6 1459.1h.1M609.1 1464.4h.1M609.6 1529.9h.1M610.2 1561.5h.1M611 1484.3h.1M611.5 1473.3h.1M612.2 1455.8h.1M612.7 1558.6h.1M613.2 1445.4h.1M613.8 1454.1h.1M614.4 1484.4h.1M615 1476.5h.1M615.8 1565h.1M616.2 1557.1h.1M616.8 1492.3h.1M617.5 1536.2h.1M618.1 1516.2h.1M618.4 1552.6h.1M619.1 1506.7h.1M619.8 1504.5h.1M620.4 1499.6h.1M620.8 1512.7h.1M621.5 1511.7h.1M622.2 1550h.1M622.8 1502.4h.1M623.2 1545.7h.1M623.9 1542.9h.1M624.4 1515.8h.1M624.9 1492.7h.1M625.7 1534.7h.1M626.1 1555.7h.1M626.7 1543.9h.1M627.5 1537.7h.1M627.8 1520h.1M628.6 1516.8h.1M629.2 1515.7h.1M629.7 1527.6h.1M630.2 1551.7h.1M630.8 1547.5h.1M631.6 1549.2h.1M632.2 1553h.1M632.7 1525.9h.1M633.4 1538.2h.1M633.8 1562.6h.1M634.4 1531.1h.1M634.9 1528.4h.1M635.5 1530.6h.1M636.1 1526.5h.1M636.7 1541.9h.1M637.2 1548.1h.1M637.9 1572.1h.1M638.5 1565.5h.1M639.2 1543.2h.1M639.8 1548.3h.1M640.2 1564.3h.1M640.9 1528.1h.1M641.2 1547.9h.1M641.9 1532.5h.1M642.7 1533.4h.1M643.1 1545.7h.1M643.8 1559.1h.1M644.4 1519.2h.1M644.9 1556.2h.1M645.4 1521.3h.1M646 1551.2h.1M646.6 1554.9h.1M647.5 1565.4h.1M647.9 1562.2h.1M648.6 1555.7h.1M649.2 1536.7h.1M649.8 1529.3h.1M650.4 1545.1h.1M650.9 1574.9h.1M651.5 1562.4h.1M652 1559.3h.1M652.6 1578.5h.1M653.1 1578.9h.1M653.8 1567.2h.1M654.2 1570.1h.1M655 1562.5h.1M655.4 1560.5h.1M656.2 1567.8h.1M656.7 1562h.1M657.5 1574.1h.1M657.9 1577.7h.1M658.5 1565.5h.1M659 1546.1h.1M659.5 1560.3h.1M660.2 1563.1h.1M660.9 1573.6h.1M661.2 1556.7h.1M662.1 1546.1h.1M662.5 1545.6h.1M663.1 1541.9h.1M663.8 1541h.1M664.4 1560.5h.1M664.9 1512.8h.1M665.5 1528.8h.1M666.2 1531.2h.1M666.7 1522.3h.1M667.2 1522.4h.1M667.9 1526.5h.1M668.5 1512.9h.1M668.9 1538.4h.1M669.6 1502.5h.1M670.1 1514.9h.1M670.7 1505.1h.1M671.4 1484.7h.1M671.8 1502.5h.1M672.5 1541.2h.1M673.2 1477.2h.1M673.7 1487.9h.1M674.2 1464.7h.1M675 1459.3h.1M675.7 1469.7h.1M676.2 1454.9h.1M676.8 1444.6h.1M677.4 1455.7h.1M677.9 1424.2h.1M678.2 1422.5h.1M679 1421.3h.1M679.5 1415.2h.1M680.1 1406.8h.1M680.9 1408.6h.1M681.4 1436.1h.1M682.1 1398.2h.1M682.4 1411h.1M683.2 1399.8h.1M683.7 1393.2h.1M684.2 1439.7h.1M684.9 1536.3h.1M685.6 1428.2h.1M686.2 1527.8h.1M686.8 1427.9h.1M687.2 1450.6h.1M687.8 1430.7h.1M688.6 1451.3h.1M689.1 1463.2h.1M689.7 1429.9h.1M690.2 1419.2h.1M690.7 1422.9h.1M691.4 1449.3h.1M692 1540.6h.1M692.5 1465.6h.1M693.2 1465.5h.1M693.6 1519.5h.1M694.2 1467.6h.1M694.8 1451.8h.1M695.4 1504.2h.1M696.2 1448.3h.1M696.7 1540.1h.1M697.4 1457.3h.1M697.8 1474.9h.1M698.5 1451.4h.1M698.9 1444.5h.1M699.5 1450.4h.1M700.2 1417.6h.1M700.8 1421.7h.1M701.5 1429.4h.1M702 1521.2h.1M702.4 1385.1h.1M703.1 1420.6h.1M703.8 1414.1h.1M704.2 1411.4h.1M704.9 1397.9h.1M705.4 1394.9h.1M706.1 1539.5h.1M706.5 1560.5h.1M707.2 1384.5h.1M707.7 1405.5h.1M708.4 1396.6h.1M709.1 1414h.1M709.5 1520.2h.1M710 1407.5h.1M710.8 1411.9h.1M711.2 1402.4h.1M711.8 1538h.1M712.6 1428.8h.1M713.2 1422.6h.1M713.8 1437.2h.1M714.2 1468.8h.1M714.7 1463.3h.1M715.5 1459.5h.1M716.1 1557.8h.1M716.5 1472.2h.1M717.2 1477h.1M717.6 1531h.1M718.2 1533.9h.1M718.9 1481.3h.1M719.7 1478.7h.1M720 1517.1h.1M720.7 1531.9h.1M721.2 1532.8h.1M721.7 1534.8h.1M722.5 1527.4h.1M723.2 1544.1h.1M723.7 1532h.1M724.2 1516.7h.1M724.8 1522h.1M725.2 1501.5h.1M726 1526.2h.1M726.6 1502.1h.1M727.1 1526.2h.1M727.9 1547.7h.1M728.2 1513.4h.1M729.1 1477.9h.1M729.6 1520.4h.1M730.1 1493.4h.1M730.5 1490.8h.1M731.2 1549.6h.1M731.9 1529.5h.1M732.6 1554.8h.1M733.2 1492.5h.1M733.8 1519.8h.1M734.2 1542.3h.1M734.7 1416.3h.1M735.9 1449.4h.1M738.2 1497.1h.1M740.1 1488.9h.1M740.6 1471h.1M741.4 1482.5h.1M741.9 1476.2h.1M742.6 1496.8h.1M744.2 1441.7h.1M744.9 1439.1h.1M745.4 1423.1h.1M746.6 1402h.1M747.1 1494.6h.1M747.6 1507.9h.1M749.5 1482.4h.1M750.2 1521.3h.1M750.6 1488.8h.1M752.4 1501.5h.1M753.5 1503.9h.1M754.1 1430.8h.1M754.9 1444.5h.1M755.4 1523.5h.1M756.6 1493.2h.1M757.1 1464.4h.1M757.8 1521.8h.1M758.4 1496.9h.1M758.8 1510.2h.1M759.2 1437.6h.1M760.7 1516h.1M761.1 1487.7h.1M762.4 1508.9h.1M762.8 1404.8h.1M764.6 1480.2h.1M765.2 1468.4h.1M766.1 1511h.1M766.7 1463.2h.1M767 1438.9h.1M767.5 1481.1h.1M768.2 1495.8h.1M769 1480.7h.1M769.4 1492.5h.1M770.1 1488.3h.1M770.6 1530h.1M771.4 1524.1h.1M771.8 1399.2h.1M772.5 1413.3h.1M772.9 1518.4h.1M773.6 1531.4h.1M774.2 1481.6h.1M774.7 1526.1h.1M775.4 1463.1h.1M775.9 1459.4h.1M776.4 1501.8h.1M777 1439.2h.1M777.7 1397.8h.1M778.2 1450.3h.1M779 1528.7h.1M781.7 1485.6h.1M782.2 1461.8h.1M782.9 1435.2h.1M783.5 1493.9h.1M784.2 1506.6h.1M784.8 1517.6h.1M785.2 1480.9h.1M786 1475.9h.1M786.6 1524.5h.1M786.9 1428.7h.1M787.5 1398.9h.1M788.2 1454.4h.1M788.7 1492.4h.1M789.6 1515.3h.1M790.1 1522.2h.1M790.4 1465.2h.1M791.1 1456.2h.1M791.9 1469.9h.1M792.5 1500.5h.1M792.9 1436.2h.1M793.7 1461.1h.1M794.8 1502.6h.1M795.9 1460.1h.1M796.6 1493.8h.1M797 1490.9h.1M798.8 1510.1h.1M799.2 1485.8h.1M799.8 1494.6h.1M800.7 1497.8h.1M801.2 1454.6h.1M802.2 1493.8h.1M802.9 1432.6h.1M803.4 1487h.1M804 1452.8h.1M804.9 1518.6h.1M805.2 1507.5h.1M806.4 1492h.1M807 1412.7h.1M807.6 1432.7h.1M808.1 1453.5h.1M808.7 1427.8h.1M809.5 1518.1h.1M809.9 1473.9h.1M810.6 1502h.1M811.2 1491.2h.1M812.5 1406h.1M812.9 1433.6h.1M813.5 1523.2h.1M814.1 1472.5h.1M814.6 1518.6h.1M815.4 1481.9h.1M815.9 1462.7h.1M817.1 1423.9h.1M818.2 1426.5h.1M818.7 1452.4h.1M820.5 1461.3h.1M821.1 1421.6h.1M821.9 1524.2h.1M822.9 1524.3h.1M823.4 1533.7h.1M824.1 1432.1h.1M824.7 1480.6h.1M825.2 1504.1h.1M825.8 1452.6h.1M826.2 1454.5h.1M827.1 1528.5h.1M827.6 1506.4h.1M828.2 1457.6h.1M828.9 1446.8h.1M829.2 1413.9h.1M829.8 1429.6h.1M830.4 1470.5h.1M831.2 1456.9h.1M832.2 1521.2h.1M833 1479.6h.1M833.4 1486.2h.1M834.2 1489.5h.1M834.5 1503.8h.1M835.4 1455.9h.1M835.8 1466.5h.1M836.2 1468.2h.1M838.2 1549.9h.1M838.6 1530.9h.1M839.2 1510.2h.1M839.8 1448.7h.1M840.4 1568.8h.1M841.1 1490.3h.1M841.7 1554h.1M844.6 1473.6h.1M845.1 1467h.1M846.2 1555.9h.1M846.9 1538.9h.1M847.4 1486.7h.1M848.7 1562.4h.1M849.5 1553.8h.1M849.9 1568.8h.1M851.1 1564.9h.1M851.8 1567h.1M852.8 1537.3h.1M853.2 1498.4h.1M854.7 1565.2h.1M855.2 1562.2h.1M855.8 1523.1h.1M856.4 1537.4h.1M856.9 1511.3h.1M857.5 1525.6h.1M858.2 1482.6h.1M858.8 1498.9h.1M859.4 1515h.1M860 1494.6h.1M860.6 1535.7h.1M861.1 1514h.1M861.7 1542.9h.1M862.2 1490h.1M862.8 1503.8h.1M864.2 1485.8h.1M864.7 1419h.1M865.2 1425.3h.1M865.8 1409.8h.1M866.2 1376.9h.1M866.8 1388.3h.1M868.8 1394.4h.1M869.4 1484.3h.1M869.7 1403.3h.1M870.4 1388.6h.1M871.2 1371.5h.1M871.8 1335.7h.1M872.9 1379.1h.1M873.4 1392.8h.1M874 1246.2h.1M875 1434.2h.1M875.8 1438h.1M876.4 1409.4h.1M876.8 1288.4h.1M878 1341.7h.1M878.8 1337.3h.1M879.4 1425.5h.1M880.2 1346.7h.1M881.5 1408.6h.1M882.2 1321.6h.1M882.9 1324.3h.1M883.4 1229.3h.1M883.8 1281.5h.1M885.2 1398.1h.1M886.2 1411.5h.1M886.8 1332.4h.1M887.6 1290.1h.1M888.6 1366.5h.1M889.2 1398.2h.1M890.6 1454.9h.1M890.9 1273h.1M891.4 1364h.1M892.1 1455.8h.1M892.7 1320.8h.1M893.9 1384h.1M894.4 1380h.1M895 1289.7h.1M895.8 1249.1h.1M896.4 1386h.1M897 1356.5h.1M897.6 1462.6h.1M898.1 1249.8h.1M898.6 1458.8h.1M899.2 1428.9h.1M899.9 1249.1h.1M900.8 1268.8h.1M901.4 1332.2h.1M902.8 1316.1h.1M903.4 1397.9h.1M904 1310.9h.1M904.6 1262.7h.1M905.1 1373.9h.1M905.7 1339.5h.1M906.5 1297.2h.1M906.7 1299.6h.1M907.2 1355.7h.1M908.2 1283.6h.1M908.5 1381.9h.1M909.2 1461.9h.1M909.7 1479.1h.1M910.5 1327.7h.1M910.9 1416.9h.1M911.7 1267.3h.1M912.2 1498.1h.1M912.8 1523.1h.1M913.4 1334.3h.1M913.9 1326.2h.1M914.5 1375.3h.1M915 1264.7h.1M915.5 1293.2h.1M916.1 1321.1h.1M917 1247.8h.1M917.5 1494.9h.1M918.1 1505.6h.1M918.8 1418.1h.1M919 1516.9h.1M919.7 1247h.1M922.1 1509.8h.1M922.7 1254.8h.1M923.2 1251.2h.1M923.8 1404.1h.1M924.5 1402h.1M925.7 1526.2h.1M926.2 1475.8h.1M927 1326.7h.1M927.4 1407.5h.1M929.2 1481.7h.1M929.6 1312.1h.1M930.9 1240.5h.1M931.6 1458.3h.1M932.2 1299.7h.1M932.7 1492.1h.1M933.4 1282.1h.1M933.9 1251.8h.1M934.4 1329.9h.1M934.9 1401.1h.1M935.5 1377.3h.1M936.2 1398.5h.1M937.4 1488h.1M937.9 1308.1h.1M939.2 1541.1h.1M939.8 1252.2h.1M940.2 1399.3h.1M940.9 1483.8h.1M941.4 1473.9h.1M942.1 1502.4h.1M943.2 1488.2h.1M944.9 1325h.1M945.7 1319h.1M946.1 1418.1h.1M946.7 1293.7h.1M947.5 1490.7h.1M948.1 1500.5h.1M950.2 1387.2h.1M951.2 1444.6h.1M952.1 1462.4h.1M952.7 1510.8h.1M953.2 1435.5h.1M953.8 1444.8h.1M954.4 1410.2h.1M955 1419.4h.1M956 1524.5h.1M956.7 1427.1h.1M957.4 1327.5h.1M958 1491h.1M958.4 1529.9h.1M959.2 1464.6h.1M959.6 1472.9h.1M960.2 1479.7h.1M961 1486.5h.1M961.2 1399.1h.1M962.5 1345.2h.1M963.2 1444h.1M963.7 1397h.1M964.5 1428.2h.1M965.7 1433.2h.1M967.2 1524.1h.1M968.5 1494h.1M969.2 1437.5h.1M969.6 1366.6h.1M970.8 1372.7h.1M971.2 1421.7h.1M971.9 1504.7h.1M973.2 1410.7h.1M973.6 1404h.1M974.9 1520.6h.1M976 1522h.1M976.6 1401.9h.1M977.2 1362.1h.1M979.2 1470.8h.1M979.8 1482.8h.1M980.2 1472.9h.1M981 1386.5h.1M981.9 1377.5h.1M983.7 1349.8h.1M984.5 1430.1h.1M984.9 1480.2h.1M985.5 1385.4h.1M986 1438.9h.1M986.8 1419.2h.1M987.2 1448.3h.1M987.8 1430.7h.1M988.4 1447.8h.1M988.9 1336.9h.1M989.7 1517.1h.1M990.2 1335.4h.1M991.5 1428.8h.1M992 1526.5h.1M992.7 1517.1h.1M993.2 1534.9h.1M994.5 1495.7h.1M995.1 1519h.1M995.6 1534.9h.1M996 1455.4h.1M998 1534.7h.1M998.4 1472.4h.1M999.1 1462.8h.1M999.8 1381.1h.1M1002.1 1398.6h.1M1003.1 1412.4h.1M1003.8 1282.2h.1M1004.2 1367.9h.1M1004.9 1339.1h.1M1005.4 1522.9h.1M1007.9 1444.7h.1M1008.4 1478.3h.1M1009.5 1447.5h.1M1010.2 1416.9h.1M1011.5 1470.3h.1M1011.9 1513.2h.1M1012.4 1540.1h.1M1013.2 1398.7h.1M1013.8 1459.8h.1M1014.2 1478.5h.1M1015 1293.4h.1M1015.4 1445.8h.1M1016.2 1482.5h.1M1016.7 1392h.1M1017.1 1509.4h.1M1017.7 1500.7h.1M1019.1 1542.9h.1M1020.2 1452.5h.1M1021.9 1409.7h.1M1022.7 1363.8h.1M1023.2 1390.1h.1M1023.7 1452.9h.1M1025 1280.5h.1M1025.5 1434.5h.1M1026 1548.3h.1M1026.5 1436.1h.1M1027.2 1550.6h.1M1029 1429.9h.1M1030 1321h.1M1031.5 1382.8h.1M1032 1315h.1M1033.2 1507.2h.1M1034.4 1558.3h.1M1034.8 1409.9h.1M1035.4 1367.6h.1M1036 1547.7h.1M1036.5 1515.5h.1M1037.2 1372.7h.1M1037.9 1414.1h.1M1038.5 1415.5h.1M1039.7 1523.9h.1M1040 1552.6h.1M1040.5 1449.1h.1M1041.2 1453.6h.1M1042 1381.4h.1M1042.9 1344.8h.1M1043.8 1365.8h.1M1044 1543.6h.1M1044.8 1555.2h.1M1045.5 1526.6h.1M1046 1415.8h.1M1046.5 1394.7h.1M1047.2 1516.7h.1M1049.5 1526.9h.1M1050 1466.5h.1M1050.8 1443.1h.1M1051.2 1545.5h.1M1051.8 1532.3h.1M1052.4 1430.8h.1M1053 1487.4h.1M1053.8 1509.3h.1M1054.2 1526.9h.1M1056 1466.1h.1M1056.5 1402.6h.1M1057 1482.9h.1M1057.7 1394.8h.1M1058.9 1466h.1M1059.5 1390.4h.1M1060 1482.2h.1M1061.9 1361.4h.1M1062.5 1402.9h.1M1063 1397.9h.1M1063.7 1313.2h.1M1064.9 1448.8h.1M1065.4 1482.3h.1M1066.5 1487.9h.1M1067.8 1435.4h.1M1068.9 1491.6h.1M1069.5 1474.2h.1M1070.2 1396.8h.1M1070.5 1471.6h.1M1072.5 1329.9h.1M1072.9 1436.8h.1M1073.5 1349.5h.1M1074.2 1276.6h.1M1074.8 1344.9h.1M1075.4 1311.5h.1M1076 1401.1h.1M1076.5 1277.4h.1M1077.2 1281.9h.1M1077.5 1370.2h.1M1078.2 1498.5h.1M1079 1407.1h.1M1079.5 1303.5h.1M1079.9 1323.6h.1M1081.7 1269.9h.1M1082.4 1509.9h.1M1082.9 1344.9h.1M1083.7 1352.5h.1M1084.2 1310.6h.1M1084.7 1328.7h.1M1085.2 1326.7h.1M1085.8 1498.4h.1M1086.5 1420.7h.1M1087 1462.9h.1M1087.5 1431.7h.1M1088.2 1262.7h.1M1088.8 1345.3h.1M1089.4 1456.5h.1M1090.2 1364.4h.1M1091.2 1351.8h.1M1091.7 1419.9h.1M1092.5 1497.8h.1M1093 1293.3h.1M1093.5 1316.3h.1M1094 1522.9h.1M1094.5 1355.5h.1M1095.2 1331.7h.1M1096 1420.7h.1M1096.5 1470h.1M1097.2 1339.7h.1M1097.5 1311.7h.1M1098.2 1383.1h.1M1099.9 1527h.1M1101.2 1442.1h.1M1102 1361.4h.1M1102.5 1446.4h.1M1103 1509h.1M1103.5 1475.4h.1M1104 1370.6h.1M1105.5 1392.1h.1M1105.8 1306.6h.1M1106.7 1521.8h.1M1107.2 1539.8h.1M1108.2 1378.3h.1M1108.7 1315.2h.1M1109.4 1391.2h.1M1110 1391.1h.1M1110.8 1377.1h.1M1112.2 1475.9h.1M1113 1407.4h.1M1114.5 1449.9h.1M1115.2 1461.4h.1M1115.8 1521.9h.1M1117.8 1454.6h.1M1118.2 1533.8h.1M1118.9 1458h.1M1119.2 1425.1h.1M1120 1545.4h.1M1120.7 1467.6h.1M1121.2 1545.3h.1M1122 1453.5h.1M1122.8 1455.8h.1M1123.5 1460h.1M1124.2 1508.9h.1M1124.7 1515.6h.1M1125.2 1434.5h.1M1125.8 1349.3h.1M1126.5 1378.9h.1M1127.7 1356.4h.1M1128.7 1383.8h.1M1129.5 1385.8h.1M1130 1541.1h.1M1130.5 1515.2h.1M1131 1535.1h.1M1133.5 1422h.1M1134.2 1487.1h.1M1135.2 1423.5h.1M1136.2 1496.1h.1M1137 1504h.1M1137.8 1463.1h.1M1138.2 1443h.1M1139.4 1424.2h.1M1140.5 1527.3h.1M1141 1442.8h.1M1141.5 1455.9h.1M1142.4 1346.6h.1M1143 1521.5h.1M1143.5 1424.2h.1M1144.7 1519.4h.1M1145.4 1484.1h.1M1146.2 1525.1h.1M1147 1534.2h.1M1147.5 1363.7h.1M1148.2 1524.9h.1M1149.2 1513.7h.1M1150.4 1425.7h.1M1152.2 1536.6h.1M1153 1383.2h.1M1153.5 1490.8h.1M1154.2 1408.3h.1M1154.7 1412.9h.1M1155.2 1517.7h.1M1155.8 1480.5h.1M1156.4 1387h.1M1156.9 1464.3h.1M1157.7 1374h.1M1158.2 1350.9h.1M1158.9 1492.3h.1M1159.2 1473.3h.1M1160 1534.1h.1M1161 1351.7h.1M1161.5 1346.3h.1M1162.4 1478h.1M1163 1393h.1M1163.4 1522.9h.1M1164 1415.5h.1M1164.7 1356.2h.1M1165.4 1490.8h.1M1165.8 1527.3h.1M1166.2 1367.1h.1M1166.9 1402.8h.1M1167.7 1491.5h.1M1168.2 1430.3h.1M1170.5 1424.4h.1M1171 1468.9h.1M1171.8 1381.2h.1M1172.4 1522.2h.1M1172.9 1400.4h.1M1175.8 1459.4h.1M1176.5 1388.9h.1M1177 1514.8h.1M1177.7 1493.6h.1M1178.2 1396.2h.1M1180 1437.3h.1M1180.5 1411.8h.1M1181.8 1349h.1M1182.8 1504.2h.1M1183.5 1512.9h.1M1184 1399.5h.1M1185.2 1375h.1M1185.7 1387.5h.1M1186.4 1508.7h.1M1187 1428.8h.1M1187.4 1309.3h.1M1188.2 1509.9h.1M1188.8 1518.7h.1M1189.4 1480.8h.1M1189.8 1518.1h.1M1190.4 1497.2h.1M1191.2 1317.2h.1M1191.7 1367.4h.1M1192.2 1353.8h.1M1192.7 1514.7h.1M1193.4 1472.4h.1M1193.9 1362.4h.1M1194.7 1363.8h.1M1195 1435.9h.1M1196.4 1511.3h.1M1196.9 1455.9h.1M1197.4 1507.7h.1M1198.8 1458.5h.1M1199.2 1504.8h.1M1199.9 1317.6h.1M1200.2 1514.5h.1M1200.9 1408.2h.1M1201.5 1376.8h.1M1202.2 1367.9h.1M1203 1475.3h.1M1203.2 1364h.1M1204.5 1375.7h.1M1205.9 1356.5h.1M1206.2 1403.1h.1M1207.5 1487.7h.1M1208 1337.3h.1M1208.8 1396.2h.1M1209.9 1483.7h.1M1210.4 1428h.1M1211 1279.5h.1M1211.5 1256h.1M1212.2 1444.3h.1M1212.9 1499.2h.1M1214 1484.4h.1M1216.2 1435.2h.1M1217.4 1279.4h.1M1218 1494.8h.1M1218.7 1296.5h.1M1219.2 1391.8h.1M1220 1486.6h.1M1220.5 1411.1h.1M1220.9 1522.8h.1M1221.8 1526.8h.1M1222 1527.8h.1M1222.8 1465.6h.1M1223.2 1501.6h.1M1223.9 1501.4h.1M1225 1323h.1M1226.4 1363.9h.1M1227 1516.1h.1M1227.4 1327.9h.1M1228 1381.9h.1M1229 1489h.1M1229.9 1408.8h.1M1230.2 1501.5h.1M1231 1391.9h.1M1231.7 1443.6h.1M1233.2 1402.8h.1M1233.9 1412.7h.1M1234.5 1549h.1M1236.9 1337.1h.1M1237.4 1381.4h.1M1238 1551.5h.1M1238.5 1538.7h.1M1239.2 1350.4h.1M1240.2 1452.1h.1M1241 1392h.1M1241.7 1544.6h.1M1242 1460.5h.1M1242.8 1467.9h.1M1244 1522.3h.1M1245.2 1484.2h.1M1245.8 1339.3h.1M1246.2 1410.9h.1M1246.9 1535.7h.1M1247.2 1510.4h.1M1248.7 1465.5h.1M1249.4 1417.2h.1M1249.5 1457.9h.1M1250.4 1342.1h.1M1251.7 1404.5h.1M1252 1345.4h.1M1252.5 1519.7h.1M1253.4 1395.7h.1M1253.9 1364h.1M1254.2 1526.1h.1M1254.9 1360.8h.1M1256.7 1278.9h.1M1257.2 1414.4h.1M1258 1416h.1M1259.8 1506.8h.1M1260.4 1272.4h.1M1260.9 1477.3h.1M1261.7 1280.4h.1M1262.2 1414.2h.1M1262.7 1525.9h.1M1263.4 1286.6h.1M1264 1458.7h.1M1264.4 1466.2h.1M1265 1423.7h.1M1265.5 1371.9h.1M1266.2 1448.5h.1M1266.9 1427.3h.1M1267.9 1392.9h.1M1268.5 1397.2h.1M1270.2 1447h.1M1271.4 1426.8h.1M1272.7 1477.1h.1M1273.2 1362.8h.1M1273.9 1517.9h.1M1274.4 1436.1h.1M1275 1244.1h.1M1276.2 1390.8h.1M1276.7 1520.6h.1M1277.5 1514.1h.1M1279.2 1217.6h.1M1279.7 1517.2h.1M1280.2 1514.6h.1M1280.8 1420.5h.1M1281.5 1379.3h.1M1282.2 1497h.1M1282.8 1497.7h.1M1283.4 1226.6h.1M1283.9 1463.4h.1M1284.9 1504.3h.1M1285.7 1434h.1M1286.2 1237.5h.1M1287.9 1477.7h.1M1288.4 1349.2h.1M1289.2 1320.4h.1M1291 1274.3h.1M1291.4 1466.6h.1M1292.2 1446.7h.1M1293.2 1229.9h.1M1293.8 1465.5h.1M1294.5 1304.9h.1M1295.2 1234.5h.1M1295.7 1339.5h.1M1296.9 1320.7h.1M1297.5 1404.6h.1M1298 1479.9h.1M1298.5 1320.1h.1M1299.2 1484.5h.1M1299.5 1337.9h.1M1300.2 1314.7h.1M1301 1322.6h.1M1301.5 1173h.1M1302 1316.4h.1M1303 1382.2h.1M1305 1321.2h.1M1306.8 1482.6h.1M1307.2 1247.1h.1M1308 1405.1h.1M1309.5 1335.4h.1M1310.4 1342.1h.1M1311.5 1346.2h.1M1312.7 1279.8h.1M1313.2 1290.6h.1M1313.9 1470.7h.1M1315 1270.6h.1M1316.2 1380.2h.1M1316.7 1270.5h.1M1318 1405.2h.1M1318.5 1354.9h.1M1319.2 1400.4h.1M1319.8 1292.8h.1M1320.2 1383.8h.1M1320.7 1349.3h.1M1322 1288.9h.1M1323.2 1448.2h.1M1323.9 1323.5h.1M1326.2 1267.7h.1M1326.7 1435.1h.1M1327.2 1206.1h.1M1327.8 1397.9h.1M1328.5 1422h.1M1329 1254.7h.1M1329.7 1246.4h.1M1331 1188.5h.1M1331.4 1458.5h.1M1331.9 1425.8h.1M1332.5 1461.6h.1M1333 1280.9h.1M1333.9 1340.1h.1M1334.2 1448.1h.1M1336 1320.7h.1M1336.5 1455.6h.1M1337.4 1391.8h.1M1337.9 1422.7h.1M1339.7 1277.9h.1M1340.4 1177.3h.1M1342 1385.7h.1M1342.5 1320.5h.1M1343.2 1416.5h.1M1344.2 1373.2h.1M1345.5 1246.1h.1M1346 1439.1h.1M1346.5 1319.8h.1M1347.4 1379.4h.1M1349.2 1361.1h.1M1349.5 1306.1h.1M1350.2 1461.7h.1M1350.8 1253.6h.1M1352 1254.6h.1M1352.5 1284.6h.1M1353.2 1186.8h.1M1353.5 1456.7h.1M1354.2 1368h.1M1355 1359.8h.1M1355.5 1414.7h.1M1356.2 1376.2h.1M1356.5 1279.7h.1M1357.2 1389.9h.1M1357.7 1425.5h.1M1358.5 1432.1h.1M1358.9 1244.4h.1M1359.5 1239.8h.1M1360.9 1450.1h.1M1361.4 1377.5h.1M1361.8 1436.2h.1M1363 1438h.1M1363.8 1373.4h.1M1366.2 1343.6h.1M1366.8 1436.6h.1M1367 1350.6h.1M1369 1356.6h.1M1369.5 1218.1h.1M1370 1259h.1M1370.7 1183h.1M1372 1335.1h.1M1372.7 1182.7h.1M1373.2 1186.2h.1M1373.5 1288.5h.1M1374.7 1382.6h.1M1375.5 1363.9h.1M1377.2 1271.8h.1M1377.8 1394.5h.1M1378.4 1365.6h.1M1379 1439h.1M1379.5 1384.1h.1M1380 1450.6h.1M1381.2 1458.1h.1M1381.7 1215h.1M1382.2 1424.9h.1M1383 1282.4h.1M1383.8 1293.4h.1M1384.2 1445.5h.1M1384.9 1294.3h.1M1385.5 1291.8h.1M1385.9 1363.3h.1M1386.5 1451.1h.1M1387.4 1451.2h.1M1387.9 1403.9h.1M1388.4 1226.1h.1M1389 1348.7h.1M1389.5 1430.3h.1M1390 1256h.1M1391.2 1368.4h.1M1391.9 1477.9h.1M1392.2 1425.4h.1M1393 1382.4h.1M1393.8 1405.1h.1M1394.2 1362.5h.1M1395.5 1422.8h.1M1396 1251.1h.1M1397 1427.4h.1M1397.7 1385.6h.1M1399.5 1306.8h.1M1400 1404h.1M1400.8 1297h.1M1401.2 1514.8h.1M1401.7 1452.6h.1M1402.5 1450.2h.1M1403.7 1488.9h.1M1404.4 1472.7h.1M1406 1475.4h.1M1406.4 1221.9h.1M1407.2 1352.6h.1M1408.2 1378.3h.1M1408.7 1441.9h.1M1410.2 1429.5h.1M1410.8 1376.1h.1M1411.2 1523.6h.1M1412 1504.7h.1M1412.2 1300.2h.1M1413 1505.6h.1M1413.7 1541.8h.1M1414 1524.9h.1M1414.8 1356.7h.1M1415.4 1490.5h.1M1416 1384.1h.1M1416.5 1483.7h.1M1417 1496.1h.1M1417.5 1363.7h.1M1418.2 1396.3h.1M1419.5 1319.2h.1M1420 1429.3h.1M1421.2 1455.8h.1M1422 1360.2h.1M1422.4 1422.1h.1M1422.9 1551h.1M1423.5 1520.2h.1M1424.2 1405.8h.1M1425.2 1531.9h.1M1426 1410.4h.1M1426.5 1411.6h.1M1427.2 1400.4h.1M1427.5 1549.2h.1M1428.2 1361.7h.1M1429 1523.1h.1M1429.4 1449.3h.1M1430.2 1516.4h.1M1431 1344.2h.1M1431.7 1350.3h.1M1432.2 1501h.1M1433 1509.8h.1M1433.5 1464.6h.1M1434 1499.6h.1M1434.7 1382.1h.1M1435.2 1497.9h.1M1436.5 1429h.1M1437 1448.8h.1M1438 1317.3h.1M1439.2 1428.6h.1M1439.9 1524.8h.1M1440.5 1343h.1M1441.2 1454.2h.1M1441.7 1337.3h.1M1442.2 1373.1h.1M1443.5 1491.4h.1M1444.5 1465.1h.1M1446.5 1539h.1M1447.7 1546.6h.1M1448.2 1329.6h.1M1449.4 1420.1h.1M1450 1390.1h.1M1451.2 1453.6h.1M1451.5 1455.6h.1M1453 1484.6h.1M1453.5 1447.8h.1M1454 1338h.1M1454.7 1525h.1M1457.2 1449.3h.1M1457.8 1362.5h.1M1458.4 1379.5h.1M1458.7 1406h.1M1459.5 1321.8h.1M1460.5 1434.3h.1M1461.2 1408.7h.1M1461.8 1451.2h.1M1462.2 1513.3h.1M1463 1503.7h.1M1463.4 1506.4h.1M1464.7 1426.3h.1M1465.4 1389.1h.1M1466 1386.6h.1M1467 1395.7h.1M1467.5 1426.3h.1M1468.8 1503.1h.1M1469.5 1269.5h.1M1469.9 1500.2h.1M1470.5 1324.4h.1M1471 1439.7h.1M1472.5 1295.3h.1M1472.9 1264.8h.1M1473.5 1352.3h.1M1474.2 1236.1h.1M1474.5 1475.2h.1M1475.7 1230.8h.1M1476.5 1317.2h.1M1476.9 1260.1h.1M1477.8 1479.4h.1M1478.2 1345.5h.1M1478.7 1443.1h.1M1479.4 1421.3h.1M1479.9 1234.3h.1M1480.7 1306h.1M1481.5 1285h.1M1482.9 1373.3h.1M1483.4 1349.8h.1M1484 1304.2h.1M1484.7 1368.5h.1M1485.9 1433.8h.1M1487.2 1389h.1M1487.5 1344.3h.1M1488 1278.3h.1M1488.5 1290.9h.1M1489.5 1265.9h.1M1490 1265.5h.1M1491.2 1233.3h.1M1491.5 1488.3h.1M1492.2 1446.7h.1M1492.9 1429.2h.1M1493.5 1338.9h.1M1494.2 1455.4h.1M1494.5 1299.2h.1M1496.5 1367.8h.1M1497.2 1461.3h.1M1498 1500.3h.1M1498.8 1262h.1M1499.5 1302.7h.1M1499.9 1469.5h.1M1500.5 1289h.1M1501 1211.7h.1M1502.2 1448.5h.1M1503.2 1218.3h.1M1504 1435.4h.1M1504.7 1365.1h.1M1505.2 1410.4h.1M1505.7 1478.3h.1M1506.2 1280.4h.1M1506.9 1376.3h.1M1507.5 1379.3h.1M1508.5 1400.7h.1M1509.4 1475.5h.1M1509.8 1311.5h.1M1510.5 1437.6h.1M1511 1369.7h.1M1511.5 1254.4h.1M1512 1423.5h.1M1513.4 1210.3h.1M1514.5 1220.9h.1M1515.2 1285.3h.1M1515.9 1213.9h.1M1516.4 1390.5h.1M1517 1211h.1M1517.4 1401.4h.1M1518 1300.1h.1M1518.7 1402.5h.1M1519.4 1323.3h.1M1519.7 1192.3h.1M1520.2 1266.7h.1M1521.2 1419.5h.1M1522.4 1200.6h.1M1522.9 1479.5h.1M1524.7 1310.4h.1M1525.2 1407.3h.1M1525.8 1412.8h.1M1526.2 1379.9h.1M1526.8 1454.7h.1M1528 1362.1h.1M1529.7 1324.4h.1M1530.5 1415.5h.1M1531.7 1370.3h.1M1532.4 1461.8h.1M1532.8 1460.1h.1M1535.2 1321.2h.1M1535.8 1174.4h.1M1536.5 1362.4h.1M1536.9 1485.4h.1M1537.4 1433.9h.1M1538 1243h.1M1539.2 1402.1h.1M1540 1377.9h.1M1540.2 1437.5h.1M1541 1324h.1M1541.5 1484.2h.1M1542.2 1469.8h.1M1542.7 1199.5h.1M1543.4 1401.6h.1M1543.8 1479.8h.1M1545.2 1486.8h.1M1545.8 1208.6h.1M1546.2 1453.6h.1M1546.9 1232.3h.1M1547.7 1311.6h.1M1548 1496.9h.1M1548.7 1391.2h.1M1549.4 1239h.1M1549.7 1465h.1M1550.4 1200.3h.1M1550.9 1507.4h.1M1552.4 1463.2h.1M1552.5 1451.9h.1M1554.5 1497.7h.1M1555.2 1219.4h.1M1556.8 1404.5h.1M1557.5 1365.7h.1M1558.5 1474.1h.1M1559 1207.4h.1M1559.7 1411.2h.1M1560.2 1267.7h.1M1560.9 1262.2h.1M1562.2 1495.1h.1M1562.7 1352.1h.1M1563.4 1340h.1M1564 1409.3h.1M1564.7 1277.6h.1M1565.5 1252h.1M1567 1406.4h.1M1567.5 1338.1h.1M1568 1225h.1M1568.5 1444.3h.1M1570 1331.2h.1M1571 1472.2h.1M1571.5 1295h.1M1572.2 1242.4h.1M1572.8 1364.5h.1M1573.2 1474.2h.1M1573.9 1412.3h.1M1575 1231.7h.1M1575.7 1362.8h.1M1576.2 1261.4h.1M1577 1445.6h.1M1577.5 1322h.1M1578.5 1339.1h.1M1579.2 1329.5h.1M1579.7 1356.4h.1M1580.4 1316.2h.1M1581 1425.1h.1M1581.5 1453.9h.1M1582 1427.6h.1M1582.5 1402.2h.1M1583.2 1444.5h.1M1583.9 1331.1h.1M1585.7 1477.8h.1M1586 1240.2h.1M1588 1432.6h.1M1588.5 1430.9h.1M1589.2 1333.5h.1M1590.4 1485.2h.1M1590.8 1477.5h.1M1591.5 1293.4h.1M1593.4 1458.5h.1M1594 1417.9h.1M1594.4 1435.6h.1M1595 1399.6h.1M1595.5 1464.8h.1M1596 1419.4h.1M1597.4 1466.7h.1M1597.9 1456.4h.1M1598.7 1300.8h.1M1599.7 1497h.1M1600.2 1451.1h.1M1601.4 1292.8h.1M1602 1492.9h.1M1602.8 1457.9h.1M1603 1486.1h.1M1603.8 1494.7h.1M1605.2 1454.6h.1M1605.5 1422.3h.1M1606.2 1415.1h.1M1606.8 1422.1h.1M1607.2 1512.2h.1M1609.7 1416.1h.1M1610.2 1365.8h.1M1610.9 1473.6h.1M1611.5 1500.1h.1M1611.9 1479.8h.1M1613.2 1470.8h.1M1613.9 1440.9h.1M1614.5 1400.9h.1M1615 1427.2h.1M1615.5 1378.4h.1M1616 1523h.1M1618 1506h.1M1619 1368.8h.1M1619.7 1549.4h.1M1620.2 1373.7h.1M1620.8 1477.2h.1M1622.2 1474h.1M1622.7 1425h.1M1623.4 1492.3h.1M1623.9 1406.5h.1M1625.7 1447.7h.1M1626.2 1500.2h.1M1627.2 1517.7h.1M1628 1458.4h.1M1628.5 1486.1h.1M1629 1487.5h.1M1629.5 1532.8h.1M1630.2 1393.2h.1M1632 1468.9h.1M1632.5 1443.1h.1M1634 1488.6h.1M1634.5 1467.8h.1M1635.2 1506.8h.1M1635.4 1487.8h.1M1636.2 1540.4h.1M1637.2 1478.7h.1M1637.8 1429h.1M1638.4 1466.1h.1M1639 1441.6h.1M1639.5 1474.4h.1M1640.4 1490.2h.1M1640.9 1530.5h.1M1642 1450h.1M1642.5 1502.2h.1M1643.2 1438.2h.1M1643.7 1496.9h.1M1644.5 1484.1h.1M1645 1473h.1M1645.5 1506.7h.1M1646.2 1471.3h.1M1646.9 1494.6h.1M1647.9 1553.5h.1M1648.5 1521.5h.1M1649 1416.6h.1M1649.8 1435.1h.1M1650.2 1485.7h.1M1651.5 1452.9h.1M1651.9 1504h.1M1652.7 1542.4h.1M1653 1527.7h.1M1653.8 1440.2h.1M1654.9 1553.7h.1M1655.5 1485.3h.1M1656.2 1472.5h.1M1656.8 1525.5h.1M1657.2 1539.7h.1M1657.8 1401.2h.1M1658.5 1453.5h.1M1658.9 1397.3h.1M1660.2 1433.3h.1M1660.7 1543.5h.1M1661.4 1474.2h.1M1662 1520.8h.1M1662.7 1485h.1M1663.5 1413h.1M1664.9 1451.1h.1M1665.4 1482.5h.1M1667.2 1412.2h.1M1667.9 1490.2h.1M1669.5 1400.9h.1M1671.2 1441.1h.1M1672 1551.2h.1M1672.7 1559.8h.1M1673 1558.8h.1M1673.7 1510.1h.1M1674.8 1444h.1M1675.4 1465.6h.1M1677.2 1469.1h.1M1678 1475.9h.1M1679.8 1519.5h.1M1680 1413.2h.1M1680.8 1554.8h.1M1681.4 1495.1h.1M1683 1481.5h.1M1683.7 1399h.1M1684.5 1458.3h.1M1685 1473.1h.1M1685.4 1474.7h.1M1686 1486.1h.1M1686.5 1425.2h.1M1687.9 1531.7h.1M1688.5 1388h.1M1688.9 1407h.1M1689.7 1369.1h.1M1690 1428.4h.1M1690.7 1470.5h.1M1691.2 1375.9h.1M1693.2 1474.8h.1M1693.8 1486.1h.1M1694.2 1384.4h.1M1695 1392.5h.1M1695.2 1402h.1M1696.7 1489h.1M1697.2 1406.9h.1M1697.8 1533.3h.1M1698.2 1417.8h.1M1699.5 1530.9h.1M1700 1531.4h.1M1701.2 1459.8h.1M1701.8 1482.5h.1M1702.5 1532.3h.1M1703 1413h.1M1703.7 1538.3h.1M1704.8 1507.1h.1M1705.5 1398.6h.1M1705.9 1304.9h.1M1706.8 1460.7h.1M1707.2 1468.8h.1M1708.2 1417h.1M1710 1420.8h.1M1710.7 1495.8h.1M1712.7 1531.5h.1M1713.2 1286h.1M1713.5 1376.3h.1M1714.4 1293.2h.1M1714.7 1296.9h.1M1715.5 1469.6h.1M1716 1476.5h.1M1716.7 1519.8h.1M1717.2 1472h.1M1717.9 1526.3h.1M1718.2 1341.2h.1M1718.9 1451.4h.1M1719.4 1258h.1M1720 1379.1h.1M1720.9 1444.6h.1M1721.4 1244h.1M1721.8 1394.5h.1M1723 1493.2h.1M1723.8 1318.6h.1M1724.2 1353.1h.1M1724.8 1345.8h.1M1725.5 1347.6h.1M1726 1218.7h.1M1726.4 1520.4h.1M1727.2 1470.9h.1M1728.2 1473.9h.1M1729 1433.9h.1M1730 1309h.1M1730.8 1479.7h.1M1731 1452.1h.1M1731.8 1457.3h.1M1733 1527.4h.1M1733.7 1265.9h.1M1734.2 1338.2h.1M1734.8 1520.5h.1M1735.5 1242.4h.1M1736 1417h.1M1736.7 1285.6h.1M1737.9 1354.9h.1M1738.2 1398.7h.1M1738.9 1437.4h.1M1739.5 1455.3h.1M1740.2 1444.6h.1M1740.5 1375.1h.1M1741.2 1403.8h.1M1741.7 1527.5h.1M1743 1497.5h.1M1743.8 1526.3h.1M1744.4 1461h.1M1744.8 1516.1h.1M1745.5 1387h.1M1746 1535.5h.1M1746.7 1477.8h.1M1747.2 1525h.1M1747.9 1424.2h.1M1748.2 1416.8h.1M1749 1477.6h.1M1749.5 1469.3h.1M1750 1492.5h.1M1750.5 1534.5h.1M1751.2 1531h.1M1752 1523.7h.1M1752.2 1522.3h.1M1753 1530.8h.1M1753.8 1530.6h.1M1754.2 1510.5h.1M1755.5 1516.8h.1M1755.8 1485.9h.1M1756.5 1525.7h.1M1757 1525.7h.1M1757.7 1530.6h.1M1758.2 1516.4h.1M1759 1509.7h.1M1759.2 1517.9h.1M1760.2 1539.9h.1M1761.2 1482.3h.1M1762.9 1539.7h.1M1763.5 1488.1h.1M1764 1511.7h.1M1765.9 1509.5h.1M1766.5 1453.9h.1M1767 1458h.1M1767.8 1410.9h.1M1768.2 1436.9h.1M1768.8 1475.9h.1M1769.4 1409.8h.1M1770 1416.8h.1M1770.8 1377h.1M1771.2 1366.9h.1M1771.5 1395.8h.1M1772.8 1380.6h.1M1773.5 1335.6h.1M1774.2 1393.7h.1M1774.8 1426.2h.1M1775.5 1420.7h.1M1776.4 1379.1h.1M1777.8 1390.7h.1M1779.5 1430.4h.1M1780 1393.7h.1M1780.5 1446h.1M1781.5 1456.8h.1M1782.5 1433.7h.1M1783 1349.1h.1M1783.4 1322.8h.1M1784.7 1410.1h.1M1785.2 1406.1h.1M1786 1413.9h.1M1786.5 1301.9h.1M1787 1347.2h.1M1787.7 1298.7h.1M1788.2 1268.2h.1M1789.2 1282.8h.1M1790 1328.6h.1M1790.5 1230.6h.1M1791 1270.3h.1M1791.7 1378.7h.1M1792.2 1262.2h.1M1793.5 1306h.1M1794 1349.1h.1M1794.8 1544.4h.1M1795.4 1361.7h.1M1795.9 1373.5h.1M1796.5 1417.5h.1M1796.9 1406.1h.1M1797.5 1427.1h.1M1798.2 1446.8h.1M1799 1431.2h.1M1799.4 1418.5h.1M1800 1473.1h.1M1800.7 1482.5h.1M1801 1466.6h.1M1801.5 1463.6h.1M1802.2 1462.5h.1M1802.8 1451.2h.1M1803.7 1452.3h.1M1804 1450.7h.1M1804.5 1437.2h.1M1805.4 1427h.1M1806 1435.4h.1M1806.4 1463.2h.1M1807 1553h.1M1807.5 1564.9h.1M1808 1489.9h.1M1808.9 1473.7h.1M1809.4 1510h.1M1809.9 1545h.1M1810.5 1501.5h.1M1811 1513.4h.1M1811.8 1502.6h.1M1812.5 1523.3h.1M1812.9 1500.7h.1M1813.5 1469.3h.1M1814.2 1524.7h.1M1814.8 1511h.1M1815.2 1517.8h.1M1815.9 1467.8h.1M1816.5 1516h.1M1817 1524.6h.1M1817.5 1485.5h.1M1818.2 1525h.1M1818.9 1532.2h.1M1819.2 1500.1h.1M1819.8 1559.2h.1M1820.5 1557.7h.1M1821 1551.2h.1M1821.7 1515.1h.1M1822.4 1491.1h.1M1822.9 1515.7h.1M1823.5 1522.5h.1M1824 1570.6h.1M1824.7 1513.2h.1M1825.2 1523.7h.1M1825.7 1508.1h.1M1826.4 1505.6h.1M1826.9 1517.8h.1M1827.7 1512.1h.1M1828 1489.5h.1M1828.8 1492.6h.1M1829.2 1513.7h.1M1830 1565.2h.1M1830.5 1526.4h.1M1831 1551h.1M1831.8 1559.9h.1M1832.4 1547h.1M1832.8 1514.3h.1M1833.5 1532.6h.1M1834 1557.8h.1M1834.8 1522.2h.1M1835.2 1526.5h.1M1835.8 1528.8h.1M1836.2 1510.6h.1M1836.8 1523.3h.1M1837.5 1551.4h.1M1838 1555.8h.1M1838.8 1556.7h.1M1839.2 1517.9h.1M1840 1499h.1M1840.2 1545.5h.1M1841 1524.6h.1M1841.7 1542.7h.1M1842.2 1546.5h.1M1843 1510.1h.1M1843.5 1538.8h.1M1843.9 1507.6h.1M1844.7 1504.8h.1M1845.2 1527.9h.1M1845.7 1497.5h.1M1846.2 1538.7h.1M1847 1525.1h.1M1847.5 1527.2h.1M1848.2 1545.1h.1M1848.7 1543.3h.1M1849.5 1521.7h.1M1849.8 1501h.1M1850.4 1533.9h.1M1851.2 1553.9h.1M1851.5 1580h.1M1852.2 1530.8h.1M1852.8 1518h.1M1853.5 1550h.1M1853.9 1506h.1M1854.5 1545.8h.1M1855.2 1514.7h.1M1855.5 1521.7h.1M1856.2 1505.5h.1M1857 1536.8h.1M1857.4 1514.5h.1M1858.2 1522.9h.1M1858.8 1527.5h.1M1859.4 1522.7h.1M1859.8 1477.4h.1M1860.5 1564.5h.1M1861 1485.1h.1M1861.5 1460.3h.1M1862.2 1431.1h.1M1863 1452.1h.1M1863.2 1435.9h.1M1863.9 1409.5h.1M1864.7 1403.4h.1M1865.2 1406.6h.1M1865.8 1361h.1M1866.4 1388.6h.1M1867 1400.2h.1M1867.4 1420.8h.1M1868 1548h.1M1868.5 1488.1h.1M1869.2 1469.1h.1M1869.7 1468.3h.1M1870.4 1551h.1M1871 1517.1h.1M1871.7 1487.5h.1M1872.2 1507h.1M1873 1512.1h.1M1873.5 1507.1h.1M1873.8 1531.4h.1M1874.5 1546.4h.1M1875.2 1534.2h.1M1875.5 1546.1h.1M1876.2 1511h.1M1876.9 1468.9h.1M1877.4 1502.1h.1M1878 1530h.1M1878.5 1498.9h.1M1879.4 1496.5h.1M1880 1525.6h.1M1880.2 1475.3h.1M1880.9 1493.3h.1M1881.5 1509.3h.1M1882.2 1488.2h.1M1882.8 1470.5h.1M1883.4 1464.2h.1M1884 1495h.1M1884.4 1480.9h.1M1885.2 1546.2h.1M1885.5 1562.3h.1M1886.2 1493h.1M1886.9 1450.9h.1M1887.7 1408.9h.1M1888 1387.8h.1M1888.8 1405.7h.1M1889.2 1414.1h.1M1889.9 1415.8h.1M1890.4 1419.1h.1M1891 1559.6h.1M1891.5 1405.2h.1M1892 1398.2h.1M1892.7 1404.8h.1M1893.5 1389.7h.1M1894 1379.4h.1M1894.7 1360.2h.1M1895 1398h.1M1895.7 1396.9h.1M1896 1530.5h.1M1896.7 1416.8h.1M1897.5 1520h.1M1898 1397.5h.1M1898.7 1423.5h.1M1899 1431.2h.1M1900 1458.1h.1M1900.4 1532.7h.1M1900.9 1534.3h.1M1901.5 1523.6h.1M1902 1455.2h.1M1902.7 1474.5h.1M1903.4 1467.2h.1M1904 1483.9h.1M1904.5 1447.5h.1M1905.2 1437.9h.1M1905.8 1428.3h.1M1906.4 1535.1h.1M1907 1454.8h.1M1907.4 1429.9h.1M1907.9 1473.2h.1M1908.5 1429.7h.1M1909 1471.8h.1M1909.8 1535.5h.1M1910.4 1532.3h.1M1911 1513h.1M1911.7 1492.3h.1M1912.2 1488.6h.1M1912.5 1514.6h.1M1913.4 1517.5h.1M1914 1494h.1M1914.4 1512.6h.1M1915.2 1519.9h.1M1915.8 1479.7h.1M1916 1483.9h.1M1916.7 1506.9h.1M1917.2 1463.7h.1M1918 1474h.1M1918.5 1562.4h.1M1919 1458.6h.1M1919.9 1549.3h.1M1920.2 1433.9h.1M1921 1472.6h.1M1921.4 1507h.1M1922 1464.9h.1M1922.7 1437.7h.1M1923.2 1458.1h.1M1923.8 1467.3h.1M1924.5 1515.6h.1M1925 1536.5h.1M1925.5 1559.9h.1M1926.2 1523.2h.1M1926.8 1553.1h.1M1927.4 1545h.1M1928 1535.7h.1M1928.5 1538.1h.1M1929 1549.2h.1M1929.5 1537.8h.1M1930.4 1545.1h.1M1931 1549.7h.1M1931.5 1533h.1M1932 1541.7h.1M1932.5 1554.1h.1M1933.2 1528.3h.1M1933.8 1555.1h.1M1934.5 1539.8h.1M1934.9 1537.5h.1M1935.8 1549.9h.1M1936.2 1570.5h.1M1936.7 1552.7h.1M1937.5 1540.3h.1M1937.9 1572.5h.1M1938.5 1572.7h.1M1939.2 1546.4h.1M1939.5 1539h.1M1940.2 1531.8h.1M1940.9 1528.9h.1M1941.5 1541.5h.1M1942.2 1547.1h.1M1942.5 1560.4h.1M1943.2 1538.5h.1M1944 1535h.1M1944.2 1518.5h.1M1945 1546.1h.1M1945.5 1558h.1M1946.2 1564.2h.1M1946.5 1563.7h.1M1947.2 1528.1h.1M1947.9 1525.5h.1M1948.5 1537.7h.1M1949 1520.4h.1M1949.8 1538.2h.1M1950.2 1498.5h.1M1950.8 1539.6h.1M1951.5 1497h.1M1952.2 1517.1h.1M1952.8 1526.8h.1M1953.2 1511.9h.1M1953.7 1455.7h.1M1954.5 1461h.1M1954.9 1477h.1M1955.5 1540.1h.1M1956.2 1476.1h.1M1956.9 1414.7h.1M1957.5 1435.1h.1M1958 1448.1h.1M1958.4 1445.4h.1M1959 1446.1h.1M1959.9 1465.1h.1M1960.2 1449.8h.1M1960.7 1463.4h.1M1961.5 1461.4h.1M1961.9 1415.5h.1M1962.5 1397.4h.1M1963.2 1541.7h.1M1963.8 1363.6h.1M1964.2 1381.1h.1M1965 1394.5h.1M1965.5 1395.1h.1M1966 1387.6h.1M1966.8 1361.3h.1M1967.4 1404.8h.1M1967.9 1362.2h.1M1968.4 1347.9h.1M1969 1359.2h.1M1969.8 1356.1h.1M1970.2 1366.1h.1M1970.7 1344.6h.1M1971.5 1311.1h.1M1972 1336.5h.1M1972.5 1351.1h.1M1973.2 1359.7h.1M1974 1351.6h.1M1974.4 1378.1h.1M1974.9 1344.1h.1M1975.5 1352.1h.1M1976.2 1551.1h.1M1976.7 1389.6h.1M1977.4 1433.3h.1M1977.8 1395.9h.1M1978.2 1406.5h.1M1979 1563.9h.1M1979.5 1490.6h.1M1980.2 1545.6h.1M1981 1530.8h.1M1981.5 1488.8h.1M1981.9 1490.9h.1M1982.5 1531.1h.1M1983 1454.1h.1M1983.9 1471.7h.1M1984.2 1495.7h.1M1984.9 1536.2h.1M1985.7 1488.1h.1M1986.2 1493.4h.1M1986.8 1543.6h.1M1987.2 1517.3h.1M1987.9 1505h.1M1988.5 1491.4h.1M1989.2 1524.8h.1M1989.8 1557.7h.1M1990 1557.5h.1M1990.8 1534.7h.1M1991.5 1526.1h.1M1991.8 1548.5h.1M1992.5 1550h.1M1993.2 1546.6h.1M1993.9 1549.6h.1M1994.2 1535.5h.1M1994.9 1537.2h.1M1995.5 1535.2h.1M1996 1570.3h.1M1996.7 1549.6h.1M1997.2 1565.4h.1M1998 1536.1h.1M1998.5 1528.1h.1M1998.9 1546.6h.1M1999.8 1526.1h.1M2000.2 1573.9h.1M2001 1577.1h.1M2001.2 1565h.1M2002 1553.5h.1M2002.5 1564.7h.1M2003.2 1571.5h.1M2003.9 1547.4h.1M2004.5 1536.2h.1M2004.8 1560.5h.1M2005.5 1566.6h.1M2006 1578.5h.1M2006.9 1572.9h.1M2007.2 1554h.1M2007.9 1555.2h.1M2008.4 1578.1h.1M2009 1563.6h.1M2009.7 1573.5h.1M2010 1582.3h.1M2010.7 1573.8h.1M2011.4 1584.5h.1M2012 1566.5h.1M2012.5 1578.6h.1M2013.2 1540h.1M2013.5 1535.8h.1M2014.2 1561.2h.1M2014.9 1534.9h.1M2015.4 1574.3h.1M2016 1547.2h.1M2016.8 1506.8h.1M2017.2 1504.1h.1M2017.7 1578.9h.1M2018.5 1487h.1M2019 1542.2h.1M2019.5 1489.7h.1M2020 1507.3h.1M2020.7 1494.8h.1M2021.4 1477.1h.1M2021.9 1523.2h.1M2022.4 1440.5h.1M2023.2 1439.7h.1M2023.5 1454.4h.1M2024.2 1428.1h.1M2024.8 1461.5h.1M2025.5 1391.9h.1M2026 1537.7h.1M2026.5 1389h.1M2027 1522.4h.1M2027.9 1404.7h.1M2028.4 1560.1h.1M2028.9 1403.6h.1M2029.7 1396.6h.1M2030 1549.9h.1M2030.7 1416.4h.1M2031.4 1413.2h.1M2032 1543.9h.1M2032.5 1532.8h.1M2033.2 1391h.1M2033.5 1526.8h.1M2034.4 1535.5h.1M2034.8 1365.6h.1M2035.2 1370.5h.1M2036 1375.7h.1M2036.5 1349.7h.1M2037 1527.3h.1M2037.8 1405.7h.1M2038.2 1388.5h.1M2038.9 1405h.1M2039.5 1431.4h.1M2040 1441.9h.1M2040.5 1445.2h.1M2041.4 1446.8h.1M2041.9 1465.7h.1M2042.5 1489.3h.1M2043 1478.2h.1M2043.5 1535.5h.1M2044.2 1462.3h.1M2044.7 1453.9h.1M2045.2 1449.2h.1M2046 1497.9h.1M2046.8 1499.3h.1M2047.2 1484.2h.1M2047.7 1500.3h.1M2048.3 1500.4h.1M2048.8 1502.8h.1M2049.5 1527.5h.1M2050 1525.7h.1M2050.5 1521.9h.1M2051.2 1496.5h.1M2051.9 1506.7h.1M2052.3 1470h.1M2052.8 1529.5h.1M2053.5 1514.6h.1M2054.1 1537.4h.1M2054.8 1515.1h.1M2055.3 1471.3h.1M2056 1478.4h.1M2056.4 1472.7h.1M2056.9 1454.8h.1M2057.6 1465h.1M2058.2 1500.7h.1M2058.9 1499.5h.1M2059.5 1466.1h.1M2060 1460.5h.1M2060.6 1491h.1M2061.2 1491.8h.1M2061.8 1468.8h.1M2062.4 1488.8h.1M2063.1 1520.4h.1M2063.5 1481.5h.1M2064 1499.5h.1M2064.9 1507.1h.1M2065.2 1507.2h.1M2065.9 1519.6h.1M2066.5 1501h.1M2067.2 1478.8h.1M2067.8 1522.3h.1M2068.2 1475.4h.1M2069 1501.3h.1M2069.3 1513.2h.1M2070 1476h.1M2070.5 1513.2h.1M2071.2 1519.9h.1M2071.8 1489.3h.1M2072.5 1515.5h.1M2072.8 1470.1h.1M2073.4 1485.2h.1M2074.1 1487.6h.1M2074.6 1500.3h.1M2075.3 1522.6h.1M2075.8 1551.4h.1M2076.4 1556.9h.1M2076.9 1542.1h.1M2077.8 1511h.1M2078.3 1535.3h.1M2078.9 1559.9h.1M2079.3 1566.8h.1M2080.1 1568.1h.1M2080.8 1559.1h.1M2081.1 1566h.1M2081.8 1542.9h.1M2082.2 1556.3h.1M2082.9 1561h.1M2083.6 1561.9h.1M2084.2 1554.5h.1M2084.8 1541.4h.1M2085.2 1549.1h.1M2085.8 1556.2h.1M2086.4 1535.4h.1M2087 1531.1h.1M2087.8 1527.2h.1M2088.1 1533.7h.1M2088.6 1560.2h.1M2089.4 1571.1h.1M2090 1544.5h.1M2090.6 1549.5h.1M2091.3 1524.4h.1M2091.8 1504.7h.1M2092.4 1522.4h.1M2092.8 1541.6h.1M2093.4 1442.6h.1M2094.2 1431.4h.1M2094.6 1432.3h.1M2095.3 1425.9h.1M2095.8 1434.7h.1M2096.3 1405.3h.1M2097.1 1388.2h.1M2097.6 1415.3h.1M2098.2 1565.3h.1M2098.8 1434.1h.1M2099.3 1532.4h.1M2100.1 1479.6h.1M2100.4 1439.1h.1M2101.2 1450.9h.1M2101.8 1436.5h.1M2102.3 1449.1h.1M2103 1442.3h.1M2103.5 1553h.1M2104.2 1482.4h.1M2104.6 1477.4h.1M2105.1 1514.2h.1M2105.8 1507.1h.1M2106.3 1490.8h.1M2106.9 1513.5h.1M2107.5 1566.5h.1M2108.3 1522h.1M2108.8 1501.4h.1M2109.3 1483.3h.1M2109.8 1496.3h.1M2110.6 1482.7h.1M2110.9 1541.8h.1M2111.8 1449.8h.1M2112.2 1474.9h.1M2112.9 1479.4h.1M2113.6 1456.8h.1M2114 1456.8h.1M2114.5 1477.5h.1M2115.3 1432.7h.1M2115.8 1433.6h.1M2116.3 1433h.1M2116.9 1418.4h.1M2117.8 1430h.1M2118.1 1407.3h.1M2118.8 1542.7h.1M2119.2 1419.2h.1M2120 1417.4h.1M2120.5 1428h.1M2121.2 1439.5h.1M2121.8 1446.6h.1M2122.2 1433.8h.1M2122.8 1458.5h.1M2123.4 1481.1h.1M2124.2 1464.4h.1M2124.8 1452.8h.1M2125.3 1486.1h.1M2125.8 1531.1h.1M2126.2 1548.8h.1M2127.1 1519.7h.1M2127.4 1510.9h.1M2128.1 1498.7h.1M2128.8 1502.5h.1M2129.3 1545.5h.1M2129.8 1514.7h.1M2130.4 1520.9h.1M2131.2 1517.8h.1M2131.8 1553.5h.1M2132.4 1489.7h.1M2132.9 1520.8h.1M2133.3 1544.9h.1M2134 1522.6h.1M2134.6 1533.6h.1M2135.2 1564.4h.1M2135.6 1547.2h.1M2136.2 1515.9h.1M2137 1535.3h.1M2137.5 1513.4h.1M2138.2 1530.8h.1M2138.6 1540.5h.1M2139.4 1539.7h.1M2140 1556.2h.1M2140.4 1554.6h.1M2141 1542.7h.1M2141.8 1540.3h.1M2142.3 1550.2h.1M2142.6 1527h.1M2143.5 1541.8h.1M2144 1558.6h.1M2144.5 1563.6h.1M2145.1 1528.4h.1M2145.8 1509.8h.1M2146.5 1526.4h.1M2146.8 1502.9h.1M2147.6 1530.7h.1M2148.3 1553.9h.1M2148.8 1499.6h.1M2149.2 1545.1h.1M2149.9 1489.8h.1M2150.3 1476.3h.1M2151.2 1461.2h.1M2151.8 1454.3h.1M2152.3 1449h.1M2152.9 1562.9h.1M2153.2 1451.5h.1M2154.1 1448.7h.1M2154.8 1463h.1M2155 1463.5h.1M2155.9 1462.5h.1M2156.2 1454.6h.1M2156.9 1471.4h.1M2157.4 1558.8h.1M2158.1 1482h.1M2158.8 1477.4h.1M2159.4 1463.1h.1M2159.9 1497.2h.1M2160.3 1502.4h.1M2161 1489.2h.1M2161.8 1488.2h.1M2162.2 1486.4h.1M2162.6 1500.8h.1M2163.4 1535.1h.1M2163.9 1530.6h.1M2164.5 1516.9h.1M2165.2 1535.3h.1M2165.8 1550h.1M2166.4 1546.8h.1M2166.8 1549.2h.1M2167.5 1514.4h.1M2167.9 1563.8h.1M2168.8 1547.3h.1M2169.1 1524.8h.1M2169.9 1585.7h.1M2170.5 1562.7h.1M2171 1558.2h.1M2171.5 1530.7h.1M2172.3 1517.2h.1M2172.8 1583.2h.1M2173.5 1567.1h.1M2174 1523.1h.1M2174.4 1542.1h.1M2175.3 1559.6h.1M2175.8 1552.2h.1M2176.1 1543.5h.1M2176.9 1574.9h.1M2177.6 1558.8h.1M2177.9 1566h.1M2178.8 1541.4h.1M2179.3 1565.4h.1M2179.9 1566.4h.1M2180.6 1597.2h.1M2181 1576.1h.1M2181.4 1554.9h.1M2182.3 1532.6h.1M2182.6 1545.1h.1M2183.3 1532.5h.1M2183.8 1565h.1M2184.5 1581.8h.1M2185 1566.2h.1M2185.6 1582.2h.1M2186.2 1555.4h.1M2187 1561.7h.1M2187.3 1545.8h.1M2187.9 1565.4h.1M2188.8 1545.1h.1M2189.1 1552.4h.1M2189.9 1582.7h.1M2190.4 1548.7h.1M2190.9 1545h.1M2191.6 1572.7h.1M2192.3 1590.4h.1M2192.8 1564.7h.1M2193.1 1535.4h.1M2194 1551.1h.1M2194.5 1560.1h.1M2195 1554.8h.1M2195.8 1541.1h.1M2196.2 1540h.1M2196.9 1537.2h.1M2197.3 1571.9h.1M2197.9 1564.7h.1M2198.6 1565.2h.1M2199.1 1529.7h.1M2199.9 1579.3h.1M2200.5 1555.7h.1M2201 1543.8h.1M2201.5 1574.9h.1M2202.3 1567.5h.1M2202.8 1538.6h.1M2203.3 1553.8h.1M2203.8 1585.6h.1M2204.5 1572.5h.1M2204.9 1537.5h.1M2205.8 1504.5h.1M2206.4 1525h.1M2206.8 1515.2h.1M2207.4 1518.1h.1M2208 1466h.1M2208.5 1490.5h.1M2209.3 1490.8h.1M2209.8 1465.8h.1M2210.4 1492.9h.1M2211 1498.1h.1M2211.5 1491.4h.1M2212.1 1464.1h.1M2212.8 1428.6h.1M2213.2 1553.9h.1M2214 1473.5h.1M2214.4 1466.6h.1M2215.1 1436.1h.1M2215.5 1431.1h.1M2216.1 1421.5h.1M2216.8 1411.1h.1M2217.3 1382h.1M2218 1386h.1M2218.4 1384h.1M2219.1 1372.9h.1M2219.8 1363.7h.1M2220.3 1340.4h.1M2221 1381.2h.1M2221.5 1418.8h.1M2222 1405.9h.1M2222.6 1417.8h.1M2223.3 1544.5h.1M2223.8 1438.1h.1M2224.5 1453.4h.1M2225.1 1476.3h.1M2225.6 1553.4h.1M2226.2 1515.7h.1M2226.9 1565.1h.1M2227.5 1503.4h.1M2228.1 1529.2h.1M2228.4 1483.4h.1M2229.1 1512.6h.1M2229.6 1510.9h.1M2230.1 1549.2h.1M2230.8 1545.5h.1M2231.6 1575.3h.1M2232.1 1540.8h.1M2232.5 1568.2h.1M2233.2 1529.9h.1M2233.9 1505.5h.1M2234.4 1480.2h.1M2235.1 1486.4h.1M2235.8 1518.7h.1M2236.3 1479.1h.1M2236.8 1474.9h.1M2237.5 1466.3h.1M2237.9 1435.4h.1M2238.8 1533.3h.1M2239 1396.8h.1M2239.6 1410.6h.1M2240.4 1417.4h.1M2241 1419h.1M2241.6 1421.1h.1M2242 1410.5h.1M2242.6 1402.7h.1M2243.4 1401h.1M2243.9 1400.4h.1M2244.5 1407.2h.1M2245 1512.7h.1M2245.6 1398.8h.1M2246.2 1427.4h.1M2246.6 1419.4h.1M2247.3 1426.8h.1M2248.1 1461h.1M2248.6 1461.2h.1M2249 1473.9h.1M2249.8 1495.4h.1M2250.2 1510h.1M2251 1493.4h.1M2251.4 1470.9h.1M2252.2 1478.4h.1M2252.5 1486.8h.1M2253.2 1497.8h.1M2253.9 1492.2h.1M2254.3 1507.1h.1M2254.9 1492.7h.1M2255.6 1547.2h.1M2256.2 1518.2h.1M2256.8 1547.7h.1M2257.3 1517h.1M2257.8 1537.2h.1M2258.6 1552.3h.1M2259.2 1570.2h.1M2259.8 1517.4h.1M2260.1 1540.3h.1M2260.8 1523h.1M2261.3 1498.5h.1M2262.1 1541.2h.1M2262.5 1577.3h.1M2263.1 1565.5h.1M2263.8 1539.6h.1M2264.5 1549.4h.1M2265 1521.2h.1M2265.6 1543.9h.1M2266.1 1543.3h.1M2266.9 1559.7h.1M2267.3 1527.3h.1M2267.9 1552.8h.1M2268.4 1566.3h.1M2268.9 1550.9h.1M2269.6 1525.7h.1M2270.4 1518.5h.1M2270.8 1547.2h.1M2271.3 1520.9h.1M2272 1531.7h.1M2272.8 1576.4h.1M2273 1476.6h.1M2273.6 1482.9h.1M2274.4 1468.4h.1M2274.9 1445.5h.1M2275.8 1431.1h.1M2276 1454.5h.1M2276.6 1434.6h.1M2277.4 1420.4h.1M2277.8 1427.1h.1M2278.5 1432.9h.1M2279.2 1409.6h.1M2279.6 1458.6h.1M2280.1 1450.1h.1M2280.8 1446.8h.1M2281.4 1444.2h.1M2282.1 1451.3h.1M2282.4 1468.6h.1M2283.1 1558h.1M2283.9 1459.7h.1M2284.3 1563.5h.1M2284.9 1468.4h.1M2285.4 1446.2h.1M2286.1 1547.1h.1M2286.8 1456h.1M2287.2 1474.9h.1M2287.8 1477h.1M2288.5 1488.4h.1M2289.1 1550.5h.1M2289.5 1470.9h.1M2290.3 1543.7h.1M2290.8 1512h.1M2291.2 1518.2h.1M2292 1514.5h.1M2292.6 1517.4h.1M2293 1511h.1M2293.6 1514.4h.1M2294.3 1528.1h.1M2294.9 1534.5h.1M2295.5 1535.9h.1M2296.1 1542.7h.1M2296.5 1559.8h.1M2297.4 1518.8h.1M2297.8 1519.8h.1M2298.5 1514.6h.1M2299.1 1513.5h.1M2299.8 1540.4h.1M2300.2 1520.5h.1M2300.8 1537.8h.1M2301.3 1542.5h.1M2301.8 1535h.1M2302.4 1509h.1M2303.2 1534.7h.1M2303.8 1559.7h.1M2304.2 1534.7h.1M2304.8 1577h.1M2305.6 1572.5h.1M2305.9 1555.3h.1M2306.8 1551h.1M2307.4 1538.1h.1M2307.9 1535.3h.1M2308.2 1513.3h.1M2309.1 1565.4h.1M2309.8 1576.2h.1M2310.1 1558.9h.1M2310.6 1529.2h.1M2311.4 1563.1h.1M2312 1537.3h.1M2312.6 1556h.1M2313.2 1575.8h.1M2313.5 1571.6h.1M2314.3 1551.3h.1M2314.9 1538.7h.1M2315.5 1546.9h.1M2316 1547.2h.1M2316.5 1538.2h.1M2317.2 1544.9h.1M2317.9 1563.8h.1M2318.5 1555.6h.1M2318.9 1563.8h.1M2319.6 1556.7h.1M2320.2 1575.5h.1M2320.9 1578.7h.1M2321.4 1573.5h.1M2321.8 1547.3h.1M2322.6 1564.4h.1M2323.1 1543h.1M2323.8 1565.9h.1M2324.2 1560.5h.1M2324.8 1553.3h.1M2325.4 1535.7h.1M2326.2 1552h.1M2326.8 1545.4h.1M2327.2 1579.1h.1M2327.8 1553.1h.1M2328.4 1547.2h.1M2329.1 1562.1h.1M2329.6 1571h.1M2330.3 1588.6h.1M2330.8 1571.5h.1M2331.4 1562.3h.1M2331.8 1572.7h.1M2332.5 1562.2h.1M2332.9 1544.9h.1M2333.6 1534.4h.1M2334.1 1532.7h.1M2334.9 1532.4h.1M2335.4 1507.9h.1M2336.1 1534h.1M2336.5 1520.7h.1M2337.3 1519.9h.1M2337.6 1508.9h.1M2338.3 1564.6h.1M2338.9 1514.9h.1M2339.6 1578.5h.1M2340 1491.1h.1M2340.8 1505.7h.1M2341.2 1511.8h.1M2342 1467.3h.1M2342.6 1460.3h.1M2343 1466.7h.1M2343.6 1469.2h.1M2344.4 1461.9h.1M2344.8 1445.8h.1M2345.3 1472.8h.1M2346.1 1454.2h.1M2346.8 1452.3h.1M2347 1453.1h.1M2347.8 1457.7h.1M2348.2 1450.4h.1M2348.8 1460.4h.1M2349.5 1478.4h.1M2350.2 1485.1h.1M483.4 1335.5h.1M554.2 1320h.1M572.1 1334.4h.1M682.9 1328.8h.1M682.9 1338.6h.1M514.2 1380.8h.1M615.2 1399.3h.1M314.1 1424.4h.1M552.6 1350.2h.1M554.2 1362.9h.1M554.2 1373.3h.1M572.1 1354.8h.1M684.1 1381.5h.1M752.7 1337.4h.1M763.1 1320h.1M773.6 1337.4h.1M774.7 1353.6h.1M779.4 1372.2h.1M780.5 1383.8h.1M779.4 1393.1h.1M806.1 1317.7h.1M800.2 1362.9h.1M814.2 1360.6h.1M820 1365.2h.1M803.7 1382.6h.1M820 1388.4h.1M821.1 1405.8h.1M853.6 1402.3h.1M970.7 1275.9h.1M974.2 1247h.1M970.7 1323.5h.1M1136.5 1260.9h.1M1144.5 1294.5h.1M1130.7 1304.9h.1M1153.9 1308.4h.1M1130.7 1323.5h.1M1136.5 1342h.1M1180.5 1594.8h.1M854.8 1578.6h.1M1624.9 1264.4h.1M1618 1314.2h.1M1635.4 1328.1h.1M1673.5 1328.1h.1M1631.9 1344.4h.1M1680.5 1343.2h.1M1624.9 1357.1h.1M1710.7 1250.4h.1M1709.5 1272.5h.1M1685.2 1564.7h.1M1686.4 1576.3h.1M1684 1553.1h.1M1437 1565.8h.1M1438.2 1553.1h.1M1766.5 1274.8h.1M1788.2 1256.9h.1M1790.5 1294.5h.1M1795.2 1314.2h.1M1842 1292.9h.1M1968.4 1303.1h.1M2036.2 1335.8h.1M1969.5 1321.6h.1M1792 1458h.1M1807.2 1458h.1M1822.2 1458h.1M1849 1438.3h.1M2275 1397h.1M905.2 938.9h.1M902.8 957h.1M903.5 980.2h.1M902.2 1007.5h.1M881 1028.9h.1M902.2 1039.8h.1M769.6 1010.8h.1M767.8 1074.6h.1M772 1077.6h.1M906.9 1076.9h.1M900.4 1088h.1M881 1099.2h.1M908.1 1102.4h.1M897 1109.6h.1M771.2 1121.6h.1M767.2 1127.4h.1M907.6 1134.4h.1M767.2 1169.2h.1M895.2 1174.3h.1M881 1185h.1M887.2 1201.2h.1M771.2 1208.6h.1M765.5 1211.4h.1M774.7 1210.5h.1M893 1211.4h.1M895.2 1220.7h.1M886.1 1223.7h.1M875.6 1228.3h.1M883.7 1230.6h.1M895.2 1229.5h.1M909.7 1224.4h.1M910.4 1235.3h.1M944.5 1066.7h.1M972.2 1084.5h.1M995.5 1083.8h.1M997.8 1088h.1M936.6 1118.6h.1M944 1132.5h.1M938.9 1140.2h.1M970.7 1131.4h.1M995.8 1149h.1M937.5 1159.4h.1M944.5 1158.1h.1M940.6 1191.9h.1M946.8 1192.4h.1M938.2 1208.6h.1M971.4 1203.3h.1M997.8 1201.2h.1M941.7 1223.7h.1M944 1230.6h.1M1006 1229.9h.1M1092.9 1041.2h.1M1092.9 1056h.1M1092.9 1089.9h.1M1085.5 1159.9h.1M1096.5 1161.8h.1M1092.5 1197.5h.1M1087.8 1203.5h.1M1096.4 1209.8h.1M1102.2 1219h.1M1071 1223h.1M1141.2 1057.4h.1M1141.2 1093.1h.1M1138.8 1097.8h.1M1139.5 1113.1h.1M1138 1127.4h.1M1137.7 1155.7h.1M1138.8 1164.5h.1M1137 1165.7h.1M1196.8 1059h.1M1195 1069.9h.1M1215.4 1069.9h.1M1197.2 1131.4h.1M1195.7 1159.4h.1M1193.2 1171h.1M1195.2 1234.6h.1M1348.2 935h.1M1387.9 947.7h.1M1508.2 933.1h.1M1509.7 946.1h.1M1317.2 963.9h.1M1292.5 972.8h.1M1346.2 976.7h.1M1317.2 996.4h.1M1384.2 1008.7h.1M1387.7 1021.9h.1M1479.2 1017.7h.1M1509.7 1014.3h.1M1506 1041.2h.1M1522.4 1044h.1M1344.2 1046.3h.1M1344.2 1054.4h.1M1319.2 1052.1h.1M1314.5 1055.6h.1M1380.2 1053.9h.1M1344.2 1076.4h.1M1350.5 1079.2h.1M1387.7 1082.7h.1M1507.8 1078.7h.1M1506 1085.2h.1M1545.5 1075.3h.1M1292 1098.5h.1M1292.5 1106.1h.1M1321 1100.8h.1M1385.5 1099.2h.1M1290.5 1124h.1M1321 1129.8h.1M1506.2 1125.6h.1M1587 1109.6h.1M1578 1132.8h.1M1353 1147.2h.1M1389.5 1143.7h.1M1489.7 1143.7h.1M1507.8 1141.8h.1M1524 1149.5h.1M1522.2 1155.3h.1M1574.4 1151.1h.1M1319.2 1161.1h.1M1342.5 1165.2h.1M1385.5 1170.8h.1M1464.9 1170.8h.1M1543.8 1166.9h.1M1520.5 1172.2h.1M1535.5 1175h.1M1532.2 1180.8h.1M1709.5 1159.4h.1M1292 1171.5h.1M1290.2 1180.1h.1M1315.2 1172.2h.1M1329.9 1185h.1M1353 1189.6h.1M1378.4 1186.6h.1M1389.5 1195.9h.1M1513 1188.9h.1M1524 1191.2h.1M1579.7 1186.6h.1M1601.2 1182.6h.1M1603.4 1189.6h.1M1315.2 1197h.1M1352.4 1198.2h.1M1355.9 1199.8h.1M1323 1206.3h.1M1490 1206.3h.1M1543.8 1206.3h.1M1570.9 1204.7h.1M1709.5 1195.9h.1M1304.4 1210.9h.1M1302.5 1216.7h.1M1313.7 1217.4h.1M1349.7 1213.7h.1M1365.9 1213.7h.1M1383.7 1214.4h.1M1393 1217.2h.1M1400 1217.2h.1M1474.2 1210.5h.1M1478.8 1210.5h.1M1513 1215.6h.1M1531 1217.9h.1M1535.5 1223h.1M1585 1209.8h.1M1601.7 1210.2h.1M1578.5 1217.4h.1M1329.9 1217.9h.1M1324 1223.7h.1M1342.5 1225.5h.1M1349.7 1227.2h.1M1380.2 1222.5h.1M1377.9 1227.2h.1M1488 1221.4h.1M1468.4 1228.3h.1M1490.4 1229.5h.1M1518.7 1231.3h.1M1579.7 1228.3h.1M1589 1228.3h.1M1605.2 1231.3h.1M1707.7 1228.3h.1M1391.2 1232.3h.1M1321 1234.1h.1M1353.5 1235.3h.1M1383.7 1236.4h.1M1767 1057.2h.1M2024 1020.8h.1"/>
<text x="1747.2" y="1030" style="fill:#f00">Mean: 2.09 TECU</text><text x="1747.2" y="1119.8" style="fill:#00f">Mean: 3.18 TECU</text>
<path class="a" d="M232.7 927.7H2354.6V1692.8H232.7ZM332.3 1692.8v-23.5M734.2 1692.8v-23.5M1136.2 1692.8v-23.5M1530.5 1692.8v-23.5M1926.5 1692.8v-23.5M2260.8 1692.8v-23.5M232.7 1080.7h22.5M232.7 1233.7h22.5M232.7 1386.8h22.5M232.7 1539.8h22.5"/>
<text x="217.5" y="81.6" text-anchor="end">20</text>
<text x="217.5" y="209.2" text-anchor="end">15</text>
<text x="217.5" y="336.8" text-anchor="end">10</text>
<text x="217.5" y="464.4" text-anchor="end">5</text>
<text x="217.5" y="592.0" text-anchor="end">0</text>
<text x="217.5" y="719.6" text-anchor="end">-5</text>
<text x="217.5" y="847.2" text-anchor="end">-10</text>
<text x="217.5" y="952.7" text-anchor="end">10</text>
<text x="217.5" y="1105.7" text-anchor="end">8</text>
<text x="217.5" y="1258.7" text-anchor="end">6</text>
<text x="217.5" y="1411.8" text-anchor="end">4</text>
<text x="217.5" y="1564.8" text-anchor="end">2</text>
<text x="217.5" y="1702.5" text-anchor="end">0</text>
<text x="304.5" y="1767" text-anchor="middle">2009-001</text>
<text x="706.4" y="1767" text-anchor="middle">2011-001</text>
<text x="1108.4" y="1767" text-anchor="middle">2013-001</text>
<text x="1502.7" y="1767" text-anchor="middle">2015-001</text>
<text x="1898.7" y="1767" text-anchor="middle">2017-001</text>
<text x="2233.0" y="1767" text-anchor="middle">2019-001</text>
<text x="1286.7" y="1869" text-anchor="middle">Time [Year-DOY]</text>
<text transform="translate(83.3 440) rotate(-90)" text-anchor="middle">bias [TECU]</text>
<text transform="translate(83.3 1311.3) rotate(-90)" text-anchor="middle">STD [TECU]</text>
</svg></body></html>
